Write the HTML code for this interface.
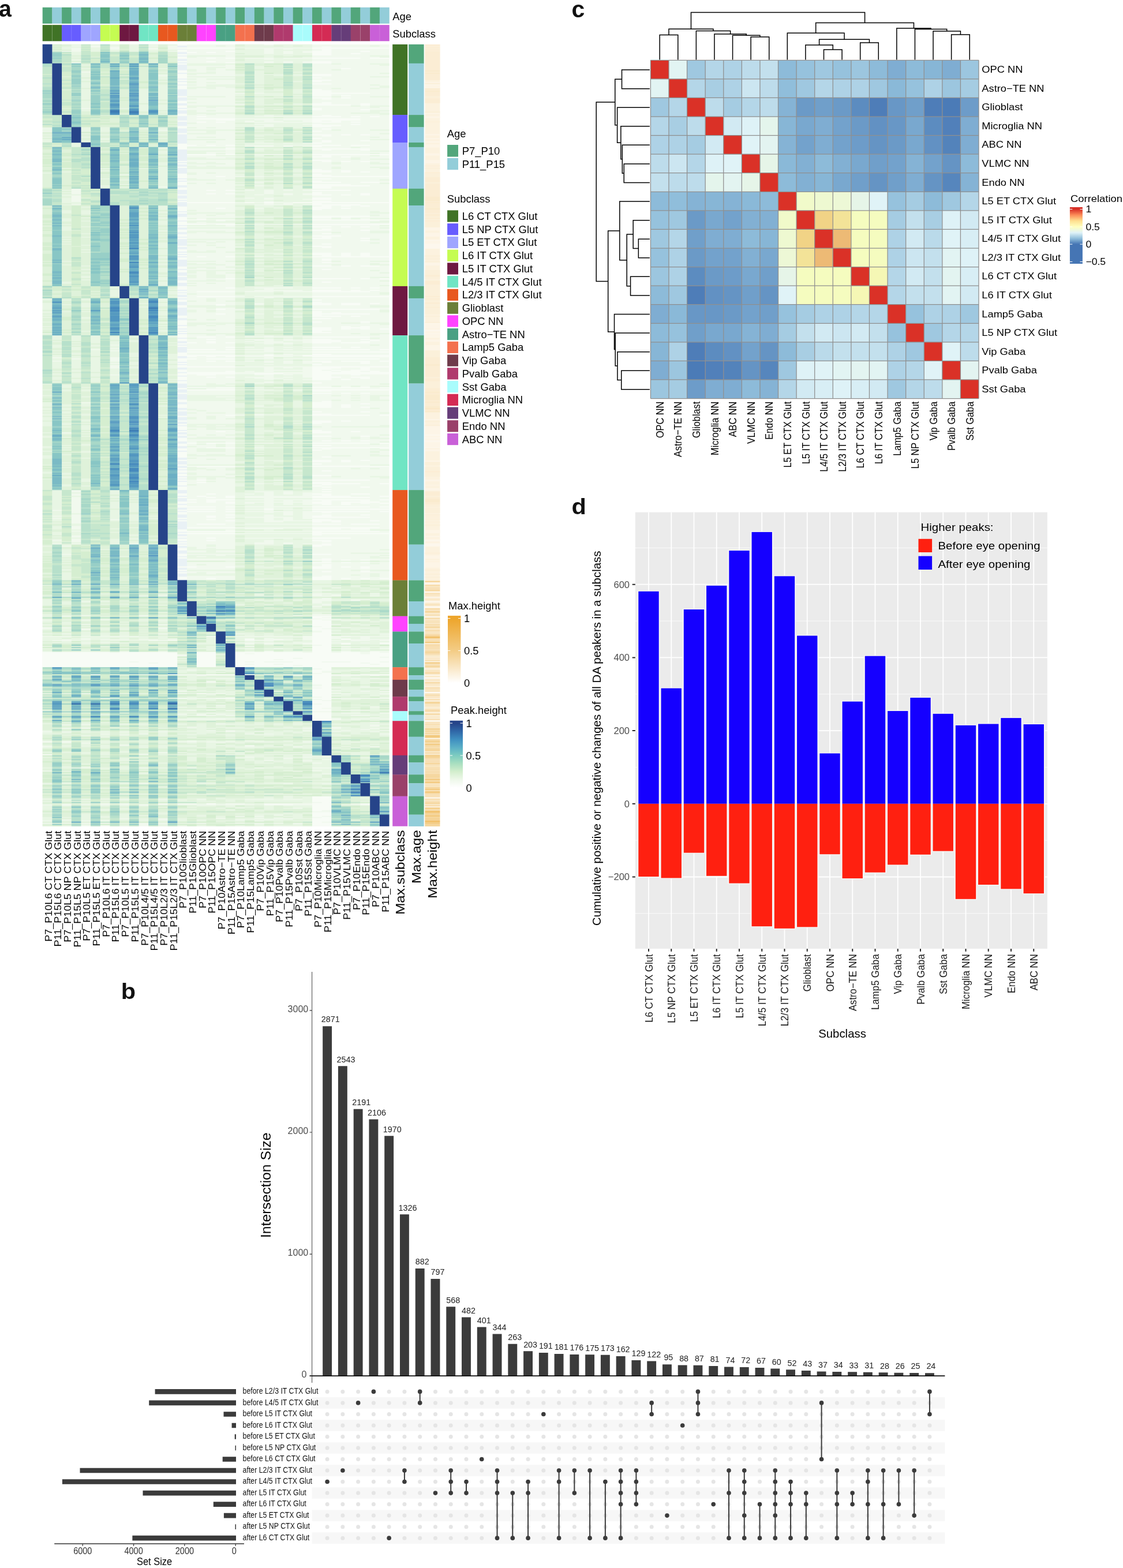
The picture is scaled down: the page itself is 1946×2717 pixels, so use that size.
<!DOCTYPE html>
<html lang="en"><head><meta charset="utf-8"><title>Figure</title>
<style>
html,body{margin:0;padding:0;background:#fff}
body{width:1946px;height:2717px;overflow:hidden}
svg{display:block}
text{font-family:"Liberation Sans",sans-serif}
</style></head><body>
<svg width="1946" height="2717" viewBox="0 0 1946 2717">
<rect width="1946" height="2717" fill="#fff"/>
<g id="pa">
<text transform="translate(-1.9 29.2) scale(0.96 1)" font-size="41" font-weight="bold" fill="#111">a</text>
<rect x="73.7" y="12.8" width="16.89" height="28.1" fill="#52a67b"/>
<rect x="73.7" y="43.2" width="16.89" height="28.1" fill="#407326"/>
<rect x="90.39" y="12.8" width="16.89" height="28.1" fill="#93cdd9"/>
<rect x="90.39" y="43.2" width="16.89" height="28.1" fill="#407326"/>
<rect x="107.08" y="12.8" width="16.89" height="28.1" fill="#52a67b"/>
<rect x="107.08" y="43.2" width="16.89" height="28.1" fill="#675dff"/>
<rect x="123.77" y="12.8" width="16.89" height="28.1" fill="#93cdd9"/>
<rect x="123.77" y="43.2" width="16.89" height="28.1" fill="#675dff"/>
<rect x="140.46" y="12.8" width="16.89" height="28.1" fill="#52a67b"/>
<rect x="140.46" y="43.2" width="16.89" height="28.1" fill="#9fa5ff"/>
<rect x="157.15" y="12.8" width="16.89" height="28.1" fill="#93cdd9"/>
<rect x="157.15" y="43.2" width="16.89" height="28.1" fill="#9fa5ff"/>
<rect x="173.84" y="12.8" width="16.89" height="28.1" fill="#52a67b"/>
<rect x="173.84" y="43.2" width="16.89" height="28.1" fill="#c5fc52"/>
<rect x="190.53" y="12.8" width="16.89" height="28.1" fill="#93cdd9"/>
<rect x="190.53" y="43.2" width="16.89" height="28.1" fill="#c5fc52"/>
<rect x="207.22" y="12.8" width="16.89" height="28.1" fill="#52a67b"/>
<rect x="207.22" y="43.2" width="16.89" height="28.1" fill="#6e1841"/>
<rect x="223.91" y="12.8" width="16.89" height="28.1" fill="#93cdd9"/>
<rect x="223.91" y="43.2" width="16.89" height="28.1" fill="#6e1841"/>
<rect x="240.6" y="12.8" width="16.89" height="28.1" fill="#52a67b"/>
<rect x="240.6" y="43.2" width="16.89" height="28.1" fill="#70e5c4"/>
<rect x="257.29" y="12.8" width="16.89" height="28.1" fill="#93cdd9"/>
<rect x="257.29" y="43.2" width="16.89" height="28.1" fill="#70e5c4"/>
<rect x="273.98" y="12.8" width="16.89" height="28.1" fill="#52a67b"/>
<rect x="273.98" y="43.2" width="16.89" height="28.1" fill="#e8581f"/>
<rect x="290.67" y="12.8" width="16.89" height="28.1" fill="#93cdd9"/>
<rect x="290.67" y="43.2" width="16.89" height="28.1" fill="#e8581f"/>
<rect x="307.36" y="12.8" width="16.89" height="28.1" fill="#52a67b"/>
<rect x="307.36" y="43.2" width="16.89" height="28.1" fill="#6b7f38"/>
<rect x="324.05" y="12.8" width="16.89" height="28.1" fill="#93cdd9"/>
<rect x="324.05" y="43.2" width="16.89" height="28.1" fill="#6b7f38"/>
<rect x="340.74" y="12.8" width="16.89" height="28.1" fill="#52a67b"/>
<rect x="340.74" y="43.2" width="16.89" height="28.1" fill="#ff43ff"/>
<rect x="357.43" y="12.8" width="16.89" height="28.1" fill="#93cdd9"/>
<rect x="357.43" y="43.2" width="16.89" height="28.1" fill="#ff43ff"/>
<rect x="374.12" y="12.8" width="16.89" height="28.1" fill="#52a67b"/>
<rect x="374.12" y="43.2" width="16.89" height="28.1" fill="#49a083"/>
<rect x="390.81" y="12.8" width="16.89" height="28.1" fill="#93cdd9"/>
<rect x="390.81" y="43.2" width="16.89" height="28.1" fill="#49a083"/>
<rect x="407.5" y="12.8" width="16.89" height="28.1" fill="#52a67b"/>
<rect x="407.5" y="43.2" width="16.89" height="28.1" fill="#f3714e"/>
<rect x="424.19" y="12.8" width="16.89" height="28.1" fill="#93cdd9"/>
<rect x="424.19" y="43.2" width="16.89" height="28.1" fill="#f3714e"/>
<rect x="440.88" y="12.8" width="16.89" height="28.1" fill="#52a67b"/>
<rect x="440.88" y="43.2" width="16.89" height="28.1" fill="#6e3b4b"/>
<rect x="457.57" y="12.8" width="16.89" height="28.1" fill="#93cdd9"/>
<rect x="457.57" y="43.2" width="16.89" height="28.1" fill="#6e3b4b"/>
<rect x="474.26" y="12.8" width="16.89" height="28.1" fill="#52a67b"/>
<rect x="474.26" y="43.2" width="16.89" height="28.1" fill="#b03a6d"/>
<rect x="490.95" y="12.8" width="16.89" height="28.1" fill="#93cdd9"/>
<rect x="490.95" y="43.2" width="16.89" height="28.1" fill="#b03a6d"/>
<rect x="507.64" y="12.8" width="16.89" height="28.1" fill="#52a67b"/>
<rect x="507.64" y="43.2" width="16.89" height="28.1" fill="#a9fcfc"/>
<rect x="524.33" y="12.8" width="16.89" height="28.1" fill="#93cdd9"/>
<rect x="524.33" y="43.2" width="16.89" height="28.1" fill="#a9fcfc"/>
<rect x="541.02" y="12.8" width="16.89" height="28.1" fill="#52a67b"/>
<rect x="541.02" y="43.2" width="16.89" height="28.1" fill="#d42b54"/>
<rect x="557.71" y="12.8" width="16.89" height="28.1" fill="#93cdd9"/>
<rect x="557.71" y="43.2" width="16.89" height="28.1" fill="#d42b54"/>
<rect x="574.4" y="12.8" width="16.89" height="28.1" fill="#52a67b"/>
<rect x="574.4" y="43.2" width="16.89" height="28.1" fill="#663d79"/>
<rect x="591.09" y="12.8" width="16.89" height="28.1" fill="#93cdd9"/>
<rect x="591.09" y="43.2" width="16.89" height="28.1" fill="#663d79"/>
<rect x="607.78" y="12.8" width="16.89" height="28.1" fill="#52a67b"/>
<rect x="607.78" y="43.2" width="16.89" height="28.1" fill="#9a416a"/>
<rect x="624.47" y="12.8" width="16.89" height="28.1" fill="#93cdd9"/>
<rect x="624.47" y="43.2" width="16.89" height="28.1" fill="#9a416a"/>
<rect x="641.16" y="12.8" width="16.89" height="28.1" fill="#52a67b"/>
<rect x="641.16" y="43.2" width="16.89" height="28.1" fill="#c960d8"/>
<rect x="657.85" y="12.8" width="16.89" height="28.1" fill="#93cdd9"/>
<rect x="657.85" y="43.2" width="16.89" height="28.1" fill="#c960d8"/>
<path d="M90.39 43.2v28.1M123.77 43.2v28.1M157.15 43.2v28.1M190.53 43.2v28.1M223.91 43.2v28.1M257.29 43.2v28.1M290.67 43.2v28.1M324.05 43.2v28.1M357.43 43.2v28.1M390.81 43.2v28.1M424.19 43.2v28.1M457.57 43.2v28.1M490.95 43.2v28.1M524.33 43.2v28.1M557.71 43.2v28.1M591.09 43.2v28.1M624.47 43.2v28.1M657.85 43.2v28.1" stroke="#fff" stroke-width="0.7" opacity="0.22" fill="none"/>
<text transform="translate(680.3 34.8) scale(0.97 1)" font-size="19">Age</text>
<text transform="translate(680.3 65) scale(0.97 1)" font-size="19">Subclass</text>
<rect x="73.7" y="76.9" width="600.84" height="1354.8" fill="#f1f9ee"/>
<g transform="translate(73.7 0) scale(16.69 1)" fill="none" stroke-width="2.3">
<path stroke="#e9f1f5" d="M14 79.7h1m-1 1.9h1m-1 3.8h1m-1 5.6h1m-1 2h1m-1 4h1m-1 5.9h1m-1 2h1m-1 3.9h1m-1 4h1m-1 2.1h1m-1 2h1m-1 2h1m-1 2.1h1m-1 6.1h1m-1 10.1h1m-1 4.1h1m-1 6h1m-1 8.2h1m-1 2h1m-1 2h1m-1 2.1h1m-1 2h1m-1 2h1m-1 4.1h1m-1 2h1m-1 2h1m-1 6.1h1m-1 2h1m-1 6.1h1m-1 4.1h1m-1 2h1m-1 2.1h1m-1 5.9h1m-1 1.9h1m-1 2h1m-1 1.9h1m-1 3.9h1m-1 1.9h1m-1 2h1m-1 1.9h1m-1 6h1m-1 2h1m-1 2.1h1m-1 2h1m-1 4.1h1m-1 2h1m-1 2.1h1m-1 2h1m-1 2.1h1m-1 2h1m-1 2.1h1m-1 2h1m-1 11.9h1m-1 2h1m-1 2h1m-1 2h1m-1 2h1m-1 2h1m-1 2h1m-1 2h1m-1 2h1m-1 2h1m-1 4h1m-1 4h1m-1 2h1m-1 4h1m-1 2h1m-1 2h1m-1 2h1m-1 2h1m-1 10h1m-1 4h1m-1 8h1m-1 2h1m-1 5.9h1m-1 2h1m-1 1.9h1m-1 1.9h1m-1 3.9h1m-1 1.9h1m-1 2h1m-1 3.9h1m-1 3.8h1m-1 2h1m-1 1.9h1m-1 2h1m-1 10h1m-1 4h1m-1 2h1m-1 2h1m-1 8h1m-1 8h1m-1 4h1m-1 2h1m-1 6h1m-1 2h1m-1 6h1m-1 4h1m-1 2h1m-1 2h1m-1 2h1m-1 2h1m-1 2h1m-1 3.9h1m-1 2h1m-1 6h1m-1 4h1m-1 4h1m-1 6h1m-1 2h1m-1 2h1m-1 2h1m-1 2h1m-1 2h1m-1 6h1m-1 6h1m-1 2h1m-1 2h1m-1 4h1m-1 2h1m-1 2h1m-1 6h1m-1 2h1m-1 2h1m-1 8.3h1m-1 4.2h1m-1 4.2h1m-1 2.2h1m-1 4.1h1m-1 6h1m-1 2h1m-1 2h1m-1 6.1h1m-1 2h1m-1 2h1m-1 2h1m-1 2h1m-1 2h1m-1 2h1m-1 6h1m-1 2h1m-1 10h1m-1 6.1h1m-1 4h1m-1 4h1m-1 8h1m-1 5.9h1m-1 2h1m-1 4h1m-1 4h1m-1 1.9h1m-1 2h1m-1 2h1m-1 2h1m-1 7.9h1m-1 2h1m-1 8h1m-1 3.9h1m-1 6h1m-1 2h1m-1 5.9h1m-1 6h1m-1 7.9h1m-1 6h1m-1 2h1m-1 2h1m-1 2h1m-1 4h1m-1 2h1m-1 2h1m-1 4.1h1m-1 2h1m-1 2h1m-1 2h1m-1 2h1m-1 6h1m-1 2h1m-1 8h1m-1 2h1m-1 4.1h1m-1 2h1m-1 2h1m-1 2h1m-1 4h1m-1 2h1m-1 2h1m-1 4h1m-1 2h1m-1 4h1m-1 8.1h1m-1 4h1m-1 2h1m-1 4h1m-1 2h1m-1 8h1m-1 2h1m-1 6.1h1m-1 2h1m-1 6h1m-1 12h1m-1 2h1m-1 4h1m-1 2h1m-1 2.1h1m-1 4h1m-1 2h1m-1 4h1m-1 6h1m-1 6h1m-1 4h1m-1 4.1h1m-1 8h1m-1 8h1m-1 2h1m-1 2h1m-1 6.1h1m-1 4h1m-1 2h1m-1 2h1m-1 6h1m-1 6.1h1m-1 2h1m-1 4h1m-1 6h1m-1 2h1m-1 2.1h1m-1 4h1m-1 4h1m-1 2h1m-1 2h1m-1 2h1m-1 2h1m-1 2h1m-1 2.1h1m-1 6h1m-1 4h1m-1 2h1m-1 4h1m-1 6.1h1m-1 4h1m-1 4h1m-1 2h1m-1 6h1m-1 2h1m-1 2h1m-1 6h1m-1 4h1m-1 2h1m-1 2h1m-1 1.9h1m-1 2h1m-1 2h1m-1 2h1m-1 4h1m-1 2h1m-1 4h1m-1 4h1m-1 2h1m-1 2h1m-1 6h1"/>
<path stroke="#f8fcf6" d="M14 77.8h1m14 3.8h1m-16 1.9h6m8 0h8m-7 1.9h1m-16 1.8h1m14 0h1m-16 1.9h1m4 0h1m8 0h2m3 0h1m-19 1.9h1m1 0h1m10 0h2m-2 2h2m2 0h1m-19 2h1m13 0h2m-16 3.9h1m-1 2h1m2 0h1m1 0h1m8 0h5m1 0h2m-22 5.9h1m2 0h1m10 0h2m-11 2h1m8 0h2m-16 2h1m16 8.1h1m-18 4.1h1m-1 2h1m-1 4.1h1m13 0h2m-16 2h1m13 0h2m-16 2h1m-1 2.1h1m13 0h1m-15 4h1m13 0h2m-2 2.1h1m-15 2h1m-1 2h1m13 0h2m-16 4.1h1m-1 2h1m-1 2h1m13 2.1h1m-1 2h2m-2 2h2m-2 2.1h6m-6 2h2m-2 2h2m1 0h1m-18 2h1m13 2.1h2m1 0h1m-3 2h1m-16 4.1h1m-1 2h1m14 0h1m-2 2h2m3 0h1m-6 2h4m1 0h1m-20 2.1h1m-1 2h1m13 2h1m-15 2.1h1m13 0h1m4 0h1m-20 8.1h1m-1 2h1m14 0h1m-14 1.9h1m11 0h3m1 0h1m1 0h1m-19 3.9h4m8 0h5m-15 1.9h2m8 0h5m-19 2h1m13 0h1m1 0h1m-15 1.9h1m1 0h1m9 0h3m1 0h1m-5 3.9h1m3 0h1m-5 1.9h3m-17 1.9h1m13 0h2m-16 2h1m14 2.1h1m-2 4.1h1m-15 4.1h1m13 2h2m1 0h1m1 0h1m-5 2h1m-2 4.1h1m0 4.1h1m3 0h1m-5 2.1h1m-2 2h1m-15 2h1m-1 1.9h2m1 0h1m1 0h1m8 0h3m1 0h2m-20 2h1m13 0h1m-15 2h1m-1 2h1m4 0h1m8 0h6m-5 2h1m3 0h1m-19 8h3m1 0h1m8 0h8m-7 2h1m-2 2h2m1 0h1m-4 6h2m-16 2h1m14 0h1m1 0h1m1 0h1m-20 4h1m-1 6h1m13 4h1m-1 2h2m1 0h1m-4 2h2m1 0h1m1 0h1m-20 4h1m13 0h1m-15 2h1m13 0h2m-16 2h1m3 0h1m9 0h8m-22 2h1m13 2h2m-16 2h1m13 2h1m-15 2h1m13 0h3m2 0h2m-21 2h1m-1 2h1m13 0h4m-4 2h6m-6 2h2m-16 2h1m13 0h2m-16 2h1m2 1.9h1m1 0h1m8 0h4m-4 3.9h1m-12 1.9h1m1 0h1m8 0h1m4 0h1m-20 2h1m13 0h2m1 0h1m1 0h1m-6 5.8h2m-16 1.9h1m13 0h2m-16 3.9h1m13 0h2m-15 1.9h5m1 0h1m1 0h1m2 0h10m-8 2h1m-1 1.9h5m-4 2h1m1 0h1m1 0h1m-20 2h1m13 0h2m-16 2h1m3 0h1m9 0h2m1 0h1m-18 2h1m13 0h1m-15 2h1m-1 4h1m13 6h6m-20 2h1m13 0h2m1 0h1m-18 2h1m-1 2h3m1 0h2m8 0h8m-22 4h1m-1 2h1m-1 2h3m1 0h2m8 0h8m-22 4h1m13 0h2m1 0h1m1 0h1m-5 4h1m-16 2h1m13 0h2m3 0h1m-20 2h1m14 4h1m-16 2h1m-1 2h1m13 0h3m-2 2h1m-16 2h1m13 0h2m3 0h1m-1 4h1m-5 6h1m-16 3.9h1m13 0h2m-1 2h1m-16 4h1m-1 2h1m-1 4h1m13 0h2m1 0h1m1 0h1m-6 2h2m1 0h1m1 0h1m-20 2h1m14 0h1m1 0h1m1 0h1m-18 2h1m2 0h1m8 0h8m-22 2h1m-1 2h1m14 0h1m-1 2h1m-1 4h1m-2 6h2m1 0h1m1 0h2m-21 2h1m-1 2h1m14 2h1m-16 2h1m-1 2h1m-1 8h1m4 4h1m8 0h4m1 0h1m1 0h1m-22 4h1m-1 2h1m14 0h1m-16 8h1m-1 2.1h1m4 0h1m8 0h3m1 0h1m1 0h1m-21 2.1h1m13 2.1h3m1 0h1m1 0h1m-21 2.1h1m1 0h4m8 0h6m-20 4.2h1m1 4.3h4m8 0h8m-22 2.1h1m-1 4h1m13 0h1m-15 2h1m13 2h1m-1 2h2m1 0h2m1 0h1m-17 2h1m9 0h2m1 0h2m-19 2h1m-1 2h1m3 4.1h1m9 0h7m-7 4h1m-1 2h1m1 0h1m-13 2h1m9 0h6m-6 2h1m-15 2h1m13 0h3m1 0h1m-19 2h1m13 2h2m-16 4h1m-1 2h1m13 0h1m4 0h1m-20 2h1m-1 2h1m-1 4.1h1m16 0h1m1 0h1m-20 2h1m13 0h2m1 0h3m-6 2h2m1 0h1m1 0h1m1 0h1m-22 2h1m13 0h2m-2 2h1m-15 2h1m13 0h2m-16 4h1m-1 2h1m-1 2h1m1 0h2m1 0h1m8 0h6m-20 4h1m2 0h1m10 0h2m3 0h1m-20 1.9h1m13 0h3m3 0h1m-18 2h1m10 0h3m2 0h1m-19 2h1m1 0h1m1 0h1m8 0h2m1 0h3m-20 2h1m-1 4h1m4 2h1m8 0h3m1 0h1m-18 3.9h3m1 0h1m8 0h6m1 0h1m-21 4h5m8 0h8m-22 2h1m-1 2h1m13 0h2m-16 2h6m3 0h1m3 0h9m-21 1.9h1m1 0h1m1 0h1m8 0h8m-22 4h2m1 0h3m8 0h7m-21 2h1m-1 2h1m2 0h1m1 0h1m8 0h2m1 0h3m1 0h1m-7 2h1m3 0h1m-20 2h1m18 0h1m-6 1.9h1m-15 2h1m-1 2h6m8 0h8m-8 2h3m2 0h1m-6 2h2m3 0h1m-20 2h1m13 0h1m1 0h1m1 0h2m-20 1.9h1m4 0h1m8 0h2m1 0h2m1 0h1m-20 2h5m8 0h8m-22 2h6m2 0h3m3 0h8m-22 2h1m1 0h2m10 0h2m2 0h1m-5 2h2m-16 2h1m2 0h1m1 0h1m8 0h3m1 0h2m-20 2h1m13 0h2m3 0h1m-20 1.9h1m13 0h2m1 0h1m-18 4h1m-1 2h1m13 0h1m-14 8h2m1 0h2m8 0h6m1 0h1m-22 2h1m0 2h5m8 0h8m-8 2h2m-16 4.1h1m13 0h2m1 0h1m1 0h1m-20 12h1m-1 2h1m14 0h1m-2 2h2m-2 2h2m3 0h1m-20 2h1m13 0h2m1 0h1m-18 2h1m13 0h2m1 0h1m-18 2h1m13 0h2m1 0h1m1 0h1m-20 6.1h1m13 2h1m4 0h1m-6 4h2m-11 2h1m8 0h6m1 0h1m-22 2h1m-1 8h1m13 0h2m1 0h1m-4 2h2m-2 2h1m-15 2h1m-1 4h1m-1 2.1h1m-1 2h1m13 2h1m-15 2h1m3 0h1m9 0h2m2 0h1m-5 2h2m-16 4h1m13 2h2m3 0h1m-20 4h1m-1 2h1m-1 2h1m14 0h1m1 0h1m1 0h1m-19 4h1m1 0h3m8 0h6m1 0h1m-22 2h1m-1 2h1m13 0h2m-13 4.1h3m8 0h8m-22 2h1m14 0h1m-16 2h1m13 0h1m-15 4h1m-1 2h1m-1 2h1m-1 2h1m-1 2h1m14 0h1m-16 6h1m13 0h2m1 0h1m1 0h1m-6 2h2m1 0h1m-4 4.1h1m-15 2h1m0 2h5m8 0h8m-22 4h1m-1 4h1m14 0h1m-16 2h1m-1 4h1m-1 2h1m13 0h2m-16 4h1m-1 4h1m1 0h1m11 0h6m-20 4.1h1m1 0h1m11 0h2m-16 2h1m13 0h5m2 0h1m-22 2h1m14 0h1m-2 2h1m-15 2h1m14 0h1m3 0h1m-20 2h1m-1 2h1m14 0h1m-1 4h1m-16 4h1m2 0h1m10 0h2m2 0h2m-20 2h1m14 0h1m-14 2.1h1m2 0h1m8 0h4m3 0h1m-22 2h1m2 0h1m1 0h1m8 0h6m-19 4h1m1 0h3m8 0h6m1 0h1m-19 2h1m11 0h1m3 0h1m-20 2h2m1 0h1m1 0h1m8 0h2m1 0h4m-21 2h1m4 0h1m8 0h2m1 0h1m1 0h1m1 0h1m-7 2h1m1 0h1m-18 2h1m-1 2.1h4m1 0h1m8 0h6m1 0h1m-21 4h3m1 0h1m3 0h1m4 0h8m-22 2h1m0 2h3m1 0h1m8 0h6m1 0h1m-22 2h1m14 0h1m-16 2h1m4 2h1m9 0h1m3 0h1m-17 2h1m10 0h2m-13 2.1h1m1 0h1m8 0h6m-20 2h1m2 2h1m10 0h2m-16 2h1m4 0h1m8 0h3m3 0h1m-7 2h1m1 0h1m-15 4h3m9 0h3m1 0h3m-20 6h5m8 0h7m-7 2.1h3m1 0h2m-20 2h1m-1 2h6m8 0h7m-7 2h1m-15 2h6m8 0h8m-8 2h1m-15 4h1m2 2h1m10 0h4m-18 2.1h1m-1 2h1m2 0h1m10 0h2m-1 2h1m-16 2h1m14 2h1m-16 2h1m13 0h2m-2 2h1m-15 4h1m-1 2h1m-1 8h1m13 0h2m-16 2h1m-1 4h1m14 2h1m-2 2h2m1 0h1m1 0h1m-6 3.9h2m1 0h1m1 0h1m-5 4h1m-1 2h1m-16 2h2m3 0h1m8 0h2m1 0h1m1 0h1m-6 2h2m3 0h1m-20 4h1m14 2h1m3 0h1m-20 2h1m14 6h1m-16 2h1m13 0h2m-16 2h1m2 0h1m10 0h2m1 0h1m1 0h1m1 0h1m-8 2h2m-2 64.1h2m-2 1.9h1m0 1.9h1m-2 1.9h1m-1 1.9h2m-2 1.9h2m-2 1.9h2m-2 1.9h2m-2 1.9h2m-1 1.9h1m-2 2h2m-2 1.9h1m-1 1.9h2m-1 1.9h1m-1 1.9h1m-2 1.8h2m-2 1.8h2m-2 1.8h2m-13 1.9h1m10 0h2m1 0h1m-4 1.9h2m-2 1.9h2m-9 1.9h1m2 0h1m3 0h2m1 0h1m-4 1.9h2m-2 1.9h2m-2 1.9h2m5 0h1m-8 2h2m1 0h1m-3 2.1h1m-2 2.1h2m-2 2h2m-2 2.1h2m-2 2h2m-2 2.1h2m-30 2.1h7m1 0h5m3 0h2m2 0h7m1 0h2m1 0h2m1 0h1m-35 2h14m2 0h2m2 0h1m1 0h11m1 0h2m-36 2.1h14m2 0h2m2 0h16m-36 2h14m2 0h2m2 0h16m-36 2.1h14m2 0h2m2 0h15m-35 2.1h14m2 0h2m2 0h6m1 0h9m-36 2h14m2 0h2m2 0h4m1 0h11m-36 2.1h14m2 0h2m2 0h16m-36 2h9m1 0h4m2 0h2m2 0h1m1 0h1m3 0h3m3 0h3m-35 2.1h11m1 0h2m2 0h2m2 0h13m1 0h2m-36 2h14m2 0h2m2 0h1m1 0h2m1 0h9m1 0h1m-36 2.1h14m2 0h2m2 0h6m1 0h9m-36 2.1h14m2 0h2m2 0h16m-8 2h2m-1 2h1m-2 2h2m-2 2h1m-1 1.9h1m0 2h1m-13 2h3m8 0h2m3 0h3m-8 2h2m-2 1.9h2m-2 2h2m-2 1.9h2m-2 2h2m-2 1.9h2m-2 1.9h2m-2 1.9h2m-1 2h1m-1 1.9h1m-2 1.9h2m-1 1.9h1m-2 1.9h2m-2 2h2m-2 2h2m-2 2h2m-14 2h1m11 0h2m-2 2h2m-2 2h2m-1 2h1m-16 2h1m3 0h2m8 0h2m-1 1.9h1m-2 2h1m-1 1.9h2m-2 1.9h2m-1 1.9h1m-2 2h2m-2 1.9h2m-2 1.8h2m-2 2h1m-1 1.8h2m-2 1.9h2m-2 4.3h2m-2 2.1h2m-2 2.2h2m-2 2.1h2m-2 2.1h2m-12 2h1m9 0h3m-3 2.2h2m-30 37.5h1m1 0h1m-3 22.1h1m27 72.9h2m-2 2h2m-2 2h2m-2 2h2m-2 2h2m-1 2h1m-13 2h1m10 0h2m-28 2h1m7 0h1m12 0h3m2 0h2m3 0h1m-6 1.9h2m-2 2h2m-2 2h2m-2 2h2m-2 2h1m-1 4h2m-2 2h2m-2 2h2m-2 2h1m0 2h1m-2 2h2m-2 2h2m-2 2.1h2m-2 2h1m-1 2h2m-2 2h2m-2 2h2"/>
<path stroke="#e8f6e4" d="M3 77.8h1m1 0h1m1 0h1m1 0h1m1 0h1m1 0h1m7 0h2m1 0h4m-21 1.9h1m1 0h1m8 0h1m2 0h3m1 0h1m1 0h1m6 0h1m-33 1.9h2m5 0h1m1 0h1m8 0h8m-26 1.9h1m2 0h1m3 0h1m10 0h1m-19 1.9h1m2 0h1m3 0h1m11 0h2m1 0h1m1 0h2m-23 1.8h1m1 0h1m1 0h1m1 0h1m1 0h1m6 0h3m1 0h4m-23 1.9h1m1 0h1m1 0h1m1 0h1m8 0h3m1 0h1m1 0h1m-24 1.9h1m16 0h3m1 0h1m1 0h1m-24 2h1m17 0h2m1 0h1m1 0h2m-25 2h1m16 0h8m-13 2h4m4 0h1m1 0h1m8 0h2m-33 1.9h1m11 0h1m7 0h1m3 0h1m7 0h1m-16 2h1m3 0h1m-22 2h1m17 0h2m1 0h4m-25 2h1m17 0h7m-8 1.9h3m1 0h1m1 0h1m-7 2h3m1 0h1m1 0h1m-12 2h5m10 0h1m3 0h2m-32 2h1m10 0h4m16 0h1m-14 2.1h1m-6 2h2m3 0h1m-19 2h1m7 0h1m4 0h1m4 0h1m-8 2.1h1m1 0h1m1 0h1m10 0h1m-27 2h1m10 0h1m6 0h1m-11 2h1m4 0h1m4 0h1m3 0h1m-23 2.1h1m10 0h3m4 0h1m12 0h1m-32 2h1m7 0h1m2 0h1m4 0h1m1 0h3m1 0h1m-23 2h1m15 0h1m1 0h1m1 0h1m1 0h1m-23 2h1m7 0h1m2 0h5m2 0h1m11 0h2m-24 2.1h1m9 0h1m-19 2h1m7 0h1m2 0h1m1 0h3m2 0h1m-19 2h1m17 0h1m-11 2.1h1m2 0h1m6 0h1m3 0h1m-23 2h1m10 0h1m1 0h1m4 0h1m-19 2h1m15 0h1m1 0h1m-19 2h1m7 0h1m2 0h1m1 0h3m14 0h1m-31 2.1h1m7 0h1m4 0h3m2 0h1m12 0h1m-32 2h1m7 0h1m2 0h3m1 0h1m15 0h1m-24 2h1m2 0h1m1 0h1m4 0h1m7 0h1m3 0h1m-31 2.1h1m5 0h1m1 0h1m7 0h1m1 0h1m1 0h1m1 0h1m-23 2h1m5 0h1m1 0h1m7 0h1m1 0h3m1 0h1m-23 2h1m5 0h1m1 0h1m9 0h1m3 0h1m-23 2.1h1m5 0h1m1 0h1m10 0h2m1 0h1m-23 2h1m5 0h1m1 0h1m7 0h1m1 0h3m-21 2h1m5 0h1m1 0h1m7 0h1m1 0h3m1 0h1m-23 2h1m5 0h1m1 0h1m2 0h4m11 0h1m3 0h2m-32 2.1h1m5 0h1m1 0h1m7 0h1m1 0h3m1 0h1m-23 2h1m5 0h1m1 0h1m2 0h1m6 0h1m-13 2h1m11 0h1m-19 2.1h1m5 0h1m1 0h1m7 0h1m1 0h1m-19 2h1m5 0h1m1 0h1m2 0h1m6 0h1m-19 2h1m15 0h1m1 0h1m1 0h1m1 0h1m-23 2h1m5 0h1m1 0h1m9 0h3m1 0h1m-23 2.1h1m5 0h1m1 0h1m2 0h5m12 0h1m1 0h2m-32 2h1m5 0h1m1 0h1m2 0h1m1 0h1m16 0h1m-27 2h1m1 0h1m1 0h1m7 0h1m1 0h1m-19 2.1h1m5 0h1m1 0h1m9 0h1m1 0h1m-21 2h1m5 0h1m4 0h1m1 0h1m16 0h2m-24 2h1m2 0h1m6 0h1m11 0h1m-20 2.1h5m12 0h4m-26 2h1m1 0h1m2 0h1m1 0h1m17 0h1m-16 2h3m1 0h4m-8 1.9h2m-2 1.9h4m1 0h3m-8 3.9h2m2 0h1m-5 2h1m1 0h1m2 0h2m-7 1.9h1m-6 1.9h1m6 0h6m-8 2h2m2 0h3m-7 1.9h3m1 0h4m-8 1.9h2m2 0h4m-28 2h1m3 0h1m1 0h1m5 0h1m2 0h1m1 0h1m4 0h1m3 0h1m-23 2.1h1m1 0h1m3 0h1m1 0h1m7 0h1m1 0h1m1 0h1m-25 2h1m3 0h1m1 0h1m8 0h5m10 0h1m3 0h2m-32 2.1h1m1 0h1m5 0h1m4 0h1m2 0h1m1 0h1m3 0h1m-10 2h1m-14 2.1h1m10 0h3m17 0h1m-36 2h1m5 0h1m5 0h1m7 0h1m1 0h3m-3 2h1m-23 2.1h1m3 0h1m11 0h2m16 0h1m-29 2h1m5 0h1m9 0h1m-23 2.1h1m5 0h1m8 0h4m15 0h2m-36 2h1m3 0h1m15 0h1m1 0h2m-24 2.1h1m3 0h1m1 0h1m10 0h1m4 0h1m-20 2h1m16 0h2m2 0h1m1 0h1m-24 2h1m17 0h7m-25 1.9h1m16 0h1m3 0h1m-22 2h1m17 0h1m2 0h1m2 0h1m-16 2h1m2 0h4m13 0h1m-21 2h1m7 0h1m2 0h2m1 0h1m-5 2h1m1 0h1m-13 2h1m2 0h4m3 0h1m11 0h2m-24 2h1m2 0h2m-5 2h1m2 0h2m1 0h1m15 0h1m-15 2h1m5 0h1m-9 2h2m2 0h1m11 0h1m-23 2h1m7 0h1m1 0h3m1 0h1m-12 2h2m2 0h1m12 0h1m-18 2h5m12 0h1m1 0h2m-14 2h1m1 0h1m-3 2h1m-11 2h1m2 0h1m1 0h1m12 0h1m3 0h1m-23 2h1m2 0h4m11 0h1m3 0h2m-24 2h1m9 0h1m-8 2h1m1 0h1m-6 2h1m2 0h5m10 0h1m3 0h2m-34 2h1m3 0h1m3 0h1m1 0h1m2 0h5m10 0h1m4 0h1m-24 2h1m9 0h1m3 0h1m-21 2h1m5 0h1m7 0h1m1 0h1m1 0h1m1 0h1m-25 2h1m9 0h1m7 0h1m1 0h3m1 0h1m-27 2h1m11 0h1m2 0h1m1 0h1m4 0h1m-15 2h1m3 0h1m2 0h1m4 0h1m1 0h1m3 0h1m-19 2h1m3 0h1m7 0h1m1 0h1m1 0h1m1 0h1m-15 2h1m10 0h2m1 0h1m-15 2h1m9 0h1m-17 2h1m5 0h1m2 0h1m6 0h1m-15 2h1m3 0h1m2 0h3m1 0h1m15 0h1m-24 2h1m9 0h3m1 0h1m-15 2h1m7 0h1m3 0h1m1 0h1m-15 2h1m2 0h1m1 0h1m4 0h1m12 0h1m-28 2h1m3 0h1m7 0h1m1 0h1m1 0h1m-19 2h1m5 0h1m7 0h1m2 0h2m1 0h1m-21 2h1m1 0h1m13 0h1m1 0h1m1 0h1m-15 2h1m7 0h1m1 0h1m1 0h1m1 0h1m-6 2h7m-26 1.9h1m17 0h1m1 0h1m1 0h1m1 0h1m-7 2h3m1 0h4m-26 1.9h1m18 0h2m1 0h4m-8 1.9h3m1 0h1m1 0h1m-25 2h2m16 0h2m1 0h2m1 0h1m-25 1.9h1m18 0h3m1 0h3m-7 1.9h7m-26 2h1m17 0h1m1 0h1m1 0h4m-26 1.9h1m17 0h3m1 0h3m-25 2h1m18 0h3m1 0h3m-26 1.9h1m18 0h2m1 0h4m-26 1.9h2m-1 2h1m16 0h3m1 0h1m1 0h2m-26 1.9h1m17 0h2m4 0h1m-15 2h1m9 0h2m2 0h1m-23 2h1m7 0h1m7 0h1m1 0h3m-13 2h1m7 0h1m3 0h1m1 0h1m-15 2h1m7 0h1m1 0h1m-21 2h1m1 0h1m10 0h1m6 0h1m-21 2h1m1 0h1m7 0h1m9 0h1m11 0h1m-33 2h1m1 0h1m7 0h1m2 0h5m14 0h2m-32 2h1m10 0h1m2 0h1m3 0h1m-11 2h1m4 0h1m16 0h1m-15 2h1m1 0h3m1 0h1m-23 2h1m7 0h1m7 0h1m1 0h2m2 0h1m-25 2h1m9 0h1m2 0h1m1 0h3m10 0h1m1 0h1m1 0h2m-34 2h1m17 0h1m3 0h1m1 0h1m-25 2h1m1 0h1m7 0h1m2 0h3m1 0h1m15 0h1m-24 2h1m2 0h1m1 0h3m14 0h2m-24 2h1m9 0h1m-21 2h1m9 0h1m2 2h4m3 0h1m12 0h1m-34 2h1m1 0h1m15 0h1m1 0h3m1 0h1m-25 2h1m9 0h1m2 0h5m2 0h1m12 0h1m-34 2h1m19 0h1m-21 2h1m9 0h1m7 0h1m1 0h2m-12 2h1m2 0h4m15 0h2m-21 2h1m1 0h3m10 0h1m3 0h2m-32 2h1m7 0h1m9 0h1m-1 2h1m-11 2h1m7 0h1m1 0h3m1 0h1m-25 2h1m1 0h1m15 0h1m1 0h2m2 0h1m-7 2h1m1 0h1m1 0h1m-23 2h1m9 0h1m2 0h5m14 0h1m-13 2h1m-21 2h1m12 0h2m1 0h1m3 0h1m-11 2h1m4 0h1m16 0h1m-33 2h1m9 0h1m7 0h1m1 0h1m-19 2h1m7 0h1m2 0h1m1 0h1m4 0h1m3 0h1m-15 1.9h1m7 0h1m1 0h1m-11 2h1m5 0h1m1 0h1m1 0h1m-1 2h1m-19 2h1m7 0h1m11 0h1m-13 2h1m2 0h1m1 0h1m4 0h1m-19 2h1m7 0h1m2 0h3m1 0h1m-8 2h1m7 0h1m1 0h3m1 0h1m-15 2h1m9 0h1m1 0h1m-3 2h1m-11 2h1m7 0h1m2 0h2m1 0h1m-15 2h1m9 2h1m1 0h1m-13 2h1m9 0h1m-21 2h1m9 0h1m2 0h3m1 0h1m10 0h1m3 0h2m-14 2h1m3 0h1m-15 2h1m2 0h1m1 0h1m4 0h1m11 0h1m-33 2h1m9 0h1m2 0h4m11 0h1m3 0h2m-32 2h1m15 0h1m1 0h3m1 0h1m-12 2h3m1 0h1m-8 2h1m2 0h1m1 0h1m4 0h1m-19 2h1m7 0h1m7 0h1m1 0h1m1 0h1m1 0h1m-15 2h1m2 0h5m2 0h1m11 0h1m-23 2h1m2 0h1m1 0h1m4 0h1m1 0h1m-21 2h1m10 0h1m1 0h1m1 0h1m15 0h1m-19 2h1m4 0h1m-11 2h1m2 0h1m1 0h2m-15 2h1m10 0h1m1 0h2m-15 2h1m7 0h1m2 0h1m1 0h2m3 0h1m11 0h2m-24 2h1m7 0h1m1 0h3m1 0h1m-23 2h1m7 0h1m4 0h1m-3 2h4m16 0h1m-34 2h1m9 0h1m9 0h1m-21 2h1m9 0h1m2 0h1m1 0h1m4 0h1m-11 2h1m9 0h1m-11 2h1m2 0h1m8 0h1m10 0h1m-15 2h7m-21 2.1h1m12 0h2m4 0h2m-15 2.1h1m6 0h3m1 0h4m-21 2.1h1m12 0h2m5 0h1m-21 2.1h1m5 0h1m6 0h1m3 0h1m-18 2.1h1m5 0h1m7 0h3m1 0h3m7 0h1m-29 2.1h1m5 0h1m1 0h1m5 0h3m1 0h3m7 0h1m-29 2.1h1m12 0h8m-21 2.2h1m5 0h1m7 0h1m-2 2.1h3m1 0h4m-28 2h1m3 0h1m7 0h1m4 0h1m4 0h1m-23 2h1m1 0h1m1 0h1m7 0h1m4 0h1m4 0h1m1 0h1m1 0h1m-15 2h1m2 0h1m1 0h1m1 0h1m2 0h1m-3 2h1m1 0h1m1 0h1m1 0h1m-27 2h1m3 0h1m5 0h1m1 0h1m7 0h1m3 0h1m1 0h1m-27 2h1m1 0h1m1 0h1m7 0h1m7 0h1m3 0h1m1 0h1m-27 2h1m3 0h1m7 0h1m2 0h3m1 0h1m14 0h2m-36 2h1m3 0h1m5 0h1m4 0h5m14 0h2m-36 2.1h1m16 0h1m4 0h1m3 0h1m-27 2h1m3 0h1m7 0h1m10 0h2m-10 2h1m1 0h1m2 0h1m1 0h1m12 0h1m-36 2h1m1 0h1m1 0h1m7 0h1m2 0h1m1 0h1m4 0h1m1 0h1m10 0h1m-36 2h1m11 0h1m7 0h1m1 0h1m1 0h1m1 0h1m-15 2h1m7 0h1m3 0h1m1 0h1m-27 2h1m11 0h1m7 0h1m1 0h1m-3 2h1m1 0h1m1 0h1m1 0h1m-27 2h1m3 0h1m7 0h1m7 0h1m1 0h1m1 0h1m1 0h1m-23 2h1m15 0h1m1 0h1m-8 2h1m1 0h1m4 2h1m-23 2h1m3 0h1m7 0h1m9 0h1m1 0h1m1 0h1m-15 2h1m2 0h5m11 0h2m1 0h2m-21 2h2m1 0h1m16 0h1m-24 2h1m2 0h1m1 0h1m4 0h1m-23 2.1h1m19 0h1m1 0h1m1 0h1m1 0h1m-15 2h1m9 0h1m-23 2h1m19 0h1m1 0h3m1 0h1m-15 2h1m4 0h1m4 0h1m1 0h1m-21 2h1m7 0h1m7 0h1m1 0h1m-1 2h1m-23 2h1m14 0h5m12 0h1m1 0h2m-19 2h1m1 0h1m2 0h1m11 0h1m-34 2h1m1 0h1m1 0h1m7 0h1m7 0h2m1 0h4m-27 2h1m1 0h1m1 0h1m1 0h1m1 0h1m3 0h1m6 0h1m5 0h1m-26 2h1m1 0h1m1 0h1m1 0h1m7 0h1m7 0h1m1 0h1m1 0h1m6 0h1m-34 2h1m1 0h1m1 0h1m1 0h1m12 0h1m3 0h1m1 0h1m-24 1.9h1m1 0h1m3 0h1m10 0h2m2 0h1m-24 2h1m3 0h1m1 0h1m1 0h1m10 0h1m1 0h1m2 0h2m-24 2h1m1 0h1m1 0h1m5 0h1m6 0h2m4 0h1m-20 2h1m13 0h2m1 0h1m1 0h2m-27 2h1m1 0h1m1 0h1m7 0h1m8 0h2m1 0h1m1 0h1m6 0h1m-34 2h1m3 0h1m1 0h1m13 0h7m-27 2h1m1 0h1m3 0h1m12 0h1m1 0h1m1 0h1m1 0h1m-24 1.9h1m1 0h1m15 0h2m1 0h4m-25 2h1m3 0h1m12 0h1m3 0h1m1 0h1m-26 2h1m3 0h1m15 0h2m1 0h4m-23 2h1m1 0h1m12 0h1m-20 2h1m1 0h1m1 0h1m1 0h1m1 0h1m11 0h3m1 0h3m-25 2h1m1 0h1m1 0h1m1 0h1m3 0h1m7 0h2m1 0h1m1 0h2m-27 2h1m3 0h1m1 0h1m1 0h1m3 0h1m-13 1.9h1m1 0h1m3 0h1m1 0h1m3 0h1m6 0h1m5 0h1m-24 2h1m1 0h1m7 0h1m7 0h2m2 0h3m-27 2h1m3 0h1m3 0h1m3 0h1m6 0h1m3 0h1m-24 2h1m1 0h1m1 0h1m15 0h1m1 0h3m1 0h1m-25 2h1m1 0h1m7 0h1m6 0h1m1 0h1m1 0h1m1 0h1m-26 2h1m1 0h1m1 0h1m1 0h1m1 0h1m3 0h1m6 0h3m1 0h1m1 0h1m-26 2h1m1 0h1m1 0h1m3 0h1m3 0h1m6 0h5m1 0h1m-26 1.9h1m1 0h1m1 0h1m1 0h1m1 0h1m10 0h3m1 0h4m-27 2h1m1 0h1m1 0h1m7 0h1m7 0h7m-27 2h1m1 0h1m1 0h1m3 0h1m3 0h1m-13 2h1m1 0h1m1 0h1m3 0h1m3 0h1m6 0h3m1 0h1m1 0h1m-22 2h1m1 0h1m12 0h3m1 0h3m-24 2h1m1 0h1m1 0h1m12 0h3m-22 1.9h1m1 0h1m1 0h1m1 0h1m12 0h1m1 0h1m1 0h3m-20 2h1m-7 2h1m1 0h1m1 0h1m1 0h1m-7 2h1m1 0h1m1 0h1m3 0h1m3 0h1m6 0h2m2 0h1m1 0h1m-24 2h1m1 0h1m1 0h1m12 0h3m1 0h3m-26 2h1m1 0h1m3 0h1m12 0h1m3 0h1m1 0h1m-26 2h1m3 0h1m1 0h1m12 0h2m3 0h3m-27 1.9h1m1 0h1m1 0h1m1 0h1m1 0h1m3 0h1m6 0h3m1 0h1m1 0h1m-24 2h1m1 0h1m1 0h1m13 0h3m1 0h3m-27 2h1m1 0h1m1 0h1m1 0h1m5 0h1m6 0h3m1 0h4m-8 2h2m2 0h3m-27 2h1m16 0h1m1 0h1m2 0h1m12 0h1m-34 2h1m14 0h2m-17 2h1m12 0h5m10 0h1m1 0h1m1 0h2m-34 2h1m1 0h1m15 0h1m2 0h1m2 0h1m-12 2h2m5 0h1m-23 2h1m1 0h1m1 0h1m15 0h2m2 0h1m-23 2h1m1 0h1m17 0h3m1 0h1m-5 2h1m-1 2.1h2m-2 2h1m-23 2h1m14 0h5m10 0h1m1 0h1m1 0h2m-32 2h1m10 0h3m4 0h1m11 0h1m-20 2h5m12 0h1m1 0h1m-20 2h4m3 0h1m11 0h1m-20 2h5m10 0h1m1 0h1m1 0h2m-14 2h2m2 0h1m-27 2h1m11 0h1m9 0h3m1 0h1m-27 2h1m3 0h1m15 0h1m1 0h3m1 0h1m-27 2h1m1 0h1m1 0h1m15 0h1m1 0h1m3 0h1m-27 2h1m1 0h1m1 0h1m7 0h1m7 0h1m3 0h1m1 0h1m-7 2h1m1 0h3m1 0h1m-27 2h1m1 0h1m31 0h1m-35 2h1m1 0h1m1 0h1m10 0h1m6 0h1m-7 2.1h1m5 0h1m-23 2h1m1 0h1m19 0h1m-21 2h1m12 0h1m1 0h2m16 0h1m-36 2h1m3 0h1m15 0h1m2 0h2m-25 2h1m1 0h1m1 0h1m7 0h1m10 0h2m1 0h1m-10 2h1m4 0h1m-23 2h1m1 0h1m9 0h1m2 0h1m1 0h1m4 0h1m-23 2h1m14 0h1m1 0h1m1 0h1m-20 2h1m1 0h1m1 0h1m15 0h1m1 0h1m-19 2h1m15 0h1m1 0h1m1 0h1m1 0h1m-27 2h1m19 0h1m1 0h1m1 0h1m-25 2h1m1 0h1m1 0h1m17 0h1m1 0h1m1 0h1m-27 2h1m1 0h1m12 0h5m2 0h1m-23 2h1m3 0h1m10 0h1m1 0h1m1 0h1m2 0h1m12 0h1m-34 2h1m1 0h1m10 0h5m8 0h1m1 0h6m-32 2.1h1m12 0h1m4 0h1m-19 2h1m10 0h1m1 0h3m2 0h1m-1 2h2m-20 2h1m15 0h1m1 0h3m-25 2h1m19 0h1m1 0h1m1 0h1m1 0h1m-25 2h1m1 0h1m17 0h1m3 0h1m-12 2h1m1 0h1m1 0h1m15 0h1m-36 2h1m3 0h1m15 0h1m1 0h1m1 0h1m-25 2h1m1 0h1m13 0h3m3 0h1m9 0h1m1 0h1m-20 2h5m10 0h1m1 0h1m1 0h2m-14 2h1m-3 2h1m1 0h2m2 0h1m-11 2h3m16 0h1m-16 2h1m3 0h3m-23 2h1m11 0h1m1 0h1m15 0h1m-33 2h1m1 0h1m13 0h1m3 0h1m-23 2.1h1m14 0h1m2 0h1m3 0h1m-23 2h1m1 0h1m17 0h1m2 0h2m1 0h1m-11 2h3m3 0h1m11 0h1m-33 2h1m13 0h3m3 0h1m12 0h1m-36 2h1m3 0h1m11 0h3m15 0h1m-31 2h1m17 0h1m11 0h1m-33 4h1m12 0h1m1 0h2m3 0h1m11 0h1m-35 2h1m14 0h5m10 0h2m2 0h2m-36 2h1m21 0h1m-23 2h1m3 0h1m10 0h1m6 0h1m-6 2h1m4 0h1m-1 2h3m1 0h1m-7 2h1m1 0h1m1 0h1m-23 2h1m17 0h1m1 0h1m-1 2.1h1m-23 2h1m1 0h1m12 0h5m14 0h2m-13 2h2m1 0h1m-25 2h1m12 0h1m6 0h1m-8 2h2m2 0h1m12 0h1m1 0h1m-20 2h1m1 0h1m1 0h1m2 0h1m-1 2h1m3 0h1m-27 2h1m21 0h1m-23 2h1m1 0h1m12 0h1m6 0h1m-21 2h1m12 0h1m3 0h1m2 0h1m-3 2h1m1 0h1m3 0h1m-25 2h1m12 0h4m11 0h1m3 0h2m-34 2h1m12 0h1m1 0h1m1 0h1m15 0h1m-36 2h1m3 0h1m10 0h1m1 0h1m4 0h1m-19 2h1m15 0h1m1 0h2m2 0h1m-23 2.1h1m12 0h1m4 0h1m-1 2h1m1 0h1m1 0h1m-7 2h1m2 0h2m1 0h1m-25 2h1m12 0h1m4 0h1m1 0h1m1 0h1m-23 2h1m1 0h1m15 0h1m1 0h1m-1 2h1m-1 2h1m3 0h1m-5 2h1m-22 2h1m5 0h1m13 0h5m1 0h1m-27 2h1m5 0h1m1 0h1m11 0h1m2 0h1m1 0h2m-27 2h1m1 0h1m3 0h1m1 0h1m10 0h3m1 0h1m1 0h1m-26 2h1m5 0h1m12 0h1m1 0h1m1 0h1m1 0h1m-26 2h1m18 0h3m1 0h3m-26 2.1h1m1 0h1m3 0h1m1 0h1m10 0h1m-20 2h1m5 0h1m12 0h1m-20 2h1m7 0h1m11 0h2m1 0h4m-27 2h1m5 0h1m12 0h1m-20 2h1m7 0h1m10 0h3m1 0h1m1 0h1m-26 2h1m5 0h1m12 0h1m-20 2h1m5 0h1m1 0h1m10 0h1m1 0h1m1 0h1m1 0h1m-26 2h1m5 0h1m1 0h1m10 0h3m1 0h1m1 0h1m-26 2h1m5 0h1m1 0h1m11 0h2m1 0h4m-27 2.1h1m5 0h1m1 0h1m10 0h1m-20 2h1m5 0h1m1 0h1m1 0h1m9 0h2m1 0h2m1 0h1m-27 2h1m7 0h1m10 0h1m5 0h1m-20 2h1m1 0h1m11 0h2m2 0h3m-27 2h1m5 0h1m1 0h1m10 0h1m5 0h1m-26 2h1m5 0h1m13 0h2m1 0h1m1 0h1m-26 2h1m1 0h1m3 0h1m13 0h4m1 0h1m-26 2h1m5 0h1m1 0h1m10 0h3m1 0h1m1 0h1m-20 2h1m1 0h1m1 0h1m8 0h3m1 0h3m-26 2.1h1m5 0h1m1 0h1m10 0h1m5 0h1m-20 2h1m1 0h1m1 0h1m9 0h2m1 0h1m1 0h1m-26 2h1m7 0h1m10 0h3m1 0h1m1 0h2m-27 2h1m5 0h1m1 0h1m10 0h3m-3 2h3m2 0h3m-27 2h1m7 0h1m11 0h7m-25 2h1m16 0h1m-18 2h1m16 0h8m-27 2h1m19 0h7m-27 2h1m7 0h1m-9 2.1h1m5 0h1m12 0h1m4 0h3m-25 2h1m11 0h4m4 0h1m3 0h1m6 0h2m-35 4h1m1 0h1m3 0h1m13 0h7m-27 2h1m1 0h1m-3 2h1m1 0h1m5 0h1m10 0h8m-19 2h1m11 0h7m-27 2h1m19 0h7m-25 2h1m5 0h1m10 0h1m5 0h1m-26 2.1h1m5 0h1m1 0h1m11 0h3m1 0h1m1 0h1m-21 2h1m3 0h1m9 0h2m1 0h4m-27 2h1m5 0h1m1 0h1m11 0h2m1 0h4m-27 2h1m1 0h1m3 0h1m1 0h1m10 0h2m2 0h1m1 0h2m-21 2h1m12 0h2m2 0h1m1 0h1m-25 2h1m14 0h1m2 0h1m1 0h3m1 0h1m-27 2h1m16 0h1m4 0h1m3 0h1m-12 2h1m6 0h1m3 0h1m-12 2h1m1 0h1m4 0h1m-21 2h1m3 0h1m1 0h1m6 0h5m15 0h1m-34 2h1m14 0h1m4 0h1m-23 2h1m1 0h1m14 0h1m4 0h1m1 0h1m-23 2h1m12 0h5m12 0h4m-16 2h1m1 0h1m1 0h1m1 0h1m-25 2h1m12 0h3m1 0h1m2 0h1m12 0h1m-34 2h1m5 0h1m6 0h1m1 0h3m14 0h1m-20 2h5m14 0h2m-34 2h1m19 0h2m-4 2h1m1 0h3m-23 2h1m16 0h1m8 0h1m1 0h4m1 0h1m-16 1.9h1m1 0h2m2 0h1m-25 2h1m19 0h1m11 0h1m-19 2h1m3 2h1m1 0h1m1 0h1m-23 2h1m17 0h1m1 0h3m1 0h1m-5 2h2m2 0h1m-25 2h1m-1 2h1m12 0h5m12 0h1m1 0h2m-14 2h1m-21 2h1m13 0h1m-17 2h1m1 0h1m12 0h2m1 0h2m2 0h1m11 0h1m-33 2h1m12 0h5m12 0h1m1 0h1m-33 2h1m31 0h1m-33 2h1m-1 2h1m19 0h3m1 0h1m-25 2h1m19 0h1m5 2h2m-2 2h2m-2 2.1h2m-30 4h1m1 0h1m1 0h1m5 0h1m13 0h1m1 0h1m1 0h3m1 0h1m1 0h2m-8 2.1h2m2 0h1m-5 2h1m4 0h1m-32 2h1m25 0h1m5 0h1m-23 2h1m13 0h1m3 0h2m1 0h1m1 0h1m-8 2.1h1m4 0h1m-6 2h1m-27 2h1m3 0h1m5 0h1m5 0h1m1 0h1m1 0h1m3 0h1m3 0h1m1 0h1m-21 2h1m9 0h1m6 0h1m4 0h1m-35 2.1h1m7 0h1m11 0h1m1 0h4m6 0h2m1 0h1m-8 4h1m-29 2.1h1m20 0h2m1 0h1m1 0h1m3 0h2m2 0h2m-36 2h1m3 0h1m1 0h1m1 0h1m13 0h3m1 0h1m3 0h2m2 0h2m-36 2h1m1 0h1m3 0h1m5 0h1m16 0h1m-30 2h1m1 0h1m22 0h1m3 0h1m-30 1.9h1m1 0h1m3 0h1m1 0h1m11 0h1m2 0h1m4 0h1m-29 2h1m3 0h1m7 0h1m7 0h1m7 0h1m4 0h1m-6 4h1m-29 1.9h1m5 0h1m21 0h2m-18 6h1m15 0h2m-2 2h1m-29 1.9h1m-1 2h1m1 0h1m9 0h1m7 0h1m1 0h1m4 0h1m4 0h1m-33 1.9h1m5 0h1m1 0h1m1 0h1m1 0h1m17 0h6m-30 3.8h1m3 0h1m19 0h1m-29 1.9h1m7 0h1m7 0h1m2 0h1m3 0h1m1 0h1m7 0h1m-36 1.9h1m3 0h1m5 0h1m1 0h1m18 0h5m-36 1.9h1m1 0h1m5 0h1m3 0h1m21 0h1m-33 1.9h1m29 0h1m-33 1.9h1m1 0h1m3 0h1m1 0h1m1 0h1m9 0h1m1 0h1m4 0h1m4 0h3m-35 1.9h1m11 0h1m20 0h1m-30 1.9h1m1 2h1m1 0h1m1 0h1m9 0h1m1 0h1m2 0h1m6 0h3m-33 1.9h1m3 0h1m1 0h1m23 0h3m-35 1.9h1m1 0h1m3 0h1m1 0h1m1 0h1m1 0h1m9 0h1m1 0h1m5 0h1m1 0h1m1 0h2m-34 1.9h1m9 0h1m17 0h1m2 0h2m-31 1.9h1m3 0h1m1 0h1m23 0h1m-35 1.8h1m1 0h1m1 0h1m1 0h1m1 0h1m3 0h1m7 0h2m1 0h1m2 0h1m4 0h1m1 0h3m-36 1.8h2m2 0h1m1 0h1m1 0h1m1 0h1m6 0h1m3 0h4m1 0h2m2 0h5m-31 1.8h1m1 0h1m1 0h1m12 0h1m1 0h1m11 0h1m-33 1.9h1m1 0h1m4 0h4m12 0h1m-27 1.9h3m1 0h7m1 0h1m4 0h1m2 0h7m4 0h2m1 0h2m-36 1.9h2m1 0h1m1 0h2m1 0h1m1 0h1m1 0h2m3 0h1m2 0h1m3 0h2m6 0h1m1 0h2m-36 1.9h2m1 0h1m1 0h1m3 0h1m2 0h1m3 0h2m2 0h1m1 0h1m3 0h1m3 0h1m-31 1.9h1m2 0h2m1 0h5m6 0h1m2 0h1m3 0h2m1 0h1m3 0h1m2 0h1m-33 1.9h1m1 0h1m1 0h1m10 0h1m3 0h1m1 0h1m2 0h2m2 0h6m-36 1.9h1m1 0h2m1 0h1m3 0h3m1 0h1m2 0h2m7 0h1m6 0h1m1 0h1m-31 2h1m11 0h2m6 0h3m3 0h1m1 0h3m-35 4.2h1m5 0h1m10 0h1m9 0h1m2 0h1m1 0h4m-19 2h1m13 0h1m1 0h1m1 0h1m-36 2.1h1m7 0h1m3 0h1m3 0h2m2 0h1m2 0h1m1 0h1m1 0h1m2 0h1m3 0h1m-31 2h1m12 0h1m13 0h1m1 0h1m-34 2.1h1m3 0h1m3 0h1m3 0h1m8 0h1m3 0h3m2 0h1m1 0h2m-16 6.2h1m-5 6.2h1m-1 4.1h1m3 10.3h1m-5 2h1m0 2h1m17 0h1m-20 2h1m1 0h2m1 0h1m10 0h2m1 0h1m1 0h1m-22 2h2m1 0h1m1 0h1m10 0h2m1 0h1m-20 1.9h1m2 0h2m11 0h1m4 0h1m-26 4h2m11 0h1m1 0h2m-15 2h1m1 0h2m1 0h3m6 0h1m6 0h1m1 0h1m-21 1.9h1m15 0h1m-22 2h1m4 0h2m13 0h2m1 0h1m1 0h1m-21 1.9h1m2 0h2m11 0h5m-21 2h1m3 0h1m12 0h2m-3 1.9h1m1 0h1m-20 1.9h3m1 0h2m11 0h1m1 0h1m-15 1.9h1m13 0h1m-1 3.9h1m-20 1.9h2m1 0h3m10 0h3m1 0h2m-21 1.9h2m14 0h5m-21 1.9h1m3 0h1m11 0h2m-19 2h1m1 0h1m1 0h1m12 0h4m-20 2h5m4 0h1m5 0h3m1 0h1m-17 2h2m10 0h1m1 0h4m-36 2h1m1 0h1m5 0h1m1 0h1m4 0h1m3 0h1m12 0h3m-18 2h1m1 0h1m11 0h1m2 0h2m-20 2h1m14 0h1m1 0h2m-20 2h1m3 0h1m15 0h1m-29 2h1m5 0h1m9 0h1m1 0h1m-11 1.9h1m1 0h1m1 0h1m11 0h2m-16 2h1m1 0h1m15 0h1m-22 1.9h1m1 0h1m13 0h1m-17 1.9h1m3 0h1m-3 3.9h2m4 0h1m9 0h2m-18 1.9h1m1 0h1m15 0h1m-20 1.8h1m4 0h1m1 0h1m7 0h1m1 0h1m2 0h1m-6 2h1m3 0h1m-21 1.8h5m11 0h1m1 0h1m1 0h1m-35 1.9h1m13 0h1m2 0h1m12 0h1m3 0h2m-22 4.3h3m1 0h2m10 0h1m2 0h1m-28 2.1h1m12 0h1m10 0h6m-22 2.2h2m2 0h1m11 0h2m2 0h2m-1 2.1h1m-21 2.1h5m10 0h1m1 0h2m1 0h1m-36 2h1m5 0h1m3 0h1m1 0h1m7 0h1m10 0h1m2 0h1m-21 2.2h4m12 0h3m1 0h1m-33 4h1m1 0h1m1 0h1m13 0h1m1 0h1m3 0h1m6 0h1m-34 2h1m3 0h1m3 0h1m1 0h1m3 0h1m1 0h1m2 0h2m1 0h1m1 0h1m1 0h2m2 0h6m-28 2h1m1 0h1m3 0h1m1 0h1m1 0h5m1 0h1m1 0h1m3 0h4m1 0h1m-20 1.9h1m16 0h1m-30 2h1m9 0h1m1 0h1m1 0h3m1 0h1m2 0h1m1 0h1m3 0h1m1 0h3m-28 2h1m1 0h1m1 0h1m2 0h3m1 0h3m1 0h4m4 0h3m1 0h1m-20 2h1m10 0h1m2 0h3m1 0h1m-35 2h1m3 0h1m5 0h1m1 0h1m2 0h2m3 0h1m2 0h1m1 0h1m4 0h1m1 0h3m-32 1.9h3m4 0h2m1 0h6m1 0h2m1 0h5m3 0h3m-34 2h1m1 0h1m1 0h1m1 0h1m1 0h1m1 0h1m1 0h1m3 0h2m3 0h1m1 0h2m1 0h1m5 0h1m2 0h1m-36 1.9h2m6 0h1m3 0h1m1 0h3m1 0h2m2 0h1m1 0h1m2 0h1m2 0h1m1 0h2m-32 1.9h1m1 0h1m1 0h1m5 0h1m2 0h1m3 0h1m2 0h4m4 0h2m3 0h1m-32 1.9h1m1 0h1m5 0h1m6 0h1m3 0h1m3 0h1m2 0h2m3 0h1m-30 2h1m8 0h1m3 2h1m-20 4h1m1 0h1m1 0h1m1 0h1m3 0h1m1 0h1m1 0h1m1 0h2m1 0h1m2 0h1m2 0h1m1 0h1m3 0h1m1 0h1m-30 2h1m1 0h3m1 0h1m1 0h1m3 0h1m3 0h2m2 0h2m4 0h2m1 0h3m-34 2h1m3 0h1m3 0h1m1 0h1m2 0h1m1 0h2m1 0h1m5 0h2m3 0h1m-28 2h1m3 0h1m8 0h1m7 0h1m5 0h1m2 0h1m-35 2h1m1 0h1m1 0h1m1 0h1m3 0h1m1 0h1m1 0h2m1 0h3m3 0h1m1 0h1m1 0h1m5 0h1m-32 2.1h1m1 0h1m1 0h1m3 0h1m1 0h1m1 0h2m1 0h1m1 0h2m1 0h3m2 0h1m3 0h1m1 0h1m-34 2h1m5 0h1m3 0h1m1 0h1m3 0h2m2 0h3m3 0h2m2 0h1m1 0h1m-2 2h1m-17 2h1m3 0h1m-12 2h1m12 0h1m-22 2h1m1 0h1m1 0h1m1 0h1m1 0h1m5 0h1m4 0h2m2 0h4m4 0h3m-30 2h1m1 0h1m3 0h1m1 0h1m2 0h3m2 0h1m11 0h2m1 0h1m-30 2h1m5 0h1m1 0h2m1 0h1m1 0h8m5 0h2m1 0h1m-15 2h2m2 0h1m1 0h3m-30 2.1h1m5 0h1m3 0h1m4 0h1m1 0h1m2 0h1m1 0h5m1 0h1m4 0h1m-26 2.1h1m6 0h1m4 0h2m1 0h1m3 0h3m3 0h1m-26 2h1m6 0h1m5 0h1m1 0h1m1 0h1m1 0h1m-26 2.1h1m5 0h1m1 0h1m4 0h1m5 0h2m1 0h2m2 0h2m-8 2.1h1m1 0h2m1 0h3m-22 2h1m1 0h1m1 0h1m9 0h2m1 0h1m3 0h1m-26 2.2h1m23 0h2m-2 2.1h2m-28 2h1m1 0h1m3 0h1m15 0h1m3 0h2m-30 2.2h1m1 0h2m2 0h1m1 0h1m3 0h1m1 0h1m5 0h1m2 0h3m-20 2.1h1m1 0h1m12 0h1m6 0h2m-30 2.1h1m9 0h1m14 0h1m3 0h1m-30 2.1h1m1 0h1m23 0h1m1 0h2m-20 2h1m18 0h1m-28 2.2h1m7 0h1m1 0h1m2 0h2m4 0h1m1 0h1m4 0h1m-1 1.9h1m-6 1.9h1m1 0h1m2 0h1m-6 1.9h1m2 0h3m-6 1.9h1m5 0h1m-1 1.8h1m-13 1.9h1m9 0h3m-28 3.8h1m3 0h1m1 0h1m1 0h1m5 0h2m1 0h1m1 0h1m1 0h3m1 0h3m-28 1.9h1m3 0h1m1 0h1m3 0h1m3 0h2m2 0h5m3 0h1m1 0h1m3 0h1m-27 6.2h1m3 0h1m10 0h1m2 0h1m1 0h2m-24 2h1m22 0h1m-4 4.1h1m2 0h1m-28 6.1h1m5 0h1m1 0h1m4 0h3m2 0h1m2 0h5m1 0h1m-9 4.1h1m1 0h1m2 0h2m-10 2h1m4 0h1m1 0h1m1 0h1m5 0h1m-32 2h1m7 0h1m3 0h2m2 0h3m3 0h1m2 0h1m5 0h1m-32 2h1m5 0h1m3 0h1m1 0h1m1 0h1m2 0h1m1 0h7m-28 2h1m1 0h1m1 0h1m1 0h1m5 0h1m1 0h4m1 0h1m1 0h7m5 0h1m-7 2h1m-26 2h1m1 0h1m11 0h1m1 0h1m2 0h2m9 0h1m-11 2h1m-23 1.9h1m1 0h1m3 0h1m1 0h1m1 0h1m5 0h2m1 0h1m3 0h1m1 0h3m-28 2h1m11 0h1m2 0h1m3 0h3m1 0h1m2 0h2m-28 2h1m3 0h1m3 0h1m9 0h1m1 0h1m2 0h1m1 0h1m-26 2h1m1 0h1m3 0h1m1 0h1m5 0h2m3 0h1m3 0h1m-18 2h1m12 0h1m2 0h1m-23 4h1m11 0h1m12 0h1m1 0h1m-24 2h1m3 0h1m3 0h1m7 0h1m1 0h5m-23 2h1m3 0h1m1 0h1m5 0h1m5 0h1m3 0h1m-23 2h1m1 0h1m1 0h1m7 0h1m1 0h1m6 0h2m-27 2h1m1 0h1m1 0h1m1 0h1m1 0h1m9 0h1m3 0h1m1 0h1m1 0h1m-27 2h1m3 0h1m5 0h1m3 0h1m5 0h2m1 0h1m2 0h2m-28 2h1m3 0h1m1 0h1m1 0h1m1 0h1m3 0h1m1 0h1m4 0h2m1 0h2m-24 2.1h1m7 0h1m1 0h1m1 0h1m1 0h1m1 0h3m3 0h1m1 0h2m-20 4h1m5 0h2m3 0h1m1 0h1m1 0h1m-20 2h1m7 0h1m9 0h1m3 0h1m-25 2h1m5 0h1m3 0h1m1 0h1m1 0h1m3 0h1m1 0h1m1 0h3"/>
<path stroke="#dff2da" d="M2 77.8h1m9 0h1m7 0h1m-20 1.9h2m9 0h1m7 0h1m3 0h1m1 0h1m-15 1.9h1m-12 1.9h1m6 1.9h1m3 0h1m7 0h1m-20 1.8h2m9 0h1m-12 1.9h1m9 1.9h1m1 0h1m-1 2h1m6 0h1m-10 2h1m1 0h1m-11 2h1m7 0h1m1 0h1m6 0h3m1 0h1m1 0h2m-23 1.9h1m5 0h1m8 0h3m1 0h3m-24 2h1m9 0h1m-3 2h1m1 0h1m6 0h1m-10 2h1m1 0h1m6 0h1m-18 1.9h1m7 0h1m1 0h1m-3 2h1m-8 2h1m7 0h1m9 0h1m3 0h1m-17 2h1m1 0h1m9 0h3m1 0h1m-23 2.1h1m7 0h1m7 0h1m3 0h1m1 0h1m-23 2h1m5 0h1m1 0h1m10 0h2m1 0h1m-17 2h1m9 0h1m2 0h2m1 0h1m-23 2.1h1m3 0h1m1 0h1m1 0h1m9 0h3m1 0h1m-17 2h1m1 0h1m7 0h1m2 0h2m1 0h1m-21 2h1m3 0h1m9 0h1m2 0h2m-15 2.1h1m1 0h1m7 0h1m3 0h1m1 0h1m-17 2h1m-5 2h1m1 0h1m1 0h1m12 0h1m-22 2h1m7 0h1m9 0h1m2 0h2m1 0h1m-23 2.1h1m5 0h1m9 0h1m2 0h2m1 0h1m-19 2h1m1 0h1m9 0h1m2 0h1m2 0h1m-17 2h1m1 0h1m7 0h1m2 0h2m1 0h1m-23 2.1h1m15 0h1m2 0h2m-13 2h1m7 0h1m2 0h2m1 0h1m-17 2h1m1 0h1m10 0h2m1 0h1m-21 2h1m3 0h1m9 0h1m1 0h1m1 0h1m1 0h1m-17 2.1h1m9 0h1m2 0h2m1 0h1m-5 2h1m3 0h1m-23 2h1m5 0h1m9 0h1m3 0h1m1 0h1m-25 2.1h1m5 0h1m14 0h1m-16 2h1m-1 2h1m11 0h1m2 0h2m-17 2.1h1m-1 2h1m17 0h1m-19 2h1m-1 2h1m11 0h1m1 0h1m1 0h1m1 0h1m-2 2.1h1m-18 2h1m11 0h1m2 0h1m2 0h1m-23 2h1m7 0h1m7 0h1m2 0h2m1 0h1m-19 2.1h1m14 0h2m1 0h1m-19 2h1m11 0h1m2 0h2m1 0h1m-19 2h1m1 0h1m1 0h1m10 0h1m3 0h1m-20 2h1m16 0h1m1 0h1m-20 2.1h1m13 0h1m-15 2h1m11 0h1m1 0h3m1 0h1m-25 2h1m20 0h2m1 0h1m-19 2.1h1m11 0h1m2 0h1m2 0h1m-15 2h1m7 0h1m1 0h1m-19 2h1m5 0h1m9 0h1m2 0h2m1 0h1m-23 2.1h1m3 0h1m1 0h1m1 0h1m9 0h1m-19 2h1m3 0h1m11 0h1m1 0h3m1 0h1m-21 2h2m5 0h1m-1 1.9h1m10 1.9h1m-20 2h1m1 0h1m5 0h1m-8 1.9h2m5 0h1m-7 2h1m5 0h1m-8 1.9h2m5 1.9h1m6 0h2m-16 3.9h2m5 0h1m-8 1.9h2m5 0h1m-4 2h1m9 0h1m2 0h2m-2 2.1h1m2 0h1m-19 2h1m1 0h1m11 0h1m1 0h1m-17 2.1h1m1 0h1m12 0h2m-25 2h1m5 0h1m5 0h1m7 0h1m1 0h3m1 0h1m-27 2.1h1m5 0h1m3 0h1m1 0h1m9 0h2m2 0h1m-23 2h1m20 0h3m-28 2h1m3 0h1m1 0h1m3 0h1m1 0h1m7 0h1m2 0h2m1 0h1m-21 2.1h1m5 0h1m7 0h1m1 0h3m1 0h1m-27 2h1m3 0h1m5 0h1m9 0h1m2 0h2m1 0h1m-23 2.1h1m7 0h1m9 0h2m2 0h1m-21 2h1m3 0h1m1 0h1m11 0h1m1 0h1m-15 2.1h1m7 0h1m2 0h2m1 0h1m-16 4h1m8 0h1m-20 1.9h1m9 0h1m-1 2h1m8 0h1m5 0h1m-21 2h1m3 0h1m9 0h1m1 0h3m1 0h1m-6 2h1m3 0h1m1 0h1m-28 2h1m1 0h1m9 0h1m7 0h1m2 0h1m2 0h1m-27 2h1m1 0h1m3 0h1m1 0h1m11 0h1m2 0h2m1 0h1m-27 2h1m1 0h1m3 0h1m13 0h1m1 0h3m-17 2h1m13 0h3m-13 2h1m8 0h1m3 0h1m1 0h1m-28 2h1m9 0h1m1 0h1m7 0h1m3 0h1m1 0h1m-25 2h1m-3 2h1m1 0h1m9 0h1m7 0h1m1 0h3m1 0h1m-15 2h1m9 0h1m-11 2h1m7 0h1m2 0h1m2 0h1m-25 2h1m5 0h1m1 0h1m1 0h1m7 0h1m2 0h2m1 0h1m-21 2h1m1 0h1m1 0h1m9 0h1m1 0h3m1 0h1m-5 2h1m1 0h1m1 0h1m-27 2h1m19 0h1m2 0h2m1 0h1m-21 2h1m1 0h1m1 0h1m1 0h1m7 0h1m1 0h1m1 0h1m1 0h1m-27 2h1m7 0h1m13 0h1m-23 2h1m7 0h1m13 0h1m3 0h1m-27 2h1m5 0h1m1 0h1m1 0h1m9 0h1m2 0h2m-23 2h1m5 0h1m1 0h1m12 0h1m-24 2h1m5 0h1m1 0h1m1 0h1m-9 2h1m7 0h1m9 0h1m3 0h1m1 0h1m-27 2h1m1 0h1m3 0h1m3 0h1m12 0h2m-25 2h1m1 0h1m3 0h1m3 0h1m12 0h1m-24 2h1m1 0h1m3 0h1m3 0h1m10 0h1m3 0h1m-26 2h1m1 0h1m3 0h1m1 0h1m1 0h1m9 0h1m2 0h2m1 0h1m-27 2h1m1 0h1m5 0h1m1 0h1m9 0h1m2 0h2m1 0h1m-27 2h1m1 0h1m3 0h1m3 0h1m9 0h1m1 0h1m1 0h1m1 0h1m-27 2h1m1 0h1m3 0h1m1 0h1m11 0h1m-21 2h1m1 0h1m3 0h1m1 0h1m1 0h1m12 0h1m-24 2h1m1 0h1m3 0h1m1 0h1m1 0h1m9 0h1m3 0h1m1 0h1m-27 2h1m1 0h1m3 0h1m3 0h1m12 0h1m2 0h1m-27 2h1m9 0h1m-11 2h1m1 0h1m7 0h1m9 0h1m2 0h1m-22 2h1m3 0h1m1 0h1m1 0h1m12 0h1m-22 2h1m17 0h1m-19 3.9h1m17 1.9h1m-19 1.9h1m17 3.9h1m3 0h1m-23 1.9h1m17 0h1m-17 2h1m15 3.9h1m3 0h1m-5 1.9h1m-19 3.9h1m-3 3.9h1m1 0h1m1 0h1m3 0h1m1 0h1m9 0h1m3 0h1m-25 2h1m1 0h1m5 0h1m1 0h1m15 0h1m-25 2h1m1 0h1m3 0h1m14 0h1m-24 2h1m1 0h1m1 0h1m3 0h1m1 0h1m12 0h2m1 0h1m-27 2h1m7 0h1m1 0h1m1 0h1m7 0h1m2 0h2m1 0h1m-27 2h1m7 0h1m11 0h1m2 0h2m1 0h1m-27 2h1m7 0h1m1 0h1m9 0h1m1 0h1m1 0h1m-25 2h1m1 0h1m5 0h1m1 0h1m1 0h1m7 0h1m2 0h2m1 0h1m-25 2h1m1 0h1m3 0h1m11 0h1m1 0h3m1 0h1m-25 2h1m5 0h1m1 0h1m1 0h1m8 0h1m-20 2h1m5 0h1m1 0h1m13 0h2m-26 2h1m3 0h1m3 0h1m13 0h2m-24 2h1m3 0h1m5 0h1m1 0h1m8 0h1m3 0h1m-18 2h1m1 0h1m9 0h1m1 0h3m1 0h1m-25 2h1m1 0h1m3 0h1m1 0h1m9 0h1m1 0h1m1 0h1m-25 2h1m1 0h1m1 0h1m5 0h1m12 0h2m1 0h1m-23 2h1m3 0h1m1 0h1m10 0h1m3 0h1m1 0h1m-28 2h1m1 0h1m1 0h1m5 0h1m1 0h1m7 0h1m2 0h2m1 0h1m-27 2h1m7 0h1m1 0h1m1 0h1m-9 2h1m3 0h1m1 0h1m9 0h1m3 0h1m1 0h1m-27 2h1m3 0h1m5 0h1m1 0h1m7 0h1m2 0h2m1 0h1m-24 2h2m5 0h1m13 0h1m1 0h2m-28 2h1m1 0h1m1 0h1m3 0h1m1 0h1m9 0h1m1 0h1m3 0h1m-27 2h1m1 0h1m1 0h1m5 0h1m1 0h1m9 0h1m3 0h1m-27 2h1m1 0h1m5 0h1m1 0h1m9 0h1m2 0h2m1 0h1m-25 2h1m1 0h1m5 0h1m1 0h1m7 0h1m2 0h2m1 0h1m-25 2h1m1 0h1m3 0h1m1 0h1m14 0h1m-26 2h1m9 0h1m1 0h1m11 0h1m-25 2h1m1 0h1m1 0h1m5 0h1m1 0h1m10 0h1m2 0h1m-27 2h1m3 0h1m3 0h1m13 0h1m3 0h1m-27 2h1m1 0h1m1 0h1m3 0h1m1 0h1m1 0h1m7 0h1m2 0h2m1 0h1m-27 2h1m3 0h1m3 0h1m1 0h1m1 0h1m7 0h1m2 0h2m1 0h1m-25 2h1m1 0h1m15 0h1m1 0h2m2 0h1m-23 2h1m18 0h2m1 0h1m-25 2h1m5 0h1m1 0h1m9 0h1m3 0h1m-25 1.9h1m1 0h3m5 0h1m12 0h2m1 0h1m-25 2h1m1 0h1m3 0h1m14 0h2m1 0h1m-25 2h1m1 0h1m5 0h1m1 0h1m10 0h2m1 0h1m-25 2h1m5 0h1m11 0h1m1 0h2m2 0h1m-27 2h1m1 0h1m1 0h1m3 0h1m1 0h1m9 0h1m2 0h2m1 0h1m-27 2h1m1 0h1m5 0h1m1 0h1m9 0h1m1 0h3m1 0h1m-27 2h1m1 0h1m1 0h1m5 0h1m10 0h1m-20 2h1m1 0h1m3 0h1m1 0h1m9 0h1m2 0h1m2 0h1m-25 2h1m1 0h1m3 0h1m1 0h1m1 0h1m7 0h1m2 0h2m1 0h1m-25 2h1m1 0h1m3 0h1m1 0h1m10 0h1m3 0h1m1 0h1m-26 2h1m1 0h1m3 0h1m1 0h1m9 0h1m1 0h3m1 0h1m-25 2h1m1 0h1m7 0h1m7 0h1m2 0h1m2 0h1m-25 2h1m1 0h1m15 0h1m2 0h2m1 0h1m-27 2h1m3 0h1m5 0h1m11 0h1m3 0h1m-25 2h1m1 0h1m3 0h1m3 0h1m7 0h1m2 0h2m-25 2h1m1 0h1m1 0h1m3 0h1m1 0h1m9 0h1m3 0h1m-21 2h1m3 0h1m13 0h1m3 0h1m-25 2h1m5 0h1m1 0h1m1 0h1m-13 2h1m1 0h1m1 0h1m3 0h1m1 0h1m1 0h1m7 0h1m1 0h2m-24 2h1m1 0h1m1 0h1m3 0h1m11 0h1m2 0h2m1 0h1m-27 2h1m1 0h1m7 0h1m12 0h1m-24 2h1m1 0h3m3 0h1m1 0h1m9 0h1m5 0h1m-27 2h1m1 0h1m1 0h1m5 0h1m9 0h1m2 0h1m2 0h1m-27 2h1m1 0h1m5 0h1m1 0h1m1 0h1m9 0h3m1 0h1m-25 2h1m1 0h1m3 0h1m1 0h1m1 0h1m7 0h1m2 0h2m1 0h1m-25 2h1m1 0h1m3 0h1m1 0h1m9 0h1m1 0h3m1 0h1m-27 2h1m1 0h1m5 0h1m1 0h1m1 0h1m7 0h1m1 0h3m1 0h1m-27 2h1m1 0h1m5 0h1m1 0h1m9 0h1m3 0h1m1 0h1m-27 2h1m1 0h1m1 0h1m3 0h1m1 0h1m16 0h1m-28 2h1m1 0h1m5 0h1m1 0h1m9 0h1m1 0h1m1 0h1m1 0h1m-25 2h1m1 0h1m3 0h1m1 0h1m1 0h1m7 0h1m1 0h3m-25 2h1m3 0h1m3 0h1m1 0h1m9 0h1m2 0h2m1 0h1m-27 2h1m3 0h1m3 0h1m1 0h1m9 0h1m2 0h2m1 0h1m-27 2h1m1 0h1m1 0h1m5 0h1m9 0h1m2 0h2m1 0h1m-25 2h1m1 0h1m5 0h1m9 0h1m1 0h2m2 0h1m-20 2h1m5 0h1m6 0h1m-18 2.1h1m9 0h1m-7 2.1h1m5 2.1h1m-13 2.1h1m1 0h1m1 0h1m-5 2.1h1m1 0h1m16 0h1m3 0h1m-22 2.1h1m1 0h1m14 0h1m3 0h1m-24 2.1h1m1 0h1m9 0h1m-13 2.2h1m3 0h1m7 2.1h1m-12 2h1m7 0h1m9 0h1m2 0h2m1 0h1m-21 2h1m3 0h1m9 0h1m2 0h1m-24 2h1m1 0h1m1 0h1m5 0h1m9 0h1m2 0h2m1 0h1m-27 2h1m1 0h1m1 0h1m5 0h1m1 0h1m10 0h1m-22 2h1m3 0h1m16 0h1m-18 2h1m3 0h1m12 0h1m-22 2h1m3 0h1m3 0h1m9 0h1m1 0h1m1 0h1m1 0h1m-25 2h1m3 0h1m5 0h1m7 0h1m1 0h1m1 0h1m-23 2.1h1m1 0h1m5 0h1m1 0h1m7 0h1m2 0h2m-19 2h1m3 0h1m16 0h1m-28 2h1m1 0h1m1 0h1m5 0h1m1 0h1m10 0h2m1 0h1m-17 2h1m9 0h1m2 0h1m2 0h1m-25 2h1m1 0h1m5 0h1m12 0h1m-24 2h1m1 0h1m1 0h1m5 0h1m12 0h1m-22 2h1m1 0h1m5 0h1m12 0h2m1 0h1m-27 2h1m1 0h1m1 0h1m5 0h1m1 0h1m10 0h1m1 0h1m-16 2h1m12 0h1m-24 2h1m9 0h1m1 0h1m10 0h2m1 0h1m-27 2h1m3 0h1m7 0h1m7 0h1m1 0h3m1 0h1m-27 2h1m1 0h1m1 0h1m15 0h1m2 0h2m1 0h1m-25 2h1m3 0h1m3 0h1m9 0h1m2 0h1m-24 2h1m1 0h1m1 0h1m17 0h1m-23 2h1m1 0h1m1 0h1m7 0h1m7 0h1m1 0h3m1 0h1m-27 2h1m1 0h1m1 0h1m5 0h1m9 0h1m2 0h2m1 0h1m-25 2.1h1m1 0h1m5 0h1m1 0h1m10 0h1m-24 2h1m1 0h1m1 0h1m15 0h1m2 0h2m1 0h1m-25 2h1m1 0h1m7 0h1m-13 2h1m3 0h1m5 0h1m9 0h1m2 0h1m2 0h1m-27 2h1m1 0h1m7 0h1m12 0h2m1 0h1m-23 2h1m7 0h1m7 0h1m2 0h2m1 0h1m-25 2h1m1 0h1m5 0h1m1 0h1m9 0h1m3 0h1m-27 2h1m1 0h1m1 0h1m7 0h1m7 0h1m2 0h2m1 0h1m-20 2h1m1 0h1m10 0h1m-12 4h1m3 0h1m6 0h3m1 0h1m1 0h1m-18 2h1m3 0h1m-13 1.9h1m5 0h1m5 0h1m-11 2h1m9 0h1m-13 2h1m7 0h1m-9 2h1m1 0h1m1 0h1m3 0h1m3 0h1m6 0h1m-12 2h1m10 0h2m2 0h1m1 0h1m-24 2h1m5 0h1m3 0h1m6 0h1m-16 2h1m3 0h1m3 0h1m-13 1.9h1m7 0h1m3 0h1m6 0h1m-20 2h1m7 0h1m3 0h1m-11 2h1m5 0h1m3 0h1m6 0h1m-20 2h1m1 0h1m5 0h1m3 0h1m-1 2h1m6 0h1m3 0h1m-24 2h1m18 0h1m-18 2h1m1 1.9h1m3 2h1m10 0h1m3 0h1m-16 4h1m3 0h1m6 0h1m1 0h1m3 0h1m-18 2h1m3 5.9h1m-5 2h1m10 0h1m-20 6h1m1 0h1m5 0h1m3 0h1m-13 2h1m7 0h1m3 0h1m-5 1.9h1m3 0h1m-13 2h1m1 0h1m1 0h1m3 0h1m3 0h1m-5 2h1m3 0h1m-13 4h1m7 0h1m3 0h1m-9 2h1m3 0h1m3 0h1m-11 2h1m5 0h1m3 0h1m-13 3.9h1m7 0h1m3 0h1m6 0h1m3 0h1m-16 2h1m-9 2h1m1 0h1m1 0h1m1 0h1m1 0h1m-8 2h1m1 0h1m7 0h1m7 0h1m2 0h2m1 0h1m-27 2h1m3 0h1m7 0h1m7 0h1m1 0h2m2 0h1m-27 2h1m3 0h1m7 0h1m9 0h1m-23 2h1m20 0h1m3 0h1m1 0h1m-28 2h1m1 0h1m1 0h1m15 0h1m2 0h2m1 0h1m-15 2h1m12 0h1m1 0h1m-28 2h1m19 0h1m-21 2h1m1 0h1m1 0h1m7 0h1m7 0h1m2 0h2m1 0h1m-27 2.1h1m1 0h1m1 0h1m7 0h1m7 0h1m3 0h1m1 0h1m-27 2h1m1 0h1m1 0h1m15 0h1m2 0h2m1 0h1m-25 2h1m1 0h1m7 0h1m9 0h1m-23 2h1m1 0h1m9 0h1m7 0h1m2 0h2m-25 2h1m1 0h1m1 0h1m15 0h1m1 0h1m-21 2h1m1 0h1m15 0h1m2 0h1m-24 2h1m1 0h1m1 0h1m7 0h1m9 0h2m2 0h1m-25 2h1m1 0h1m15 0h1m3 0h1m-23 2h1m3 0h1m13 0h1m-19 2h1m9 2h1m10 0h2m-2 2h1m-24 2h1m1 0h1m1 0h1m7 0h1m-9 2h1m1 0h1m5 0h1m7 0h1m1 0h3m1 0h1m-15 2h1m7 0h1m2 0h2m1 0h1m-27 2.1h1m1 0h1m1 0h1m7 0h1m7 0h1m2 0h2m1 0h1m-23 2h1m7 0h1m7 0h1m2 0h2m1 0h1m-27 2h1m3 0h1m7 0h1m7 0h1m1 0h1m1 0h1m1 0h1m-25 2h1m9 0h1m13 0h1m-21 2h1m18 0h1m1 0h1m-28 2h1m1 0h1m1 0h1m7 0h1m7 0h1m2 0h2m1 0h1m-23 2h1m15 0h1m2 0h2m1 0h1m-25 2h1m1 0h1m15 0h1m1 0h3m1 0h1m-15 2h1m10 0h2m1 0h1m-27 2h1m1 0h1m9 0h1m10 0h1m-22 2h1m1 0h1m7 0h1m10 0h1m2 0h1m-15 2h1m7 0h1m2 0h1m-20 2h1m7 0h1m11 0h1m1 0h1m-25 2h1m9 0h1m7 0h1m3 0h1m1 0h1m-27 2h1m5 0h1m5 0h1m9 0h1m-23 2.1h1m1 0h1m9 0h1m7 0h1m2 0h2m1 0h1m-27 2h1m1 0h1m9 0h1m7 0h1m2 0h1m-24 2h1m1 0h1m1 0h1m15 0h1m3 0h1m1 0h1m-27 2h1m1 0h1m9 0h1m13 0h1m-23 2h1m1 0h1m5 0h1m10 0h1m-24 2h1m11 0h1m7 0h1m2 0h2m-25 2h1m1 0h1m1 0h1m15 0h1m1 0h1m1 0h1m1 0h1m-25 2h1m9 0h1m10 0h1m2 0h1m-23 2h1m15 0h1m2 0h1m2 0h1m-27 2h1m3 0h1m17 0h2m-24 2h1m1 0h1m1 0h1m15 0h1m2 0h2m1 0h1m-27 2h1m1 0h1m21 0h1m2 0h1m-28 2h1m1 0h1m1 0h1m7 0h1m7 0h1m1 0h3m1 0h1m-27 2h1m1 0h1m1 0h1m16 0h1m5 0h1m-28 2h1m1 0h1m9 0h1m7 0h1m1 0h3m1 0h1m-27 2h1m11 0h1m7 0h1m2 0h2m1 0h1m-25 2.1h1m1 0h1m15 0h1m2 0h2m1 0h1m-23 2h1m22 0h1m-28 2h1m1 0h1m1 0h1m15 0h1m2 0h2m1 0h1m-27 2h1m3 0h1m7 0h1m7 0h1m2 0h2m1 0h1m-7 2h1m1 0h3m1 0h1m-27 2h1m1 0h2m8 0h1m7 0h1m2 0h2m1 0h1m-27 2h1m1 0h1m1 0h1m15 0h1m1 0h3m1 0h1m-27 2h1m3 0h1m18 0h2m1 0h1m-25 2h1m1 0h1m19 0h1m-23 2h1m1 0h1m1 0h1m5 0h1m7 0h1m2 0h2m1 0h1m-25 2h1m9 0h1m7 0h1m2 0h2m1 0h1m-27 2h1m1 0h1m1 0h1m7 0h1m7 0h1m2 0h2m1 0h1m-27 2h1m1 0h1m1 0h1m15 0h1m-21 2h1m1 0h1m1 0h1m18 0h1m2 0h1m-27 2h1m3 0h1m7 0h1m10 0h2m1 0h1m-27 2.1h1m1 0h1m1 0h1m15 0h1m2 0h2m1 0h1m-23 2h1m17 0h2m2 0h1m-25 2h1m1 0h1m16 0h1m3 0h1m1 0h1m-28 2h1m3 0h1m15 0h1m2 0h2m1 0h1m-25 2h1m1 0h1m7 0h1m9 0h2m-24 2h1m1 0h1m1 0h1m15 0h1m3 0h1m1 0h1m-27 2h1m1 0h1m1 0h1m7 0h1m7 0h1m2 0h2m-23 2h1m1 0h1m7 0h1m7 0h1m2 0h2m1 0h1m-23 2h1m7 0h1m7 0h1m2 0h2m1 0h1m-27 2h1m3 0h1m7 0h1m7 0h1m2 0h2m1 0h1m-27 2h1m1 0h1m1 0h1m7 0h1m10 0h2m-25 2h1m3 0h1m17 0h1m3 0h1m-23 2h1m7 0h1m7 0h1m1 0h1m1 0h1m1 0h1m-25 2h1m9 0h1m7 0h1m3 0h1m1 0h1m-27 2h1m1 0h1m9 0h1m12 0h1m1 0h1m-28 2.1h1m1 0h1m17 0h1m2 0h2m1 0h1m-27 2h1m1 0h1m1 0h1m7 0h1m7 0h1m2 0h1m-24 2h1m1 0h1m1 0h1m7 0h1m-13 2h1m3 0h1m7 0h1m10 0h1m2 0h1m-27 2h1m22 0h2m1 0h1m-27 2h1m1 0h1m1 0h1m7 0h1m7 0h1m2 0h2m1 0h1m-27 2h1m1 0h1m1 0h1m15 0h1m2 0h2m-25 2h1m1 0h1m1 0h1m15 0h1m2 0h2m1 0h1m-18 2h1m1 0h1m8 0h1m5 0h1m-16 2h1m8 0h1m-10 2h1m-3 2h1m1 0h1m-5 2h1m1 0h1m1 2.1h1m-3 2h1m1 0h1m-5 2h1m3 0h1m8 0h1m-12 2h1m-3 2h1m1 2h1m1 2h1m-1 2h1m-7 2h1m5 0h1m8 0h1m-10 2.1h1m-7 2h1m14 0h1m5 0h1m-20 2h1m3 0h1m-1 2h1m8 0h1m3 0h1m-14 2h1m-3 2h1m10 0h1m-12 2h1m1 0h1m8 0h1m-10 2h1m-10 2h1m2 0h1m5 2.1h1m8 2h1m-10 2h1m-11 4h1m5 0h1m1 0h1m-10 2h1m6 0h1m3 0h1m8 0h1m-20 2h1m5 0h1m1 0h1m-9 2h1m5 0h1m1 0h1m-3 2h1m1 0h1m10 0h1m-14 2h1m1 2.1h1m-9 2h1m5 0h1m1 0h1m10 0h3m1 0h3m-26 2h1m5 0h1m1 0h1m-1 2h1m10 0h1m-14 2h1m1 0h1m-3 2h1m-7 2h1m5 0h1m3 0h1m8 0h1m-14 2h1m1 0h1m1 0h1m8 0h1m-20 2h1m5 0h1m-8 2.1h1m4 0h1m5 0h1m8 0h1m3 0h1m1 0h1m-18 2h1m10 0h1m-19 2h1m17 0h1m-19 4h1m8 0h1m-12 2h1m3 0h1m3 0h1m1 0h1m-5 2h1m1 0h1m1 0h1m9 0h1m2 0h2m-25 2h1m1 0h1m3 0h1m1 0h1m1 0h1m9 0h1m2 0h2m-25 2h1m1 0h1m3 0h1m3 0h1m9 0h1m3 0h1m1 0h1m-27 2h1m3 0h1m5 0h1m9 0h1m1 0h1m3 0h1m-27 2h1m3 0h1m3 0h1m1 0h1m9 0h1m3 0h1m1 0h1m-21 2h1m1 0h1m11 0h1m2 0h1m2 0h1m-27 2h1m7 0h1m1 0h1m11 0h1m1 0h1m1 0h1m-27 2h1m5 0h1m1 0h1m14 0h1m-24 2h1m7 0h1m1 0h1m9 0h1m5 0h1m-21 2h1m3 0h1m9 0h1m1 0h1m1 0h1m1 0h1m-27 2h1m1 0h1m19 0h2m-4 2h1m3 0h1m1 0h1m-27 2h1m1 0h1m23 0h2m-20 2h1m6 0h4m15 0h1m-35 1.9h1m1 0h1m3 0h1m1 0h1m1 0h1m13 0h1m-17 2h1m1 0h1m9 0h1m2 0h2m1 0h1m-25 2h1m3 0h1m13 0h1m1 0h3m1 0h1m-25 2h1m3 0h1m3 0h1m12 0h1m2 0h1m-21 2h1m1 0h1m1 0h1m14 0h1m-26 2h1m1 0h1m17 0h1m3 0h1m-19 2h1m15 0h3m1 0h1m-17 2h1m11 0h1m-21 2h1m7 0h1m9 0h1m2 0h2m1 0h1m-27 2h1m9 0h1m9 0h1m1 0h3m1 0h1m-21 2h1m1 0h1m11 0h1m3 0h1m1 0h1m-7 2h1m1 0h3m-25 2h1m7 0h1m1 0h1m9 0h1m1 0h3m1 0h1m-27 2h1m2 0h1m2 0h1m1 0h1m1 0h1m9 0h1m1 0h3m1 0h1m-21 2h1m1 0h1m11 0h1m4 0h1m-20 2h1m1 0h1m1 0h1m9 0h1m2 0h2m1 0h1m-19 2h1m21 0h1m1 0h1m1 0h2m-32 2h1m21 0h1m3 0h5m-27 2.1h1m11 0h1m1 0h1m4 0h1m2 0h1m1 0h1m1 0h1m-7 2h2m-24 2h1m1 0h1m3 0h1m3 0h1m3 0h4m3 0h1m5 0h1m-24 2.1h1m19 0h2m2 0h2m-36 2h1m1 0h1m1 0h1m1 0h1m1 0h1m1 0h1m1 0h1m9 0h1m6 0h1m1 0h2m1 0h1m-6 2h5m-34 2h1m5 0h1m1 0h1m1 0h1m5 0h1m1 0h1m2 0h2m1 0h2m6 0h1m1 0h1m-23 2.1h1m9 0h1m6 0h2m1 0h1m1 0h2m-7 2h2m1 0h1m1 0h1m-27 2h1m1 0h1m5 0h1m6 0h2m2 0h1m3 0h1m1 0h1m1 0h1m-36 2h1m1 0h1m1 0h1m1 0h1m1 0h1m1 0h1m5 0h1m7 0h1m1 0h1m5 0h2m1 0h1m-32 2.1h1m1 0h1m8 0h5m1 0h1m5 0h1m3 0h1m-4 2h2m-26 2h1m25 0h6m-32 2.1h1m5 0h1m1 0h1m3 0h1m1 0h1m1 0h1m2 0h1m1 0h1m1 0h1m-26 2h1m7 0h1m1 0h1m3 0h1m1 0h2m1 0h1m11 0h1m-26 2h3m9 0h2m1 0h3m9 0h1m-32 2h1m1 0h1m1 0h1m3 0h1m7 0h1m1 0h1m1 0h1m-21 1.9h1m5 0h1m1 0h1m8 0h2m1 0h2m1 0h1m-26 2h1m3 0h1m1 0h1m1 0h1m11 0h2m1 0h2m4 0h2m-31 2h1m1 0h1m3 0h1m12 0h1m7 0h1m-20 2h1m1 0h1m10 0h1m5 0h1m-26 1.9h1m7 0h1m8 0h1m1 0h2m1 0h1m-23 2h1m3 0h1m19 0h2m-26 2h1m23 0h2m-30 2h1m3 0h1m5 0h1m9 0h1m1 0h1m4 0h1m-28 2h1m1 0h1m1 0h1m1 0h1m1 0h1m1 0h1m1 0h1m12 0h2m2 0h1m-28 1.9h1m1 0h1m1 0h1m1 0h1m1 0h1m1 0h1m11 0h1m-22 2h1m1 0h2m1 0h1m12 0h1m1 0h3m4 0h2m2 0h1m-31 1.9h1m9 0h2m4 0h6m-26 3.8h1m1 0h1m1 0h1m3 0h1m3 0h1m6 0h2m1 0h2m2 0h2m3 0h5m-28 1.9h2m4 0h1m4 0h2m1 0h1m1 0h1m1 0h1m7 0h1m-33 1.9h1m3 0h1m1 0h2m10 0h7m3 0h1m-27 1.9h1m1 0h1m3 0h1m19 0h2m1 0h1m1 0h1m-36 1.9h1m3 0h1m1 0h1m1 0h1m1 0h1m1 0h1m13 0h1m3 0h2m1 0h3m-15 1.9h1m2 0h1m1 0h1m4 0h1m3 0h1m-34 1.9h1m1 0h1m1 0h1m1 0h1m1 0h1m15 0h1m3 0h3m2 0h1m-36 1.9h1m1 0h1m5 0h1m3 0h1m7 0h1m10 0h5m-32 2h1m9 0h2m5 0h1m1 0h2m2 0h1m7 0h1m-26 1.9h1m3 0h1m5 0h1m1 0h3m1 0h1m3 0h2m3 0h1m-15 1.9h1m4 0h2m3 0h1m1 0h1m-34 1.9h1m3 0h1m1 0h1m3 0h1m9 0h1m3 0h1m6 0h2m2 0h1m-36 1.9h1m1 0h1m3 0h1m5 0h1m7 0h3m1 0h2m1 0h1m2 0h4m1 0h1m-35 1.8h1m5 0h1m2 0h2m1 0h1m2 0h2m4 0h1m1 0h2m1 0h1m-25 1.8h1m1 0h1m1 0h1m1 0h1m1 0h1m1 0h1m11 0h1m-26 1.8h1m1 0h1m7 0h1m1 0h1m7 0h1m1 0h1m1 0h2m1 0h1m3 0h4m-21 1.9h3m2 0h1m-17 1.9h1m7 0h1m4 0h1m-15 1.9h1m4 0h1m1 0h1m1 0h1m10 0h1m3 0h1m-13 1.9h1m4 0h1m-15 1.9h1m13 0h1m6 0h1m-27 1.9h2m3 0h1m1 0h1m1 0h4m7 0h1m1 0h1m1 0h2m-12 1.9h2m3 0h1m-20 2h1m1 0h1m3 0h1m1 0h1m1 0h1m1 0h1m7 0h1m1 0h1m-19 2.1h1m3 0h1m1 0h1m5 0h2m3 0h1m1 0h1m1 0h1m1 0h1m2 0h5m-32 2.1h2m3 0h5m3 0h1m6 0h4m-21 2h1m3 0h1m1 0h1m3 0h1m3 0h2m1 0h4m5 0h1m1 0h1m-34 2.1h6m3 0h1m2 0h1m8 0h1m3 0h1m-27 2h1m20 0h1m1 0h1m1 0h1m1 0h1m4 0h1m1 0h2m-34 2.1h2m1 0h2m9 0h2m2 0h1m1 0h1m1 0h1m-11 2.1h1m-1 2h1m3 0h1m-1 6.2h1m-1 2.1h1m-5 2h1m-1 4.1h1m-1 2.1h1m-1 4.1h1m-1 2.1h1m0 2h5m10 0h6m-22 2h1m1 0h4m10 0h3m1 0h2m-10 2h1m-11 2h1m1 0h1m13 0h1m1 0h2m-21 1.9h2m2 0h1m11 0h4m-21 2h2m1 0h1m13 0h1m1 0h3m-29 2h3m12 0h1m1 0h1m2 0h1m-28 2h1m3 0h1m3 0h1m7 1.9h4m10 0h1m1 0h2m-34 2h1m1 0h1m5 0h1m3 0h1m11 0h1m-11 1.9h1m1 0h2m12 0h1m-17 2h1m2 0h2m11 0h2m2 0h2m-22 1.9h2m3 0h1m5 0h1m4 0h1m1 0h1m1 0h2m-11 1.9h1m6 0h1m-18 1.9h1m1 0h1m13 0h2m2 0h1m-19 2h1m13 0h1m1 0h1m1 0h1m-21 1.9h1m1 0h1m12 0h3m-17 1.9h1m-3 1.9h1m2 0h3m-6 1.9h1m1 0h3m11 0h1m2 0h2m-18 2h1m1 0h2m14 0h1m-36 2h1m3 0h1m15 0h1m-7 2h4m13 0h1m-26 2h1m5 0h1m7 0h1m-5 2h1m13 0h1m1 0h2m-34 2h1m13 0h2m1 0h2m13 0h1m2 0h1m-22 2h1m1 0h3m12 0h3m-34 2h1m2 0h1m7 0h1m9 0h2m-9 1.9h1m1 0h1m1 0h1m11 0h1m2 0h3m-22 2h3m1 0h1m11 0h5m-20 1.9h1m1 0h3m2 0h1m8 0h5m-21 1.9h3m4 0h1m7 0h1m1 0h4m-22 1.9h1m1 0h1m2 0h1m10 0h1m1 0h1m1 0h1m-27 2h1m5 0h2m3 0h1m10 0h2m2 0h2m-22 1.9h2m3 0h1m10 0h1m1 0h2m-30 1.8h1m3 0h1m1 0h1m1 0h1m6 0h1m11 0h1m1 0h1m-20 2h3m1 0h2m11 0h2m-27 1.8h1m12 0h1m11 0h1m1 0h1m1 0h1m-34 1.9h1m1 0h1m1 0h1m5 0h1m3 0h1m1 0h1m-5 2.1h2m2 0h2m12 0h1m1 0h1m-33 2.2h1m1 0h1m3 0h1m13 0h1m11 0h1m-20 2.1h1m1 0h1m-12 2.2h1m15 0h1m-9 2.1h1m2 0h3m10 0h5m-21 2.1h1m5 0h1m1 0h1m8 0h1m-30 2h1m5 0h1m13 0h1m1 0h1m-7 2.2h2m13 0h1m1 0h1m-28 2h1m21 0h2m-32 2h1m9 0h1m3 0h6m1 0h1m1 0h2m5 0h1m1 0h1m2 0h1m-34 2h1m3 0h1m5 0h1m2 0h1m1 0h1m3 0h1m1 0h1m1 0h1m-26 2h1m5 0h1m5 0h1m2 0h1m1 0h1m5 0h1m1 0h1m1 0h1m-28 1.9h1m1 0h1m1 0h1m5 0h1m1 0h1m1 0h2m1 0h2m1 0h3m1 0h4m2 0h3m2 0h1m-36 2h1m1 0h1m4 0h2m1 0h1m1 0h1m4 0h1m3 0h1m1 0h2m1 0h1m5 0h1m-33 2h2m1 0h1m2 0h2m5 0h2m3 0h1m3 0h1m-23 2h1m1 0h1m11 0h2m1 0h5m1 0h4m8 0h1m-34 2h1m3 0h1m1 0h1m4 0h2m3 0h1m2 0h2m1 0h1m1 0h1m-26 1.9h1m5 0h1m1 0h1m25 0h1m-35 2h1m3 0h1m1 0h1m6 0h2m3 0h2m4 0h1m1 0h1m2 0h2m1 0h2m-33 1.9h4m1 0h1m1 0h1m7 0h1m2 0h1m4 0h2m4 0h1m2 0h1m-35 1.9h1m2 0h1m1 0h1m1 0h1m1 0h3m1 0h2m1 0h3m1 0h2m4 0h2m4 0h3m-35 1.9h1m1 0h1m2 0h1m2 0h3m2 0h6m1 0h3m1 0h3m5 0h3m-35 2h1m1 0h1m5 0h1m5 0h1m4 0h1m1 0h2m2 0h1m8 0h1m-31 2h1m3 0h1m3 0h1m1 0h5m1 0h6m1 0h1m2 0h2m-32 2h1m9 0h1m6 0h1m-15 2h1m4 0h2m8 0h1m1 0h1m2 0h2m1 0h1m3 0h1m3 0h2m-35 2h1m7 0h1m1 0h1m14 0h1m-27 2h1m7 0h1m5 0h1m1 0h1m2 0h1m1 0h5m4 0h1m1 0h3m-35 2h1m1 0h1m3 0h1m3 0h1m1 0h1m1 0h3m2 0h2m2 0h2m1 0h2m4 0h2m1 0h1m-23 2h1m2 0h1m3 0h1m1 0h1m3 0h1m3 0h3m1 0h2m-28 2.1h1m7 0h1m1 0h1m6 0h1m4 0h1m1 0h1m2 0h1m-34 2h1m1 0h1m3 0h1m5 0h2m2 0h2m3 0h3m5 0h1m1 0h3m-36 2h1m3 0h1m1 0h1m1 0h1m3 0h1m1 0h2m1 0h2m1 0h2m3 0h1m1 0h1m2 0h1m2 0h1m1 0h1m-32 2h1m3 0h1m1 0h1m1 0h1m1 0h1m2 0h2m1 0h1m4 0h1m-26 2h1m1 0h1m1 0h1m1 0h1m3 0h1m1 0h1m2 0h3m1 0h1m4 0h1m2 0h1m2 0h1m2 0h1m-31 2h1m6 0h1m4 0h4m2 0h1m5 0h1m2 0h1m4 0h1m-36 2h1m1 0h1m5 0h1m5 0h1m3 0h2m2 0h6m3 0h1m-30 2h1m1 0h1m3 0h1m4 0h1m2 0h1m1 0h1m11 0h2m2 0h1m-33 2h1m3 0h1m5 0h1m2 0h3m5 0h1m-22 2.1h1m1 0h1m3 0h2m2 0h1m3 0h1m-17 2.1h1m1 0h1m1 0h1m5 0h1m1 0h1m4 0h1m4 0h1m1 0h1m1 0h1m-27 2h1m3 0h1m1 0h1m3 0h1m1 0h1m4 0h1m4 0h1m1 0h1m3 0h1m4 0h1m-34 2.1h1m3 0h1m1 0h2m1 0h1m1 0h2m1 0h1m2 0h2m1 0h1m5 0h1m5 0h2m-32 2.1h1m1 0h1m1 0h1m1 0h1m1 0h1m1 0h1m1 0h2m1 0h1m2 0h2m1 0h1m9 0h1m-34 2h1m3 0h1m10 0h2m3 0h2m2 0h1m1 0h2m-28 2.2h1m1 0h1m3 0h1m3 0h1m1 0h1m2 0h3m2 0h1m1 0h5m-27 2.1h1m1 0h1m3 0h1m1 0h1m3 0h1m7 0h6m1 0h1m-28 2h1m5 0h1m3 0h1m1 0h1m1 0h2m1 0h1m2 0h2m1 0h1m1 0h3m-12 2.2h3m2 0h1m4 0h2m-28 2.1h1m1 0h1m7 0h1m1 0h1m7 0h1m1 0h4m-24 2.1h1m5 0h1m3 0h1m4 0h1m2 0h5m1 0h2m-22 2.1h1m1 0h1m3 0h1m3 0h1m3 0h2m1 0h3m-3 2h1m4 0h1m-29 2.2h1m3 0h1m1 0h1m1 0h1m5 0h1m5 0h1m1 0h1m2 0h3m-24 1.9h1m10 0h1m1 0h1m2 0h2m5 0h1m1 0h1m-28 1.9h1m18 0h1m2 0h1m2 0h1m1 0h1m-28 1.9h1m3 0h1m3 0h1m1 0h1m2 0h1m1 0h1m1 0h4m1 0h1m4 0h1m-30 1.9h1m18 0h3m2 0h5m-14 1.8h1m3 0h1m3 0h1m4 0h1m-27 1.9h1m1 0h1m3 0h1m1 0h1m4 0h1m4 0h4m1 0h2m-6 1.9h1m1 0h1m4 0h2m-30 1.9h1m3 0h1m2 0h1m6 0h2m4 0h1m1 0h1m3 0h1m4 0h1m-28 1.9h1m10 0h1m2 0h2m6 0h2m0 2.1h2m-28 2h1m9 0h1m11 0h1m3 0h1m-29 2.1h1m1 0h1m3 0h1m3 0h1m3 0h2m1 0h1m2 0h3m1 0h2m1 0h1m-28 2h1m1 0h1m1 0h1m3 0h1m1 0h1m7 0h1m1 0h1m1 0h1m2 0h2m1 0h1m-29 4.1h1m1 0h1m1 0h1m1 0h1m1 0h1m1 0h1m1 0h1m1 0h2m1 0h1m2 0h6m1 0h2m-23 2h1m-7 2.1h1m1 0h1m1 0h1m3 0h1m1 0h1m4 0h1m1 0h2m3 0h3m2 0h2m-29 2h1m3 0h1m1 0h1m5 0h1m1 0h1m3 0h2m1 0h2m5 0h1m5 0h1m-10 2.1h1m3 0h1m-30 2h1m1 0h1m1 0h1m1 0h1m1 0h1m1 0h1m4 0h2m2 0h2m1 0h1m1 0h1m8 0h1m-34 2h1m5 0h1m1 0h1m1 0h1m1 0h1m2 0h3m1 0h4m1 0h1m1 0h1m5 0h1m-30 2h1m13 0h1m14 0h1m-33 2h1m3 0h1m1 0h1m3 0h1m4 0h1m1 0h2m1 0h1m11 0h2m-31 2h1m4 0h1m1 0h1m7 0h1m1 0h1m11 0h1m-33 2h1m3 0h1m1 0h1m3 0h1m5 0h6m1 0h4m-27 2h2m1 0h1m1 0h1m1 0h1m1 0h2m2 0h1m-13 2h1m1 0h1m1 0h1m1 0h1m1 0h1m1 0h1m1 0h1m21 0h1m-32 1.9h1m10 0h1m2 0h1m2 0h2m1 0h1m8 0h1m-32 2h1m1 0h1m1 0h1m1 0h1m1 0h1m5 0h3m3 0h1m1 0h2m7 0h1m-32 2h1m3 0h1m3 0h1m3 0h4m3 0h1m2 0h1m2 0h1m4 0h2m-30 2h1m5 0h1m1 0h1m3 0h3m2 0h2m1 0h4m5 0h1m-34 2h1m1 0h1m1 0h1m3 0h1m1 0h1m1 0h1m1 0h3m1 0h1m1 0h1m2 0h5m5 0h1m-22 2h1m9 0h1m-21 2h1m1 0h1m3 0h1m1 0h1m4 0h10m1 0h1m6 0h1m-34 2h1m1 0h1m3 0h1m8 0h5m1 0h1m5 0h1m-28 2h1m1 0h1m3 0h1m5 0h1m1 0h2m2 0h4m1 0h1m1 0h1m-26 2h1m1 0h1m7 0h1m1 0h1m1 0h2m7 0h2m2 0h1m-18 2h1m1 0h1m1 0h1m1 0h1m3 0h2m1 0h1m1 0h1m1 0h1m-26 2h1m3 0h1m8 0h3m1 0h1m-3 2h3m6 0h2m4 0h1m-25 2.1h1m6 0h1m7 0h1m1 0h1m6 0h1m-33 2h1m1 0h1m1 0h1m7 0h1m5 0h1m1 0h1m3 0h1m-24 2h1m15 0h2m6 0h1m1 0h1m-28 2h1m7 0h1m7 0h1m7 0h2m-26 2h1m16 0h1m1 0h1m1 0h1m1 0h1m3 0h1"/>
<path stroke="#d5eed0" d="M1 77.8h1m6 0h1m-5 1.9h1m3 0h1m1 0h1m-10 1.9h1m6 0h1m-5 1.9h1m3 0h1m3 0h1m-12 1.9h1m2 1.8h1m3 0h1m3 1.9h1m-8 1.9h1m-4 2h1m2 0h1m5 0h1m-7 2h1m1 0h1m-3 2h1m1 0h1m1 0h1m-1 1.9h1m3 0h1m-3 2h1m-7 2h1m-1 2h1m-1 1.9h1m-4 2h1m2 0h1m1 0h1m5 0h1m-4 2h1m9 0h1m2 0h2m-5 2h1m-19 2.1h1m20 0h1m-16 2h1m11 0h1m-15 2h1m1 0h1m16 0h1m-20 2.1h1m13 0h1m-15 2h1m1 0h1m18 0h1m-26 2h1m5 0h1m-7 2.1h1m3 0h1m1 0h1m14 0h1m-24 2h1m1 0h1m3 0h1m-5 2h1m22 0h1m1 0h1m-26 4.1h1m3 0h1m-5 2h1m3 0h1m17 0h1m-19 2h1m-5 2.1h1m3 0h1m3 0h1m-9 2h1m3 0h1m3 0h1m-5 2h1m14 0h1m-20 2h1m5 0h1m14 0h1m-22 2.1h1m3 0h1m1 0h1m1 2h1m9 0h1m2 0h2m-19 2h1m16 0h1m-3 2.1h1m3 0h1m1 0h1m-26 2h1m18 0h1m3 0h1m-24 2h1m22 0h1m-24 2.1h1m18 0h1m3 0h1m1 0h1m-26 2h1m18 0h1m3 0h1m-24 2h1m18 0h1m3 0h1m-24 2h1m20 0h1m-22 2.1h1m5 0h1m12 0h1m-20 2h1m21 0h1m-17 2h1m12 0h1m-20 2.1h1m3 0h1m14 0h1m3 2h1m-5 2h1m3 0h1m-5 2h1m-20 2.1h1m17 0h1m2 0h2m1 0h1m-25 2h1m3 2h1m18 0h1m-24 2.1h1m22 0h1m-24 2h1m5 0h1m14 0h2m1 0h1m-19 2h1m-7 2.1h1m17 0h1m2 0h2m1 0h1m-25 2h1m-3 2h1m3 0h1m4 0h1m1 0h1m-8 1.9h4m1 0h1m-4 1.9h2m5 0h1m-14 2h1m3 0h1m1 0h1m4 0h1m-12 1.9h1m3 0h2m3 0h1m1 0h1m-6 2h1m2 0h1m1 0h1m-8 1.9h2m3 0h1m1 0h1m1 0h1m-14 1.9h1m4 0h3m3 0h1m-7 2h3m1 0h1m3 0h1m-14 1.9h1m3 0h2m3 0h1m1 0h1m-12 1.9h1m3 0h2m3 0h1m1 0h1m-4 2h1m-1 2.1h1m18 0h1m-8 2h1m2 0h1m2 0h1m-23 4.1h1m5 0h1m9 2.1h1m3 0h1m-15 2h1m10 0h1m-12 4.1h1m-1 4.1h1m9 0h1m3 0h1m-17 2h1m12 0h1m5 0h1m-18 2.1h1m14 0h1m-25 2h1m7 0h1m1 0h1m1 0h1m-13 2h1m5 0h1m1 0h1m-10 1.9h1m8 0h1m3 0h1m-13 2h1m5 0h1m1 0h1m-10 2h1m1 0h1m5 0h1m-9 2h1m1 0h1m3 0h1m1 0h1m1 0h1m-5 2h1m1 0h1m1 0h1m-1 2h1m-3 2h1m1 0h1m15 0h1m-27 2h1m1 0h1m3 0h1m3 0h1m9 0h1m5 0h1m-27 2h1m1 0h1m5 0h1m1 0h1m-9 2h1m3 0h1m1 0h1m14 0h1m3 0h1m-28 2h1m5 0h1m1 0h1m1 0h1m10 0h1m3 0h1m1 0h1m-25 2h1m2 0h1m1 0h1m1 0h1m-11 2h1m1 0h1m3 0h1m1 0h1m1 0h1m9 0h1m2 0h2m1 0h1m-27 2h1m1 0h1m3 0h1m1 0h1m1 0h1m10 0h1m3 0h1m1 0h1m-28 2h1m5 0h1m14 0h1m3 0h1m1 0h1m-28 2h1m1 0h1m22 0h1m-26 2h1m1 0h1m3 0h1m1 0h1m1 0h1m9 0h1m2 0h1m-22 2h1m3 0h1m3 0h1m10 0h1m5 0h1m-28 2h1m1 0h1m20 0h1m-22 2h1m3 0h1m3 0h1m9 0h1m2 0h2m1 0h1m-24 2h1m16 0h1m2 0h2m-23 2h1m1 0h1m16 0h1m-22 2h1m3 0h1m16 0h1m3 0h1m1 0h1m-25 2h2m16 0h1m3 0h1m1 0h1m-24 2h1m1 0h1m1 0h1m14 0h1m-21 2h2m20 2h1m1 0h1m-20 2h1m18 0h1m-24 2h1m16 0h1m5 2h1m-5 2h1m-21 2h1m6 0h1m16 0h1m-24 2h1m16 0h1m3 0h1m-22 2h1m18 0h1m-21 2h2m16 0h1m3 0h1m1 0h1m-26 2h1m5 0h1m16 0h1m1 0h1m-24 2h1m16 0h1m3 0h1m-26 2h1m20 0h1m-18 2h2m-1 3.9h1m7 0h1m-10 1.9h2m7 1.9h1m-10 2h1m2 0h1m5 0h1m-10 1.9h1m8 0h1m-10 1.9h2m7 0h1m-9 2h1m7 0h1m-9 1.9h1m-2 3.9h1m8 0h1m-10 1.9h1m8 0h1m-9 2h1m-2 1.9h1m-2 2h1m17 0h1m3 0h1m-23 2h1m17 0h1m3 0h1m-26 2h1m2 0h1m6 0h1m10 0h1m3 0h1m1 0h1m-25 2h1m-1 2h1m-1 2h1m6 0h1m-8 2h1m19 0h1m2 0h1m-24 2h1m-4 2h1m9 0h1m-11 2h1m2 0h2m20 0h1m1 0h1m-28 2h1m2 0h1m17 0h1m-19 2h1m6 0h1m9 0h1m3 0h1m1 0h1m-24 2h1m4 0h1m18 0h1m-28 2h1m2 0h1m-4 2h1m2 0h1m19 0h1m2 0h1m-24 2h1m4 0h1m11 0h1m-21 2h1m2 0h1m-1 2h1m4 0h1m-6 2h1m17 0h1m3 0h1m1 0h1m-28 2h1m2 0h1m19 0h1m-16 2h1m-9 2h1m7 0h1m12 0h1m3 0h1m-23 2h1m19 0h2m-22 2h1m4 0h1m11 0h1m2 0h2m-22 2h1m-4 2h1m7 0h1m-9 2h1m20 0h1m5 0h1m-25 2h1m4 0h1m12 0h1m3 0h1m1 0h1m-25 2h1m4 0h1m12 0h1m3 0h1m1 0h1m-25 2h1m6 0h1m9 0h1m2 0h2m-22 2h1m17 0h1m3 0h1m1 0h1m-25 2h1m-4 2h1m2 0h1m4 0h1m1 0h1m13 0h1m-25 2h1m2 0h1m4 0h1m1 0h1m-11 2h1m2 0h1m19 0h1m-16 1.9h1m16 0h1m1 0h1m-28 2h1m2 0h1m6 0h1m10 0h1m3 0h1m-26 2h1m2 0h1m4 0h1m11 0h1m4 0h1m1 0h1m-28 2h1m2 0h1m6 0h1m-8 2h1m21 0h1m-23 2h1m-1 2h1m4 0h1m16 0h1m1 0h1m-28 2h1m2 0h1m17 0h1m3 0h1m1 0h1m-28 2h1m2 0h1m-4 2h1m2 0h1m-4 2h1m24 0h1m1 0h1m-28 2h1m7 0h1m1 0h1m14 0h1m-26 2h1m7 0h1m1 0h1m14 0h1m-23 2h1m4 0h1m11 0h1m2 0h2m-25 2h1m9 0h1m14 0h1m-3 2h1m2 0h1m-27 2h1m9 0h1m9 0h1m2 0h2m-25 2h1m24 0h1m1 0h1m-25 2h1m20 0h1m1 0h1m-24 2h1m6 0h1m-8 2h1m4 0h1m16 0h1m-3 2h2m-22 2h1m4 0h1m11 2h1m-21 2h1m2 0h1m23 0h1m-28 2h1m2 0h1m-1 2h1m-1 2h1m19 0h1m-3 2h1m3 0h1m-3 2h1m-24 2h1m2 0h1m22 0h1m-24 2h1m21 0h1m-23 2h1m4 2h1m-9 2h1m2 0h1m4 0h1m-8 2h1m1 0h1m1 0h1m-5 2.1h2m2 0h1m-5 2.1h1m1 0h3m-5 2.1h1m1 0h1m1 0h1m-4 2.1h1m2 2.1h1m5 0h1m-11 2.1h1m2 2.1h2m-3 2.2h1m5 0h1m-9 2.1h1m1 0h1m1 0h1m1 0h1m-2 2h1m18 2h1m1 0h1m-22 2h1m-1 2h1m20 2h1m-3 2h1m1 0h1m-5 2h1m-1 2h1m2 0h1m-25 4.1h1m18 0h1m3 0h1m-20 2h1m-1 2h1m20 0h1m-22 2h1m14 0h1m3 0h1m1 0h1m-22 2h1m14 0h1m3 0h1m1 0h1m-22 2h1m-1 2h1m20 0h1m-26 2h1m3 0h1m-5 2h1m-1 2h1m7 0h1m-5 2h1m3 0h1m1 0h1m12 2h1m-16 2h1m9 0h1m2 0h2m1 0h1m-17 2h1m-5 4.1h1m14 0h1m3 0h1m1 0h1m-18 2h1m-5 2h1m3 0h1m10 0h1m3 0h1m1 0h1m-26 2h1m3 0h1m14 0h1m-16 2h1m-7 2h1m1 0h1m7 0h1m14 0h1m1 0h1m-22 2h1m13 0h1m2 0h2m-19 2h1m3 0h1m-9 9.9h1m8 23.9h1m-10 5.9h1m8 0h1m-10 2h1m8 0h1m-1 4h1m-1 5.9h1m-1 2h1m-6 4h1m4 0h1m-8 4h1m-3 1.9h1m-1 6h1m3 0h1m-1 7.9h1m6 6h1m-8 2h1m1 0h1m-3 2h1m17 0h1m-5 2h1m2 0h2m1 0h1m-21 2h1m5 0h1m-7 2h1m5 0h1m-7 2h1m-4 2h1m2 0h1m5 0h1m-10 4.1h1m17 0h1m3 0h1m1 0h1m-16 2h1m14 0h1m-22 2h1m13 0h1m2 0h2m1 0h1m-1 2h1m-15 2h1m10 0h2m1 0h1m-27 2h1m11 0h1m11 0h1m1 0h1m-24 2h1m2 0h1m13 0h1m3 0h1m-25 2h1m11 0h1m8 0h1m-19 2h1m21 0h1m1 0h1m-22 2h1m5 0h1m12 0h1m1 0h1m-25 2h1m2 0h1m14 0h1m3 0h1m1 0h1m-25 2h1m2 0h1m14 0h1m3 0h1m1 0h1m-22 2h1m14 0h1m3 0h1m1 0h1m-22 4h1m20 0h1m-25 2.1h1m2 0h1m1 0h1m12 0h1m-16 2h1m18 0h1m-20 2h1m16 0h1m-21 2h1m2 0h1m1 0h1m12 0h1m3 0h1m-18 2h1m12 0h1m3 2h1m-20 2h1m-1 2h1m5 0h1m-10 2h1m2 0h1m-1 2h1m18 0h1m-20 2h1m20 0h1m-25 2h1m2 0h1m-1 2h1m13 0h1m2 0h1m-18 2h1m16 0h1m-4 2h1m2 0h2m1 0h1m-21 2.1h1m-1 2h1m17 0h1m1 0h1m-21 2h1m1 0h1m3 0h1m14 0h1m-22 2h1m18 0h1m1 0h1m-20 2h1m-3 2h1m1 0h1m18 0h1m-22 2h1m5 0h1m10 0h1m-18 2h1m-1 2h1m5 0h1m11 0h1m-23 2h1m9 0h1m7 0h1m5 0h1m-15 2h1m12 0h1m-22 2h1m1 0h1m5 0h1m8 0h1m3 0h1m-23 2h1m8 2h1m-10 4h1m2 0h1m14 0h1m3 0h1m-14 2.1h1m-1 2h1m8 0h1m3 0h1m-20 2h1m5 0h1m8 0h1m-20 4h2m2 0h1m5 0h1m-7 2h1m1 0h1m12 0h1m-10 2h1m12 0h1m1 0h1m-22 2h1m5 0h1m7 0h1m-9 2h1m7 0h1m1 0h2m2 0h1m0 2h1m-25 2h1m2 0h1m-1 2h1m-1 2h1m5 0h1m8 0h1m3 0h1m-14 2h1m8 0h1m3 0h1m1 0h1m-22 4.1h1m5 0h1m-10 2h1m8 0h1m7 0h1m3 0h1m-25 2h1m5 0h1m5 0h1m-7 2h1m5 0h1m-13 2h1m19 0h1m3 0h1m1 0h1m-21 2h1m5 0h1m10 0h1m-18 2h1m14 0h1m-1 2h1m-16 2h1m-1 4h1m1 0h1m12 0h1m-10 2h1m7 0h1m2 0h2m-25 2h1m22 0h1m-18 2h1m16 0h1m-18 2h1m14 0h1m-10 2.1h1m-7 2h1m18 0h1m-20 2h1m14 0h1m3 0h1m1 0h1m-22 2h1m-1 2h1m5 0h1m-10 2h1m17 0h1m3 0h1m1 0h1m-25 2h1m8 0h1m12 0h1m-14 2h1m-8 2h1m-6 2h1m4 0h1m-6 2h1m4 0h1m-6 2h1m-1 2h1m4 0h1m5 0h1m-10 2.1h1m2 0h1m-4 4h1m2 2h1m5 0h1m-12 2h1m4 0h1m5 0h1m-12 2h1m1 0h1m8 0h1m-10 2h1m2 0h1m-1 2h1m7 0h1m-14 2h1m1 0h1m-3 2.1h1m4 0h1m-6 2h1m5 0h1m6 0h1m-14 2h1m4 0h1m-4 2h1m2 0h1m-1 2h1m-6 2h1m10 0h1m-7 2h1m-4 2h1m2 0h1m-6 2h1m1 2.1h1m2 0h1m-6 2h1m1 0h1m2 0h1m-1 2h1m-6 2h1m1 0h1m8 0h1m-10 2h1m8 0h1m-10 2h1m2 0h2m6 0h1m-14 2h1m10 0h1m-10 2h1m8 0h1m-1 2h1m-1 2h1m-12 2.1h1m1 0h1m8 0h1m-10 2h1m8 0h1m-12 2h1m1 0h1m8 0h1m-12 2h1m1 0h1m8 0h1m-12 2h1m10 0h1m-1 2h1m-12 2h1m-1 2h1m1 0h1m-3 2h1m1 0h1m8 0h1m-10 2.1h1m-3 2h1m1 0h1m2 0h2m-7 2h1m10 0h1m-12 2h1m4 0h1m5 0h1m-12 2h1m4 0h1m7 0h1m-11 2h1m2 0h1m5 0h1m8 0h1m5 0h1m-25 2h2m7 0h1m-9 2h1m3 2h1m14 0h1m-21 2h1m8 0h1m10 0h2m-22 2h1m2 0h1m5 0h1m10 0h1m-21 2h2m5 0h1m1 0h1m-9 2h1m1 0h1m5 0h1m7 0h1m2 0h1m-21 2h2m5 0h1m1 0h1m12 0h1m1 0h1m-24 2h1m1 0h1m5 0h1m10 0h2m-25 2h1m3 0h1m7 0h1m10 0h1m-20 2h1m1 0h1m1 0h1m1 0h1m9 0h1m3 0h1m1 0h1m-27 2h1m5 0h1m1 0h1m1 0h1m14 0h1m1 0h1m-25 2h1m2 0h1m1 0h1m1 0h1m10 0h1m3 0h1m-26 2h1m2 0h1m2 0h1m3 0h1m9 0h1m1 0h1m1 0h1m-22 1.9h2m7 0h1m8 0h1m3 0h1m1 0h1m-28 2h1m2 0h1m2 0h1m-7 2h1m7 0h1m1 0h1m10 0h1m-22 2h1m7 0h1m3 0h1m8 0h1m3 0h1m1 0h1m-28 2h1m2 0h1m8 0h1m8 0h1m5 0h1m-25 2h1m2 0h1m1 0h1m1 0h1m10 0h1m3 0h1m1 0h1m-28 2h1m2 0h1m4 0h1m1 0h1m9 0h1m4 0h1m-26 2h1m2 0h1m2 0h1m1 0h1m11 0h1m2 0h2m1 0h1m-27 2h1m2 0h1m2 0h1m1 0h1m12 0h1m3 0h1m1 0h1m-25 2h1m2 0h1m1 0h1m3 0h1m12 0h1m1 0h1m-25 2h2m5 0h1m1 0h1m10 0h1m-24 2h1m2 0h2m1 0h1m1 0h1m1 0h1m15 0h1m-24 2h1m2 0h1m5 0h1m8 2h1m3 0h1m-26 2h1m2 0h2m5 0h1m1 0h1m8 0h1m5 0h1m-28 2h1m2 0h2m16 0h1m3 0h1m1 0h1m-24 2h1m12 0h1m2 0h1m1 0h1m8 0h1m1 0h1m-34 2h1m1 0h1m5 0h1m1 0h1m1 0h1m5 0h1m1 0h5m10 0h1m-36 2.1h1m1 0h1m1 0h1m5 0h1m5 0h1m7 0h2m5 0h1m1 0h1m1 0h1m-4 2h4m-18 2h1m6 0h1m5 0h1m-32 2.1h1m3 0h1m3 0h1m3 0h1m5 0h1m1 0h2m2 0h3m6 0h1m-18 2h2m3 0h1m1 0h5m7 0h1m-36 2h1m3 0h1m1 0h1m1 0h1m3 0h1m3 0h1m1 0h1m1 0h1m1 0h3m10 0h1m-34 2h1m1 0h1m2 0h1m7 0h1m3 0h2m2 0h1m-24 2.1h1m1 0h1m13 0h1m3 0h2m2 0h1m1 0h2m3 0h1m-32 2h1m5 0h1m9 0h1m7 0h1m1 0h1m4 0h1m1 0h1m1 0h1m-36 2h1m3 0h1m2 0h1m3 0h1m1 0h1m3 0h1m1 0h1m1 0h1m3 0h1m-7 2h3m5 0h1m3 0h1m-2 4.1h1m1 0h4m-36 2h1m1 0h1m3 0h1m3 0h1m1 0h1m4 0h1m4 0h1m1 0h1m1 0h2m-26 2.1h1m2 0h4m6 0h1m1 0h1m1 0h1m-5 2h1m4 0h1m4 0h1m1 0h1m-21 2h1m5 0h1m8 0h1m3 0h2m2 0h1m2 0h1m-24 2h1m5 0h1m4 0h1m1 0h1m2 0h2m2 0h1m1 0h2m1 0h1m-29 1.9h1m18 0h1m3 0h2m1 0h1m1 0h1m-31 2h1m5 0h1m5 0h1m3 0h1m2 0h1m2 0h1m7 0h1m-36 2h1m5 0h1m3 0h1m1 0h1m7 0h1m1 0h1m3 0h1m5 0h1m-33 2h1m1 0h1m1 0h1m1 0h1m1 0h1m15 0h2m-24 1.9h1m5 0h1m1 0h1m9 0h1m1 0h1m2 0h1m1 0h1m3 0h1m1 0h2m-35 2h1m5 0h1m3 0h1m1 0h1m7 0h2m1 0h2m1 0h1m-25 2h1m3 0h1m3 0h1m-9 2h1m3 0h1m1 0h1m12 0h1m1 0h4m3 0h1m1 0h1m-13 2h1m1 0h2m3 0h1m-8 1.9h4m1 0h1m1 0h1m3 0h4m-28 2h1m1 0h1m1 0h1m1 0h1m3 0h1m15 0h1m1 0h1m-29 1.9h1m1 0h1m1 0h1m6 0h1m7 0h2m-26 1.9h1m1 0h1m27 0h1m1 0h1m-28 1.9h1m13 0h1m3 0h1m-25 1.9h1m1 0h1m1 0h1m1 0h1m3 0h1m1 0h1m1 0h1m-15 1.9h1m1 0h1m10 0h1m3 0h2m7 0h1m-8 1.9h8m4 0h1m-32 1.9h1m5 0h1m13 0h1m1 0h1m1 0h1m1 0h1m-27 1.9h1m3 0h1m1 0h1m5 0h2m8 0h1m1 0h1m-6 1.9h1m1 0h1m11 0h1m-29 1.9h1m3 0h1m11 0h1m3 0h1m3 0h1m-26 2h1m1 0h1m1 0h1m1 0h1m14 0h1m-2 1.9h1m1 0h1m-14 1.9h1m3 0h1m4 0h1m1 0h1m-18 1.9h1m12 0h1m3 0h2m-26 1.9h1m1 0h1m5 0h1m1 0h1m1 0h1m2 0h2m5 0h1m2 0h1m-24 1.8h1m1 0h1m3 0h1m4 1.8h1m1 0h1m-16 1.8h1m5 0h1m1 0h1m16 0h1m3 0h1m-18 3.8h2m4 0h1m-5 3.8h1m-2 1.9h1m1 0h1m-14 1.9h1m4 0h1m4 0h1m2 0h1m-12 3.9h1m5 0h1m-12 2.1h1m1 0h1m9 0h1m9 0h1m3 0h1m8 0h1m-34 2.1h1m17 0h1m1 0h1m-23 2h1m1 0h1m1 0h1m3 0h1m2 0h1m10 0h1m4 0h1m2 0h1m-22 2.1h1m4 0h2m-10 2h1m1 0h1m1 0h1m1 0h1m3 0h1m3 0h1m1 0h1m1 0h1m5 0h1m-21 2.1h2m2 0h2m2 8.2h1m-5 2.1h1m3 4.1h1m-1 2.1h1m-1 4.1h1m-19 12.2h1m3 0h1m3 0h1m13 0h1m2 0h1m1 2h1m-12 3.9h1m1 0h2m10 0h1m1 0h1m-32 2h4m1 0h1m5 0h1m-11 2h1m3 0h1m15 0h1m1 0h1m-19 1.9h1m7 0h1m19 0h2m-32 2h1m1 0h1m15 0h1m3 0h1m-25 1.9h1m21 0h1m-9 2h1m-1 1.9h1m1 0h1m-15 1.9h1m8 0h1m0 1.9h1m1 0h1m1 0h1m11 0h1m3 0h1m-21 2h3m1 0h2m10 0h1m1 0h1m1 0h1m-21 1.9h1m1 0h1m2 0h1m14 0h2m-36 1.9h1m7 0h1m1 0h1m1 0h1m8 0h1m3 0h1m-15 1.9h1m9 0h1m5 1.9h1m-26 2h1m5 0h1m1 0h1m4 0h1m-14 2h1m3 0h1m1 0h1m1 0h1m1 0h1m13 0h1m-19 2h1m1 0h1m1 0h1m7 0h1m3 2h1m1 0h1m-23 2h1m5 0h1m3 0h2m2 0h1m-17 2h1m1 0h1m1 0h1m1 0h1m3 0h1m6 0h2m5 0h1m-6 2h1m8 0h1m3 0h1m-34 2h2m1 0h2m2 0h3m1 0h1m7 0h1m6 0h1m-5 1.9h1m-22 3.9h1m1 0h1m1 0h1m1 0h1m11 0h1m-19 1.9h1m7 0h1m8 0h1m11 0h1m-15 1.9h2m12 0h1m1 0h1m-34 2h1m1 0h1m1 0h1m1 0h1m3 0h1m1 0h1m7 0h1m-19 1.9h1m9 0h1m4 0h1m4 0h1m8 0h1m3 0h1m-36 1.8h1m1 0h1m3 0h1m-5 2h1m9 0h1m4 0h1m4 0h1m10 0h1m1 0h1m-36 1.8h1m1 0h1m5 0h1m11 0h1m1 0h1m-15 1.9h1m2 0h1m8 0h3m-7 2.1h2m12 0h2m1 0h1m1 0h1m-36 2.2h1m5 0h1m16 0h1m1 0h1m-24 2.1h1m1 0h1m7 0h1m9 0h1m-23 2.2h1m1 0h1m1 0h1m3 0h1m1 0h1m1 0h1m7 0h1m-6 2.1h2m-17 2.1h1m1 0h1m1 0h1m1 0h1m1 0h1m1 0h1m-10 2h1m-2 2.2h1m1 0h1m1 0h1m1 0h1m1 0h1m1 0h1m1 0h1m7 0h1m1 0h1m-23 2h1m3 0h1m1 0h1m5 0h1m1 0h1m1 0h1m1 0h1m1 0h1m1 0h1m1 0h1m1 0h1m5 0h3m-27 2h1m3 0h1m12 0h1m1 0h1m3 0h1m-23 2h1m-1 2h1m1 0h1m-6 1.9h1m1 0h1m10 0h1m3 0h1m-21 2h1m1 0h2m2 0h1m1 0h1m-3 2h1m1 0h1m17 0h1m-26 2h1m1 0h1m1 0h1m1 0h1m1 0h1m9 0h1m-16 2h1m-5 3.9h1m5 0h1m1 0h1m1 0h1m4 0h1m3 0h1m-12 1.9h1m1 0h1m-11 3.8h1m3 0h1m3 0h1m-8 2h1m5 0h1m1 0h1m3 0h3m1 0h1m2 0h2m2 0h1m2 0h4m1 0h1m-36 2h1m1 0h1m3 0h1m3 0h1m15 0h1m5 0h4m-34 2h1m3 0h1m1 0h1m3 0h1m1 0h3m1 0h2m1 0h7m2 0h1m2 0h1m1 0h1m-25 2h1m1 0h1m18 0h1m-30 2h1m9 0h1m21 2h1m-31 2h1m12 0h1m2 0h2m7 0h1m-20 2h1m12 0h1m-24 2.1h1m3 0h1m1 0h1m1 0h1m1 0h1m-11 2h1m1 0h1m3 0h1m1 0h1m-8 2h1m7 0h1m5 0h1m2 0h1m2 0h3m1 0h1m-27 2h1m1 0h1m3 0h1m9 0h1m4 0h2m1 0h1m1 0h2m3 0h5m-22 2h1m7 0h2m1 0h2m4 0h2m1 0h2m-14 2h1m11 0h1m-34 2h1m1 0h1m5 0h1m11 0h1m8 0h1m3 0h1m-34 2h1m1 0h1m3 0h1m1 0h1m-10 2h1m3 0h1m3 0h1m1 0h2m2 0h1m5 0h1m3 0h1m1 0h1m6 0h1m-33 2.1h1m9 0h1m1 0h2m3 0h1m13 0h1m-27 2.1h1m2 0h1m4 0h1m1 0h1m15 0h1m-31 2h1m4 0h1m3 0h1m2 0h1m1 0h1m3 0h1m5 0h1m-11 2.1h1m-17 2.1h1m15 0h1m1 0h1m7 0h1m5 0h1m-31 2h1m3 0h1m7 0h1m2 0h2m13 0h2m-26 2.2h1m5 0h1m6 0h1m5 0h1m-24 2.1h1m5 0h1m3 0h1m1 0h2m8 0h1m-11 2h1m5 0h1m9 0h1m-28 2.2h1m5 0h1m20 0h1m-29 2.1h1m9 0h1m1 0h2m8 0h2m-24 2.1h1m1 0h1m7 0h3m15 0h1m-29 2.1h1m5 0h1m3 0h2m6 0h1m4 0h1m-28 2h1m1 0h1m1 0h1m1 0h1m1 0h1m3 0h1m7 0h3m1 0h4m-11 2.2h2m5 0h1m-25 1.9h1m5 0h1m3 0h1m3 0h1m1 0h1m2 0h1m2 0h5m-27 1.9h1m3 0h1m1 0h1m1 0h1m1 0h1m1 0h1m2 0h1m1 0h1m1 0h2m1 0h1m3 0h1m-27 1.9h1m3 0h1m3 0h1m5 0h1m1 0h1m1 0h1m6 0h1m-24 1.9h1m1 0h1m1 0h1m1 0h1m1 0h1m1 0h1m2 0h4m3 0h1m-23 1.8h1m1 0h1m1 0h1m1 0h1m1 0h1m9 0h1m1 0h3m1 0h4m-28 1.9h1m5 0h1m5 0h1m1 0h1m3 0h2m4 0h1m-25 1.9h1m3 0h1m1 0h1m3 0h1m4 0h1m1 0h1m4 0h1m1 0h3m-22 1.9h1m5 0h2m22 0h1m-35 1.9h1m9 0h1m2 0h1m-15 2.1h1m3 0h1m1 0h1m1 0h1m6 0h1m1 0h1m2 0h1m1 0h6m-28 2h1m3 0h1m1 0h1m1 0h1m1 0h1m7 0h3m1 0h2m1 0h3m1 0h1m-26 2.1h1m11 0h1m1 0h2m-8 2h1m1 0h4m1 0h1m1 0h1m1 0h2m2 0h1m6 0h1m-29 2.1h1m1 0h1m7 0h1m3 0h1m4 0h1m1 0h3m-21 2h1m6 0h1m1 0h2m14 0h1m-31 2h1m5 0h1m11 0h1m3 0h3m-23 2.1h1m5 0h1m6 0h3m3 0h2m2 0h1m-21 2h1m1 0h1m1 0h1m16 0h1m4 0h1m-36 2.1h1m1 0h1m3 0h1m3 0h1m1 0h1m1 0h3m2 0h4m1 0h1m1 0h3m-17 2h1m1 0h1m2 0h2m13 0h1m-31 2h1m1 0h1m9 0h1m-14 2h1m5 0h1m1 0h1m1 0h1m1 0h1m16 0h2m-27 2h1m-1 2h1m-4 2h1m5 0h1m3 0h1m9 0h1m10 0h1m-3 2h1m-20 3.9h1m1 0h1m5 0h1m10 0h2m-19 2h1m17 0h1m-21 2h1m6 0h1m2 0h1m-3 2h1m11 0h1m-16 2h1m3 0h1m10 0h1m-33 2h1m1 0h1m3 0h1m1 0h1m6 0h2m2 0h3m1 0h2m1 0h2m-22 2h1m7 0h1m17 0h1m-23 2h1m3 0h1m17 0h2m-17 2h1m9 0h1m-11 2h1m1 0h1m1 0h1m-7 2h1m1 0h1m1 0h1m13 2h1m-19 2h1m1 2.1h1m3 0h1m-14 2h1m1 0h1m3 0h1m1 0h2m1 0h1m1 0h3m1 0h2m3 2h1m1 0h2m-32 2h1m3 0h1m7 0h2m1 0h5m1 0h1m3 0h1m-27 2h1m13 0h1m2 0h1m12 0h1m1 0h1"/>
<path stroke="#c6e7cd" d="M4 77.8h1m1 1.9h1m-3 1.9h1m1 0h1m-1 1.9h1m3 0h1m-7 1.9h1m1 0h1m3 0h1m-1 1.8h1m-7 1.9h1m1 0h1m1 0h1m-7 1.9h1m1 0h1m2 0h1m1 0h1m-6 2h1m2 0h1m1 0h1m-6 2h1m4 0h1m-8 2h1m-1 1.9h1m1 0h1m2 0h1m-6 2h1m2 0h1m1 0h1m1 0h1m-8 2h1m4 0h1m1 0h1m-8 2h1m1 0h1m2 0h1m1 0h1m-8 1.9h1m4 0h1m1 0h1m-6 2h1m4 0h1m-4 2h1m1 0h1m-7 2h1m3 0h1m1 0h1m12 0h1m-16 2.1h1m3 0h1m10 0h1m3 0h1m-26 2h1m1 0h1m3 0h1m14 0h1m5 0h1m-28 2h1m1 0h1m18 0h1m5 0h1m-28 2.1h1m1 0h1m18 0h1m-22 2h1m1 0h1m18 0h1m3 0h1m-26 2h1m26 0h1m-28 2.1h1m7 2h1m12 0h1m3 0h1m1 0h1m-28 2h1m20 0h1m-22 2h1m5 0h1m1 0h1m16 0h1m-18 2.1h1m12 0h1m3 0h1m1 0h1m-28 2h1m24 0h1m-26 2h1m1 0h1m5 0h1m12 0h1m3 0h1m1 0h1m-28 2.1h1m7 0h1m16 0h1m1 0h1m-28 2h1m7 0h1m18 0h1m-26 2h1m5 0h1m16 0h1m1 0h1m-28 2h1m-1 2.1h1m20 0h1m3 0h1m1 0h1m-26 2h1m3 0h1m1 0h1m16 0h1m-24 2h1m5 0h1m16 0h1m-20 2.1h1m-1 2h1m20 0h1m-22 2h1m14 0h1m5 0h1m-22 2.1h1m20 2h1m-1 2h1m-22 2h1m-1 2.1h1m20 0h1m-7 2h1m3 0h1m1 0h1m-26 2h1m22 0h1m1 0h1m-3 2.1h1m1 0h1m-26 2h1m3 0h1m14 0h1m5 0h1m-26 2h1m3 0h1m-5 2h1m3 0h1m-1 2.1h1m18 0h1m-20 2h1m18 0h1m1 0h1m-7 2h1m5 0h1m-22 2.1h1m14 0h1m5 0h1m-26 4h1m18 0h1m3 0h1m1 0h1m-22 2.1h1m-1 2h1m14 0h1m3 0h1m1 0h1m-27 2h1m3 0h1m-6 1.9h2m9 0h1m-12 1.9h2m2 0h2m5 0h1m-11 2h1m7 0h1m-9 1.9h1m-2 2h2m2 0h2m-6 1.9h1m0 1.9h1m2 0h1m4 0h1m-9 2h1m2 0h1m6 0h1m-11 3.8h1m23 2h1m-1 2.1h1m-13 4.1h1m7 0h1m3 0h1m1 0h1m-7 2h1m3 0h1m1 0h1m-20 2.1h1m12 0h1m3 0h1m-18 2h1m-1 2h1m12 0h1m3 0h1m1 0h1m-7 2.1h1m3 0h1m-18 2h1m12 0h1m3 0h1m1 0h1m-20 2.1h1m12 0h1m3 2h1m-18 2.1h1m12 0h1m-22 2h1m5 0h2m-8 2h1m1 0h1m3 0h1m6 0h1m-8 1.9h2m-8 2h1m5 0h1m6 0h1m-11 2h2m20 0h1m1 0h1m-25 2h1m-1 2h1m17 0h1m3 0h1m1 0h1m-25 2h2m20 0h1m1 0h1m-25 2h1m21 0h1m-23 2h1m17 0h1m3 0h1m1 0h1m-22 2h1m-4 2h2m16 0h1m-19 2h2m16 2h1m3 0h1m1 0h1m-24 6h1m-2 2h2m16 0h1m5 0h1m-25 2h1m-1 2h1m4 0h1m16 0h1m-23 2h2m20 0h1m-23 2h1m0 2h1m20 0h1m-23 2h1m21 0h1m1 0h1m-25 2h1m-1 4h1m17 0h1m3 0h1m1 0h1m-7 2h1m3 0h1m1 0h1m-25 2h2m16 0h1m-19 2h1m-1 2h1m21 0h1m-23 2h2m16 0h1m3 0h1m-23 2h2m20 0h1m1 0h1m-24 2h1m16 0h1m3 0h1m-23 2h1m23 0h1m-25 2h1m17 0h1m-19 4h2m16 0h1m-19 2h1m0 2h1m20 0h1m1 0h1m-27 2h1m5 0h3m1 0h1m1 0h1m-10 1.9h2m1 0h2m4 0h1m-13 2h1m2 0h1m4 0h1m1 0h2m-12 1.9h1m7 0h1m3 0h1m-10 1.9h1m-5 2h2m3 0h1m2 0h2m1 0h1m-7 1.9h1m1 0h2m-9 1.9h2m5 0h2m1 0h2m-11 2h1m5 0h3m1 0h1m-8 1.9h1m2 0h3m3 0h1m-10 2h2m1 0h1m5 0h1m-7 1.9h2m-8 1.9h1m3 0h1m2 0h1m-8 2h1m2 0h1m3 0h1m4 0h1m-13 1.9h1m3 0h1m2 0h4m1 0h1m13 2h1m-1 2h1m-7 4h1m3 0h1m1 0h1m-7 2h1m3 0h1m-5 2h1m3 0h1m1 0h1m-3 2h1m-5 2h1m3 0h1m1 0h1m-25 2h1m17 0h1m3 0h1m1 0h1m-1 4h1m-3 6h1m-1 2h1m-5 2h1m3 0h1m1 0h1m-3 8h1m-23 2h1m17 0h1m3 0h1m1 0h1m-3 4h1m1 0h1m-7 2h1m-1 2h1m3 0h1m1 0h1m-25 2h1m17 0h1m3 0h1m1 0h1m-25 2h1m21 6h1m1 0h1m-3 4h1m1 0h1m-7 2h1m-1 2h1m3 0h1m1 0h1m-3 2h1m1 0h1m-7 1.9h1m5 2h1m-7 2h1m-1 2h1m3 0h1m1 0h1m-7 2h1m5 0h1m-7 2h1m3 0h1m1 0h1m-7 6h1m3 0h1m1 0h1m-7 4h1m-19 2h1m17 0h1m5 0h1m-25 2h1m17 0h1m5 0h1m-25 4h1m17 0h1m5 0h1m-25 2h1m21 0h1m1 0h1m-25 2h1m23 0h1m-25 2h1m17 0h1m-1 4h1m3 0h1m1 0h1m-7 2h1m5 0h1m-1 2h1m-7 2h1m3 0h1m1 0h1m-25 2h1m17 2h1m3 0h1m-1 2h1m1 0h1m-3 2h1m1 0h1m-3 2h1m-23 2h1m-1 2h1m17 0h1m3 0h1m1 0h1m-1 2h1m-7 2h1m5 0h1m-7 2h1m-19 2h1m17 0h1m3 0h1m1 0h1m-7 2h1m5 0h1m-24 2h1m-5 2.1h1m3 0h1m1 0h1m-7 2.1h1m1 0h1m8 0h1m-10 2.1h1m1 0h1m-1 2.1h1m4 0h1m-8 2.1h1m1 0h1m1 0h1m2 0h1m-8 2.1h1m1 0h1m-3 2.1h1m6 0h1m-10 2.2h1m1 0h1m1 0h1m1 0h1m4 0h1m-8 2.1h1m4 0h1m-2 2h1m12 0h1m3 0h1m1 0h1m-25 2h1m17 0h1m3 2h1m-5 2h1m3 0h1m1 0h1m-7 2h1m3 0h1m-23 2h1m4 0h1m12 0h1m-19 2h1m2 4.1h1m18 0h1m1 0h1m-7 4h1m3 0h1m1 0h1m-7 2h1m3 0h1m-18 6h1m12 0h1m3 0h1m1 0h1m-7 2h1m3 2h1m1 0h1m-22 2h1m14 0h1m3 0h1m1 0h1m-22 2h1m14 0h1m3 0h1m1 0h1m-7 2h1m3 0h1m1 0h1m-25 2h1m17 0h1m5 0h1m-22 2h1m-1 2h1m14 0h1m3 0h1m-20 2h1m14 0h1m3 0h1m1 0h1m-22 4.1h1m14 0h1m3 0h1m1 0h1m-25 4h1m21 0h1m1 0h1m-7 2h1m3 0h1m1 0h1m-22 2h1m14 0h1m-19 2h1m21 2h1m1 0h1m-26 2h1m8 0h1m-10 2h1m1 0h1m1 0h1m4 0h1m-10 2h1m1 0h1m1 0h1m4 0h1m-12 2h1m1 0h1m1 0h1m-5 1.9h1m3 0h1m1 0h1m4 0h1m-8 2h1m6 0h1m-1 2h1m-12 4h1m1 2h1m1 0h1m1 0h1m4 0h1m-8 2h1m-5 3.9h1m10 0h1m-10 2h1m3 0h1m4 0h1m-12 4h1m1 0h1m1 0h1m1 0h1m4 0h1m-12 2h1m3 0h1m1 0h1m4 2h1m-12 1.9h1m5 0h1m4 0h1m-12 2h1m3 0h1m1 0h1m-7 2h1m3 0h1m1 0h1m-7 2h1m1 0h1m1 0h1m6 0h1m-12 2h1m1 0h1m1 0h1m1 0h1m-7 2h1m10 0h1m-12 2h1m5 0h1m-7 1.9h1m1 0h1m1 0h1m1 0h1m-7 2h1m1 0h1m3 0h1m-7 2h1m3 0h1m1 0h1m4 0h1m-12 2h1m1 0h1m1 0h1m-5 2h1m1 0h1m1 0h1m1 0h1m-5 2h1m1 1.9h1m1 0h1m4 0h1m-6 2h1m4 0h1m-8 2h1m1 0h1m-7 2h1m3 0h1m6 0h1m-8 2h1m1 0h1m4 0h1m-12 2h1m1 0h1m1 0h1m-5 2h1m1 0h1m-3 1.9h1m1 0h1m1 0h1m6 0h1m-12 2h1m1 0h1m1 0h1m1 0h1m-3 2h1m1 0h1m4 0h1m-6 2h1m-4 2h1m21 0h1m1 0h1m-25 2h1m4 0h1m18 0h1m-25 2h1m2 0h1m1 2h1m1 0h1m-8 2h1m6 0h1m10 0h1m3 0h1m1 0h1m-25 2h1m4 0h1m1 0h1m-3 2h1m12 0h1m3 0h1m1 0h1m-25 2h1m2 0h1m14 0h1m3 0h1m1 0h1m-22 2.1h1m-4 2h1m2 0h1m14 0h1m3 0h1m-23 2h1m4 0h1m-6 2h1m2 0h1m14 0h1m3 0h1m1 0h1m-25 2h1m2 0h1m1 0h1m16 0h1m-23 2h1m2 0h1m18 0h1m1 0h1m-7 2h1m3 0h1m-23 2h1m2 0h1m18 0h1m1 0h1m-20 2h1m1 0h1m10 0h1m-1 2h1m-14 2h1m-1 2h1m-1 2h1m-6 2h1m4 0h1m12 0h1m3 0h1m1 0h1m-25 2h1m4 0h1m12 0h1m3 0h1m-1 2.1h1m1 0h1m-25 2h1m4 0h1m1 0h1m10 0h1m5 0h1m-3 2h1m1 0h1m-1 2h1m-25 2h1m6 0h1m-5 2h1m14 0h1m5 0h1m-20 2h1m12 0h1m3 0h1m1 0h1m-25 2h1m4 0h1m16 0h1m1 0h1m-20 2h1m1 0h1m10 0h1m3 0h1m1 0h1m-7 2h1m5 0h1m-20 2h1m12 0h1m3 0h1m-18 2h1m1 0h1m10 0h1m3 0h1m1 0h1m-20 2h1m1 0h1m14 0h1m-23 2h1m4 0h1m12 0h1m5 0h1m-25 2h1m4 0h1m-6 2.1h1m4 0h1m12 0h1m5 0h1m-25 2h1m4 0h1m12 0h1m3 0h1m-5 2h1m3 0h1m-5 2h1m-19 2h1m6 0h1m10 0h1m3 0h1m1 0h1m-25 2h1m6 0h1m10 0h1m3 0h1m-18 2h1m16 0h1m-5 2h1m3 0h1m1 0h1m-25 2h1m4 0h1m12 0h1m3 0h1m-23 2h1m2 0h1m17 0h1m-22 2h1m17 0h1m5 0h1m-25 2h1m2 2h1m1 0h1m12 0h1m3 0h1m-23 2h1m2 0h1m3 0h1m-8 2h1m2 0h1m14 0h1m3 0h1m1 0h1m-20 2h1m18 0h1m-25 2.1h1m2 0h1m14 0h1m3 0h1m-23 2h1m2 0h1m1 0h1m-6 2h1m21 0h1m1 0h1m-25 2h1m2 0h1m1 0h1m12 0h1m3 0h1m1 0h1m-3 2h1m1 0h1m-3 2h1m-23 2h1m2 0h1m1 0h1m12 0h1m-19 2h1m4 0h1m12 0h1m3 0h1m1 0h1m-22 2h1m1 0h1m-6 2h1m4 0h1m12 0h1m3 0h1m-18 2h1m16 0h1m1 0h1m-25 2h1m17 0h1m3 0h1m1 0h1m-25 2h1m4 0h1m18 0h1m-22 2h1m1 0h1m-3 2h1m1 0h1m1 0h1m14 0h1m1 0h1m-25 2.1h1m4 0h1m12 0h1m3 0h1m1 0h1m-22 2h1m14 0h1m3 0h1m1 0h1m-25 2h1m4 0h1m-6 2h1m17 0h1m5 0h1m-25 2h1m2 0h1m1 0h1m18 0h1m-25 2h1m4 0h1m16 0h1m1 0h1m-25 2h1m21 0h1m1 0h1m-25 2h1m2 0h1m1 0h1m1 0h1m14 0h1m1 0h1m-20 2h1m16 0h1m1 0h1m-22 2h1m1 0h1m12 0h1m5 0h1m-3 2h1m1 0h1m-25 2h1m2 0h1m1 0h1m-6 2h1m2 0h1m1 2h1m18 0h1m-25 2h1m4 0h1m-6 2.1h1m2 0h1m1 0h1m18 0h1m-25 2h1m4 0h1m1 0h1m10 0h1m5 0h1m-20 2h1m1 0h1m-8 2h1m17 0h1m3 0h1m1 0h1m-25 2h1m4 0h1m12 0h1m3 0h1m1 0h1m-22 2h1m1 0h1m-3 2h1m1 0h1m12 0h1m5 0h1m-25 2h1m2 0h1m1 0h1m12 0h1m3 0h1m1 0h1m-28 2h1m1 0h1m10 0h1m-12 2h1m10 0h1m-12 2h1m1 0h1m1 0h1m6 0h1m-12 2h1m2 0h2m-5 2h1m3 0h1m-7 2.1h1m-1 2h1m1 0h1m2 0h2m-7 2h1m4 0h1m7 0h1m-14 2h1m1 0h1m3 0h1m-5 2h1m3 0h1m-1 2h1m-7 2h1m12 0h1m-14 2h1m1 0h1m3 0h1m6 2h1m-12 2.1h1m10 0h1m-12 2h1m-1 2h1m3 0h1m6 0h1m-14 2h1m12 0h1m-14 2h1m1 0h1m10 0h1m-12 2h1m2 0h1m7 0h1m-12 2h1m-3 2h1m12 0h1m-10 2h1m1 0h1m6 0h1m-14 2.1h1m12 0h1m-8 2h1m6 0h1m-14 2h1m1 0h1m10 0h1m-9 2h2m-7 2h1m4 0h2m-3 2h1m-3 2h1m2 0h2m-7 2h1m4 0h1m-6 2h1m4 0h2m-7 2h1m1 0h1m2 0h2m-2 2.1h2m-7 2h1m5 0h1m-2 2h2m-3 2h3m-5 2h1m-3 2h1m1 0h1m2 0h2m-5 2h1m3 0h1m-2 2h2m-2 2h1m-2 2.1h1m1 0h1m6 0h1m-1 2h1m-9 2h2m6 0h1m-12 2h1m3 0h1m6 0h1m-10 2h1m1 0h1m18 2h1m-5 2h1m3 0h1m1 0h1m-25 2h1m8 0h1m8 0h1m-19 2h2m7 0h1m8 0h1m3 0h1m1 0h1m-3 4h1m1 2h1m-25 2h1m17 2h1m-19 2h1m17 0h1m3 0h1m-23 2h1m-1 2h1m8 0h1m12 0h1m-23 2h2m7 0h1m8 0h1m-18 2h1m7 0h1m-9 2h1m7 0h1m10 0h1m2 0h1m-26 3.9h1m2 0h1m7 0h1m8 0h1m5 0h1m-27 2h1m1 0h2m7 0h1m12 0h1m1 0h1m-25 2h2m-1 2h1m-1 2h1m7 0h1m-9 2h1m7 0h1m8 0h1m5 0h1m-24 2h1m7 0h1m-9 2h1m7 0h1m-9 2h1m16 0h1m-21 2h1m19 0h1m3 0h1m-14 2h1m12 0h1m-25 2h1m2 0h1m16 0h1m3 0h1m1 0h1m-24 2h1m7 0h1m14 0h1m-27 2h1m10 2h1m-13 2h1m1 0h1m3 0h1m3 0h1m1 0h1m3 0h1m1 0h1m2 0h1m1 0h5m-22 2h1m9 0h2m1 0h1m5 0h1m-20 2.1h1m10 0h1m5 0h1m2 0h1m-27 2h1m3 0h1m1 0h1m1 0h1m3 0h1m5 0h1m5 0h1m5 0h2m-17 2h1m1 0h1m1 0h1m-14 2.1h1m9 0h1m5 0h2m3 0h1m-10 2h1m1 0h1m-11 2h1m6 0h1m3 0h1m3 0h3m-11 2h1m9 0h1m-24 2.1h1m1 0h1m1 0h1m1 0h1m6 0h2m4 0h1m-22 2h1m5 0h1m1 0h1m1 0h1m7 0h1m2 0h1m1 0h1m-25 2h1m1 0h1m5 0h1m5 0h1m1 2h2m4 0h1m1 0h1m-25 2.1h1m5 0h1m3 0h1m-12 2h1m5 0h1m1 0h1m1 0h1m13 0h1m1 0h1m-19 2h1m2 0h1m4 0h1m1 0h4m1 0h1m-21 2.1h1m5 0h1m1 0h1m-7 2h1m1 0h1m9 0h1m-17 2h1m9 0h1m2 0h1m1 0h2m13 0h2m1 0h1m-28 2h1m1 0h1m3 0h1m3 0h1m13 0h1m-31 1.9h1m3 0h1m3 0h1m3 0h1m18 0h1m1 0h1m-34 2h1m1 0h1m5 0h1m4 0h1m1 0h1m13 0h1m3 0h1m-12 2h3m1 0h1m5 0h1m1 0h1m-16 2h1m1 0h1m4 0h1m3 0h1m-21 1.9h1m18 0h1m1 0h1m2 0h1m-34 2h1m19 0h1m2 0h1m1 0h1m2 0h1m1 0h2m-34 2h1m7 0h1m3 0h1m8 0h3m1 0h1m-23 2h1m3 0h1m3 0h1m4 0h2m13 0h1m1 0h2m-28 2h1m1 0h1m3 0h1m7 0h1m2 0h1m5 0h6m-35 1.9h1m3 0h1m1 0h1m18 0h1m3 0h1m-30 2h1m12 0h1m1 0h1m-16 1.9h1m1 0h1m1 0h1m7 0h1m5 0h1m-20 1.9h1m5 0h1m1 0h1m1 0h1m1 0h1m7 0h1m1 0h2m6 0h2m1 0h1m-33 1.9h1m7 0h1m1 0h1m2 0h2m2 0h1m5 0h1m-20 3.8h1m1 0h1m3 0h1m1 0h1m1 0h1m-15 1.9h1m3 0h1m3 0h1m4 0h2m2 0h1m-16 1.9h1m1 0h1m8 0h1m4 0h2m1 0h1m1 0h1m-22 1.9h1m7 0h1m3 0h1m2 0h1m-5 1.9h1m3 0h1m2 0h1m1 0h3m1 0h1m-17 1.9h1m9 0h1m1 0h3m-25 2h1m11 0h1m4 0h2m-15 1.9h1m3 0h1m8 0h1m2 0h1m-13 1.9h1m1 0h1m1 0h1m1 0h1m3 0h2m-7 1.9h1m3 0h1m3 0h2m3 0h1m-23 1.9h1m1 0h1m6 1.8h1m-12 3.6h1m1 0h1m5 0h1m1 0h1m2 0h2m-4 5.7h1m1 0h1m-16 9.6h1m1 0h1m3 0h1m5 0h1m-8 2.1h1m13 0h1m3 0h1m-18 2.1h1m6 0h1m-14 2h1m3 0h1m3 0h1m3 0h1m-7 2.1h1m3 0h1m-10 2h1m11 0h1m11 0h1m-26 2.1h1m5 0h1m5 0h1m4 18.5h1m-5 4.1h1m0 2.1h1m2 0h1m-15 4.1h1m-3 4h1m3 0h1m3 0h1m1 0h1m10 0h2m-21 2h1m1 0h1m15 0h3m1 0h1m-27 5.9h1m9 2h1m-11 1.9h1m1 0h1m1 0h1m3 0h1m3 0h1m11 0h1m-25 3.9h1m3 0h1m1 0h1m1 0h1m1 0h1m1 0h1m9 0h1m3 0h1m-17 2h1m-5 1.9h1m-6 1.9h3m2 0h1m1 0h1m1 0h1m1 0h1m8 0h1m5 0h1m-26 1.9h1m18 0h1m5 0h1m-10 3.9h1m-13 1.9h2m19 0h1m-28 1.9h3m7 0h1m1 0h1m12 0h1m1 0h1m-15 1.9h1m7 0h1m3 0h1m-26 2h1m3 0h1m1 0h1m5 0h1m11 0h1m1 0h1m-27 4h1m1 0h1m1 0h1m1 0h1m15 2h1m2 0h1m-26 2h1m1 0h1m3 0h1m1 0h1m3 0h1m7 0h1m-11 2h1m13 0h1m-21 2h1m18 0h1m3 0h1m-22 3.9h1m1 0h1m11 0h2m-1 2h1m1 0h1m-24 1.9h1m9 0h1m-11 1.9h1m5 0h1m1 0h1m3 0h1m7 0h1m-6 1.9h1m6 0h1m12 0h1m-10 2h1m-23 1.9h1m1 0h1m1 0h1m1 0h1m15 1.8h1m-23 2h1m1 0h1m-3 1.8h1m5 0h1m1 0h1m-8 1.9h1m4 0h1m12 0h1m2 0h1m-15 4.3h1m7 0h1m-11 2.1h1m9 0h1m2 0h1m0 2.2h1m-25 2.1h1m5 0h1m15 0h1m-11 2.1h1m11 0h1m-16 2h1m1 0h1m9 0h1m1 0h1m2 0h1m-25 4.2h1m7 0h1m4 0h1m1 0h1m1 0h1m1 0h1m3 0h1m1 0h1m7 0h1m-35 4h1m3 0h1m7 0h1m-11 2h1m-3 3.9h1m11 0h1m-5 4h1m1 0h1m1 0h1m-13 2h1m1 0h1m1 0h1m3 0h1m1 0h1m-11 7.7h1m-1 1.9h1m11 2h1m12 0h1m-23 4h1m15 0h1m10 0h2m1 0h1m-34 2h1m3 0h1m1 0h1m-3 2h1m-3 2h1m3 0h1m1 0h1m1 0h1m-11 2h1m1 0h1m3 0h1m3 0h1m1 0h1m-13 2h1m1 0h1m1 0h1m1 0h1m1 0h1m-7 2.1h1m9 0h1m-9 2h1m5 0h1m20 2h1m1 0h1m-12 2h1m6 0h1m-13 2h1m1 0h1m-20 2h1m3 0h1m1 0h1m3 0h1m-7 2h1m1 0h1m3 0h1m1 0h1m-9 2h1m5 0h1m-5 2h1m-3 2.1h1m1 0h1m11 0h1m-17 2.1h1m1 0h1m7 0h1m4 0h2m-19 2h1m11 0h1m4 0h2m12 0h1m-32 2.1h1m1 0h1m1 0h1m7 0h1m5 0h1m15 0h1m-33 2.1h1m3 0h1m3 0h1m1 0h1m5 0h1m-11 2h1m8 2.2h1m-4 2.1h1m2 0h1m13 0h1m-15 2h1m14 0h1m-33 2.2h1m5 0h1m22 0h1m2 0h1m-19 2.1h1m16 0h1m-15 2.1h1m14 0h1m-17 2.1h2m13 0h2m-20 2h5m13 0h1m-1 2.2h1m1 0h1m-33 1.9h1m5 0h1m3 0h1m5 0h1m-5 1.9h1m1 0h1m1 0h1m12 1.9h1m-18 1.9h1m20 0h1m-26 1.8h1m1 0h1m1 0h1m1 0h2m13 0h1m-16 1.9h1m14 0h1m-30 1.9h1m9 0h1m1 0h1m3 0h3m6 0h1m-25 1.9h1m9 0h1m4 0h1m-16 1.9h1m1 0h1m1 0h1m1 0h1m3 0h1m17 0h1m3 0h1m-34 2.1h1m7 0h1m1 0h1m1 0h1m1 0h1m1 0h2m1 0h1m-8 2h4m3 0h1m-13 2.1h1m20 0h1m3 0h1m-35 4.1h1m1 0h1m1 0h1m5 0h1m1 0h1m1 0h2m2 0h2m1 0h4m1 0h1m-26 2h1m28 0h1m-31 2h1m1 0h1m9 0h1m1 0h2m1 0h4m2 0h3m3 0h1m-16 2.1h1m1 0h1m17 0h1m-34 2h1m1 0h1m1 0h1m-2 2.1h1m3 0h1m8 0h2m4 0h1m-17 2h1m-3 4h1m-5 2h1m5 0h1m1 0h1m1 0h1m19 0h1m-25 2h1m1 0h1m1 0h1m2 2h2m16 0h1m-22 2h1m18 0h1m4 0h1m-6 2h1m-30 1.9h1m3 0h1m3 6h1m3 0h1m-10 4h1m5 0h1m3 0h1m2 0h2m6 0h1m6 0h2m-25 4h1m23 4h1m-33 4h1m5 0h1m1 0h1m1 0h1m18 0h1m1 0h1m-26 2h1m25 0h1m-1 2.1h1m-28 2h1m8 0h1m11 0h1m-25 2h1m3 0h1m1 0h1m23 2h1m-27 2h1m1 0h1m1 0h1m1 0h1m16 0h1m1 0h1"/>
<path stroke="#b7e0cb" d="M6 77.8h1m3 0h1m-1 3.8h1m-5 5.6h1m3 1.9h1m1 1.9h1m-1 2h1m-11 2h1m9 0h1m-9 2h1m7 1.9h1m-9 2h1m-1 2h1m-1 3.9h1m-4 2h1m0 2h1m18 0h1m3 0h1m1 0h1m-28 2h1m24 0h1m1 0h1m-28 2.1h1m7 0h1m18 0h1m-3 2h1m-13 4.1h1m11 0h1m1 0h1m-7 4h1m3 0h1m-5 2.1h1m3 0h1m1 0h1m-7 6h1m5 0h1m-28 2.1h1m20 2h1m5 0h1m-7 4.1h1m-1 2h1m3 0h1m-26 2h1m20 2h1m3 0h1m1 0h1m-28 4.1h1m20 0h1m5 0h1m-28 2h1m20 0h1m5 0h1m-28 2.1h1m2 0h1m-1 4h1m2 4.1h1m-1 2h1m-4 2h1m17 0h1m3 0h1m1 0h1m-28 4.1h1m2 0h1m2 0h1m-1 2h1m-7 4.1h1m2 0h1m-4 6.1h1m2 0h1m17 0h1m5 0h1m-7 2h1m-22 2h1m2 0h1m2 4.1h1m14 0h1m3 0h1m1 0h1m-22 2h1m-7 4.1h1m7 2h1m3 0h1m-5 1.9h1m0 1.9h1m-2 2h1m3 0h1m-5 1.9h1m-1 2h1m-8 1.9h1m6 1.9h1m-9 2h1m7 0h1m-8 1.9h1m6 0h1m-1 1.9h1m3 0h1m0 2h1m7 0h1m5 0h1m-7 2.1h1m-9 2h1m7 0h1m3 0h1m1 0h1m-20 4.1h1m4 2.1h1m13 0h1m-15 2h1m-1 2h1m-6 2.1h1m4 0h1m13 0h1m-15 2h1m-1 2.1h1m11 0h1m1 0h1m-15 2h1m13 2.1h1m-26 2h1m-1 3.9h1m-1 2h1m18 2h1m-18 2h1m16 4h1m-18 2h1m16 0h1m5 0h1m-24 2h1m-2 2h1m21 2h1m-22 4h1m-2 2h2m16 0h1m3 0h1m1 0h1m-25 2h2m-2 2h1m0 4h1m16 0h1m3 0h1m1 0h1m-24 2h1m16 2h1m5 0h1m-24 2h1m16 0h1m3 0h1m1 0h1m-7 2h1m5 0h1m-24 14h1m22 2h1m-7 4h1m3 6h1m1 0h1m-1 6h1m-25 2h1m-4 2h1m9 0h1m1 0h1m-12 1.9h1m7 0h4m-13 2h1m6 0h2m1 0h1m-4 1.9h2m2 0h2m-12 1.9h1m3 0h1m1 0h5m0 2h1m-12 1.9h1m7 0h4m-4 1.9h1m2 0h1m-13 2h1m9 0h1m1 0h1m-12 1.9h1m8 0h2m-11 2h1m6 0h2m1 0h1m-11 1.9h1m3 0h1m3 0h4m-6 1.9h1m1 0h4m-6 2h1m1 0h1m1 0h2m-6 1.9h1m4 0h1m14 10h1m-23 2h2m14 2h1m5 0h1m-7 10h1m3 0h1m1 0h1m-7 4h1m5 0h1m-23 2h1m15 0h1m5 0h1m-7 6h1m3 0h1m1 0h1m-23 2h2m14 2h1m5 0h1m-7 6h1m3 2h1m1 0h1m-7 12h1m-17 4h1m15 0h1m3 2h1m1 0h1m-7 4h1m-17 11.9h1m-3 10h1m17 6h1m3 0h1m1 0h1m-7 4h1m-1 2h1m3 0h1m-20 4h1m14 0h1m3 0h1m1 0h1m-22 6h1m14 0h1m3 0h1m-5 4h1m3 0h1m1 0h1m-22 2h1m14 2h1m-16 2h1m14 0h1m-16 2h1m20 0h1m-22 2h1m14 4h1m3 0h1m-1 4h1m1 0h1m-3 4h1m-24 2h1m3 0h1m2 0h1m1 0h1m-3 2.1h1m1 0h1m-6 2.1h1m2 0h1m-4 2.1h1m2 0h1m-10 2.1h1m5 0h1m4 0h1m-12 2.1h1m-1 2.1h1m5 0h1m2 0h1m1 0h1m-12 2.1h1m10 0h1m-10 4.3h1m3 0h1m4 0h1m-9 2h1m4 2h1m-6 2h1m17 0h1m5 0h1m-25 4h1m4 0h1m-1 4h1m12 0h1m3 0h1m1 0h1m-25 2h1m4 0h1m12 0h1m3 0h1m-5 2.1h1m-19 2h1m4 0h1m-1 4h1m-6 2h1m4 0h1m-6 2h1m-1 2h1m4 4h1m12 0h1m-19 2h1m-1 4h1m4 2h1m-6 2h1m21 0h1m1 0h1m-1 2h1m-25 2h1m-1 2.1h1m4 0h1m-6 2h1m-1 6h1m17 4h1m3 0h1m1 0h1m-25 2h1m17 0h1m-22 2h1m3 0h1m1 0h1m-7 2h1m-1 2h1m5 2h1m4 0h1m-12 3.9h1m1 0h1m3 0h1m-7 2h1m1 0h1m1 0h1m1 0h1m-7 2h1m1 0h1m1 0h1m1 0h1m4 0h1m-10 2h1m1 0h1m1 0h1m4 0h1m-12 2h1m-1 2h1m1 0h1m3 0h1m4 0h1m-12 1.9h1m1 0h1m1 0h1m1 0h1m4 0h1m-10 2h1m1 0h1m1 0h1m-7 2h1m3 0h1m-3 2h1m1 0h1m6 0h1m-10 4h1m-3 2h1m1 0h1m1 0h1m1 0h1m-5 1.9h1m1 0h1m1 6h1m-5 4h1m1 0h1m1 0h1m-5 2h1m1 0h1m6 0h1m-8 3.9h1m-3 2h1m8 4h1m-6 2h1m4 0h1m-12 1.9h1m-1 2h1m1 0h1m1 0h1m-5 2h1m1 0h1m-3 4h1m1 0h1m3 2h1m4 0h1m-8 2h1m1 0h1m4 0h1m-1 3.9h1m-12 2h1m1 0h1m-3 2h1m1 0h1m1 0h1m6 0h1m-2 2h1m10 0h1m-12 2h1m10 0h1m3 0h1m-18 2h1m16 0h1m1 0h1m-25 2h1m4 2h1m1 4h1m-3 2h1m-1 2.1h1m1 4h1m10 0h1m3 0h1m-18 2h1m12 2h1m5 0h1m-20 2h1m1 0h1m10 0h1m-14 2h1m1 0h1m16 0h1m-20 2h1m-4 2h1m-3 2h1m4 0h1m1 0h1m-1 2h1m-6 2h1m4 0h1m-8 2h1m6 0h1m-1 2h1m-1 2h1m-1 2.1h1m-8 4h1m4 0h1m1 0h1m10 0h1m-12 2h1m-8 4h1m4 0h1m-6 2h1m6 2h1m10 0h1m-19 4h1m4 0h1m1 0h1m-8 2h1m6 0h1m-8 4h1m17 0h1m5 0h1m-18 2h1m14 0h1m-16 2h1m-1 2.1h1m14 0h1m-16 2h1m16 0h1m-25 2h1m6 0h1m-8 2h1m4 0h1m1 0h1m-8 6h1m6 0h1m10 0h1m5 0h1m-25 2h1m4 0h1m18 2h1m-20 2h1m1 0h1m10 0h1m3 0h1m1 0h1m-22 2h1m1 2h1m1 0h1m-1 2h1m16 0h1m-20 2h1m-1 2h1m1 0h1m-1 2h1m-3 2.1h1m1 0h1m16 0h1m-20 4h1m1 2h1m-3 2h1m12 0h1m-17 2h1m4 0h1m16 0h1m-18 2h1m-8 4h1m6 0h1m10 0h1m3 0h1m1 0h1m-18 2h1m-1 2h1m10 0h1m-14 2h1m1 0h1m-1 2h1m-8 2h1m6 0h1m-8 2h1m17 0h1m-12 2.1h1m-3 2h1m1 0h1m-3 4h1m1 0h1m14 0h1m-16 2h1m10 0h1m3 0h1m-16 2h1m10 0h1m-14 2h1m1 0h1m-8 4h1m6 0h1m10 0h1m-19 2h1m6 0h1m14 0h1m-23 2h1m6 0h1m-1 2h1m10 0h1m3 0h1m1 0h1m-20 2h1m1 0h1m10 0h1m3 0h1m1 0h1m-25 2h1m17 0h1m3 0h1m-16 2h1m-1 2.1h1m10 0h1m3 0h1m-23 4h1m4 2h1m1 0h1m-1 2h1m-6 2h1m4 0h1m-1 2h1m-1 2h1m-7 2h1m1 0h1m-1 2h1m6 4h1m-10 2h1m8 0h1m-10 2.1h1m1 0h1m6 0h1m-10 2h1m8 0h1m-8 2h1m6 2h1m-10 2h1m8 0h1m-9 2h1m7 0h1m-10 2h1m1 0h1m-1 4h1m-1 2.1h1m-3 2h1m1 4h1m-1 4h1m-7 2h1m5 0h1m6 0h1m-10 2h1m1 0h1m-3 4.1h1m1 0h1m-3 4h1m1 0h1m6 2h1m-10 6h1m-1 2h1m1 0h1m6 0h1m-12 2h1m1 0h1m-1 2h1m8 0h1m-10 2.1h1m8 0h1m-10 2h2m7 0h1m-10 2h1m8 0h1m-1 2h1m-9 2h2m-3 2h1m8 0h1m-10 2h2m7 0h1m-10 2h1m8 0h1m-10 2h1m1 0h1m6 0h1m-10 4.1h1m-1 2h1m-1 2h1m-4 4h1m-1 2h1m23 2h1m1 0h1m-27 4h1m19 0h1m3 0h1m-25 2h1m19 0h1m5 0h1m-7 2h1m3 0h1m-5 2h1m3 0h1m-25 2h1m25 2h1m-7 2h1m3 0h1m1 0h1m-27 2h1m19 0h1m5 0h1m-27 2h1m-1 4h1m-1 1.9h1m23 2h1m-25 4h1m-1 2h1m-1 2h1m-1 2h1m-1 2h1m19 0h1m3 0h1m1 0h1m-27 2h1m-1 2h1m25 2h1m-7 2h1m5 0h1m-27 4h1m-1 4h1m13 2h1m3 0h1m7 2h1m-16 2.1h1m5 0h2m1 0h1m-20 2h1m7 0h1m5 0h2m2 0h1m1 0h2m2 0h2m-25 2h1m1 0h1m3 0h1m3 0h1m-12 2.1h1m14 0h1m1 0h1m-17 2h1m15 0h1m-13 2h1m1 0h1m9 0h1m-19 2h1m3 0h1m7 0h1m5 2.1h1m5 0h1m-22 2h1m12 0h3m1 0h2m4 0h1m-23 4h1m1 0h1m7 0h1m-13 2.1h1m1 0h1m3 0h1m3 0h1m-12 2h1m1 0h1m7 0h1m3 0h1m1 0h1m1 0h4m3 0h1m3 0h1m-31 2h1m13 0h1m9 0h1m-25 2.1h1m11 0h1m-5 2h1m3 0h1m-11 2h1m-1 2h1m1 0h1m28 0h1m-32 1.9h1m7 0h1m4 0h1m-10 2h1m-3 2h1m24 0h2m2 0h1m-26 2h1m11 0h1m4 0h1m3 0h1m2 0h3m-35 1.9h1m1 0h1m5 0h1m3 0h1m2 0h1m-10 2h1m5 0h1m2 0h1m17 0h2m-16 2h1m3 0h1m2 0h1m3 0h1m1 0h2m-34 2h1m3 0h1m3 0h1m3 0h1m21 0h1m-35 2h1m1 0h1m-1 1.9h1m5 0h1m1 0h1m1 0h2m1 0h2m17 0h1m-17 2h1m-6 3.8h1m6 0h1m2 0h3m8 0h1m-33 1.9h1m1 0h1m7 0h1m-11 5.7h1m9 0h1m-5 1.9h1m1 0h1m1 0h1m4 0h1m-10 1.9h1m9 0h1m-19 1.9h1m1 1.9h1m3 0h1m1 0h1m3 0h2m3 0h1m8 0h1m-25 2h1m-3 1.9h1m1 0h1m3 0h1m-7 1.9h1m3 0h1m1 0h1m1 1.9h1m1 0h1m2 1.9h1m-1 5.4h1m0 9.5h1m-2 1.9h1m4 0h1m-11 3.9h1m4 0h2m-11 2.1h1m8 0h1m-10 2.1h1m7 0h1m0 2h1m-6 4.1h1m3 0h1m-5 2.1h1m8 2.1h1m-4 4.1h1m2 16.4h1m-4 4.2h1m-16 2h1m21 0h3m1 0h1m-27 2h1m5 0h1m19 0h1m-26 2h1m5 0h1m5 0h1m7 0h1m5 0h1m-28 2h1m1 0h1m5 0h1m16 0h1m-4 1.9h2m1 0h1m-6 6h1m-11 1.9h1m11 0h1m3 0h1m-26 2h1m5 0h1m15 0h1m-22 3.9h1m1 0h2m3 0h1m11 0h1m3 0h1m-26 1.9h1m3 0h1m5 0h1m1 0h1m8 0h1m-22 1.9h1m4 0h1m3 0h1m10 0h1m5 0h1m-19 1.9h1m1 0h1m1 0h1m12 0h1m-5 2h1m5 0h1m-1 1.9h1m-26 1.9h1m2 0h1m7 0h1m6 0h1m2 0h1m-21 1.9h2m1 0h1m1 0h1m-9 1.9h1m1 0h1m1 0h1m1 0h2m2 0h3m11 0h1m-18 4h1m13 2h1m2 0h1m1 0h1m-26 2h1m1 0h1m17 0h1m-17 2h1m18 0h1m-4 2h1m-22 2h1m-1 3.9h1m1 0h4m3 0h1m2 0h1m9 0h1m-21 2h1m9 1.9h1m13 0h1m-23 1.9h1m3 1.9h1m3 0h1m7 0h1m-21 3.9h1m19 0h1m3 1.8h1m-25 2h1m7 0h1m1 0h1m9 0h1m5 1.8h1m-26 1.9h1m1 0h1m3 0h1m5 0h1m10 0h1m2 0h1m-27 4.3h1m8 0h1m10 0h1m-22 2.1h2m5 0h2m4 0h1m11 0h1m-3 2.2h1m-20 2.1h1m3 0h1m1 0h1m1 0h1m7 0h1m-18 4.1h1m1 0h1m7 0h1m11 0h1m-2 2.2h1m-2 2h1m-17 2h1m5 0h1m-11 2h1m3 0h1m3 0h1m-11 2h1m3 0h1m1 0h1m5 0h1m-11 1.9h1m1 4h1m-5 2h1m5 0h1m-1 13.6h1m1 0h1m-9 2h1m1 0h1m1 0h1m1 0h1m1 0h1m3 2h1m-13 6h1m11 8.1h1m-13 2h1m3 0h1m3 0h1m1 0h1m1 0h1m-9 4h1m3 2h1m3 0h1m-11 6h1m1 0h1m7 0h1m5 0h1m12 0h1m-2 2.1h1m-31 2.1h1m5 0h1m3 0h1m-7 2h1m3 0h1m25 0h1m-5 2.1h1m-31 2.1h1m3 0h1m-1 2h1m7 0h1m5 0h1m12 2.2h2m-1 2.1h1m-31 2h1m3 0h1m3 0h1m22 0h1m-26 2.2h1m3 0h1m5 0h1m-2 2.1h1m14 0h1m-31 2.1h1m7 0h1m-11 2.1h1m11 0h1m-13 4.2h1m5 0h1m3 0h1m7 0h1m13 0h1m-23 1.9h1m19 0h1m-25 1.9h1m27 0h1m-31 1.9h1m7 0h1m16 0h1m4 0h1m-33 1.9h1m5 0h1m3 0h1m17 0h1m-25 1.8h1m3 0h1m23 0h1m-33 1.9h1m3 0h1m1 0h1m1 0h1m18 0h1m3 0h2m-28 1.9h1m7 0h1m14 0h1m-23 1.9h1m20 0h1m3 0h1m-5 4h1m-1 2h1m-30 2.1h1m1 0h1m31 0h1m-27 2h1m3 0h1m16 0h1m4 0h1m-19 2.1h1m-11 2h1m3 0h1m1 0h1m17 0h1m-24 2h1m7 0h1m4 0h1m-13 2.1h1m-3 2h1m23 0h1m-2 2.1h1m3 0h1m-30 2h1m3 0h1m21 0h1m-29 2h1m-1 4h1m9 0h1m16 0h1m-30 2h1m11 0h1m17 0h1m3 0h1m-33 7.9h1m3 0h1m1 0h1m1 0h1m1 0h1m21 0h1m-29 2h1m3 0h1m-11 2h1m1 0h1m7 0h1m18 0h1m-28 2h1m1 0h1m7 2h1m-13 4h1m9 0h1m23 0h1m-33 2h1m1 0h1m26 2h2m-27 2h1m5 0h1m18 0h1m-30 2h1m3 0h1m1 0h1m22 0h2m-31 2h1m9 0h1m20 0h1m-32 2h1m1 0h1m5 0h1m1 0h1m-11 2.1h1m7 0h1m22 0h1m-2 2h1m-21 2h1m20 0h1m-28 2h1m-5 2h1m1 0h1"/>
<path stroke="#a8d8c8" d="M1 91h1m6 0h1m3 6h1m-12 1.9h1m6 0h1m3 2h1m-12 2h1m10 0h1m-12 2h1m6 0h1m3 0h1m-12 1.9h1m10 0h1m-1 2h1m-13 2h1m2 2h1m9 0h1m-11 4.1h1m9 0h1m-11 2h1m1 0h1m5 0h1m1 0h1m-11 2.1h1m3 0h1m-5 6.1h1m9 0h1m-11 2h1m9 0h1m-1 2h1m-11 4.1h1m9 0h1m-9 4h1m7 2.1h1m-1 2h1m-11 4h1m1 0h1m7 0h1m-11 4.1h1m-1 2h1m9 0h1m-9 2.1h1m-3 2h1m-4 2h1m4 0h1m5 0h1m-12 4.1h1m4 0h1m7 0h1m-14 2h1m-1 2h1m-1 2.1h1m2 0h1m-4 4h1m-1 2.1h1m2 0h1m9 2h1m-11 2h1m-4 2h1m2 0h1m-4 4.1h1m2 0h1m1 2h1m-6 2.1h1m2 0h1m-4 2h1m-1 4.1h1m20 0h1m3 0h1m1 0h1m-25 2h1m8 3.9h1m-5 1.9h1m1 3.9h1m1 0h1m-5 3.9h1m1 0h1m1 0h1m-1 1.9h1m-1 2h1m-10 1.9h1m6 0h1m1 0h1m-11 3.9h1m4 0h1m5 2.1h1m-12 4.1h1m2 0h1m7 2h1m-9 4.1h1m1 0h1m5 12.3h1m-6 5.9h1m-4 2h1m-2 6h1m-1 8h1m8 4h1m-13 16h1m9 4h1m1 4h1m-13 2h1m-1 6h1m-1 2h1m9 14h1m-12 9.9h1m-1 3.9h1m9 0h1m1 1.9h1m-3 2h1m-11 1.9h1m-1 5.8h1m11 0h1m-13 2h1m9 0h1m1 0h1m-13 1.9h1m-1 1.9h1m-1 2h1m9 0h1m-11 1.9h1m5 2h1m-6 2h1m3 0h2m6 0h1m-8 2h1m-2 2h2m-1 2h1m6 0h1m-8 4h1m-2 2h1m-1 2h1m0 2h1m-2 4h2m-1 2h1m-1 2h1m-1 6h1m-1 6h1m-2 2h1m-1 4h1m0 4h1m-1 4h1m-1 2h1m-1 2h1m-1 6h1m-1 2h1m-1 2h1m-1 2h1m-1 1.9h1m-1 2h1m-1 2h1m-1 2h1m-1 2h1m-1 2h1m-1 16h1m-1 4h1m-1 4h1m-1 4h1m-1 2h1m-1 6h1m-1 4h1m14 4h1m-16 4h1m-1 4h1m-1 4h1m-1 2h1m-7 2h1m-1 6.3h1m10 0h1m-6 8.4h1m-7 4.3h1m7 6h1m-6 2h1m4 0h1m18 8h1m-25 2.1h1m4 0h1m-1 4h1m-6 2h1m4 4h1m-6 4h1m4 0h1m-6 2h1m-1 4h1m4 2h1m12 4h1m-19 2h1m4 0h1m-1 2h1m-6 6.1h1m4 0h1m-4 2h1m2 0h1m-1 2h1m-6 2h1m4 2h1m-1 2h1m-9 29.8h1m5 0h1m-7 31.8h1m10 5.9h1m-7 17.9h1m4 4h1m10 0h1m-17 2h1m-1 4h1m-1 2h1m4 2h1m-6 2.1h1m4 0h1m-3 2h1m1 0h1m-10 2h1m3 0h1m21 0h1m-23 2h1m4 0h1m-1 2h1m-1 6h1m-10 2h1m-1 6h1m3 8.1h1m-1 8h1m4 2h1m-1 2h1m-6 10h1m15 6h1m3 0h1m1 0h1m-23 10.1h1m4 6h1m-6 2h1m4 0h1m-3 4h1m-8 4h1m3 0h1m-1 2h1m-1 2h1m-1 6.1h1m4 0h1m-1 2h1m-10 2h1m3 2h1m4 0h1m-10 2h1m3 4h1m4 0h1m-6 4h1m4 16.1h1m-6 12h1m4 10h1m-6 16.1h1m-1 2h1m-2 4h1m-1 4h1m3 2h1m-5 6.1h1m-1 2h1m-1 4h1m-1 4h1m-1 2h1m-1 2.1h1m3 2h1m-5 2h1m-1 2h1m-1 2h1m1 0h1m-3 2h1m3 6h1m-5 4.1h1m-1 4h1m-1 2h1m8 0h1m-6 2h1m1 0h1m2 2h1m-1 4h1m-10 12.1h1m8 0h1m-6 14.1h1m-1 4h1m1 0h1m-10 6h1m-1 2h1m25 2h1m-27 4h1m-1 2h1m25 0h1m-27 4h1m-1 2h1m-1 6h1m19 2h1m3 0h1m-21 9.9h1m-5 14h1m7 2h1m-5 10h1m9 0h1m-1 2.1h1m3 2h1m1 0h1m-21 2h1m5 0h1m3 0h1m-11 2.1h1m7 0h1m-9 2h1m5 0h1m1 0h1m1 0h1m3 0h1m-13 2h1m7 0h1m3 0h1m-13 2h1m5 0h1m1 0h1m3 2.1h1m-11 4h1m-5 2h1m9 0h1m5 4.1h1m7 0h1m-17 2h1m-9 4.1h1m9 0h1m-7 2h1m-5 2h1m9 0h1m5 1.9h1m-5 2h1m-11 2h1m3 0h1m5 0h1m2 0h1m-16 2h1m3 0h1m1 0h1m3 0h1m5 0h1m14 0h1m-28 1.9h1m1 0h1m9 0h1m-17 2h1m3 0h1m3 0h1m21 0h1m-25 2h1m5 0h1m12 0h1m3 0h1m1 0h1m2 0h1m-31 4h1m5 0h1m4 0h1m1 3.9h1m8 3.8h1m-21 7.6h1m3 0h1m7 0h1m-5 1.9h1m-13 3.8h1m1 0h1m1 0h1m1 0h1m1 0h1m1 0h1m-13 1.9h1m3 0h1m5 3.9h1m1 0h1m1 0h1m-13 1.9h1m12 0h1m-16 1.9h1m1 0h1m1 0h1m1 0h1m5 0h1m1 0h1m-1 5.5h1m-1 5.6h1m-1 1.9h1m3 0h1m-5 5.7h1m-15 6h1m5 0h1m1 0h1m1 0h1m-11 2.1h1m13 0h1m2 0h1m-16 2h1m-3 4.1h1m5 0h1m3 0h1m3 12.4h1m-14 18.5h1m3 0h1m1 0h1m1 0h1m1 0h1m14 0h1m-26 2h1m1 0h1m3 0h1m13 0h2m1 0h1m1 0h1m-25 2h1m1 0h1m3 0h1m1 0h1m-2 2h3m-7 1.9h1m3 0h1m1 0h2m13 0h1m-28 2h1m5 0h1m17 0h2m-13 4h1m11 0h1m-6 3.9h1m4 0h1m-26 3.9h1m5 0h1m1 0h1m3 0h1m7 0h1m6 0h1m-27 1.9h1m6 0h1m2 0h1m12 0h1m2 0h1m-21 1.9h1m3 0h1m-11 1.9h1m18 0h1m5 0h1m-19 2h1m12 1.9h1m-21 1.9h1m2 0h1m4 0h1m1 0h1m12 0h1m1 0h1m-22 1.9h1m1 0h1m5 0h1m9 0h2m-20 1.9h1m2 0h1m2 4h1m9 0h2m4 0h1m-23 4h1m1 0h1m5 0h1m13 0h1m-2 2h1m-25 4h1m5 0h1m2 0h2m7 0h1m1 0h1m3 2h1m-26 1.9h1m8 0h2m15 0h1m-28 2h1m2 0h1m4 0h1m11 0h1m-21 5.7h1m1 0h1m1 0h1m1 0h1m3 0h1m15 0h1m-4 3.9h1m2 0h1m-4 1.8h1m2 2h1m-4 1.8h2m-23 4h1m1 0h1m7 0h1m7 0h1m-18 2.2h1m5 0h1m-7 2.1h1m5 0h1m11 0h1m-21 2.2h1m11 0h1m7 0h1m-20 2.1h1m20 2.1h1m-17 2h1m15 2.2h1m-23 4h1m1 0h1m1 0h1m5 0h1m-11 5.9h1m3 0h1m3 0h1m1 0h1m1 0h1m-9 6h1m23 2h1m-1 1.9h1m-29 9.7h1m1 0h1m1 0h1m-5 4h1m7 0h1m18 4h1m-24 2h1m7 0h1m-5 2h1m18 2h1m-26 6.1h1m3 0h1m-1 2h1m3 0h1m1 0h1m-7 2h1m1 0h1m3 0h1m-13 8h1m16 0h1m16 0h1m-33 2.1h1m31 0h1m-5 2.1h1m2 0h2m-33 2h1m27 0h1m-1 4.2h1m-29 2h1m7 0h1m23 0h1m-27 2.2h1m-7 2.1h1m1 0h1m3 0h1m-9 2h1m7 0h1m3 0h1m5 0h1m14 2.2h1m-32 2.1h1m1 0h1m3 0h1m1 0h1m22 0h1m-28 2.1h1m1 0h1m9 0h1m14 0h1m-30 2.1h1m13 0h1m13 2h1m-31 2.2h1m5 0h1m3 0h1m-13 1.9h1m5 0h1m27 0h1m-35 1.9h1m3 0h1m3 0h1m1 0h1m19 0h1m-29 1.9h1m7 0h1m22 0h1m-34 1.9h1m3 0h1m1 0h1m22 0h1m-1 1.8h1m3 0h1m-30 1.9h1m7 0h1m20 1.9h1m-34 1.9h1m31 0h1m-2 1.9h1m-32 2.1h1m5 0h1m26 0h2m-33 2h1m30 0h1m-30 2.1h1m5 0h1m1 0h1m17 0h1m-29 2h1m1 0h1m1 0h1m3 0h1m18 2.1h1m-28 2h1m1 0h1m26 0h1m2 0h1m-2 2h1m-34 2.1h1m3 0h1m5 0h1m18 0h2m-29 4.1h1m1 0h1m7 0h1m21 0h1m-6 2h1m-30 2h1m3 0h1m25 0h1m3 2h1m-6 4h1m-28 2h1m5 0h1m21 0h1m-1 7.9h1m-27 2h1m1 0h1m1 0h1m3 0h1m17 0h1m-25 2h1m3 0h1m-11 2h1m3 0h1m1 0h1m-3 4h1m1 0h1m1 0h1m3 0h1m-13 2h1m5 0h1m5 0h1m16 0h2m-29 2h1m1 0h1m1 0h1m-7 2h1m3 0h1m3 0h1m20 0h1m-20 2h1m1 0h1m16 0h1m-26 2h1m25 0h1m-31 2h1m7 0h1m20 0h1m3 0h1m-30 2.1h1m1 0h1m1 0h1m-5 4h1m5 0h1m19 0h1m-29 2h1m9 0h1m18 0h1"/>
<path stroke="#98cfc7" d="M1 93h1m4 0h1m1 0h1m-8 2h1m6 0h1m-8 2h1m-1 3.9h1m4 0h1m1 2h1m-1 3.9h1m-3 2h1m1 0h1m4 2h1m-9 2h1m5 0h1m-9 2.1h1m3 2h1m3 0h1m-5 2h1m-3 2.1h1m5 0h1m-9 2h1m1 0h1m7 0h1m-11 2h1m7 0h1m1 0h1m-9 2.1h1m-3 4h1m1 0h1m-3 2h1m9 0h1m-11 4.1h1m9 0h1m-11 2h1m7 0h1m1 0h1m-11 2.1h1m1 0h1m-3 2h1m-1 2h1m7 2h1m-9 2.1h1m1 0h1m7 0h1m-1 2h1m-1 4.1h1m-14 2h1m12 0h1m-1 2h1m-14 2.1h1m2 0h1m1 0h1m-3 2h1m-1 2h1m1 0h1m-1 2h1m7 0h1m-9 2.1h1m7 0h1m-9 2h1m7 0h1m-11 2h1m1 0h1m-1 2.1h1m-1 2h1m-6 2h1m4 2h1m-1 2.1h1m7 0h1m-1 4h1m-9 2.1h1m-3 2h1m-4 2h1m2 0h1m-1 2.1h1m1 2h1m-3 2h1m6 0h1m-8 1.9h1m8 1.9h1m-10 2h1m6 0h1m-8 1.9h1m-1 2h1m6 0h1m1 0h1m-10 5.8h1m6 0h1m-8 3.8h1m6 0h1m-6 2h1m3 0h1m-5 2.1h1m-4 2h1m2 0h1m1 0h1m1 0h1m-3 2.1h1m3 0h1m-7 2h1m-1 2.1h1m1 0h1m3 2h1m-5 2h1m-1 2.1h1m-1 2h1m3 0h1m-7 4.1h1m1 0h1m3 0h1m-7 2.1h1m1 0h1m3 0h1m-7 2h1m2 2h1m-4 1.9h1m2 2h1m2 16h1m-1 4h1m-11 8h1m11 0h1m-3 6h1m-5 4h1m5 0h1m-1 8h1m-13 2h1m9 0h1m1 0h1m-7 2h1m3 0h1m1 0h1m-13 4h1m11 0h1m-3 4h1m-1 4h1m-5 2h1m3 0h1m1 0h1m-13 2h1m11 0h1m-1 2h1m-13 2h1m5 0h1m-8 11.7h1m4 21.4h1m5 2h1m-1 4h1m-11 2h1m3 0h1m-5 2h1m3 2h1m0 2h1m4 0h1m1 0h1m-8 2h1m-2 2h1m0 2h1m-2 4h1m7 0h1m-9 2h1m5 0h1m1 0h1m-8 2h1m4 0h1m-7 2h2m-6 2h1m3 0h1m5 0h1m1 0h1m-9 2h2m4 2h1m-7 2h1m0 2h1m4 0h1m-11 2h1m3 0h2m-1 2h1m6 0h1m-8 2h1m-2 2h1m7 0h1m-8 2h1m-2 2h1m-1 2h1m-1 2h1m0 2h1m-2 2h2m-2 4h1m-5 2h1m3 0h1m5 0h1m-7 2h1m-5 3.9h1m3 0h1m-1 2h1m-1 2h1m-1 2h1m-1 4h2m-2 2h2m4 0h1m1 0h1m-9 2h2m-2 2h2m-2 2h2m-2 4h2m-2 2h1m7 0h1m-8 2h1m-6 2h1m3 0h1m-1 2h2m-2 4h1m7 4h1m-9 2h1m7 0h1m-8 2h1m-2 4h1m-1 2h1m-1 2h1m-1 2h1m-1 2h1m-1 2h1m5 0h1m-7 2h2m-2 4h2m-2 2h1m-1 2h1m7 0h1m-4 18.9h1m1 0h1m0 6.1h1m-9 8h1m7 2h1m-1 2h1m-11 6.1h1m9 6h1m-9 2h1m2 6h1m-4 6h1m7 0h1m-6 2h1m-4 4h1m2 4.1h1m4 4h1m-1 2h1m-6 2h1m-4 2h1m7 0h1m-6 10h1m3 1.9h1m-1 17.9h1m-5 4h1m-1 7.9h1m3 2h1m-1 4h1m-5 7.9h1m-1 4h1m3 0h1m-1 4h1m-1 1.9h1m-1 4h1m-1 2h1m-5 2h1m3 0h1m-5 5.9h1m3 2h1m-5 2h1m-8 4h1m3 2h1m-5 2h1m3 0h1m-1 4h1m-5 4h1m-1 4.1h1m3 2h1m-5 4h1m-1 4h1m3 0h1m-1 2h1m-1 2h1m1 2h1m-3 2h1m-1 2h1m-1 6h1m-1 2h1m-5 2.1h1m3 2h1m-1 2h1m-5 2h1m3 0h1m-5 2h1m-1 4h1m-1 4h1m3 0h1m-1 4h1m-1 4h1m-5 4h1m3 0h1m-5 12.1h1m3 0h1m-1 8h1m4 2h1m-6 2h1m-5 4h1m-1 2h1m-1 2h1m3 0h1m-1 2.1h1m-5 2h1m-1 6h1m3 4h1m-1 4h1m-1 4h1m-1 2h1m-1 2h1m-1 8.1h1m-1 4h1m-1 2h1m-1 2h1m-1 2h1m-5 2h1m3 0h1m-1 4h1m-1 4h1m-1 4h1m-1 10.1h1m-5 4h1m11 0h1m-13 4h1m6 6h1m-1 2h1m-1 6.1h1m-1 6h1m-1 14.1h1m-5 8h1m3 2h1m1 2h1m-3 2.1h1m-1 4h1m-1 2h1m-1 6h1m-1 2h1m-1 2h1m-1 2h1m-1 2.1h1m-1 4h1m-1 6h1m1 0h1m-3 4h1m-1 2h1m-1 2.1h1m-1 2h1m-1 4h1m-4 6h1m-1 20h1m1 0h1m-3 2h1m21 4h1m-19 1.9h1m-5 2h1m1 0h1m-3 2h1m-1 2h1m1 0h1m1 0h1m-5 6h1m3 6h1m-5 2h1m1 0h1m1 0h1m-5 4h1m1 0h1m1 2h1m-1 2h1m-9 4h1m3 0h1m1 0h1m3 0h1m-11 2h1m5 0h1m-5 2.1h1m3 0h1m3 0h1m13 2h1m-23 4.1h1m1 0h1m1 0h1m5 0h1m1 0h1m-11 2h1m7 0h1m-13 2h1m11 0h1m-13 4.1h1m1 0h1m5 0h1m3 0h1m1 2h1m-13 4h1m5 0h1m3 0h1m1 4.1h1m3 0h1m-13 2h1m-5 4.1h1m14 2h2m-1 2h1m-19 5.9h1m7 0h1m1 0h1m5 0h1m-15 2h1m9 0h1m2 0h1m-14 3.9h1m7 0h1m5 0h1m-17 2h1m3 0h1m3 0h1m1 0h1m4 0h1m-3 2h1m3 0h1m-2 13.5h1m-1 5.7h1m-2 1.9h1m-2 1.9h1m-1 1.9h1m3 0h1m-1 3.9h1m-1 3.8h1m-17 24.7h1m9 0h1m-7 4.1h1m-5 4.1h1m1 0h1m9 0h1m-1 6.2h1m-1 4.1h1m-1 8.3h1m-1 4.1h1m-1 2h1m-13 6.2h1m21 0h1m-17 2h2m1 0h1m11 0h1m-22 4h1m3 0h1m1 0h1m3 0h1m-14 1.9h1m3 0h2m1 0h1m1 0h1m14 0h1m1 0h1m-23 2h1m5 0h1m12 0h1m3 0h1m-27 4h1m3 0h1m5 0h1m15 0h1m-23 3.9h1m3 0h1m1 0h1m15 0h1m-8 1.9h1m-14 2h1m3 0h1m1 0h1m-11 1.9h1m1 0h1m17 0h1m0 1.9h1m-25 1.9h1m3 0h1m1 0h1m-1 2h1m3 0h1m1 0h1m12 0h1m-24 1.9h1m1 0h1m3 0h1m1 0h1m1 0h1m11 0h2m-23 1.9h1m16 1.9h1m5 0h1m-26 1.9h1m1 0h1m5 0h1m10 0h1m5 0h1m-26 2h1m1 0h1m5 0h1m11 0h1m3 0h1m1 0h1m-27 2h1m7 0h1m15 0h1m-17 4h1m1 0h1m-11 2h1m9 0h1m9 0h1m3 0h1m1 0h1m-25 4h1m2 0h2m1 0h2m2 0h1m11 0h1m-19 3.9h1m5 0h1m11 0h2m-26 2h1m2 0h1m1 0h1m3 0h4m8 0h1m4 0h1m-5 3.8h1m2 0h1m-4 3.9h2m-1 1.9h1m-20 1.8h1m7 0h1m-5 3.8h1m17 0h1m-28 4h1m5 0h1m1 0h1m1 0h1m10 0h3m-17 2.2h1m5 0h1m10 0h1m2 0h1m-1 2.1h1m-25 2.2h1m1 0h1m1 0h1m1 0h1m1 0h1m12 2.1h1m-4 2.1h1m-1 4.2h1m-21 2h1m3 0h1m3 2h1m19 4h1m-23 1.9h1m21 2h1m-27 4h1m25 7.8h1m-19 5.8h1m-1 2h1m1 0h1m-11 2h1m3 0h1m3 0h1m16 2h1m-1 4h1m-1 6.1h1m-28 6h1m3 0h1m3 0h1m-9 2h1m1 0h1m7 0h1m16 6h1m-20 2h1m21 0h1m2 8.3h1m-26 2.1h1m-9 2h1m5 0h1m26 0h1m-34 2.2h1m1 0h1m1 0h1m1 0h1m5 0h1m5 0h1m-19 2.1h1m11 0h1m5 0h1m14 0h1m-30 2h1m24 0h1m-30 4.3h1m11 0h1m-13 2.1h1m3 0h1m7 0h1m-7 2.1h1m1 0h1m1 0h1m-5 2h1m-3 2.2h1m-1 1.9h1m3 0h1m3 0h1m20 0h1m-32 1.9h1m30 0h1m-34 1.9h1m5 0h1m1 0h1m23 0h1m-33 3.7h1m7 0h1m-5 3.8h1m1 0h1m1 0h1m25 0h1m-33 5.9h1m1 0h1m5 0h1m1 0h1m-13 2h1m5 0h1m1 0h1m25 0h1m-29 2.1h1m-7 2h1m33 2.1h1m-6 4h1m-28 2.1h1m9 0h1m18 2h1m-32 2.1h1m5 0h1m-7 2h1m1 0h1m7 0h1m1 0h1m21 0h1m-29 2h1m1 0h1m1 0h1m1 0h1m16 0h1m4 0h1m-1 4h1m-35 4h1m3 0h1m1 0h1m3 0h1m1 0h1m-13 7.9h1m3 0h1m3 0h1m3 0h1m-13 4h1m28 0h2m3 0h1m-33 2h1m5 0h1m1 0h1m19 0h1m-31 2h1m9 0h1m-9 2h1m7 2h1m-11 2h1m9 0h1m1 0h1m16 0h1m-28 2h1m27 0h1m2 0h1m-30 2h1m-5 6.1h1m11 0h1m16 0h2m-31 6h1m3 0h1m3 0h1m1 0h1m18 0h1m3 2h1"/>
<path stroke="#88c6c5" d="M6 91h1m3 0h1m-1 2h1m-5 2h1m-1 2h1m1 0h1m1 0h1m-5 1.9h1m3 0h1m-3 2h1m-3 2h1m-1 2h1m3 0h1m-1 3.9h1m-8 2h1m3 2h1m-3 2.1h1m7 0h1m-9 2h1m3 0h1m1 6.1h1m-7 2h1m5 2.1h1m-7 2h1m5 0h1m-1 2h1m-7 2h1m5 0h1m-7 2.1h1m5 0h1m-7 2h1m5 0h1m-1 4.1h1m-7 2h1m5 0h1m-7 2h1m5 0h1m1 0h1m-7 4.1h1m3 0h1m-7 4h1m5 0h1m-1 2.1h1m-7 2h1m5 0h1m1 4.1h1m-1 4h1m-3 2h1m-1 4.1h1m1 2h1m-1 2.1h1m-9 4h1m7 0h1m-1 2h1m-3 2.1h1m-7 2h1m5 0h1m1 0h1m-3 2h1m1 2.1h1m-9 2h1m-1 2h1m-1 2.1h1m4 5.9h1m-8 1.9h1m6 0h1m-8 7.8h1m-1 1.9h1m6 0h1m-10 7.8h1m9 0h1m-11 2.1h2m4 0h1m1 0h1m1 0h1m-11 2h1m9 0h1m-11 2.1h1m5 2h1m1 2.1h1m1 0h1m-11 2h2m6 0h1m-8 2h1m2 0h1m3 0h1m-9 2.1h1m3 0h1m5 0h1m-7 2h1m-1 2.1h1m1 0h1m-7 2h2m6 0h1m-8 2.1h1m5 2h1m-4 2h1m4 1.9h1m-4 4h1m3 0h1m-11 2h1m5 0h1m3 0h1m1 0h1m-13 2h1m9 0h1m1 0h1m-7 2h1m1 0h1m1 0h1m1 0h1m-13 2h1m5 0h1m1 0h1m1 0h1m-11 2h1m5 0h1m5 0h1m-13 4h1m11 0h1m-13 2h1m5 0h1m3 0h1m-11 2h1m5 2h1m5 0h1m-1 4h1m-7 2h1m3 0h1m-11 2h1m5 0h1m3 0h1m-11 2h1m5 0h1m-1 2h1m5 0h1m-13 2h1m9 0h1m1 0h1m-13 2h1m7 0h1m1 2h1m1 0h1m-13 2h1m5 0h1m1 0h1m1 0h1m-5 2h1m5 0h1m-13 2h1m5 0h1m3 0h1m-5 2h1m1 2h1m-3 2h1m5 0h1m-7 2h1m3 0h1m-11 2h1m-1 2h1m5 0h1m5 0h1m-13 2h1m9 0h1m1 0h1m-13 2h1m5 0h1m5 0h1m-13 2h1m7 2h1m-9 2h1m5 0h1m3 0h1m-3 2h1m1 0h1m1 0h1m-13 2h1m5 0h1m3 31.1h1m1 0h1m-9 4h1m-5 2h1m11 0h1m-3 2h1m-1 2h1m1 0h1m-13 2h1m11 0h1m-13 2h1m-1 6h1m3 0h1m5 0h1m-11 2h1m11 0h1m-13 4h1m-1 2h1m11 0h1m-3 2h1m1 0h1m-3 4h1m-11 2h1m11 0h1m-13 2h1m9 0h1m1 0h1m-13 2h1m11 0h1m-3 2h1m1 0h1m-13 2h1m9 0h1m-11 2h1m3 0h1m5 0h1m1 0h1m-13 2h1m9 0h1m-11 2h1m3 0h1m5 2h1m-11 2h1m-1 2h1m-1 2h1m3 0h1m5 0h1m1 0h1m-13 2h1m9 0h1m1 0h1m-13 2h1m11 0h1m-13 2h1m9 0h1m1 2h1m-13 2h1m11 0h1m-13 1.9h1m3 0h1m5 0h1m1 0h1m-3 2h1m1 0h1m-1 2h1m-3 2h1m1 0h1m-13 2h1m9 0h1m1 0h1m-13 2h1m9 0h1m1 0h1m-13 2h1m9 0h1m1 0h1m-13 2h1m-1 2h1m11 0h1m-13 2h1m-1 2h1m-1 2h1m3 0h2m4 2h1m1 0h1m-13 2h1m9 0h1m-7 2h1m5 2h1m1 0h1m-13 2h1m9 0h1m1 0h1m-13 2h1m3 0h1m-5 2h1m-1 2h1m3 0h1m5 0h1m1 0h1m-13 2h1m3 0h1m5 0h1m-11 2h1m9 0h1m-7 2h1m-1 2h1m7 0h1m-13 2h1m9 0h1m1 0h1m-3 2h1m1 0h1m-13 2h1m11 0h1m-3 2h1m-11 4h1m11 0h1m-3 2h1m-7 2h1m5 2h1m-11 2h1m-1 2h1m7 0h1m2 2h1m-3 2.1h1m1 2.1h1m-1 2.1h1m-1 2.1h1m-3 2.1h1m1 2.1h1m-3 2.1h1m1 0h1m-1 4.3h1m-8 2h1m7 0h1m-9 2h1m-1 6h1m7 2h1m-9 2h1m-1 2h1m7 2.1h1m-9 2h1m-1 6h1m7 0h1m-9 2h1m-1 8h1m2 2h1m4 0h1m-13 4h1m11 2h1m-9 2h1m7 0h1m-1 2h1m-9 2.1h1m-1 2h1m7 0h1m-9 2h1m-1 4h1m-1 2h1m-1 4h1m2 2h1m-1 2h1m-1 5.9h1m-1 2h1m3 0h1m-5 4h1m-1 4h1m3 0h1m-1 11.9h1m-5 2h1m3 0h1m-5 2h1m-1 1.9h1m3 0h1m-1 2h1m-5 2h1m-1 2h1m-1 2h1m3 2h1m-5 2h1m-1 1.9h1m3 0h1m-1 2h1m-5 6h1m-1 2h1m-1 1.9h1m-1 6h1m-1 4h1m3 0h1m-1 3.9h1m-5 2h1m-8 8h1m11 2h1m-13 2h1m-1 2h1m-1 2h1m11 0h1m-1 2h1m-9 2h1m-5 4.1h1m11 2h1m-1 2h1m-9 2h1m7 2h1m-13 2h1m-1 2h1m5 8h1m5 0h1m-9 2h1m-5 2h1m-1 2h1m-1 4.1h1m11 0h1m-13 2h1m5 4h1m5 0h1m-9 2h1m-1 2h1m-1 2h1m7 2h1m-13 2h1m3 0h1m-5 2h1m-1 2h1m11 0h1m-13 2h1m-1 2h1m3 0h1m7 0h1m-13 4.1h1m3 0h1m-5 2h1m3 2h1m-5 2h1m3 0h1m-5 2h1m11 0h1m-13 8h1m5 0h1m5 0h1m-9 4h1m-5 2h1m5 2h1m5 0h1m-13 8.1h1m-1 4h1m3 0h1m-1 2h1m7 0h1m-7 4h1m5 0h1m-13 2h1m-1 2h1m-1 2h1m-1 2h1m-1 2h1m3 6h1m-1 2h1m-1 2.1h1m-5 2h1m3 2h1m-5 2h1m-1 2h1m-1 4h1m-1 6h1m3 2h1m-5 2h1m3 2h1m-1 4h1m-1 2.1h1m-1 2h1m-5 4h1m3 2h1m7 0h1m-7 2h1m-7 2h1m6 6h1m-1 8.1h1m1 2h1m-3 2h1m-1 2h1m-1 4h1m-1 2h1m-1 2h1m-1 2h1m-1 2.1h1m-1 6h1m-1 2h1m-1 2h1m-1 10.1h1m1 4h1m-3 2h1m1 4h1m-3 10.1h1m1 2h1m-3 2h1m1 0h1m-3 6h1m1 2h1m-1 4.1h1m-1 2h1m-1 2h1m-1 2h1m-4 4h1m-1 2h1m-3 6h1m1 0h1m-3 4h1m-1 2h1m3 2h1m-1 6h1m-1 4h1m-5 2h1m3 0h1m-5 1.9h1m1 0h1m3 0h1m-3 2h1m1 0h1m-1 4h1m-5 2h1m1 0h1m-5 2h1m1 0h1m1 0h1m1 0h1m-3 2h1m-5 2h1m1 0h1m1 0h1m1 0h1m-7 2h1m3 0h1m-3 2h1m3 2h1m-3 2h1m-5 4h1m-1 2h1m1 0h1m3 0h1m-7 2h1m1 0h1m1 0h1m1 0h1m-3 2h1m3 0h1m-11 2h1m5 0h1m-9 2.1h1m3 0h1m3 0h1m1 6.1h1m-7 8.1h1m-5 2h1m7 0h1m3 0h1m-9 10.1h1m7 0h1m0 8.1h1m3 0h1m-5 1.9h1m4 0h1m-2 2h1m0 5.9h1m-17 4h1m15 2h1m-3 2h1m-17 7.7h1m1 0h1m1 0h1m3 0h1m3 0h1m4 0h2m-3 5.7h1m1 7.6h1m-4 3.9h1m-1 5.7h1m1 22.6h1m-1 8.3h1m-1 4.1h1m-4 12.4h1m-1 2h1m-11 14.4h1m3 0h1m-9 6h1m3 0h1m15 0h1m-21 1.9h3m4 0h1m2 0h1m-10 2h1m2 0h1m1 0h2m3 0h1m9 0h1m3 0h1m-18 4h1m13 0h1m-21 3.9h1m9 0h1m-11 1.9h1m21 0h1m-24 3.9h1m4 0h1m1 0h1m3 0h1m6 0h1m5 0h1m-24 3.8h1m1 0h1m7 0h1m-12 2h1m1 0h1m-5 1.9h1m2 0h1m2 0h1m6 0h1m-5 3.8h1m13 1.9h1m-19 2h1m-3 2h1m9 0h1m-11 2h1m3 0h1m19 0h1m-21 4h1m5 0h1m-13 2h1m3 0h1m5 0h1m10 0h1m4 0h1m-27 2h1m3 0h1m-1 5.9h1m1 0h1m1 0h1m15 0h1m-5 1.9h1m1 0h2m-1 1.9h1m-22 3.9h1m7 0h1m1 0h1m7 0h1m-15 3.7h1m3 0h1m9 0h1m5 0h1m-5 2h2m-14 1.8h1m-3 1.9h1m-5 6.4h1m18 0h1m0 2.2h2m-26 4.2h1m3 0h1m3 0h1m3 0h1m11 0h2m-24 4.2h1m22 0h1m-20 2h1m1 0h1m1 0h1m17 4h1m-1 19.6h1m-25 7.9h1m22 8h1m-1 6.1h1m-26 4h1m24 4h1m-1 2h1m6 14.4h1m-6 2h1m-20 2.2h1m18 0h1m-24 2.1h1m22 0h1m4 0h1m-1 4.2h1m-29 2.1h1m26 4.2h1m-32 2h1m5 0h1m1 0h1m1 0h1m21 2.2h1m-33 1.9h1m26 0h1m-18 1.9h1m16 0h1m-20 3.8h1m22 0h1m-30 1.8h1m7 0h1m-13 1.9h1m-1 1.9h1m1 0h1m9 0h1m16 0h1m-22 5.9h1m21 0h1m-27 2h1m5 0h1m1 0h1m18 2.1h1m-2 2h1m-31 2.1h1m1 0h1m1 0h1m3 0h1m1 0h1m1 0h1m20 0h1m-34 4h1m1 0h1m1 0h1m5 0h1m23 0h1m-29 2.1h1m27 0h1m-27 4.1h1m1 0h1m19 0h1m-2 17.9h1m-28 2h1m26 0h1m4 0h1m-1 2h1m-1 4h1m-33 2h1m1 0h1m1 0h1m1 0h1m3 0h1m17 0h1m-2 2h2m-23 4h1m-9 4h1m29 0h1m-31 8.1h1m9 0h1m19 0h2m1 4h1"/>
<path stroke="#7abac5" d="M10 95h1m-1 5.9h1m-1 2h1m-5 3.9h1m3 0h1m-6 4h1m3 2h1m1 2.1h1m-3 6.1h1m-3 4h1m-1 2.1h1m-1 2h1m-1 2h1m1 0h1m-3 2h1m1 0h1m-3 4.1h1m-1 2h1m1 0h1m-3 2.1h1m-1 2h1m-1 2h1m-1 2h1m-3 4.1h1m5 0h1m-5 2h1m-1 2.1h1m-1 4h1m1 0h1m1 2.1h1m-5 2h1m3 0h1m-1 2h1m-1 10.2h1m-5 2h1m1 0h1m1 0h1m-1 2h1m-1 2h1m-3 4.1h1m-3 2h1m3 2.1h1m1 4h1m-1 2.1h1m-3 2h1m1 0h1m-5 29.5h1m-1 2h1m-9 2.1h2m-2 4h1m9 0h1m-3 2.1h1m-9 2h2m6 0h1m-9 2.1h1m7 0h1m1 0h1m-11 4.1h1m7 0h1m0 2h1m-1 2h1m1 1.9h1m-3 2h1m1 0h1m-12 2h1m11 0h1m-5 2h1m-1 2h1m-9 2h1m11 2h1m-3 2h1m-11 2h1m5 0h1m-1 2h1m1 0h1m-1 2h1m-3 2h1m1 0h1m3 0h1m-13 2h1m9 0h1m-11 2h1m5 0h1m3 0h1m1 0h1m-13 2h1m5 0h1m1 0h1m1 0h1m1 4h1m-3 2h1m1 0h1m-7 4h1m1 0h1m-9 4h1m5 0h1m1 0h1m1 4h1m-3 2h1m-1 2h1m1 4h1m-3 2h1m-3 2h1m5 0h1m-5 2h1m-3 2h1m1 0h1m-1 4h1m-3 2h1m1 2h1m1 4h1m-11 31.1h1m7 0h1m-9 4h1m9 0h1m1 0h1m-5 2h1m1 6h1m-11 4h1m9 0h1m1 0h1m-13 2h1m9 0h1m1 2h1m-3 2h1m-11 2h1m9 0h1m-3 2h1m-9 4h1m-1 4h1m11 0h1m-5 2h1m-1 4h1m1 10h1m1 0h1m-13 2h1m11 0h1m-3 2h1m-1 2h1m1 0h1m-3 6h1m-1 6h1m-11 5.9h1m9 0h1m-11 2h1m7 0h1m-1 8h1m1 2h1m-1 2h1m1 0h1m-3 2h1m1 0h1m-3 2h1m-11 2h1m7 2h1m-9 2h1m11 0h1m-3 6h1m1 0h1m-3 2h1m1 0h1m-13 8h1m9 0h1m1 0h1m-13 2h1m9 0h1m-11 4h1m9 2h1m-11 2h1m11 0h1m-13 2h1m9 0h1m1 0h1m-13 4h1m11 0h1m-13 2h1m9 0h1m1 0h1m-13 2h1m11 0h1m-1 2h1m-3 2h1m-2 2h1m1 2.1h1m-3 4.2h1m1 4.2h1m-3 2.1h1m-10 10.4h1m3 2h1m7 0h1m-1 2h1m-13 2h1m11 0h1m-13 2h1m3 6.1h1m-5 2h1m11 0h1m-9 4h1m7 0h1m-13 4h1m-1 2h1m11 0h1m-9 2h1m-1 2h1m7 0h1m-13 2h1m11 0h1m-9 2h1m-5 2h1m3 0h1m7 0h1m-13 4h1m3 0h1m-5 4h1m-1 2.1h1m11 0h1m-13 4h1m11 0h1m-13 4h1m11 2h1m-13 2h1m11 2h1m-2 2h1m-1 2h1m-5 2h1m3 0h1m-1 2h1m-5 5.9h1m3 0h1m-1 2h1m-5 2h1m3 0h1m-5 4h1m3 1.9h1m-5 2h1m3 0h1m-5 2h1m-1 2h1m3 0h1m-1 6h1m-1 7.9h1m-5 4h1m3 2h1m-5 5.9h1m3 0h1m-1 4h1m-1 5.9h1m-5 2h1m-1 8h1m3 0h1m-1 5.9h1m-1 2h1m-6 2h1m5 0h1m-1 2h1m-1 4h1m-1 2h1m-7 2h1m-1 2h1m5 2h1m-7 2.1h1m1 0h1m3 0h1m-7 4h1m-1 2h1m-7 2h1m5 2h1m5 2h1m-1 2h1m-5 2h1m3 0h1m-13 2h1m11 0h1m-13 2h1m7 2h1m-9 2h1m11 0h1m-1 4h1m-7 2.1h1m-1 2h1m5 2h1m-7 2h1m5 0h1m-13 4h1m-1 4h1m5 2h1m5 4h1m-1 8h1m-9 4.1h1m-5 2h1m11 6h1m-9 2h1m-1 2h1m7 0h1m-13 4h1m11 0h1m-13 2h1m5 0h1m5 2h1m-7 4h1m5 0h1m-5 2h1m-3 2h1m5 0h1m-1 4.1h1m-7 2h1m5 0h1m-5 2h1m3 2h1m-5 2h1m-3 2h1m5 0h1m-1 2h1m-7 4h1m5 0h1m-13 4h1m-1 2h1m-1 2h1m-1 2h1m11 0h1m-13 2.1h1m11 0h1m-13 4h1m5 2h1m5 0h1m-13 4h1m11 2h1m-1 2h1m-13 2h1m11 0h1m-13 8h1m-1 2h1m11 0h1m-13 2h1m-1 2.1h1m-1 2h1m-1 2h1m3 0h1m-5 4h1m5 4h1m5 2h1m-6 2h1m1 0h1m-1 2h1m-1 2h1m-1 2h1m-1 2h1m-1 6.1h1m-1 4h1m-1 4h1m-1 6.1h1m-1 2h1m-1 2h1m-1 6h1m-3 2h1m1 6.1h1m-1 2h1m-1 2h1m-1 4h1m-1 6h1m-1 2h1m-1 2h1m-1 2.1h1m-3 8h1m1 0h1m-1 4h1m-1 4h1m-6 12.1h1m3 0h1m-1 2h1m1 0h1m-7 2h1m1 0h1m1 4h1m1 0h1m-7 2h1m1 0h1m-1 2h1m1 0h1m-3 2h1m1 0h1m-5 2h1m1 0h1m3 0h1m-7 2h1m1 2h1m3 2h1m-5 2h1m1 0h1m1 0h1m-7 2h1m1 0h1m-1 2h1m-1 5.9h1m1 0h1m1 0h1m-1 4h1m-5 4h1m3 0h1m-5 4h1m3 0h1m-1 2h1m-7 4h1m1 0h1m-1 4h1m3 0h1m-9 6h1m9 2h1m-1 2.1h1m-13 2h1m7 0h1m5 0h1m-9 12.2h1m3 0h1m-9 2h1m1 0h1m1 0h1m3 0h1m-9 8.1h1m1 0h1m-3 2h1m14 10h1m0 2h1m-6 2h1m-1 5.9h1m2 2h1m1 5.9h1m-3 3.9h1m-11 1.9h1m7 0h1m0 13.3h1m-2 11.5h1m-1 1.8h1m3 1.8h1m-5 1.8h1m-1 17.4h1m-1 4.1h1m2 0h1m-4 8.3h1m-1 16.4h1m-3 10.3h1m-11 2h1m1 0h1m7 0h1m-13 7.9h1m1 0h1m5 0h1m-7 4h1m3 0h1m12 1.9h1m2 0h1m-17 3.9h1m3 0h1m11 0h1m3 0h1m-27 2h1m1 0h1m20 0h1m1 0h1m-4 3.8h1m-17 1.9h1m1 0h1m1 0h1m12 0h1m-25 2h1m2 0h1m20 0h1m-24 1.9h1m18 0h1m5 0h1m-20 7.7h1m14 0h1m-18 2h1m-1 2h1m5 0h1m13 0h1m-23 4h1m5 2h1m3 0h1m11 0h1m-21 9.8h1m15 1.9h1m2 1.9h1m-20 2h1m1 1.9h1m-5 1.8h1m5 0h1m-9 3.8h1m1 0h1m1 0h1m15 0h1m-13 4h1m14 0h2m-21 2.2h1m5 0h1m-1 2.1h1m11 4.3h1m-21 2.1h1m3 0h1m3 0h1m-5 4.2h1m3 0h1m13 0h1m-13 2h1m15 7.9h1m-1 6h1m-1 11.6h1m-2 22.1h1m5 14.1h1m-1 4.1h1m-1 4.2h1m-24 6.3h1m7 6.3h1m-17 4.2h1m26 0h1m-30 2h1m17 0h1m10 2.2h1m2 7.6h1m-31 1.8h1m7 3.8h1m19 7.9h1m-25 6.2h1m-1 4h1m1 0h1m3 0h1m16 18.2h1m4 0h1m-1 19.9h1m-2 2h1m-24 2h1m22 2h1m-4 4h1m-27 4.1h1m1 0h1m1 0h1m20 0h1m0 4h1"/>
<path stroke="#6cafc4" d="M7 110.8h1m3 0h1m-5 4.1h1m1 4h1m-3 4.1h1m1 0h1m-1 2h1m-1 2.1h1m-1 2h1m-3 6.1h1m1 2h1m-1 4.1h1m-1 2h1m-1 6.1h1m-3 2h1m1 2h1m-1 2.1h1m-1 14.2h1m1 0h1m-5 2h1m1 4.1h1m-1 4h1m-1 2h1m-1 6.1h1m3 4.1h1m-13 37.6h2m8 0h1m-10 8.2h1m-1 4.1h1m9 6.1h1m-1 2h1m-4 5.9h1m-3 4h1m1 6h1m-1 2h1m1 0h1m1 0h1m-5 8h1m-1 2h1m-1 4h1m-1 2h1m-1 2h1m-1 2h1m-1 10h1m-1 8h1m-1 4h1m1 0h1m-3 6h1m-1 10h1m3 0h1m-5 39.1h1m-1 2h1m3 8h1m-5 2h1m-1 2h1m-1 6h1m-1 4h1m-1 16h1m3 6h1m-5 8h1m3 2h1m-5 2h1m-1 11.9h1m-1 2h1m3 12h1m-5 2h1m1 4h1m-3 2h1m-1 8h1m-1 2h1m-1 2h1m-1 22h1m1 2h1m-2 8.2h1m-1 4.2h1m-1 10.6h1m-10 2h1m5 2h1m-7 2h1m3 2h1m-5 6h1m-1 2h1m11 6.1h1m-13 2h1m11 8h1m-13 2h1m-1 4h1m5 4h1m3 0h1m-5 2h1m-7 2h1m9 0h1m-1 2h1m-5 2.1h1m3 0h1m-11 2h1m-1 4h1m5 2h1m-7 2h1m5 2h1m-7 2h1m9 0h1m0 21.9h1m-5 1.9h1m-1 41.7h1m-2 23.9h1m-1 2h1m-1 2h1m1 0h1m-1 4h1m-9 2h1m5 0h1m5 4.1h1m-5 2h1m-1 2h1m3 2h1m-7 4h1m1 0h1m-3 6h1m5 2h1m-7 6h1m5 0h1m-7 2h1m1 0h1m3 2.1h1m-5 2h1m-3 2h1m1 2h1m-1 2h1m3 2h1m-7 2h1m5 0h1m-7 2h1m5 0h1m-1 4h1m-7 6h1m-1 2h1m1 0h1m3 4.1h1m-1 6h1m-7 2h1m-1 2h1m-7 2h1m11 0h1m-13 2h1m5 4h1m1 0h1m-3 4h1m1 2h1m-1 2h1m-3 2h1m5 0h1m-5 2h1m3 2.1h1m-7 2h1m-1 6h1m1 0h1m-3 6h1m5 2h1m-1 4h1m-1 2h1m-1 2h1m-7 2h1m5 0h1m-7 2h1m-1 4.1h1m5 0h1m-7 2h1m5 0h1m-5 2h1m3 4h1m-7 2h1m-1 4h1m1 0h1m3 2h1m-13 2h1m11 0h1m-1 2h1m-1 2h1m-7 4h1m5 0h1m-1 2.1h1m-1 2h1m-1 2h1m-1 2h1m-5 6h1m3 0h1m-7 2h1m1 0h1m0 12.1h1m-1 6h1m-1 4h1m-1 4h1m-1 2h1m-1 8.1h1m-1 2h1m-1 4h1m-1 2h1m-1 26.2h1m0 26.1h1m-3 4h1m1 0h1m-7 2h1m1 0h1m1 4h1m1 0h1m-1 2h1m-5 6h1m1 0h1m-5 2h1m3 0h1m1 0h1m-1 8h1m-7 19.9h1m5 4h1m-1 2h1m-1 10h1m-9 4.1h1m1 0h1m1 0h1m3 0h1m1 0h1m-9 8.1h1m-5 14.2h1m7 0h1m1 0h1m2 19.9h1m3 0h1m-1 2h1m-5 6h1m4 0h1m-2 1.9h1m-8 5.8h1m5 1.9h1m-2 17.2h1m2 7.5h1m-2 21h1m-1 8.2h1m-12 30.9h1m3 0h1m-11 2h1m5 0h1m13 5.9h1m-11 2h1m-11 5.9h1m25 0h1m-27 3.9h1m3 0h1m3 0h1m-3 9.7h1m1 0h1m1 0h1m8 0h1m5 0h1m-22 1.9h1m1 0h1m3 0h1m-11 11.7h1m7 0h1m12 0h1m-20 6h1m22 7.9h1m-24 1.9h1m7 0h1m1 0h1m-9 1.9h1m17 1.9h1m-23 2h1m5 0h1m1 0h1m-7 1.9h1m5 0h1m11 0h1m-21 1.8h1m1 2h1m-3 5.8h1m5 0h1m-7 14.9h1m3 0h1m3 0h1m3 0h1m-11 2h1m25 2h1m-2 25.5h1m-1 24.1h1m5 22.6h2m-1 4.1h1m-6 4.3h1m-1 2.1h1m4 0h1m-1 2.1h1m-31 2h1m24 0h1m3 0h1m-2 13.5h1m-2 7.8h1m-2 8.2h1m-1 4h1m-2 32.1h1m-1 2h1m0 6h1m-29 12.1h1"/>
<path stroke="#5fa2c2" d="M9 110.8h1m-1 4.1h1m-1 20.3h1m-1 12.1h1m-1 4.1h1m-3 6.1h1m1 0h1m-1 6.1h1m-3 4h1m1 0h1m-3 2.1h1m1 2h1m-3 2h1m3 0h1m-5 2.1h1m-1 4h1m-1 4.1h1m-1 2h1m-1 4.1h1m3 6.1h1m-3 162.9h1m-1 10h1m-1 2h1m-1 2h1m-1 2h1m-1 6h1m-1 6h1m-1 8h1m-1 4h1m-1 2h1m-1 8h1m-1 4h1m-1 2h1m-1 2h1m-1 8h1m-1 1.9h1m-1 2h1m-1 10h1m-1 4h1m-1 4h1m-1 12h1m-1 2h1m-1 14h1m-1 2h1m-1 4h1m-1 2h1m-1 2h1m-1 2h1m-1 6h1m1 25h1m-1 2h1m-1 6h1m-5 2h1m3 0h1m-5 2h1m3 0h1m-11 4.1h1m-1 4h1m3 0h1m5 2h1m-11 2h1m5 0h1m3 2h1m-5 2h1m3 0h1m-11 2h1m9 12h1m-5 2h1m-1 2h1m3 6.1h1m-5 2h1m3 2h1m-5 6h1m0 83.4h1m0 2h1m-3 2h1m1 2h1m-1 2h1m-1 4h1m-3 8.1h1m1 0h1m-3 6h1m1 0h1m-1 2h1m-3 4h1m1 0h1m-3 6h1m-1 4h1m1 0h1m-1 6.1h1m-1 4h1m-3 6h1m1 6h1m-3 2h1m-1 4h1m1 0h1m3 2h1m-7 4h1m1 0h1m-3 2.1h1m-1 2h1m5 0h1m-1 2h1m-5 4h1m-1 2h1m-3 4h1m1 2h1m3 4h1m-5 2h1m-3 10.1h1m1 0h1m-1 2h1m-3 4h1m1 6h1m-3 4h1m1 2h1m-3 2h1m1 0h1m-3 2h1m1 0h1m-3 2h1m1 4h1m3 10.1h1m-7 6h1m1 0h1m-3 4h1m-1 4h1m-1 2h1m-1 2h1m1 2h1m-3 2.1h1m-1 2h1m-1 2h1m1 2h1m-3 2h1m1 2h1m-1 106.5h1m1 0h1m-1 8h1m-1 12h1m-5 64.3h1m5 0h1m5 16h1m-6 2h1m4 0h1m-1 3.9h1m-2 6h1m-2 15.3h1m1 17.2h1m-19 61.9h1m19 0h1m-11 2h1m9 0h1m-9 7.9h1m-11 5.9h1m3 0h1m3 0h1m1 0h1m-1 3.9h1m9 2h1m-23 7.7h1m11 0h1m-5 1.9h1m1 7.7h1m1 0h1m-1 4h1m-5 4h1m12 0h1m3 4h1m-26 7.8h1m7 0h1m-9 1.9h1m1 0h1m23 3.9h1m-27 1.9h1m3 0h1m5 0h1m1 0h1m13 0h1m-27 3.8h1m3 0h1m3 0h1m11 0h1m-15 1.8h1m5 0h1m-11 4h1m1 0h1m5 0h1m1 0h1m-13 8.6h1m1 0h1m3 0h1m13 0h1m7 28.1h1m-2 9.7h1m-1 20.1h1m5 10h1m0 23h1m-4 33.6h1m-1 8.2h1m-20 50.1h1m20 0h1"/>
<path stroke="#5296c0" d="M9 145.3h1m-3 16.3h1m1 0h1m-3 4h1m1 0h1m-1 8.1h1m-3 8.1h1m1 2.1h1m-1 6.1h1m-1 2h1m1 0h1m-1 2h1m-5 4.1h1m1 0h1m-1 162.9h1m-1 30h1m-1 12h1m-1 4h1m-1 4h1m-1 10h1m-1 23.9h1m-1 4h1m-1 14h1m-1 8h1m-1 8h1m-1 10h1m-3 29h1m-1 4h1m-7 2h1m5 0h1m-1 2h1m-1 6h1m3 0h1m-5 4.1h1m3 0h1m-5 4h1m3 2h1m-5 2h1m-1 4h1m-1 2h1m-1 2h1m3 0h1m-5 2h1m3 0h1m-5 2h1m3 0h1m-5 12.1h1m3 0h1m-5 2h1m3 2h1m-1 6h1m-3 89.4h1m-1 12h1m-1 20.1h1m-1 2h1m-1 6h1m-1 14.1h1m-1 2h1m-1 2h1m-1 4h1m-3 2h1m1 4h1m-1 8.1h1m-3 4h1m-1 6h1m1 2h1m-1 6h1m-1 16.1h1m-1 10h1m-1 2h1m-1 8h1m-1 2h1m-1 6.1h1m-1 2h1m-3 4h1m-1 2h1m1 8h1m-3 2h1m1 0h1m-1 2h1m-1 4h1m-1 6.1h1m-1 2h1m-3 2h1m1 2h1m1 120.5h1m6 90.3h1m-5 5.9h1m1 26.9h1m2 15h1m1 66.4h1m-17 5.9h1m3 0h1m15 0h1m-21 13.6h1m17 0h1m-17 19.6h1m-1 9.8h1m-1 1.9h1m1 0h1m1 0h1m15 0h1m-27 1.9h1m19 0h1m5 7.7h1m-1 5.8h1m-17 8.6h1m1 0h1m11 0h1m2 39.8h1m4 63.3h1m-1 5.6h1m-2 11.7h1m2 44.3h1"/>
<path stroke="#4689bd" d="M7 196.1h1m1 0h1m-1 234.8h1m-1 24h1m-1 18h1m1 49h1m-1 2h1m-5 10.1h1m-1 4h1m3 0h1m-1 10h1m-1 2h1m-5 26.1h1m3 0h1m-3 155.6h1m-1 10.1h1m-3 4h1m1 2h1m-1 6h1m-3 50.2h1m1 0h1m-1 8h1m-1 2h1m-1 2h1m-1 12h1m-1 6.1h1m8 216.8h1m0 7.9h1m3 125.8h1m-1 3.9h1m3 27.5h1m-19 3.8h1m1 0h1m-5 7.7h1m3 0h1m-7 14.4h1m3 0h1m16 0h1m2 8.3h1m3 92.9h1m-2 25.4h1m-1 10.2h1"/>
<path stroke="#3e7cb4" d="M7 192h1m-1 2h1m1 0h1m1 340h1m-3 211.8h1m8 313h1m-6 159.1h1m-7 1.9h1m19 0h1m-15 7.7h1m21 111.5h1m-3 15.4h1m-2 18.1h1"/>
<path stroke="#376fab" d="M17 1070.5h1m-15 149.3h1m1 0h1m7 0h1"/>
<path stroke="#264489" d="M0 77.8h1m-1 1.9h1m-1 1.9h1m-1 1.9h1m-1 1.9h1m-1 1.8h1m-1 1.9h1m-1 1.9h1m-1 2h1m-1 2h1m-1 2h1m-1 1.9h1m-1 2h1m-1 2h1m-1 2h1m-1 1.9h1m-1 2h1m0 2h1m-1 2h1m-1 2.1h1m-1 2h1m-1 2h1m-1 2.1h1m-1 2h1m-1 2h1m-1 2.1h1m-1 2h1m-1 2h1m-1 2h1m-1 2.1h1m-1 2h1m-1 2h1m-1 2.1h1m-1 2h1m-1 2h1m-1 2h1m-1 2.1h1m-1 2h1m-1 2h1m-1 2.1h1m-1 2h1m-1 2h1m-1 2.1h1m-1 2h1m-1 2h1m-1 2h1m-1 2.1h1m-1 2h1m-1 2h1m-1 2.1h1m-1 2h1m-1 2h1m-1 2h1m-1 2.1h1m-1 2h1m-1 2h1m-1 2.1h1m-1 2h1m-1 2h1m-1 2.1h1m-1 2h1m0 2h1m-1 1.9h1m-1 1.9h1m-1 2h1m-1 1.9h1m-1 2h1m-1 1.9h1m-1 1.9h1m-1 2h1m-1 1.9h1m-1 1.9h1m0 2h1m-1 2.1h1m-1 2h1m-1 2.1h1m-1 2h1m-1 2.1h1m-1 2h1m-1 2h1m-1 2.1h1m-1 2h1m-1 2.1h1m-1 2h1m-1 2.1h1m0 2h1m-1 2h1m-1 1.9h1m-1 2h1m0 2h1m-1 2h1m-1 2h1m-1 2h1m-1 2h1m-1 2h1m-1 2h1m-1 2h1m-1 2h1m-1 2h1m-1 2h1m-1 2h1m-1 2h1m-1 2h1m-1 2h1m-1 2h1m-1 2h1m-1 2h1m-1 2h1m-1 2h1m-1 2h1m-1 2h1m-1 2h1m-1 2h1m-1 2h1m-1 2h1m-1 2h1m-1 2h1m-1 2h1m-1 2h1m-1 2h1m-1 2h1m-1 2h1m-1 2h1m-1 2h1m-1 2h1m0 2h1m-1 1.9h1m-1 2h1m-1 1.9h1m-1 1.9h1m-1 2h1m-1 1.9h1m-1 1.9h1m-1 2h1m-1 1.9h1m-1 2h1m-1 1.9h1m-1 1.9h1m-1 2h1m-1 1.9h1m0 2h1m-1 2h1m-1 2h1m-1 2h1m-1 2h1m-1 2h1m-1 2h1m-1 2h1m-1 2h1m-1 2h1m-1 2h1m-1 2h1m-1 2h1m-1 2h1m-1 2h1m-1 2h1m-1 2h1m-1 2h1m-1 2h1m-1 2h1m-1 2h1m-1 2h1m-1 2h1m-1 2h1m-1 2h1m-1 2h1m-1 2h1m-1 2h1m-1 2h1m-1 2h1m-1 2h1m-1 2h1m-1 2h1m-1 2h1m-1 2h1m-1 1.9h1m-1 2h1m-1 2h1m-1 2h1m-1 2h1m-1 2h1m-1 2h1m-1 2h1m-1 2h1m-1 2h1m-1 2h1m-1 2h1m-1 2h1m-1 2h1m-1 2h1m-1 2h1m-1 2h1m-1 2h1m-1 2h1m-1 2h1m-1 2h1m-1 2h1m-1 2h1m-1 2h1m-1 2h1m-1 2h1m-1 2h1m-1 2h1m-1 2h1m-1 2h1m-1 2h1m-1 2h1m-1 2h1m-1 2h1m-1 2h1m0 2h1m-1 2.1h1m-1 2.1h1m-1 2.1h1m-1 2.1h1m-1 2.1h1m-1 2.1h1m-1 2.1h1m-1 2.2h1m-1 2.1h1m0 2h1m-1 2h1m-1 2h1m-1 2h1m-1 2h1m-1 2h1m-1 2h1m-1 2h1m-1 2.1h1m-1 2h1m-1 2h1m-1 2h1m-1 2h1m-1 2h1m-1 2h1m-1 2h1m-1 2h1m-1 2h1m-1 2h1m-1 2h1m-1 2h1m-1 2h1m-1 2h1m-1 2h1m-1 2.1h1m-1 2h1m-1 2h1m-1 2h1m-1 2h1m-1 2h1m-1 2h1m-1 2h1m0 2h1m-1 2h1m-1 2h1m-1 2h1m-1 1.9h1m-1 2h1m-1 2h1m-1 2h1m-1 2h1m-1 2h1m-1 2h1m-1 1.9h1m-1 2h1m-1 2h1m-1 2h1m-1 2h1m-1 2h1m-1 2h1m-1 1.9h1m-1 2h1m-1 2h1m-1 2h1m-1 2h1m-1 2h1m-1 2h1m-1 1.9h1m-1 2h1m-1 2h1m-1 2h1m-1 2h1m-1 2h1m-1 1.9h1m-1 2h1m-1 2h1m-1 2h1m-1 2h1m-1 2h1m-1 2h1m-1 1.9h1m-1 2h1m-1 2h1m-1 2h1m0 2h1m-1 2h1m-1 2h1m-1 2h1m-1 2h1m-1 2h1m-1 2h1m-1 2h1m-1 2.1h1m-1 2h1m-1 2h1m-1 2h1m-1 2h1m-1 2h1m-1 2h1m-1 2h1m-1 2h1m-1 2h1m-1 2h1m-1 2h1m-1 2h1m-1 2h1m-1 2h1m-1 2.1h1m-1 2h1m-1 2h1m-1 2h1m-1 2h1m-1 2h1m-1 2h1m-1 2h1m-1 2h1m-1 2h1m-1 2h1m-1 2h1m-1 2h1m-1 2h1m-1 2h1m-1 2.1h1m-1 2h1m-1 2h1m-1 2h1m-1 2h1m-1 2h1m-1 2h1m-1 2h1m-1 2h1m-1 2h1m-1 2h1m-1 2h1m-1 2h1m-1 2h1m-1 2h1m-1 2h1m-1 2.1h1m-1 2h1m-1 2h1m-1 2h1m-1 2h1m-1 2h1m-1 2h1m-1 2h1m-1 2h1m-1 2h1m-1 2h1m-1 2h1m-1 2h1m-1 2h1m-1 2h1m-1 2.1h1m-1 2h1m-1 2h1m-1 2h1m-1 2h1m-1 2h1m-1 2h1m-1 2h1m-1 2h1m-1 2h1m-1 2h1m-1 2h1m-1 2h1m-1 2h1m-1 2h1m-1 2.1h1m-1 2h1m-1 2h1m-1 2h1m-1 2h1m-1 2h1m-1 2h1m-1 2h1m0 2h1m-1 2h1m-1 2h1m-1 2h1m-1 2h1m-1 2.1h1m-1 2h1m-1 2h1m-1 2h1m-1 2h1m-1 2h1m-1 2h1m-1 2h1m-1 2h1m-1 2.1h1m-1 2h1m-1 2h1m-1 2h1m-1 2h1m-1 2h1m-1 2h1m-1 2h1m-1 2h1m-1 2.1h1m-1 2h1m-1 2h1m-1 2h1m-1 2h1m-1 2h1m-1 2h1m-1 2h1m-1 2h1m-1 2h1m-1 2.1h1m-1 2h1m-1 2h1m-1 2h1m-1 2h1m-1 2h1m-1 2h1m-1 2h1m-1 2h1m-1 2.1h1m-1 2h1m-1 2h1m-1 2h1m-1 2h1m0 2h1m-1 2h1m-1 2h1m-1 2h1m-1 2h1m-1 2h1m-1 2h1m-1 2h1m-1 2h1m-1 2h1m-1 2h1m-1 2h1m-1 2h1m-1 2h1m-1 2h1m-1 1.9h1m-1 2h1m-1 2h1m-1 2h1m-1 2h1m-1 2h1m-1 2h1m-1 2h1m-1 2h1m-1 2h1m-1 2h1m-1 2h1m-1 2h1m-1 2h1m-1 2h1m-1 2h1m0 2h1m-1 2h1m-1 2.1h1m-1 2h1m-1 2h1m-1 2.1h1m-1 2h1m-1 2h1m-1 2h1m-1 2.1h1m-1 2h1m-1 2h1m-1 2h1m-1 2.1h1m-1 2h1m-1 2h1m-1 2.1h1m-1 2h1m0 2h1m-1 2h1m-1 1.9h1m-1 2h1m-1 2h1m-1 2h1m-1 1.9h1m-1 2h1m-1 2h1m-1 2h1m-1 2h1m-1 1.9h1m-1 2h1m0 1.9h1m-1 1.9h1m-1 1.9h1m-1 1.9h1m-1 1.9h1m-1 1.9h1m-1 1.9h1m0 1.9h1m-1 1.9h1m-1 1.9h1m-1 2h1m-1 1.9h1m-1 1.9h1m-1 1.9h1m0 1.9h1m-1 1.8h1m-1 1.8h1m-1 1.8h1m-1 1.9h1m-1 1.9h1m-1 1.9h1m-1 1.9h1m-1 1.9h1m-1 1.9h1m-1 1.9h1m0 2h1m-1 2.1h1m-1 2.1h1m-1 2h1m-1 2.1h1m-1 2h1m-1 2.1h1m-1 2.1h1m-1 2h1m-1 2.1h1m-1 2h1m-1 2.1h1m-1 2.1h1m-1 2h1m-1 2.1h1m-1 2h1m-1 2.1h1m-1 2h1m-1 2.1h1m-1 2.1h1m0 2h1m-1 2h1m-1 2h1m-1 2h1m-1 1.9h1m-1 2h1m-1 2h1m0 2h1m-1 1.9h1m-1 2h1m-1 1.9h1m0 2h1m-1 1.9h1m-1 1.9h1m-1 1.9h1m-1 2h1m-1 1.9h1m-1 1.9h1m-1 1.9h1m-1 1.9h1m0 2h1m-1 2h1m-1 2h1m-1 2h1m-1 2h1m-1 2h1m0 2h1m-1 2h1m-1 1.9h1m-1 2h1m0 1.9h1m-1 1.9h1m-1 1.9h1m-1 2h1m-1 1.9h1m-1 1.8h1m-1 2h1m-1 1.8h1m-1 1.9h1m0 2.1h1m-1 2.2h1m-1 2.1h1m0 2.2h1m-1 2.1h1m-1 2.1h1m-1 2h1m-1 2.2h1m0 2h1m-1 2h1m-1 2h1m-1 2h1m-1 1.9h1m-1 2h1m-1 2h1m-1 2h1m-1 2h1m-1 1.9h1m-1 2h1m-1 1.9h1m-1 1.9h1m-1 1.9h1m0 2h1m-1 2h1m-1 2h1m-1 2h1m-1 2h1m-1 2h1m-1 2h1m-1 2h1m-1 2.1h1m-1 2h1m-1 2h1m-1 2h1m-1 2h1m-1 2h1m-1 2h1m-1 2h1m0 2h1m-1 2.1h1m-1 2.1h1m-1 2h1m-1 2.1h1m-1 2.1h1m0 2h1m-1 2.2h1m-1 2.1h1m-1 2h1m-1 2.2h1m-1 2.1h1m-1 2.1h1m-1 2.1h1m-1 2h1m-1 2.2h1m0 1.9h1m-1 1.9h1m-1 1.9h1m-1 1.9h1m-1 1.8h1m-1 1.9h1m-1 1.9h1m-1 1.9h1m0 1.9h1m-1 2.1h1m-1 2h1m-1 2.1h1m-1 2h1m-1 2.1h1m-1 2h1m-1 2h1m-1 2.1h1m-1 2h1m-1 2.1h1m0 2h1m-1 2h1m-1 2h1m-1 2h1m-1 2h1m-1 2h1m-1 2h1m-1 2h1m-1 1.9h1m-1 2h1m-1 2h1m-1 2h1m-1 2h1m-1 2h1m-1 2h1m-1 2h1m0 2h1m-1 2h1m-1 2h1m-1 2h1m-1 2h1m-1 2.1h1m-1 2h1m-1 2h1m-1 2h1m-1 2h1"/>
</g>
<rect x="680.2" y="76.9" width="26" height="122.4" fill="#407326"/>
<rect x="708.2" y="76.9" width="26.4" height="33.1" fill="#52a67b"/>
<rect x="708.2" y="109.8" width="26.4" height="89.5" fill="#93cdd9"/>
<rect x="680.2" y="199.1" width="26" height="48.1" fill="#675dff"/>
<rect x="708.2" y="199.1" width="26.4" height="21.5" fill="#52a67b"/>
<rect x="708.2" y="220.4" width="26.4" height="26.8" fill="#93cdd9"/>
<rect x="680.2" y="247" width="26" height="80.1" fill="#9fa5ff"/>
<rect x="708.2" y="247" width="26.4" height="8.1" fill="#52a67b"/>
<rect x="708.2" y="254.9" width="26.4" height="72.2" fill="#93cdd9"/>
<rect x="680.2" y="326.9" width="26" height="169.2" fill="#c5fc52"/>
<rect x="708.2" y="326.9" width="26.4" height="29.3" fill="#52a67b"/>
<rect x="708.2" y="356" width="26.4" height="140.1" fill="#93cdd9"/>
<rect x="680.2" y="495.9" width="26" height="85.4" fill="#6e1841"/>
<rect x="708.2" y="495.9" width="26.4" height="21.2" fill="#52a67b"/>
<rect x="708.2" y="516.9" width="26.4" height="64.4" fill="#93cdd9"/>
<rect x="680.2" y="581.1" width="26" height="268.2" fill="#70e5c4"/>
<rect x="708.2" y="581.1" width="26.4" height="83.6" fill="#52a67b"/>
<rect x="708.2" y="664.5" width="26.4" height="184.8" fill="#93cdd9"/>
<rect x="680.2" y="849.1" width="26" height="156.6" fill="#e8581f"/>
<rect x="708.2" y="849.1" width="26.4" height="94.7" fill="#52a67b"/>
<rect x="708.2" y="943.6" width="26.4" height="62.1" fill="#93cdd9"/>
<rect x="680.2" y="1005.5" width="26" height="62.4" fill="#6b7f38"/>
<rect x="708.2" y="1005.5" width="26.4" height="36.7" fill="#52a67b"/>
<rect x="708.2" y="1042" width="26.4" height="25.9" fill="#93cdd9"/>
<rect x="680.2" y="1067.7" width="26" height="26.9" fill="#ff43ff"/>
<rect x="708.2" y="1067.7" width="26.4" height="13.4" fill="#52a67b"/>
<rect x="708.2" y="1080.9" width="26.4" height="13.7" fill="#93cdd9"/>
<rect x="680.2" y="1094.4" width="26" height="62" fill="#49a083"/>
<rect x="708.2" y="1094.4" width="26.4" height="20.8" fill="#52a67b"/>
<rect x="708.2" y="1115" width="26.4" height="41.4" fill="#93cdd9"/>
<rect x="680.2" y="1156.2" width="26" height="21.9" fill="#f3714e"/>
<rect x="708.2" y="1156.2" width="26.4" height="14.1" fill="#52a67b"/>
<rect x="708.2" y="1170.1" width="26.4" height="8" fill="#93cdd9"/>
<rect x="680.2" y="1177.9" width="26" height="29.5" fill="#6e3b4b"/>
<rect x="708.2" y="1177.9" width="26.4" height="17.5" fill="#52a67b"/>
<rect x="708.2" y="1195.2" width="26.4" height="12.2" fill="#93cdd9"/>
<rect x="680.2" y="1207.2" width="26" height="25.2" fill="#b03a6d"/>
<rect x="708.2" y="1207.2" width="26.4" height="8.1" fill="#52a67b"/>
<rect x="708.2" y="1215.1" width="26.4" height="17.3" fill="#93cdd9"/>
<rect x="680.2" y="1232.2" width="26" height="17.2" fill="#a9fcfc"/>
<rect x="708.2" y="1232.2" width="26.4" height="6.7" fill="#52a67b"/>
<rect x="708.2" y="1238.7" width="26.4" height="10.7" fill="#93cdd9"/>
<rect x="680.2" y="1249.2" width="26" height="59.8" fill="#d42b54"/>
<rect x="708.2" y="1249.2" width="26.4" height="27.7" fill="#52a67b"/>
<rect x="708.2" y="1276.7" width="26.4" height="32.3" fill="#93cdd9"/>
<rect x="680.2" y="1308.8" width="26" height="33.6" fill="#663d79"/>
<rect x="708.2" y="1308.8" width="26.4" height="12.6" fill="#52a67b"/>
<rect x="708.2" y="1321.2" width="26.4" height="21.2" fill="#93cdd9"/>
<rect x="680.2" y="1342.2" width="26" height="37.7" fill="#9a416a"/>
<rect x="708.2" y="1342.2" width="26.4" height="15.2" fill="#52a67b"/>
<rect x="708.2" y="1357.2" width="26.4" height="22.7" fill="#93cdd9"/>
<rect x="680.2" y="1379.7" width="26" height="52" fill="#c960d8"/>
<rect x="708.2" y="1379.7" width="26.4" height="32.1" fill="#52a67b"/>
<rect x="708.2" y="1411.6" width="26.4" height="20.3" fill="#93cdd9"/>
<rect x="736.4" y="76.9" width="26" height="1354.8" fill="#fcf2df"/>
<path fill="#fefaf3" d="M736.4 1025.5h26v2h-26zM736.4 1050.9h26v2.8h-26zM736.4 1067.8h26v2.1h-26zM736.4 1198.9h26v2.7h-26zM736.4 1214h26v1.2h-26zM736.4 1247.9h26v3h-26zM736.4 1381.5h26v2.3h-26z"/>
<path fill="#fdf7ed" d="M736.4 415.5h26v1.8h-26zM736.4 422.1h26v1.5h-26zM736.4 423.5h26v2.6h-26zM736.4 426h26v3.1h-26zM736.4 428.9h26v2.1h-26zM736.4 559.9h26v1.8h-26zM736.4 570.8h26v3.5h-26zM736.4 577.4h26v2h-26zM736.4 582.6h26v1.1h-26zM736.4 752.3h26v2.9h-26zM736.4 757.4h26v2.4h-26zM736.4 762.9h26v3.8h-26zM736.4 775.1h26v1.5h-26zM736.4 936h26v2.2h-26zM736.4 942.1h26v4.1h-26zM736.4 1033.8h26v2.4h-26zM736.4 1040.4h26v2.4h-26zM736.4 1145.6h26v1.6h-26zM736.4 1173.6h26v2.9h-26z"/>
<path fill="#fdf5e7" d="M736.4 142h26v2h-26zM736.4 146h26v3.2h-26zM736.4 150h26v2.9h-26zM736.4 195.3h26v2.2h-26zM736.4 201.4h26v3h-26zM736.4 232.2h26v2.4h-26zM736.4 239.2h26v2.1h-26zM736.4 244.3h26v3.5h-26zM736.4 250.3h26v2.8h-26zM736.4 253h26v2.5h-26zM736.4 265.8h26v3.8h-26zM736.4 277.2h26v3.2h-26zM736.4 280.2h26v2.9h-26zM736.4 393.9h26v4.1h-26zM736.4 397.9h26v1.5h-26zM736.4 403.4h26v3.2h-26zM736.4 406.5h26v3.5h-26zM736.4 417.1h26v2.8h-26zM736.4 419.8h26v2.5h-26zM736.4 454.6h26v2.8h-26zM736.4 457.2h26v1.9h-26zM736.4 459h26v1.1h-26zM736.4 561.6h26v3.1h-26zM736.4 564.5h26v2.9h-26zM736.4 567.3h26v2.3h-26zM736.4 574.2h26v3.4h-26zM736.4 579.2h26v1.6h-26zM736.4 580.7h26v2h-26zM736.4 583.6h26v1.8h-26zM736.4 588.2h26v2.4h-26zM736.4 590.4h26v1.9h-26zM736.4 598h26v2.4h-26zM736.4 600.2h26v3.5h-26zM736.4 603.6h26v2h-26zM736.4 605.5h26v1.9h-26zM736.4 725.9h26v2.2h-26zM736.4 738.1h26v2.6h-26zM736.4 740.6h26v2.1h-26zM736.4 742.6h26v3.5h-26zM736.4 745.9h26v1.6h-26zM736.4 747.3h26v3.2h-26zM736.4 750.3h26v2.1h-26zM736.4 755.1h26v2.5h-26zM736.4 759.7h26v3.3h-26zM736.4 766.5h26v2.6h-26zM736.4 768.9h26v2.8h-26zM736.4 771.5h26v3.7h-26zM736.4 778.3h26v3.7h-26zM736.4 797.9h26v2.6h-26zM736.4 831.1h26v3.1h-26zM736.4 840.2h26v1.1h-26zM736.4 845.8h26v3.1h-26zM736.4 848.8h26v2h-26zM736.4 918.4h26v3h-26zM736.4 921.3h26v2.7h-26zM736.4 928.6h26v2.5h-26zM736.4 933.7h26v2.5h-26zM736.4 940.2h26v2h-26zM736.4 946.1h26v1.6h-26zM736.4 962.3h26v3.3h-26zM736.4 965.5h26v2.6h-26zM736.4 970.9h26v1.3h-26zM736.4 974.3h26v2.9h-26zM736.4 977h26v3.2h-26zM736.4 980.1h26v3.3h-26zM736.4 1008.6h26v2.5h-26zM736.4 1011h26v2.3h-26zM736.4 1024.5h26v1.1h-26zM736.4 1037h26v1.2h-26zM736.4 1042.7h26v1.1h-26zM736.4 1168.4h26v1.6h-26zM736.4 1169.8h26v1.7h-26zM736.4 1209.3h26v1.9h-26z"/>
<path fill="#fbf0da" d="M736.4 79.4h26v2.2h-26zM736.4 83.3h26v2.1h-26zM736.4 87.5h26v1.7h-26zM736.4 143.8h26v2.3h-26zM736.4 166.5h26v4h-26zM736.4 193h26v2.4h-26zM736.4 210.5h26v1.6h-26zM736.4 286.2h26v2.6h-26zM736.4 290.6h26v2.5h-26zM736.4 299.9h26v3.6h-26zM736.4 303.4h26v3.7h-26zM736.4 315.3h26v3.1h-26zM736.4 368.8h26v1.7h-26zM736.4 374.9h26v2.4h-26zM736.4 379.6h26v2.6h-26zM736.4 383.6h26v2.8h-26zM736.4 386.2h26v1.8h-26zM736.4 387.9h26v2.4h-26zM736.4 390.1h26v2.4h-26zM736.4 392.4h26v1.7h-26zM736.4 441.8h26v3.7h-26zM736.4 446.7h26v3.5h-26zM736.4 452.6h26v2.1h-26zM736.4 467.7h26v4.2h-26zM736.4 471.7h26v1.7h-26zM736.4 473.3h26v3.5h-26zM736.4 479.4h26v2.9h-26zM736.4 482.1h26v1.7h-26zM736.4 485.6h26v1.4h-26zM736.4 492.9h26v3.8h-26zM736.4 496.5h26v1.4h-26zM736.4 497.7h26v1.9h-26zM736.4 499.5h26v1.8h-26zM736.4 501.1h26v4h-26zM736.4 505h26v2.4h-26zM736.4 507.2h26v2.8h-26zM736.4 509.9h26v3h-26zM736.4 514.8h26v2.5h-26zM736.4 519.1h26v1.4h-26zM736.4 520.3h26v2.3h-26zM736.4 526.6h26v2.4h-26zM736.4 528.8h26v3.1h-26zM736.4 533.1h26v2.2h-26zM736.4 535.1h26v3h-26zM736.4 538h26v3h-26zM736.4 540.8h26v1.2h-26zM736.4 541.9h26v2.7h-26zM736.4 546.9h26v2.4h-26zM736.4 557.7h26v2.3h-26zM736.4 607.3h26v3h-26zM736.4 610.1h26v1.7h-26zM736.4 611.6h26v2.3h-26zM736.4 613.8h26v2.5h-26zM736.4 616.1h26v3.1h-26zM736.4 652.7h26v3h-26zM736.4 660.7h26v1.5h-26zM736.4 662h26v3.4h-26zM736.4 665.2h26v3h-26zM736.4 668.1h26v2.3h-26zM736.4 670.3h26v2.6h-26zM736.4 729.2h26v2.2h-26zM736.4 736h26v2.3h-26zM736.4 800.4h26v2.6h-26zM736.4 802.8h26v3.3h-26zM736.4 808.9h26v2.7h-26zM736.4 811.5h26v2.2h-26zM736.4 813.6h26v2.8h-26zM736.4 818.3h26v3.1h-26zM736.4 821.2h26v2h-26zM736.4 823.1h26v2.9h-26zM736.4 850.6h26v1.8h-26zM736.4 858.9h26v3.1h-26zM736.4 874.2h26v2.7h-26zM736.4 876.7h26v1.5h-26zM736.4 879.5h26v2.1h-26zM736.4 881.4h26v2.7h-26zM736.4 884h26v2.7h-26zM736.4 886.5h26v2.5h-26zM736.4 891h26v2.7h-26zM736.4 895h26v1.6h-26zM736.4 898.5h26v2.1h-26zM736.4 903.7h26v1.8h-26zM736.4 908.6h26v2.8h-26zM736.4 957.4h26v2.4h-26zM736.4 986.2h26v3.3h-26zM736.4 993.8h26v2.5h-26zM736.4 999.1h26v2.5h-26zM736.4 1049.1h26v1.9h-26zM736.4 1114.1h26v2.2h-26zM736.4 1172.6h26v1.1h-26zM736.4 1225.1h26v1.4h-26zM736.4 1238.6h26v1.8h-26zM736.4 1264.8h26v1.2h-26zM736.4 1396.6h26v1.9h-26z"/>
<path fill="#fbedd4" d="M736.4 76.9h26v2.6h-26zM736.4 81.4h26v2.1h-26zM736.4 85.3h26v2.4h-26zM736.4 89.1h26v2.3h-26zM736.4 91.3h26v2.2h-26zM736.4 93.3h26v3.9h-26zM736.4 97h26v2.6h-26zM736.4 99.5h26v2.1h-26zM736.4 101.4h26v3.9h-26zM736.4 105.1h26v1.5h-26zM736.4 106.4h26v3.4h-26zM736.4 109.6h26v3.2h-26zM736.4 112.6h26v2.8h-26zM736.4 115.3h26v3.9h-26zM736.4 119h26v2.9h-26zM736.4 124.5h26v1.6h-26zM736.4 128.1h26v2.1h-26zM736.4 130h26v1.8h-26zM736.4 131.6h26v3.4h-26zM736.4 134.9h26v3.8h-26zM736.4 152.8h26v2.7h-26zM736.4 155.3h26v2.2h-26zM736.4 159.4h26v2.7h-26zM736.4 161.9h26v2.4h-26zM736.4 164.2h26v2.4h-26zM736.4 170.3h26v1.1h-26zM736.4 171.3h26v2.4h-26zM736.4 173.6h26v2.4h-26zM736.4 175.9h26v2.8h-26zM736.4 298.4h26v1.7h-26zM736.4 306.9h26v2.9h-26zM736.4 309.7h26v3.8h-26zM736.4 313.4h26v2.1h-26zM736.4 318.2h26v3.3h-26zM736.4 321.4h26v3.2h-26zM736.4 324.4h26v2.6h-26zM736.4 326.8h26v2.3h-26zM736.4 329h26v2.8h-26zM736.4 331.7h26v3.9h-26zM736.4 335.4h26v2.7h-26zM736.4 338h26v2.9h-26zM736.4 348.2h26v2.5h-26zM736.4 351.9h26v2.7h-26zM736.4 354.5h26v3.4h-26zM736.4 357.7h26v2.9h-26zM736.4 362.8h26v2.7h-26zM736.4 365.4h26v3.6h-26zM736.4 370.4h26v2.7h-26zM736.4 373h26v2h-26zM736.4 377.1h26v2.7h-26zM736.4 382.1h26v1.7h-26zM736.4 476.6h26v2.9h-26zM736.4 486.8h26v3.3h-26zM736.4 490h26v3.1h-26zM736.4 512.7h26v2.2h-26zM736.4 517.1h26v2.1h-26zM736.4 523.5h26v3.2h-26zM736.4 531.7h26v1.5h-26zM736.4 619.1h26v2.4h-26zM736.4 621.3h26v3h-26zM736.4 624.2h26v3h-26zM736.4 627.1h26v1.9h-26zM736.4 628.9h26v2.3h-26zM736.4 633.7h26v3.3h-26zM736.4 636.9h26v2.1h-26zM736.4 638.9h26v3.2h-26zM736.4 641.9h26v1.3h-26zM736.4 643h26v1.6h-26zM736.4 644.5h26v3.1h-26zM736.4 647.5h26v3.4h-26zM736.4 650.7h26v2.2h-26zM736.4 655.5h26v1.5h-26zM736.4 656.8h26v1.9h-26zM736.4 658.6h26v2.2h-26zM736.4 672.7h26v3h-26zM736.4 675.5h26v2.9h-26zM736.4 681h26v2.4h-26zM736.4 693h26v2.7h-26zM736.4 697.9h26v2.6h-26zM736.4 700.4h26v3.1h-26zM736.4 709.3h26v2.5h-26zM736.4 816.3h26v2.2h-26zM736.4 852.3h26v1.1h-26zM736.4 853.3h26v2.5h-26zM736.4 855.6h26v2.4h-26zM736.4 857.9h26v1.1h-26zM736.4 861.8h26v2.9h-26zM736.4 870.2h26v4.1h-26zM736.4 1061.5h26v2.1h-26zM736.4 1079.8h26v1.4h-26zM736.4 1106.3h26v1.6h-26zM736.4 1138h26v2h-26zM736.4 1142.2h26v1.3h-26zM736.4 1179.9h26v2.5h-26z"/>
<path fill="#faebce" d="M736.4 121.7h26v2.9h-26zM736.4 126h26v2.3h-26zM736.4 157.3h26v2.2h-26zM736.4 340.8h26v2.3h-26zM736.4 342.9h26v3.6h-26zM736.4 346.4h26v2h-26zM736.4 350.5h26v1.5h-26zM736.4 360.5h26v2.5h-26zM736.4 631h26v2.9h-26zM736.4 678.3h26v2.9h-26zM736.4 683.3h26v3.6h-26zM736.4 686.7h26v3.2h-26zM736.4 689.8h26v3.4h-26zM736.4 695.6h26v2.5h-26zM736.4 703.4h26v2.3h-26zM736.4 705.5h26v1.5h-26zM736.4 711.7h26v2.8h-26zM736.4 864.6h26v3.6h-26zM736.4 868h26v2.3h-26zM736.4 1135.7h26v2.5h-26zM736.4 1226.4h26v2.3h-26zM736.4 1240.2h26v2.7h-26zM736.4 1242.8h26v3.4h-26zM736.4 1286.9h26v1.5h-26zM736.4 1305.8h26v2.2h-26zM736.4 1392.8h26v1.8h-26z"/>
<path fill="#fae8c8" d="M736.4 706.9h26v2.6h-26zM736.4 1005.6h26v1.5h-26zM736.4 1015h26v1.1h-26zM736.4 1030.1h26v2.3h-26zM736.4 1032.2h26v1.8h-26zM736.4 1057.2h26v1.8h-26zM736.4 1072.4h26v2.7h-26zM736.4 1139.8h26v2.5h-26zM736.4 1163.2h26v1.1h-26zM736.4 1176.4h26v3.7h-26zM736.4 1183.8h26v2h-26zM736.4 1185.7h26v2.8h-26zM736.4 1223.1h26v2.2h-26zM736.4 1251.8h26v2.6h-26zM736.4 1369.3h26v1.9h-26z"/>
<path fill="#f9e6c2" d="M736.4 1016h26v2h-26zM736.4 1038.1h26v2.5h-26zM736.4 1045.4h26v2.7h-26zM736.4 1087.8h26v2.5h-26zM736.4 1094.1h26v2h-26zM736.4 1095.9h26v2.8h-26zM736.4 1109.8h26v2.1h-26zM736.4 1160.3h26v3.1h-26zM736.4 1171.3h26v1.5h-26zM736.4 1193.6h26v2.9h-26zM736.4 1196.4h26v2.7h-26zM736.4 1205.7h26v1.7h-26zM736.4 1212.7h26v1.5h-26zM736.4 1220.5h26v2.8h-26zM736.4 1228.6h26v1.1h-26zM736.4 1255.3h26v1.9h-26zM736.4 1257h26v2.4h-26zM736.4 1259.3h26v2.9h-26zM736.4 1300.7h26v3.1h-26zM736.4 1326.8h26v2.6h-26zM736.4 1347.1h26v1.5h-26zM736.4 1357.1h26v3h-26zM736.4 1362.4h26v1.1h-26zM736.4 1385.2h26v1.4h-26zM736.4 1386.5h26v2.2h-26zM736.4 1402.3h26v1.9h-26z"/>
<path fill="#f8e3bc" d="M736.4 1028.3h26v1.9h-26zM736.4 1036h26v1.1h-26zM736.4 1047.9h26v1.3h-26zM736.4 1063.5h26v1.8h-26zM736.4 1065.1h26v2.8h-26zM736.4 1069.7h26v1.5h-26zM736.4 1074.9h26v2.5h-26zM736.4 1077.3h26v2.6h-26zM736.4 1083.6h26v2h-26zM736.4 1124.3h26v2.5h-26zM736.4 1133.5h26v2.3h-26zM736.4 1155.7h26v2h-26zM736.4 1201.5h26v3.3h-26zM736.4 1215.1h26v1.7h-26zM736.4 1218.6h26v2.1h-26zM736.4 1232.5h26v1.5h-26zM736.4 1271.5h26v2.7h-26zM736.4 1323.9h26v3.1h-26zM736.4 1338.6h26v2.1h-26zM736.4 1359.9h26v2.7h-26zM736.4 1375.8h26v1.4h-26z"/>
<path fill="#f8e0b6" d="M736.4 1017.8h26v4.3h-26zM736.4 1092.1h26v2.1h-26zM736.4 1120.2h26v2h-26zM736.4 1151.2h26v2.5h-26zM736.4 1166.9h26v1.7h-26zM736.4 1190.6h26v3.1h-26zM736.4 1208.3h26v1.1h-26zM736.4 1246h26v2.1h-26zM736.4 1291.1h26v1.3h-26zM736.4 1293.7h26v2.3h-26zM736.4 1314.6h26v3.2h-26zM736.4 1317.6h26v2.2h-26zM736.4 1321.4h26v1.6h-26zM736.4 1330.6h26v1.3h-26zM736.4 1334h26v1.3h-26zM736.4 1377.1h26v1.9h-26zM736.4 1378.8h26v2.8h-26zM736.4 1398.4h26v1.7h-26z"/>
<path fill="#f7deb0" d="M736.4 1027.3h26v1.1h-26zM736.4 1053.5h26v2.8h-26zM736.4 1081h26v2.8h-26zM736.4 1116.1h26v1.9h-26zM736.4 1122.1h26v2.3h-26zM736.4 1126.6h26v1.9h-26zM736.4 1143.4h26v2.4h-26zM736.4 1147.1h26v1.1h-26zM736.4 1149.6h26v1.7h-26zM736.4 1211h26v1.8h-26zM736.4 1250.8h26v1.2h-26zM736.4 1303.7h26v2.3h-26zM736.4 1331.7h26v2.5h-26zM736.4 1335.2h26v1.4h-26zM736.4 1336.4h26v1.2h-26zM736.4 1351.8h26v2.7h-26zM736.4 1373.8h26v1.2h-26zM736.4 1388.5h26v2.6h-26zM736.4 1420h26v1.1h-26z"/>
<path fill="#f7dbaa" d="M736.4 1056.2h26v1.1h-26zM736.4 1091.1h26v1.1h-26zM736.4 1098.6h26v2.9h-26zM736.4 1107.7h26v2.2h-26zM736.4 1117.9h26v2.5h-26zM736.4 1130.8h26v2.9h-26zM736.4 1164.2h26v2.8h-26zM736.4 1229.6h26v3.1h-26zM736.4 1319.7h26v1.8h-26zM736.4 1329.2h26v1.5h-26zM736.4 1383.7h26v1.7h-26zM736.4 1394.5h26v2.3h-26z"/>
<path fill="#f6d9a4" d="M736.4 1013.2h26v2h-26zM736.4 1022h26v2.6h-26zM736.4 1071h26v1.5h-26zM736.4 1236.2h26v2.5h-26zM736.4 1254.3h26v1.2h-26zM736.4 1268.8h26v2.9h-26zM736.4 1295.8h26v2.5h-26zM736.4 1312.8h26v1.9h-26zM736.4 1343.8h26v1.8h-26zM736.4 1363.4h26v1.5h-26zM736.4 1374.8h26v1.1h-26z"/>
<path fill="#f5d69d" d="M736.4 1058.8h26v2.9h-26zM736.4 1085.5h26v2.5h-26zM736.4 1128.4h26v2.5h-26zM736.4 1153.6h26v2.3h-26zM736.4 1182.2h26v1.8h-26zM736.4 1204.7h26v1.1h-26zM736.4 1281.1h26v1.5h-26zM736.4 1337.5h26v1.2h-26zM736.4 1341.5h26v2.4h-26zM736.4 1364.7h26v2.3h-26zM736.4 1391h26v1.9h-26zM736.4 1404.1h26v1.1h-26zM736.4 1409.3h26v2.2h-26zM736.4 1416.4h26v2.7h-26zM736.4 1427.9h26v2.1h-26zM736.4 1429.9h26v2h-26z"/>
<path fill="#f5d497" d="M736.4 1262h26v2.9h-26zM736.4 1265.8h26v2.1h-26zM736.4 1282.5h26v1.1h-26zM736.4 1292.2h26v1.6h-26zM736.4 1298.2h26v1.7h-26zM736.4 1310.8h26v2.1h-26zM736.4 1340.5h26v1.1h-26zM736.4 1356.1h26v1.1h-26z"/>
<path fill="#f4d191" d="M736.4 1007h26v1.8h-26zM736.4 1285.5h26v1.5h-26zM736.4 1307.9h26v2.1h-26zM736.4 1309.8h26v1.1h-26zM736.4 1348.4h26v2.1h-26z"/>
<path fill="#f4cf8b" d="M736.4 1216.7h26v2.1h-26zM736.4 1283.5h26v2.2h-26zM736.4 1322.8h26v1.2h-26zM736.4 1345.5h26v1.8h-26zM736.4 1399.9h26v2.5h-26zM736.4 1414.1h26v2.4h-26zM736.4 1426h26v2h-26z"/>
<path fill="#f3cc85" d="M736.4 1148.1h26v1.7h-26zM736.4 1288.2h26v3h-26zM736.4 1299.7h26v1.1h-26zM736.4 1366.9h26v2.5h-26zM736.4 1407.6h26v1.9h-26zM736.4 1411.4h26v2.8h-26zM736.4 1421h26v1.5h-26zM736.4 1424h26v2.2h-26z"/>
<path fill="#f3ca80" d="M736.4 1101.4h26v2.2h-26zM736.4 1111.7h26v2.5h-26zM736.4 1276h26v2.6h-26zM736.4 1371h26v2.9h-26zM736.4 1418.9h26v1.2h-26z"/>
<path fill="#f2c87c" d="M736.4 1274h26v2.1h-26zM736.4 1350.3h26v1.6h-26z"/>
<path fill="#f2c678" d="M736.4 1354.4h26v1.9h-26z"/>
<path fill="#f2c26e" d="M736.4 1405.1h26v2.7h-26z"/>
<path fill="#f1c06a" d="M736.4 1103.4h26v3h-26z"/>
<path fill="#f1bc61" d="M736.4 1422.3h26v1.8h-26z"/>
<text transform="translate(89.64 1439.7) rotate(-90) scale(1 0.865)" font-size="18.04" text-anchor="end">P7_P10L6 CT CTX Glut</text>
<text transform="translate(106.34 1439.7) rotate(-90) scale(1 0.865)" font-size="18.04" text-anchor="end">P11_P15L6 CT CTX Glut</text>
<text transform="translate(123.03 1439.7) rotate(-90) scale(1 0.865)" font-size="18.04" text-anchor="end">P7_P10L5 NP CTX Glut</text>
<text transform="translate(139.72 1439.7) rotate(-90) scale(1 0.865)" font-size="18.04" text-anchor="end">P11_P15L5 NP CTX Glut</text>
<text transform="translate(156.41 1439.7) rotate(-90) scale(1 0.865)" font-size="18.04" text-anchor="end">P7_P10L5 ET CTX Glut</text>
<text transform="translate(173.09 1439.7) rotate(-90) scale(1 0.865)" font-size="18.04" text-anchor="end">P11_P15L5 ET CTX Glut</text>
<text transform="translate(189.78 1439.7) rotate(-90) scale(1 0.865)" font-size="18.04" text-anchor="end">P7_P10L6 IT CTX Glut</text>
<text transform="translate(206.47 1439.7) rotate(-90) scale(1 0.865)" font-size="18.04" text-anchor="end">P11_P15L6 IT CTX Glut</text>
<text transform="translate(223.16 1439.7) rotate(-90) scale(1 0.865)" font-size="18.04" text-anchor="end">P7_P10L5 IT CTX Glut</text>
<text transform="translate(239.85 1439.7) rotate(-90) scale(1 0.865)" font-size="18.04" text-anchor="end">P11_P15L5 IT CTX Glut</text>
<text transform="translate(256.55 1439.7) rotate(-90) scale(1 0.865)" font-size="18.04" text-anchor="end">P7_P10L4/5 IT CTX Glut</text>
<text transform="translate(273.24 1439.7) rotate(-90) scale(1 0.865)" font-size="18.04" text-anchor="end">P11_P15L4/5 IT CTX Glut</text>
<text transform="translate(289.93 1439.7) rotate(-90) scale(1 0.865)" font-size="18.04" text-anchor="end">P7_P10L2/3 IT CTX Glut</text>
<text transform="translate(306.62 1439.7) rotate(-90) scale(1 0.865)" font-size="18.04" text-anchor="end">P11_P15L2/3 IT CTX Glut</text>
<text transform="translate(323.31 1439.7) rotate(-90) scale(1 0.865)" font-size="18.04" text-anchor="end">P7_P10Glioblast</text>
<text transform="translate(340 1439.7) rotate(-90) scale(1 0.865)" font-size="18.04" text-anchor="end">P11_P15Glioblast</text>
<text transform="translate(356.69 1439.7) rotate(-90) scale(1 0.865)" font-size="18.04" text-anchor="end">P7_P10OPC NN</text>
<text transform="translate(373.38 1439.7) rotate(-90) scale(1 0.865)" font-size="18.04" text-anchor="end">P11_P15OPC NN</text>
<text transform="translate(390.07 1439.7) rotate(-90) scale(1 0.865)" font-size="18.04" text-anchor="end">P7_P10Astro−TE NN</text>
<text transform="translate(406.76 1439.7) rotate(-90) scale(1 0.865)" font-size="18.04" text-anchor="end">P11_P15Astro−TE NN</text>
<text transform="translate(423.45 1439.7) rotate(-90) scale(1 0.865)" font-size="18.04" text-anchor="end">P7_P10Lamp5 Gaba</text>
<text transform="translate(440.14 1439.7) rotate(-90) scale(1 0.865)" font-size="18.04" text-anchor="end">P11_P15Lamp5 Gaba</text>
<text transform="translate(456.83 1439.7) rotate(-90) scale(1 0.865)" font-size="18.04" text-anchor="end">P7_P10Vip Gaba</text>
<text transform="translate(473.52 1439.7) rotate(-90) scale(1 0.865)" font-size="18.04" text-anchor="end">P11_P15Vip Gaba</text>
<text transform="translate(490.21 1439.7) rotate(-90) scale(1 0.865)" font-size="18.04" text-anchor="end">P7_P10Pvalb Gaba</text>
<text transform="translate(506.9 1439.7) rotate(-90) scale(1 0.865)" font-size="18.04" text-anchor="end">P11_P15Pvalb Gaba</text>
<text transform="translate(523.59 1439.7) rotate(-90) scale(1 0.865)" font-size="18.04" text-anchor="end">P7_P10Sst Gaba</text>
<text transform="translate(540.28 1439.7) rotate(-90) scale(1 0.865)" font-size="18.04" text-anchor="end">P11_P15Sst Gaba</text>
<text transform="translate(556.97 1439.7) rotate(-90) scale(1 0.865)" font-size="18.04" text-anchor="end">P7_P10Microglia NN</text>
<text transform="translate(573.66 1439.7) rotate(-90) scale(1 0.865)" font-size="18.04" text-anchor="end">P11_P15Microglia NN</text>
<text transform="translate(590.35 1439.7) rotate(-90) scale(1 0.865)" font-size="18.04" text-anchor="end">P7_P10VLMC NN</text>
<text transform="translate(607.04 1439.7) rotate(-90) scale(1 0.865)" font-size="18.04" text-anchor="end">P11_P15VLMC NN</text>
<text transform="translate(623.73 1439.7) rotate(-90) scale(1 0.865)" font-size="18.04" text-anchor="end">P7_P10Endo NN</text>
<text transform="translate(640.42 1439.7) rotate(-90) scale(1 0.865)" font-size="18.04" text-anchor="end">P11_P15Endo NN</text>
<text transform="translate(657.11 1439.7) rotate(-90) scale(1 0.865)" font-size="18.04" text-anchor="end">P7_P10ABC NN</text>
<text transform="translate(673.8 1439.7) rotate(-90) scale(1 0.865)" font-size="18.04" text-anchor="end">P11_P15ABC NN</text>
<text transform="translate(700.7 1438.3) rotate(-90) scale(1 0.885)" font-size="24.2" text-anchor="end">Max.subclass</text>
<text transform="translate(728.9 1438.3) rotate(-90) scale(1 0.885)" font-size="24.2" text-anchor="end">Max.age</text>
<text transform="translate(756.9 1438.3) rotate(-90) scale(1 0.885)" font-size="24.2" text-anchor="end">Max.height</text>
<text transform="translate(774.7 238.1) scale(0.97 1)" font-size="19">Age</text>
<rect x="775.1" y="251" width="18.9" height="20.6" fill="#52a67b"/>
<rect x="775.1" y="273.9" width="18.9" height="20.3" fill="#93cdd9"/>
<text transform="translate(800.7 267.9) scale(0.97 1)" font-size="19">P7_P10</text>
<text transform="translate(800.7 290.6) scale(0.97 1)" font-size="19">P11_P15</text>
<text transform="translate(774.7 350.6) scale(0.97 1)" font-size="19">Subclass</text>
<rect x="775.1" y="364.4" width="18.9" height="20.2" fill="#407326"/>
<text transform="translate(800.7 381) scale(0.97 1)" font-size="19">L6 CT CTX Glut</text>
<rect x="775.1" y="387.14" width="18.9" height="20.2" fill="#675dff"/>
<text transform="translate(800.7 403.74) scale(0.97 1)" font-size="19">L5 NP CTX Glut</text>
<rect x="775.1" y="409.88" width="18.9" height="20.2" fill="#9fa5ff"/>
<text transform="translate(800.7 426.48) scale(0.97 1)" font-size="19">L5 ET CTX Glut</text>
<rect x="775.1" y="432.62" width="18.9" height="20.2" fill="#c5fc52"/>
<text transform="translate(800.7 449.22) scale(0.97 1)" font-size="19">L6 IT CTX Glut</text>
<rect x="775.1" y="455.36" width="18.9" height="20.2" fill="#6e1841"/>
<text transform="translate(800.7 471.96) scale(0.97 1)" font-size="19">L5 IT CTX Glut</text>
<rect x="775.1" y="478.1" width="18.9" height="20.2" fill="#70e5c4"/>
<text transform="translate(800.7 494.7) scale(0.97 1)" font-size="19">L4/5 IT CTX Glut</text>
<rect x="775.1" y="500.84" width="18.9" height="20.2" fill="#e8581f"/>
<text transform="translate(800.7 517.44) scale(0.97 1)" font-size="19">L2/3 IT CTX Glut</text>
<rect x="775.1" y="523.58" width="18.9" height="20.2" fill="#6b7f38"/>
<text transform="translate(800.7 540.18) scale(0.97 1)" font-size="19">Glioblast</text>
<rect x="775.1" y="546.32" width="18.9" height="20.2" fill="#ff43ff"/>
<text transform="translate(800.7 562.92) scale(0.97 1)" font-size="19">OPC NN</text>
<rect x="775.1" y="569.06" width="18.9" height="20.2" fill="#49a083"/>
<text transform="translate(800.7 585.66) scale(0.97 1)" font-size="19">Astro−TE NN</text>
<rect x="775.1" y="591.8" width="18.9" height="20.2" fill="#f3714e"/>
<text transform="translate(800.7 608.4) scale(0.97 1)" font-size="19">Lamp5 Gaba</text>
<rect x="775.1" y="614.54" width="18.9" height="20.2" fill="#6e3b4b"/>
<text transform="translate(800.7 631.14) scale(0.97 1)" font-size="19">Vip Gaba</text>
<rect x="775.1" y="637.28" width="18.9" height="20.2" fill="#b03a6d"/>
<text transform="translate(800.7 653.88) scale(0.97 1)" font-size="19">Pvalb Gaba</text>
<rect x="775.1" y="660.02" width="18.9" height="20.2" fill="#a9fcfc"/>
<text transform="translate(800.7 676.62) scale(0.97 1)" font-size="19">Sst Gaba</text>
<rect x="775.1" y="682.76" width="18.9" height="20.2" fill="#d42b54"/>
<text transform="translate(800.7 699.36) scale(0.97 1)" font-size="19">Microglia NN</text>
<rect x="775.1" y="705.5" width="18.9" height="20.2" fill="#663d79"/>
<text transform="translate(800.7 722.1) scale(0.97 1)" font-size="19">VLMC NN</text>
<rect x="775.1" y="728.24" width="18.9" height="20.2" fill="#9a416a"/>
<text transform="translate(800.7 744.84) scale(0.97 1)" font-size="19">Endo NN</text>
<rect x="775.1" y="750.98" width="18.9" height="20.2" fill="#c960d8"/>
<text transform="translate(800.7 767.58) scale(0.97 1)" font-size="19">ABC NN</text>
<defs><linearGradient id="gmh" x1="0" y1="0" x2="0" y2="1"><stop offset="0" stop-color="#eda52b"/><stop offset="0.04" stop-color="#eda52b"/><stop offset="0.52" stop-color="#f3cc85"/><stop offset="1" stop-color="#ffffff"/></linearGradient>
<linearGradient id="gph" x1="0" y1="0" x2="0" y2="1"><stop offset="0" stop-color="#264489"/><stop offset="0.04" stop-color="#264489"/><stop offset="0.16" stop-color="#3068a8"/><stop offset="0.28" stop-color="#3f8fc0"/><stop offset="0.40" stop-color="#5aafc6"/><stop offset="0.52" stop-color="#7dccc0"/><stop offset="0.64" stop-color="#a9dfc0"/><stop offset="0.76" stop-color="#d3eecd"/><stop offset="0.88" stop-color="#eef8ea"/><stop offset="1" stop-color="#ffffff"/></linearGradient></defs>
<text transform="translate(777.1 1056.2) scale(0.965 1)" font-size="19">Max.height</text>
<rect x="776" y="1066.9" width="22.4" height="116.4" fill="url(#gmh)"/>
<path d="M776 1071.6h4.4M794 1071.6h4.4" stroke="#fff" stroke-width="1"/>
<text transform="translate(804 1078.4) scale(0.965 1)" font-size="19">1</text>
<path d="M776 1127.4h4.4M794 1127.4h4.4" stroke="#fff" stroke-width="1"/>
<text transform="translate(804 1134.2) scale(0.965 1)" font-size="19">0.5</text>
<path d="M776 1183.3h4.4M794 1183.3h4.4" stroke="#fff" stroke-width="1"/>
<text transform="translate(804 1190.1) scale(0.965 1)" font-size="19">0</text>
<text transform="translate(781.1 1237.1) scale(0.965 1)" font-size="19">Peak.height</text>
<rect x="779.6" y="1248.7" width="22.4" height="116.3" fill="url(#gph)"/>
<path d="M779.6 1253.1h4.4M797.6 1253.1h4.4" stroke="#fff" stroke-width="1"/>
<text transform="translate(807.6 1259.9) scale(0.965 1)" font-size="19">1</text>
<path d="M779.6 1309.1h4.4M797.6 1309.1h4.4" stroke="#fff" stroke-width="1"/>
<text transform="translate(807.6 1315.9) scale(0.965 1)" font-size="19">0.5</text>
<path d="M779.6 1365h4.4M797.6 1365h4.4" stroke="#fff" stroke-width="1"/>
<text transform="translate(807.6 1371.8) scale(0.965 1)" font-size="19">0</text>
</g>
<g id="pc">
<text transform="translate(990.4 29.8)" font-size="41" font-weight="bold" fill="#111">c</text>
<rect x="1127.4" y="104.3" width="31.69" height="32.67" fill="#da3127"/>
<rect x="1158.99" y="104.3" width="31.69" height="32.67" fill="#e2f4f3"/>
<rect x="1190.58" y="104.3" width="31.69" height="32.67" fill="#9fc8e0"/>
<rect x="1222.17" y="104.3" width="31.69" height="32.67" fill="#b4d6e8"/>
<rect x="1253.76" y="104.3" width="31.69" height="32.67" fill="#aed2e6"/>
<rect x="1285.35" y="104.3" width="31.69" height="32.67" fill="#bddceb"/>
<rect x="1316.94" y="104.3" width="31.69" height="32.67" fill="#c3e0ed"/>
<rect x="1348.53" y="104.3" width="31.69" height="32.67" fill="#8dbbd9"/>
<rect x="1380.12" y="104.3" width="31.69" height="32.67" fill="#96c2dd"/>
<rect x="1411.71" y="104.3" width="31.69" height="32.67" fill="#9fc8e0"/>
<rect x="1443.3" y="104.3" width="31.69" height="32.67" fill="#96c2dd"/>
<rect x="1474.89" y="104.3" width="31.69" height="32.67" fill="#9cc6df"/>
<rect x="1506.48" y="104.3" width="31.69" height="32.67" fill="#8dbbd9"/>
<rect x="1538.07" y="104.3" width="31.69" height="32.67" fill="#7fadd2"/>
<rect x="1569.66" y="104.3" width="31.69" height="32.67" fill="#8dbbd9"/>
<rect x="1601.25" y="104.3" width="31.69" height="32.67" fill="#87b6d6"/>
<rect x="1632.84" y="104.3" width="31.69" height="32.67" fill="#7fadd2"/>
<rect x="1664.43" y="104.3" width="31.69" height="32.67" fill="#9cc6df"/>
<rect x="1127.4" y="136.87" width="31.69" height="32.67" fill="#e2f4f3"/>
<rect x="1158.99" y="136.87" width="31.69" height="32.67" fill="#da3127"/>
<rect x="1190.58" y="136.87" width="31.69" height="32.67" fill="#b4d6e8"/>
<rect x="1222.17" y="136.87" width="31.69" height="32.67" fill="#a8cee3"/>
<rect x="1253.76" y="136.87" width="31.69" height="32.67" fill="#aed2e6"/>
<rect x="1285.35" y="136.87" width="31.69" height="32.67" fill="#cce6f1"/>
<rect x="1316.94" y="136.87" width="31.69" height="32.67" fill="#bddceb"/>
<rect x="1348.53" y="136.87" width="31.69" height="32.67" fill="#90bedb"/>
<rect x="1380.12" y="136.87" width="31.69" height="32.67" fill="#9fc8e0"/>
<rect x="1411.71" y="136.87" width="31.69" height="32.67" fill="#b4d6e8"/>
<rect x="1443.3" y="136.87" width="31.69" height="32.67" fill="#aed2e6"/>
<rect x="1474.89" y="136.87" width="31.69" height="32.67" fill="#aed2e6"/>
<rect x="1506.48" y="136.87" width="31.69" height="32.67" fill="#9fc8e0"/>
<rect x="1538.07" y="136.87" width="31.69" height="32.67" fill="#8ab9d8"/>
<rect x="1569.66" y="136.87" width="31.69" height="32.67" fill="#96c2dd"/>
<rect x="1601.25" y="136.87" width="31.69" height="32.67" fill="#aed2e6"/>
<rect x="1632.84" y="136.87" width="31.69" height="32.67" fill="#9cc6df"/>
<rect x="1664.43" y="136.87" width="31.69" height="32.67" fill="#a5cce2"/>
<rect x="1127.4" y="169.44" width="31.69" height="32.67" fill="#9fc8e0"/>
<rect x="1158.99" y="169.44" width="31.69" height="32.67" fill="#b4d6e8"/>
<rect x="1190.58" y="169.44" width="31.69" height="32.67" fill="#da3127"/>
<rect x="1222.17" y="169.44" width="31.69" height="32.67" fill="#bddceb"/>
<rect x="1253.76" y="169.44" width="31.69" height="32.67" fill="#a5cce2"/>
<rect x="1285.35" y="169.44" width="31.69" height="32.67" fill="#b4d6e8"/>
<rect x="1316.94" y="169.44" width="31.69" height="32.67" fill="#bddceb"/>
<rect x="1348.53" y="169.44" width="31.69" height="32.67" fill="#85b3d5"/>
<rect x="1380.12" y="169.44" width="31.69" height="32.67" fill="#6b9ac7"/>
<rect x="1411.71" y="169.44" width="31.69" height="32.67" fill="#709fca"/>
<rect x="1443.3" y="169.44" width="31.69" height="32.67" fill="#6b9ac7"/>
<rect x="1474.89" y="169.44" width="31.69" height="32.67" fill="#5c8cc0"/>
<rect x="1506.48" y="169.44" width="31.69" height="32.67" fill="#4e7db8"/>
<rect x="1538.07" y="169.44" width="31.69" height="32.67" fill="#6897c6"/>
<rect x="1569.66" y="169.44" width="31.69" height="32.67" fill="#709fca"/>
<rect x="1601.25" y="169.44" width="31.69" height="32.67" fill="#4e7db8"/>
<rect x="1632.84" y="169.44" width="31.69" height="32.67" fill="#4b7bb7"/>
<rect x="1664.43" y="169.44" width="31.69" height="32.67" fill="#6d9cc9"/>
<rect x="1127.4" y="202.01" width="31.69" height="32.67" fill="#b4d6e8"/>
<rect x="1158.99" y="202.01" width="31.69" height="32.67" fill="#a8cee3"/>
<rect x="1190.58" y="202.01" width="31.69" height="32.67" fill="#bddceb"/>
<rect x="1222.17" y="202.01" width="31.69" height="32.67" fill="#da3127"/>
<rect x="1253.76" y="202.01" width="31.69" height="32.67" fill="#d2eaf3"/>
<rect x="1285.35" y="202.01" width="31.69" height="32.67" fill="#def2f7"/>
<rect x="1316.94" y="202.01" width="31.69" height="32.67" fill="#e4f5ec"/>
<rect x="1348.53" y="202.01" width="31.69" height="32.67" fill="#87b6d6"/>
<rect x="1380.12" y="202.01" width="31.69" height="32.67" fill="#79a8cf"/>
<rect x="1411.71" y="202.01" width="31.69" height="32.67" fill="#7fadd2"/>
<rect x="1443.3" y="202.01" width="31.69" height="32.67" fill="#73a2cc"/>
<rect x="1474.89" y="202.01" width="31.69" height="32.67" fill="#6b9ac7"/>
<rect x="1506.48" y="202.01" width="31.69" height="32.67" fill="#6291c3"/>
<rect x="1538.07" y="202.01" width="31.69" height="32.67" fill="#6897c6"/>
<rect x="1569.66" y="202.01" width="31.69" height="32.67" fill="#79a8cf"/>
<rect x="1601.25" y="202.01" width="31.69" height="32.67" fill="#5c8cc0"/>
<rect x="1632.84" y="202.01" width="31.69" height="32.67" fill="#5180ba"/>
<rect x="1664.43" y="202.01" width="31.69" height="32.67" fill="#7fadd2"/>
<rect x="1127.4" y="234.58" width="31.69" height="32.67" fill="#aed2e6"/>
<rect x="1158.99" y="234.58" width="31.69" height="32.67" fill="#aed2e6"/>
<rect x="1190.58" y="234.58" width="31.69" height="32.67" fill="#a5cce2"/>
<rect x="1222.17" y="234.58" width="31.69" height="32.67" fill="#d2eaf3"/>
<rect x="1253.76" y="234.58" width="31.69" height="32.67" fill="#da3127"/>
<rect x="1285.35" y="234.58" width="31.69" height="32.67" fill="#e0f3f7"/>
<rect x="1316.94" y="234.58" width="31.69" height="32.67" fill="#e3f4f1"/>
<rect x="1348.53" y="234.58" width="31.69" height="32.67" fill="#85b3d5"/>
<rect x="1380.12" y="234.58" width="31.69" height="32.67" fill="#73a2cc"/>
<rect x="1411.71" y="234.58" width="31.69" height="32.67" fill="#7fadd2"/>
<rect x="1443.3" y="234.58" width="31.69" height="32.67" fill="#73a2cc"/>
<rect x="1474.89" y="234.58" width="31.69" height="32.67" fill="#6d9cc9"/>
<rect x="1506.48" y="234.58" width="31.69" height="32.67" fill="#6594c4"/>
<rect x="1538.07" y="234.58" width="31.69" height="32.67" fill="#6b9ac7"/>
<rect x="1569.66" y="234.58" width="31.69" height="32.67" fill="#79a8cf"/>
<rect x="1601.25" y="234.58" width="31.69" height="32.67" fill="#6291c3"/>
<rect x="1632.84" y="234.58" width="31.69" height="32.67" fill="#5383bb"/>
<rect x="1664.43" y="234.58" width="31.69" height="32.67" fill="#7fadd2"/>
<rect x="1127.4" y="267.15" width="31.69" height="32.67" fill="#bddceb"/>
<rect x="1158.99" y="267.15" width="31.69" height="32.67" fill="#cce6f1"/>
<rect x="1190.58" y="267.15" width="31.69" height="32.67" fill="#b4d6e8"/>
<rect x="1222.17" y="267.15" width="31.69" height="32.67" fill="#def2f7"/>
<rect x="1253.76" y="267.15" width="31.69" height="32.67" fill="#e0f3f7"/>
<rect x="1285.35" y="267.15" width="31.69" height="32.67" fill="#da3127"/>
<rect x="1316.94" y="267.15" width="31.69" height="32.67" fill="#e6f5e8"/>
<rect x="1348.53" y="267.15" width="31.69" height="32.67" fill="#8ab9d8"/>
<rect x="1380.12" y="267.15" width="31.69" height="32.67" fill="#82b0d3"/>
<rect x="1411.71" y="267.15" width="31.69" height="32.67" fill="#8dbbd9"/>
<rect x="1443.3" y="267.15" width="31.69" height="32.67" fill="#82b0d3"/>
<rect x="1474.89" y="267.15" width="31.69" height="32.67" fill="#79a8cf"/>
<rect x="1506.48" y="267.15" width="31.69" height="32.67" fill="#709fca"/>
<rect x="1538.07" y="267.15" width="31.69" height="32.67" fill="#73a2cc"/>
<rect x="1569.66" y="267.15" width="31.69" height="32.67" fill="#85b3d5"/>
<rect x="1601.25" y="267.15" width="31.69" height="32.67" fill="#73a2cc"/>
<rect x="1632.84" y="267.15" width="31.69" height="32.67" fill="#6594c4"/>
<rect x="1664.43" y="267.15" width="31.69" height="32.67" fill="#8dbbd9"/>
<rect x="1127.4" y="299.72" width="31.69" height="32.67" fill="#c3e0ed"/>
<rect x="1158.99" y="299.72" width="31.69" height="32.67" fill="#bddceb"/>
<rect x="1190.58" y="299.72" width="31.69" height="32.67" fill="#bddceb"/>
<rect x="1222.17" y="299.72" width="31.69" height="32.67" fill="#e4f5ec"/>
<rect x="1253.76" y="299.72" width="31.69" height="32.67" fill="#e3f4f1"/>
<rect x="1285.35" y="299.72" width="31.69" height="32.67" fill="#e6f5e8"/>
<rect x="1316.94" y="299.72" width="31.69" height="32.67" fill="#da3127"/>
<rect x="1348.53" y="299.72" width="31.69" height="32.67" fill="#8dbbd9"/>
<rect x="1380.12" y="299.72" width="31.69" height="32.67" fill="#82b0d3"/>
<rect x="1411.71" y="299.72" width="31.69" height="32.67" fill="#87b6d6"/>
<rect x="1443.3" y="299.72" width="31.69" height="32.67" fill="#79a8cf"/>
<rect x="1474.89" y="299.72" width="31.69" height="32.67" fill="#709fca"/>
<rect x="1506.48" y="299.72" width="31.69" height="32.67" fill="#6594c4"/>
<rect x="1538.07" y="299.72" width="31.69" height="32.67" fill="#709fca"/>
<rect x="1569.66" y="299.72" width="31.69" height="32.67" fill="#7fadd2"/>
<rect x="1601.25" y="299.72" width="31.69" height="32.67" fill="#6594c4"/>
<rect x="1632.84" y="299.72" width="31.69" height="32.67" fill="#5686bd"/>
<rect x="1664.43" y="299.72" width="31.69" height="32.67" fill="#85b3d5"/>
<rect x="1127.4" y="332.29" width="31.69" height="32.67" fill="#8dbbd9"/>
<rect x="1158.99" y="332.29" width="31.69" height="32.67" fill="#90bedb"/>
<rect x="1190.58" y="332.29" width="31.69" height="32.67" fill="#85b3d5"/>
<rect x="1222.17" y="332.29" width="31.69" height="32.67" fill="#87b6d6"/>
<rect x="1253.76" y="332.29" width="31.69" height="32.67" fill="#85b3d5"/>
<rect x="1285.35" y="332.29" width="31.69" height="32.67" fill="#8ab9d8"/>
<rect x="1316.94" y="332.29" width="31.69" height="32.67" fill="#8dbbd9"/>
<rect x="1348.53" y="332.29" width="31.69" height="32.67" fill="#da3127"/>
<rect x="1380.12" y="332.29" width="31.69" height="32.67" fill="#f1faca"/>
<rect x="1411.71" y="332.29" width="31.69" height="32.67" fill="#eef9d1"/>
<rect x="1443.3" y="332.29" width="31.69" height="32.67" fill="#edf8d6"/>
<rect x="1474.89" y="332.29" width="31.69" height="32.67" fill="#e6f5e8"/>
<rect x="1506.48" y="332.29" width="31.69" height="32.67" fill="#e0f3f7"/>
<rect x="1538.07" y="332.29" width="31.69" height="32.67" fill="#96c2dd"/>
<rect x="1569.66" y="332.29" width="31.69" height="32.67" fill="#a5cce2"/>
<rect x="1601.25" y="332.29" width="31.69" height="32.67" fill="#8dbbd9"/>
<rect x="1632.84" y="332.29" width="31.69" height="32.67" fill="#9fc8e0"/>
<rect x="1664.43" y="332.29" width="31.69" height="32.67" fill="#b4d6e8"/>
<rect x="1127.4" y="364.86" width="31.69" height="32.67" fill="#96c2dd"/>
<rect x="1158.99" y="364.86" width="31.69" height="32.67" fill="#9fc8e0"/>
<rect x="1190.58" y="364.86" width="31.69" height="32.67" fill="#6b9ac7"/>
<rect x="1222.17" y="364.86" width="31.69" height="32.67" fill="#79a8cf"/>
<rect x="1253.76" y="364.86" width="31.69" height="32.67" fill="#73a2cc"/>
<rect x="1285.35" y="364.86" width="31.69" height="32.67" fill="#82b0d3"/>
<rect x="1316.94" y="364.86" width="31.69" height="32.67" fill="#82b0d3"/>
<rect x="1348.53" y="364.86" width="31.69" height="32.67" fill="#f1faca"/>
<rect x="1380.12" y="364.86" width="31.69" height="32.67" fill="#da3127"/>
<rect x="1411.71" y="364.86" width="31.69" height="32.67" fill="#f1d386"/>
<rect x="1443.3" y="364.86" width="31.69" height="32.67" fill="#f3e398"/>
<rect x="1474.89" y="364.86" width="31.69" height="32.67" fill="#f5fcbf"/>
<rect x="1506.48" y="364.86" width="31.69" height="32.67" fill="#f5fcbf"/>
<rect x="1538.07" y="364.86" width="31.69" height="32.67" fill="#a5cce2"/>
<rect x="1569.66" y="364.86" width="31.69" height="32.67" fill="#c3e0ed"/>
<rect x="1601.25" y="364.86" width="31.69" height="32.67" fill="#a8cee3"/>
<rect x="1632.84" y="364.86" width="31.69" height="32.67" fill="#def2f7"/>
<rect x="1664.43" y="364.86" width="31.69" height="32.67" fill="#d2eaf3"/>
<rect x="1127.4" y="397.43" width="31.69" height="32.67" fill="#9fc8e0"/>
<rect x="1158.99" y="397.43" width="31.69" height="32.67" fill="#b4d6e8"/>
<rect x="1190.58" y="397.43" width="31.69" height="32.67" fill="#709fca"/>
<rect x="1222.17" y="397.43" width="31.69" height="32.67" fill="#7fadd2"/>
<rect x="1253.76" y="397.43" width="31.69" height="32.67" fill="#7fadd2"/>
<rect x="1285.35" y="397.43" width="31.69" height="32.67" fill="#8dbbd9"/>
<rect x="1316.94" y="397.43" width="31.69" height="32.67" fill="#87b6d6"/>
<rect x="1348.53" y="397.43" width="31.69" height="32.67" fill="#eef9d1"/>
<rect x="1380.12" y="397.43" width="31.69" height="32.67" fill="#f1d386"/>
<rect x="1411.71" y="397.43" width="31.69" height="32.67" fill="#da3127"/>
<rect x="1443.3" y="397.43" width="31.69" height="32.67" fill="#edba75"/>
<rect x="1474.89" y="397.43" width="31.69" height="32.67" fill="#f5fcbf"/>
<rect x="1506.48" y="397.43" width="31.69" height="32.67" fill="#f5fcbf"/>
<rect x="1538.07" y="397.43" width="31.69" height="32.67" fill="#aed2e6"/>
<rect x="1569.66" y="397.43" width="31.69" height="32.67" fill="#d2eaf3"/>
<rect x="1601.25" y="397.43" width="31.69" height="32.67" fill="#badaea"/>
<rect x="1632.84" y="397.43" width="31.69" height="32.67" fill="#e0f3f7"/>
<rect x="1664.43" y="397.43" width="31.69" height="32.67" fill="#d8eef5"/>
<rect x="1127.4" y="430" width="31.69" height="32.67" fill="#96c2dd"/>
<rect x="1158.99" y="430" width="31.69" height="32.67" fill="#aed2e6"/>
<rect x="1190.58" y="430" width="31.69" height="32.67" fill="#6b9ac7"/>
<rect x="1222.17" y="430" width="31.69" height="32.67" fill="#73a2cc"/>
<rect x="1253.76" y="430" width="31.69" height="32.67" fill="#73a2cc"/>
<rect x="1285.35" y="430" width="31.69" height="32.67" fill="#82b0d3"/>
<rect x="1316.94" y="430" width="31.69" height="32.67" fill="#79a8cf"/>
<rect x="1348.53" y="430" width="31.69" height="32.67" fill="#edf8d6"/>
<rect x="1380.12" y="430" width="31.69" height="32.67" fill="#f3e398"/>
<rect x="1411.71" y="430" width="31.69" height="32.67" fill="#edba75"/>
<rect x="1443.3" y="430" width="31.69" height="32.67" fill="#da3127"/>
<rect x="1474.89" y="430" width="31.69" height="32.67" fill="#f5fcbf"/>
<rect x="1506.48" y="430" width="31.69" height="32.67" fill="#f5fcbf"/>
<rect x="1538.07" y="430" width="31.69" height="32.67" fill="#aed2e6"/>
<rect x="1569.66" y="430" width="31.69" height="32.67" fill="#cce6f1"/>
<rect x="1601.25" y="430" width="31.69" height="32.67" fill="#c3e0ed"/>
<rect x="1632.84" y="430" width="31.69" height="32.67" fill="#e2f4f3"/>
<rect x="1664.43" y="430" width="31.69" height="32.67" fill="#def2f7"/>
<rect x="1127.4" y="462.57" width="31.69" height="32.67" fill="#9cc6df"/>
<rect x="1158.99" y="462.57" width="31.69" height="32.67" fill="#aed2e6"/>
<rect x="1190.58" y="462.57" width="31.69" height="32.67" fill="#5c8cc0"/>
<rect x="1222.17" y="462.57" width="31.69" height="32.67" fill="#6b9ac7"/>
<rect x="1253.76" y="462.57" width="31.69" height="32.67" fill="#6d9cc9"/>
<rect x="1285.35" y="462.57" width="31.69" height="32.67" fill="#79a8cf"/>
<rect x="1316.94" y="462.57" width="31.69" height="32.67" fill="#709fca"/>
<rect x="1348.53" y="462.57" width="31.69" height="32.67" fill="#e6f5e8"/>
<rect x="1380.12" y="462.57" width="31.69" height="32.67" fill="#f5fcbf"/>
<rect x="1411.71" y="462.57" width="31.69" height="32.67" fill="#f5fcbf"/>
<rect x="1443.3" y="462.57" width="31.69" height="32.67" fill="#f5fcbf"/>
<rect x="1474.89" y="462.57" width="31.69" height="32.67" fill="#da3127"/>
<rect x="1506.48" y="462.57" width="31.69" height="32.67" fill="#f5f7b5"/>
<rect x="1538.07" y="462.57" width="31.69" height="32.67" fill="#b4d6e8"/>
<rect x="1569.66" y="462.57" width="31.69" height="32.67" fill="#d2eaf3"/>
<rect x="1601.25" y="462.57" width="31.69" height="32.67" fill="#c3e0ed"/>
<rect x="1632.84" y="462.57" width="31.69" height="32.67" fill="#e3f4f1"/>
<rect x="1664.43" y="462.57" width="31.69" height="32.67" fill="#d8eef5"/>
<rect x="1127.4" y="495.14" width="31.69" height="32.67" fill="#8dbbd9"/>
<rect x="1158.99" y="495.14" width="31.69" height="32.67" fill="#9fc8e0"/>
<rect x="1190.58" y="495.14" width="31.69" height="32.67" fill="#4e7db8"/>
<rect x="1222.17" y="495.14" width="31.69" height="32.67" fill="#6291c3"/>
<rect x="1253.76" y="495.14" width="31.69" height="32.67" fill="#6594c4"/>
<rect x="1285.35" y="495.14" width="31.69" height="32.67" fill="#709fca"/>
<rect x="1316.94" y="495.14" width="31.69" height="32.67" fill="#6594c4"/>
<rect x="1348.53" y="495.14" width="31.69" height="32.67" fill="#e0f3f7"/>
<rect x="1380.12" y="495.14" width="31.69" height="32.67" fill="#f5fcbf"/>
<rect x="1411.71" y="495.14" width="31.69" height="32.67" fill="#f5fcbf"/>
<rect x="1443.3" y="495.14" width="31.69" height="32.67" fill="#f5fcbf"/>
<rect x="1474.89" y="495.14" width="31.69" height="32.67" fill="#f5f7b5"/>
<rect x="1506.48" y="495.14" width="31.69" height="32.67" fill="#da3127"/>
<rect x="1538.07" y="495.14" width="31.69" height="32.67" fill="#b4d6e8"/>
<rect x="1569.66" y="495.14" width="31.69" height="32.67" fill="#c3e0ed"/>
<rect x="1601.25" y="495.14" width="31.69" height="32.67" fill="#c3e0ed"/>
<rect x="1632.84" y="495.14" width="31.69" height="32.67" fill="#e2f4f3"/>
<rect x="1664.43" y="495.14" width="31.69" height="32.67" fill="#d2eaf3"/>
<rect x="1127.4" y="527.71" width="31.69" height="32.67" fill="#7fadd2"/>
<rect x="1158.99" y="527.71" width="31.69" height="32.67" fill="#8ab9d8"/>
<rect x="1190.58" y="527.71" width="31.69" height="32.67" fill="#6897c6"/>
<rect x="1222.17" y="527.71" width="31.69" height="32.67" fill="#6897c6"/>
<rect x="1253.76" y="527.71" width="31.69" height="32.67" fill="#6b9ac7"/>
<rect x="1285.35" y="527.71" width="31.69" height="32.67" fill="#73a2cc"/>
<rect x="1316.94" y="527.71" width="31.69" height="32.67" fill="#709fca"/>
<rect x="1348.53" y="527.71" width="31.69" height="32.67" fill="#96c2dd"/>
<rect x="1380.12" y="527.71" width="31.69" height="32.67" fill="#a5cce2"/>
<rect x="1411.71" y="527.71" width="31.69" height="32.67" fill="#aed2e6"/>
<rect x="1443.3" y="527.71" width="31.69" height="32.67" fill="#aed2e6"/>
<rect x="1474.89" y="527.71" width="31.69" height="32.67" fill="#b4d6e8"/>
<rect x="1506.48" y="527.71" width="31.69" height="32.67" fill="#b4d6e8"/>
<rect x="1538.07" y="527.71" width="31.69" height="32.67" fill="#da3127"/>
<rect x="1569.66" y="527.71" width="31.69" height="32.67" fill="#96c2dd"/>
<rect x="1601.25" y="527.71" width="31.69" height="32.67" fill="#aed2e6"/>
<rect x="1632.84" y="527.71" width="31.69" height="32.67" fill="#aed2e6"/>
<rect x="1664.43" y="527.71" width="31.69" height="32.67" fill="#9fc8e0"/>
<rect x="1127.4" y="560.28" width="31.69" height="32.67" fill="#8dbbd9"/>
<rect x="1158.99" y="560.28" width="31.69" height="32.67" fill="#96c2dd"/>
<rect x="1190.58" y="560.28" width="31.69" height="32.67" fill="#709fca"/>
<rect x="1222.17" y="560.28" width="31.69" height="32.67" fill="#79a8cf"/>
<rect x="1253.76" y="560.28" width="31.69" height="32.67" fill="#79a8cf"/>
<rect x="1285.35" y="560.28" width="31.69" height="32.67" fill="#85b3d5"/>
<rect x="1316.94" y="560.28" width="31.69" height="32.67" fill="#7fadd2"/>
<rect x="1348.53" y="560.28" width="31.69" height="32.67" fill="#a5cce2"/>
<rect x="1380.12" y="560.28" width="31.69" height="32.67" fill="#c3e0ed"/>
<rect x="1411.71" y="560.28" width="31.69" height="32.67" fill="#d2eaf3"/>
<rect x="1443.3" y="560.28" width="31.69" height="32.67" fill="#cce6f1"/>
<rect x="1474.89" y="560.28" width="31.69" height="32.67" fill="#d2eaf3"/>
<rect x="1506.48" y="560.28" width="31.69" height="32.67" fill="#c3e0ed"/>
<rect x="1538.07" y="560.28" width="31.69" height="32.67" fill="#96c2dd"/>
<rect x="1569.66" y="560.28" width="31.69" height="32.67" fill="#da3127"/>
<rect x="1601.25" y="560.28" width="31.69" height="32.67" fill="#9fc8e0"/>
<rect x="1632.84" y="560.28" width="31.69" height="32.67" fill="#b4d6e8"/>
<rect x="1664.43" y="560.28" width="31.69" height="32.67" fill="#b4d6e8"/>
<rect x="1127.4" y="592.85" width="31.69" height="32.67" fill="#87b6d6"/>
<rect x="1158.99" y="592.85" width="31.69" height="32.67" fill="#aed2e6"/>
<rect x="1190.58" y="592.85" width="31.69" height="32.67" fill="#4e7db8"/>
<rect x="1222.17" y="592.85" width="31.69" height="32.67" fill="#5c8cc0"/>
<rect x="1253.76" y="592.85" width="31.69" height="32.67" fill="#6291c3"/>
<rect x="1285.35" y="592.85" width="31.69" height="32.67" fill="#73a2cc"/>
<rect x="1316.94" y="592.85" width="31.69" height="32.67" fill="#6594c4"/>
<rect x="1348.53" y="592.85" width="31.69" height="32.67" fill="#8dbbd9"/>
<rect x="1380.12" y="592.85" width="31.69" height="32.67" fill="#a8cee3"/>
<rect x="1411.71" y="592.85" width="31.69" height="32.67" fill="#badaea"/>
<rect x="1443.3" y="592.85" width="31.69" height="32.67" fill="#c3e0ed"/>
<rect x="1474.89" y="592.85" width="31.69" height="32.67" fill="#c3e0ed"/>
<rect x="1506.48" y="592.85" width="31.69" height="32.67" fill="#c3e0ed"/>
<rect x="1538.07" y="592.85" width="31.69" height="32.67" fill="#aed2e6"/>
<rect x="1569.66" y="592.85" width="31.69" height="32.67" fill="#9fc8e0"/>
<rect x="1601.25" y="592.85" width="31.69" height="32.67" fill="#da3127"/>
<rect x="1632.84" y="592.85" width="31.69" height="32.67" fill="#e0f3f7"/>
<rect x="1664.43" y="592.85" width="31.69" height="32.67" fill="#bddceb"/>
<rect x="1127.4" y="625.42" width="31.69" height="32.67" fill="#7fadd2"/>
<rect x="1158.99" y="625.42" width="31.69" height="32.67" fill="#9cc6df"/>
<rect x="1190.58" y="625.42" width="31.69" height="32.67" fill="#4b7bb7"/>
<rect x="1222.17" y="625.42" width="31.69" height="32.67" fill="#5180ba"/>
<rect x="1253.76" y="625.42" width="31.69" height="32.67" fill="#5383bb"/>
<rect x="1285.35" y="625.42" width="31.69" height="32.67" fill="#6594c4"/>
<rect x="1316.94" y="625.42" width="31.69" height="32.67" fill="#5686bd"/>
<rect x="1348.53" y="625.42" width="31.69" height="32.67" fill="#9fc8e0"/>
<rect x="1380.12" y="625.42" width="31.69" height="32.67" fill="#def2f7"/>
<rect x="1411.71" y="625.42" width="31.69" height="32.67" fill="#e0f3f7"/>
<rect x="1443.3" y="625.42" width="31.69" height="32.67" fill="#e2f4f3"/>
<rect x="1474.89" y="625.42" width="31.69" height="32.67" fill="#e3f4f1"/>
<rect x="1506.48" y="625.42" width="31.69" height="32.67" fill="#e2f4f3"/>
<rect x="1538.07" y="625.42" width="31.69" height="32.67" fill="#aed2e6"/>
<rect x="1569.66" y="625.42" width="31.69" height="32.67" fill="#b4d6e8"/>
<rect x="1601.25" y="625.42" width="31.69" height="32.67" fill="#e0f3f7"/>
<rect x="1632.84" y="625.42" width="31.69" height="32.67" fill="#da3127"/>
<rect x="1664.43" y="625.42" width="31.69" height="32.67" fill="#e3f4f1"/>
<rect x="1127.4" y="657.99" width="31.69" height="32.67" fill="#9cc6df"/>
<rect x="1158.99" y="657.99" width="31.69" height="32.67" fill="#a5cce2"/>
<rect x="1190.58" y="657.99" width="31.69" height="32.67" fill="#6d9cc9"/>
<rect x="1222.17" y="657.99" width="31.69" height="32.67" fill="#7fadd2"/>
<rect x="1253.76" y="657.99" width="31.69" height="32.67" fill="#7fadd2"/>
<rect x="1285.35" y="657.99" width="31.69" height="32.67" fill="#8dbbd9"/>
<rect x="1316.94" y="657.99" width="31.69" height="32.67" fill="#85b3d5"/>
<rect x="1348.53" y="657.99" width="31.69" height="32.67" fill="#b4d6e8"/>
<rect x="1380.12" y="657.99" width="31.69" height="32.67" fill="#d2eaf3"/>
<rect x="1411.71" y="657.99" width="31.69" height="32.67" fill="#d8eef5"/>
<rect x="1443.3" y="657.99" width="31.69" height="32.67" fill="#def2f7"/>
<rect x="1474.89" y="657.99" width="31.69" height="32.67" fill="#d8eef5"/>
<rect x="1506.48" y="657.99" width="31.69" height="32.67" fill="#d2eaf3"/>
<rect x="1538.07" y="657.99" width="31.69" height="32.67" fill="#9fc8e0"/>
<rect x="1569.66" y="657.99" width="31.69" height="32.67" fill="#b4d6e8"/>
<rect x="1601.25" y="657.99" width="31.69" height="32.67" fill="#bddceb"/>
<rect x="1632.84" y="657.99" width="31.69" height="32.67" fill="#e3f4f1"/>
<rect x="1664.43" y="657.99" width="31.69" height="32.67" fill="#da3127"/>
<path d="M1127.4 104.3v586.26M1127.4 104.3h568.62M1158.99 104.3v586.26M1127.4 136.87h568.62M1190.58 104.3v586.26M1127.4 169.44h568.62M1222.17 104.3v586.26M1127.4 202.01h568.62M1253.76 104.3v586.26M1127.4 234.58h568.62M1285.35 104.3v586.26M1127.4 267.15h568.62M1316.94 104.3v586.26M1127.4 299.72h568.62M1348.53 104.3v586.26M1127.4 332.29h568.62M1380.12 104.3v586.26M1127.4 364.86h568.62M1411.71 104.3v586.26M1127.4 397.43h568.62M1443.3 104.3v586.26M1127.4 430h568.62M1474.89 104.3v586.26M1127.4 462.57h568.62M1506.48 104.3v586.26M1127.4 495.14h568.62M1538.07 104.3v586.26M1127.4 527.71h568.62M1569.66 104.3v586.26M1127.4 560.28h568.62M1601.25 104.3v586.26M1127.4 592.85h568.62M1632.84 104.3v586.26M1127.4 625.42h568.62M1664.43 104.3v586.26M1127.4 657.99h568.62M1696.02 104.3v586.26M1127.4 690.56h568.62" stroke="#8f8f8f" stroke-width="1.25" fill="none"/>
<path d="M1143.2 102.7L1143.2 60.6M1174.79 102.7L1174.79 60.6M1143.2 60.6L1174.79 60.6M1301.14 102.7L1301.14 63.9M1332.74 102.7L1332.74 63.9M1301.14 63.9L1332.74 63.9M1269.56 102.7L1269.56 61.3M1316.94 63.9L1316.94 61.3M1269.56 61.3L1316.94 61.3M1237.97 102.7L1237.97 59.1M1293.25 61.3L1293.25 59.1M1237.97 59.1L1293.25 59.1M1206.38 102.7L1206.38 53.6M1265.61 59.1L1265.61 53.6M1206.38 53.6L1265.61 53.6M1158.99 60.6L1158.99 50.2M1235.99 53.6L1235.99 50.2M1158.99 50.2L1235.99 50.2M1427.51 102.7L1427.51 86.1M1459.1 102.7L1459.1 86.1M1427.51 86.1L1459.1 86.1M1395.91 102.7L1395.91 78M1443.3 86.1L1443.3 78M1395.91 78L1443.3 78M1490.69 102.7L1490.69 73.9M1522.28 102.7L1522.28 73.9M1490.69 73.9L1522.28 73.9M1419.61 78L1419.61 68.3M1506.48 73.9L1506.48 68.3M1419.61 68.3L1506.48 68.3M1364.33 102.7L1364.33 57.3M1463.04 68.3L1463.04 57.3M1364.33 57.3L1463.04 57.3M1648.64 102.7L1648.64 59.9M1680.23 102.7L1680.23 59.9M1648.64 59.9L1680.23 59.9M1617.05 102.7L1617.05 53.9M1664.43 59.9L1664.43 53.9M1617.05 53.9L1664.43 53.9M1585.46 102.7L1585.46 50.6M1640.74 53.9L1640.74 50.6M1585.46 50.6L1640.74 50.6M1553.87 102.7L1553.87 49.1M1613.1 50.6L1613.1 49.1M1553.87 49.1L1613.1 49.1M1413.68 57.3L1413.68 39.5M1583.48 49.1L1583.48 39.5M1413.68 39.5L1583.48 39.5M1197.49 50.2L1197.49 21.4M1498.58 39.5L1498.58 21.4M1197.49 21.4L1498.58 21.4" stroke="#000" stroke-width="1.5" fill="none" stroke-linecap="square"/>
<path d="M1125.1 121.08L1077.53 121.08M1125.1 153.66L1077.53 153.66M1077.53 121.08L1077.53 153.66M1125.1 283.94L1081.26 283.94M1125.1 316.5L1081.26 316.5M1081.26 283.94L1081.26 316.5M1125.1 251.37L1078.32 251.37M1081.26 300.22L1078.32 300.22M1078.32 251.37L1078.32 300.22M1125.1 218.8L1075.83 218.8M1078.32 275.79L1075.83 275.79M1075.83 218.8L1075.83 275.79M1125.1 186.22L1069.62 186.22M1075.83 247.29L1069.62 247.29M1069.62 186.22L1069.62 247.29M1077.53 137.37L1065.77 137.37M1069.62 216.76L1065.77 216.76M1065.77 137.37L1065.77 216.76M1125.1 414.22L1106.34 414.22M1125.1 446.79L1106.34 446.79M1106.34 414.22L1106.34 446.79M1125.1 381.65L1097.19 381.65M1106.34 430.5L1097.19 430.5M1097.19 381.65L1097.19 430.5M1125.1 479.36L1092.56 479.36M1125.1 511.93L1092.56 511.93M1092.56 479.36L1092.56 511.93M1097.19 406.07L1086.23 406.07M1092.56 495.64L1086.23 495.64M1086.23 406.07L1086.23 495.64M1125.1 349.07L1073.8 349.07M1086.23 450.86L1073.8 450.86M1073.8 349.07L1073.8 450.86M1125.1 642.2L1076.74 642.2M1125.1 674.77L1076.74 674.77M1076.74 642.2L1076.74 674.77M1125.1 609.63L1069.96 609.63M1076.74 658.49L1069.96 658.49M1069.96 609.63L1069.96 658.49M1125.1 577.06L1066.23 577.06M1069.96 634.06L1066.23 634.06M1066.23 577.06L1066.23 634.06M1125.1 544.5L1064.53 544.5M1066.23 605.56L1064.53 605.56M1064.53 544.5L1064.53 605.56M1073.8 399.97L1053.68 399.97M1064.53 575.03L1053.68 575.03M1053.68 399.97L1053.68 575.03M1065.77 177.06L1033.23 177.06M1053.68 487.5L1033.23 487.5M1033.23 177.06L1033.23 487.5" stroke="#000" stroke-width="1.5" fill="none" stroke-linecap="square"/>
<text transform="translate(1701.3 126.18) scale(1.115 1)" font-size="16.4">OPC NN</text>
<text transform="translate(1701.3 158.75) scale(1.115 1)" font-size="16.4">Astro−TE NN</text>
<text transform="translate(1701.3 191.32) scale(1.115 1)" font-size="16.4">Glioblast</text>
<text transform="translate(1701.3 223.9) scale(1.115 1)" font-size="16.4">Microglia NN</text>
<text transform="translate(1701.3 256.47) scale(1.115 1)" font-size="16.4">ABC NN</text>
<text transform="translate(1701.3 289.04) scale(1.115 1)" font-size="16.4">VLMC NN</text>
<text transform="translate(1701.3 321.61) scale(1.115 1)" font-size="16.4">Endo NN</text>
<text transform="translate(1701.3 354.18) scale(1.115 1)" font-size="16.4">L5 ET CTX Glut</text>
<text transform="translate(1701.3 386.75) scale(1.115 1)" font-size="16.4">L5 IT CTX Glut</text>
<text transform="translate(1701.3 419.32) scale(1.115 1)" font-size="16.4">L4/5 IT CTX Glut</text>
<text transform="translate(1701.3 451.89) scale(1.115 1)" font-size="16.4">L2/3 IT CTX Glut</text>
<text transform="translate(1701.3 484.46) scale(1.115 1)" font-size="16.4">L6 CT CTX Glut</text>
<text transform="translate(1701.3 517.02) scale(1.115 1)" font-size="16.4">L6 IT CTX Glut</text>
<text transform="translate(1701.3 549.6) scale(1.115 1)" font-size="16.4">Lamp5 Gaba</text>
<text transform="translate(1701.3 582.16) scale(1.115 1)" font-size="16.4">L5 NP CTX Glut</text>
<text transform="translate(1701.3 614.74) scale(1.115 1)" font-size="16.4">Vip Gaba</text>
<text transform="translate(1701.3 647.3) scale(1.115 1)" font-size="16.4">Pvalb Gaba</text>
<text transform="translate(1701.3 679.88) scale(1.115 1)" font-size="16.4">Sst Gaba</text>
<text transform="translate(1149.9 695.8) rotate(-90) scale(0.875 1)" font-size="18.6" text-anchor="end">OPC NN</text>
<text transform="translate(1181.49 695.8) rotate(-90) scale(0.875 1)" font-size="18.6" text-anchor="end">Astro−TE NN</text>
<text transform="translate(1213.08 695.8) rotate(-90) scale(0.875 1)" font-size="18.6" text-anchor="end">Glioblast</text>
<text transform="translate(1244.67 695.8) rotate(-90) scale(0.875 1)" font-size="18.6" text-anchor="end">Microglia NN</text>
<text transform="translate(1276.26 695.8) rotate(-90) scale(0.875 1)" font-size="18.6" text-anchor="end">ABC NN</text>
<text transform="translate(1307.85 695.8) rotate(-90) scale(0.875 1)" font-size="18.6" text-anchor="end">VLMC NN</text>
<text transform="translate(1339.44 695.8) rotate(-90) scale(0.875 1)" font-size="18.6" text-anchor="end">Endo NN</text>
<text transform="translate(1371.03 695.8) rotate(-90) scale(0.875 1)" font-size="18.6" text-anchor="end">L5 ET CTX Glut</text>
<text transform="translate(1402.62 695.8) rotate(-90) scale(0.875 1)" font-size="18.6" text-anchor="end">L5 IT CTX Glut</text>
<text transform="translate(1434.21 695.8) rotate(-90) scale(0.875 1)" font-size="18.6" text-anchor="end">L4/5 IT CTX Glut</text>
<text transform="translate(1465.8 695.8) rotate(-90) scale(0.875 1)" font-size="18.6" text-anchor="end">L2/3 IT CTX Glut</text>
<text transform="translate(1497.39 695.8) rotate(-90) scale(0.875 1)" font-size="18.6" text-anchor="end">L6 CT CTX Glut</text>
<text transform="translate(1528.98 695.8) rotate(-90) scale(0.875 1)" font-size="18.6" text-anchor="end">L6 IT CTX Glut</text>
<text transform="translate(1560.57 695.8) rotate(-90) scale(0.875 1)" font-size="18.6" text-anchor="end">Lamp5 Gaba</text>
<text transform="translate(1592.16 695.8) rotate(-90) scale(0.875 1)" font-size="18.6" text-anchor="end">L5 NP CTX Glut</text>
<text transform="translate(1623.75 695.8) rotate(-90) scale(0.875 1)" font-size="18.6" text-anchor="end">Vip Gaba</text>
<text transform="translate(1655.34 695.8) rotate(-90) scale(0.875 1)" font-size="18.6" text-anchor="end">Pvalb Gaba</text>
<text transform="translate(1686.93 695.8) rotate(-90) scale(0.875 1)" font-size="18.6" text-anchor="end">Sst Gaba</text>
<text transform="translate(1855 350.1) scale(1.15 1)" font-size="16">Correlation</text>
<defs><linearGradient id="gco" x1="0" y1="0" x2="0" y2="1"><stop offset="0" stop-color="#d73027"/><stop offset="0.037" stop-color="#d73027"/><stop offset="0.140" stop-color="#fc8d59"/><stop offset="0.243" stop-color="#fee090"/><stop offset="0.347" stop-color="#ffffbf"/><stop offset="0.450" stop-color="#e0f3f8"/><stop offset="0.552" stop-color="#91bfdb"/><stop offset="0.655" stop-color="#4575b4"/><stop offset="1" stop-color="#4575b4"/></linearGradient></defs>
<rect x="1853.9" y="359" width="22" height="98" fill="url(#gco)"/>
<path d="M1853.9 362.6h4.4M1871.5 362.6h4.4" stroke="#fff" stroke-width="1"/>
<text transform="translate(1881.4 368.4) scale(1.1 1)" font-size="16">1</text>
<path d="M1853.9 393h4.4M1871.5 393h4.4" stroke="#fff" stroke-width="1"/>
<text transform="translate(1881.4 398.8) scale(1.1 1)" font-size="16">0.5</text>
<path d="M1853.9 423.2h4.4M1871.5 423.2h4.4" stroke="#fff" stroke-width="1"/>
<text transform="translate(1881.4 429) scale(1.1 1)" font-size="16">0</text>
<path d="M1853.9 453.5h4.4M1871.5 453.5h4.4" stroke="#fff" stroke-width="1"/>
<text transform="translate(1881.4 459.3) scale(1.1 1)" font-size="16">−0.5</text>
</g>
<g id="pd">
<text transform="translate(990.4 890.7) scale(1.07 1)" font-size="38.8" font-weight="bold" fill="#111">d</text>
<rect x="1100.9" y="887.6" width="714" height="756.3" fill="#ebebeb"/>
<path d="M1100.9 1582.85H1814.9M1100.9 1456.15H1814.9M1100.9 1329.45H1814.9M1100.9 1202.75H1814.9M1100.9 1076.05H1814.9M1100.9 949.35H1814.9" stroke="#fff" stroke-width="0.9" fill="none" opacity="0.9"/>
<path d="M1100.9 1519.5H1814.9M1100.9 1392.8H1814.9M1100.9 1266.1H1814.9M1100.9 1139.4H1814.9M1100.9 1012.7H1814.9M1124 887.6V1643.9M1163.25 887.6V1643.9M1202.5 887.6V1643.9M1241.75 887.6V1643.9M1281 887.6V1643.9M1320.25 887.6V1643.9M1359.5 887.6V1643.9M1398.75 887.6V1643.9M1438 887.6V1643.9M1477.25 887.6V1643.9M1516.5 887.6V1643.9M1555.75 887.6V1643.9M1595 887.6V1643.9M1634.25 887.6V1643.9M1673.5 887.6V1643.9M1712.75 887.6V1643.9M1752 887.6V1643.9M1791.25 887.6V1643.9" stroke="#fff" stroke-width="1.8" fill="none"/>
<rect x="1104.35" y="1023.54" width="39.3" height="496.66" fill="#f7f7f7"/>
<rect x="1143.6" y="1191.41" width="39.3" height="331.19" fill="#f7f7f7"/>
<rect x="1182.85" y="1054.83" width="39.3" height="424.06" fill="#f7f7f7"/>
<rect x="1222.1" y="1013.59" width="39.3" height="505.4" fill="#f7f7f7"/>
<rect x="1261.35" y="952.9" width="39.3" height="578.82" fill="#f7f7f7"/>
<rect x="1300.6" y="920.72" width="39.3" height="685.63" fill="#f7f7f7"/>
<rect x="1339.85" y="997.18" width="39.3" height="612.84" fill="#f7f7f7"/>
<rect x="1379.1" y="1100.32" width="39.3" height="507.17" fill="#f7f7f7"/>
<rect x="1418.35" y="1304.24" width="39.3" height="177.18" fill="#f7f7f7"/>
<rect x="1457.6" y="1214.41" width="39.3" height="308.82" fill="#f7f7f7"/>
<rect x="1496.85" y="1135.54" width="39.3" height="377.37" fill="#f7f7f7"/>
<rect x="1536.1" y="1230.82" width="39.3" height="268.79" fill="#f7f7f7"/>
<rect x="1575.35" y="1207.76" width="39.3" height="274.23" fill="#f7f7f7"/>
<rect x="1614.6" y="1235.63" width="39.3" height="240.28" fill="#f7f7f7"/>
<rect x="1653.85" y="1255.65" width="39.3" height="303.38" fill="#f7f7f7"/>
<rect x="1693.1" y="1253.24" width="39.3" height="280.95" fill="#f7f7f7"/>
<rect x="1732.35" y="1242.92" width="39.3" height="298.56" fill="#f7f7f7"/>
<rect x="1771.6" y="1253.88" width="39.3" height="295.46" fill="#f7f7f7"/>
<rect x="1106.3" y="1024.74" width="35.4" height="368.06" fill="#1500ff"/>
<rect x="1106.3" y="1392.8" width="35.4" height="126.19" fill="#ff2010"/>
<rect x="1145.55" y="1192.61" width="35.4" height="200.19" fill="#1500ff"/>
<rect x="1145.55" y="1392.8" width="35.4" height="128.6" fill="#ff2010"/>
<rect x="1184.8" y="1056.03" width="35.4" height="336.77" fill="#1500ff"/>
<rect x="1184.8" y="1392.8" width="35.4" height="84.89" fill="#ff2010"/>
<rect x="1224.05" y="1014.79" width="35.4" height="378.01" fill="#1500ff"/>
<rect x="1224.05" y="1392.8" width="35.4" height="124.99" fill="#ff2010"/>
<rect x="1263.3" y="954.1" width="35.4" height="438.7" fill="#1500ff"/>
<rect x="1263.3" y="1392.8" width="35.4" height="137.72" fill="#ff2010"/>
<rect x="1302.55" y="921.92" width="35.4" height="470.88" fill="#1500ff"/>
<rect x="1302.55" y="1392.8" width="35.4" height="212.35" fill="#ff2010"/>
<rect x="1341.8" y="998.38" width="35.4" height="394.42" fill="#1500ff"/>
<rect x="1341.8" y="1392.8" width="35.4" height="216.02" fill="#ff2010"/>
<rect x="1381.05" y="1101.52" width="35.4" height="291.28" fill="#1500ff"/>
<rect x="1381.05" y="1392.8" width="35.4" height="213.49" fill="#ff2010"/>
<rect x="1420.3" y="1305.44" width="35.4" height="87.36" fill="#1500ff"/>
<rect x="1420.3" y="1392.8" width="35.4" height="87.42" fill="#ff2010"/>
<rect x="1459.55" y="1215.61" width="35.4" height="177.19" fill="#1500ff"/>
<rect x="1459.55" y="1392.8" width="35.4" height="129.23" fill="#ff2010"/>
<rect x="1498.8" y="1136.74" width="35.4" height="256.06" fill="#1500ff"/>
<rect x="1498.8" y="1392.8" width="35.4" height="118.91" fill="#ff2010"/>
<rect x="1538.05" y="1232.02" width="35.4" height="160.78" fill="#1500ff"/>
<rect x="1538.05" y="1392.8" width="35.4" height="105.6" fill="#ff2010"/>
<rect x="1577.3" y="1208.96" width="35.4" height="183.84" fill="#1500ff"/>
<rect x="1577.3" y="1392.8" width="35.4" height="87.99" fill="#ff2010"/>
<rect x="1616.55" y="1236.83" width="35.4" height="155.97" fill="#1500ff"/>
<rect x="1616.55" y="1392.8" width="35.4" height="81.91" fill="#ff2010"/>
<rect x="1655.8" y="1256.85" width="35.4" height="135.95" fill="#1500ff"/>
<rect x="1655.8" y="1392.8" width="35.4" height="165.03" fill="#ff2010"/>
<rect x="1695.05" y="1254.44" width="35.4" height="138.36" fill="#1500ff"/>
<rect x="1695.05" y="1392.8" width="35.4" height="140.19" fill="#ff2010"/>
<rect x="1734.3" y="1244.12" width="35.4" height="148.68" fill="#1500ff"/>
<rect x="1734.3" y="1392.8" width="35.4" height="147.48" fill="#ff2010"/>
<rect x="1773.55" y="1255.08" width="35.4" height="137.72" fill="#1500ff"/>
<rect x="1773.55" y="1392.8" width="35.4" height="155.33" fill="#ff2010"/>
<text transform="translate(1091 1525.3)" font-size="16.5" text-anchor="end" fill="#4d4d4d">−200</text>
<text transform="translate(1091 1398.6)" font-size="16.5" text-anchor="end" fill="#4d4d4d">0</text>
<text transform="translate(1091 1271.9)" font-size="16.5" text-anchor="end" fill="#4d4d4d">200</text>
<text transform="translate(1091 1145.2)" font-size="16.5" text-anchor="end" fill="#4d4d4d">400</text>
<text transform="translate(1091 1018.5)" font-size="16.5" text-anchor="end" fill="#4d4d4d">600</text>
<path d="M1095.7 1519.5h5.2M1095.7 1392.8h5.2M1095.7 1266.1h5.2M1095.7 1139.4h5.2M1095.7 1012.7h5.2M1124 1643.9v4.8M1163.25 1643.9v4.8M1202.5 1643.9v4.8M1241.75 1643.9v4.8M1281 1643.9v4.8M1320.25 1643.9v4.8M1359.5 1643.9v4.8M1398.75 1643.9v4.8M1438 1643.9v4.8M1477.25 1643.9v4.8M1516.5 1643.9v4.8M1555.75 1643.9v4.8M1595 1643.9v4.8M1634.25 1643.9v4.8M1673.5 1643.9v4.8M1712.75 1643.9v4.8M1752 1643.9v4.8M1791.25 1643.9v4.8" stroke="#2a2a2a" stroke-width="2" fill="none"/>
<text transform="translate(1130.5 1653.3) rotate(-90) scale(1 1.05)" font-size="16.7" text-anchor="end" fill="#1a1a1a">L6 CT CTX Glut</text>
<text transform="translate(1169.75 1653.3) rotate(-90) scale(1 1.05)" font-size="16.7" text-anchor="end" fill="#1a1a1a">L5 NP CTX Glut</text>
<text transform="translate(1209 1653.3) rotate(-90) scale(1 1.05)" font-size="16.7" text-anchor="end" fill="#1a1a1a">L5 ET CTX Glut</text>
<text transform="translate(1248.25 1653.3) rotate(-90) scale(1 1.05)" font-size="16.7" text-anchor="end" fill="#1a1a1a">L6 IT CTX Glut</text>
<text transform="translate(1287.5 1653.3) rotate(-90) scale(1 1.05)" font-size="16.7" text-anchor="end" fill="#1a1a1a">L5 IT CTX Glut</text>
<text transform="translate(1326.75 1653.3) rotate(-90) scale(1 1.05)" font-size="16.7" text-anchor="end" fill="#1a1a1a">L4/5 IT CTX Glut</text>
<text transform="translate(1366 1653.3) rotate(-90) scale(1 1.05)" font-size="16.7" text-anchor="end" fill="#1a1a1a">L2/3 IT CTX Glut</text>
<text transform="translate(1405.25 1653.3) rotate(-90) scale(1 1.05)" font-size="16.7" text-anchor="end" fill="#1a1a1a">Glioblast</text>
<text transform="translate(1444.5 1653.3) rotate(-90) scale(1 1.05)" font-size="16.7" text-anchor="end" fill="#1a1a1a">OPC NN</text>
<text transform="translate(1483.75 1653.3) rotate(-90) scale(1 1.05)" font-size="16.7" text-anchor="end" fill="#1a1a1a">Astro−TE NN</text>
<text transform="translate(1523 1653.3) rotate(-90) scale(1 1.05)" font-size="16.7" text-anchor="end" fill="#1a1a1a">Lamp5 Gaba</text>
<text transform="translate(1562.25 1653.3) rotate(-90) scale(1 1.05)" font-size="16.7" text-anchor="end" fill="#1a1a1a">Vip Gaba</text>
<text transform="translate(1601.5 1653.3) rotate(-90) scale(1 1.05)" font-size="16.7" text-anchor="end" fill="#1a1a1a">Pvalb Gaba</text>
<text transform="translate(1640.75 1653.3) rotate(-90) scale(1 1.05)" font-size="16.7" text-anchor="end" fill="#1a1a1a">Sst Gaba</text>
<text transform="translate(1680 1653.3) rotate(-90) scale(1 1.05)" font-size="16.7" text-anchor="end" fill="#1a1a1a">Microglia NN</text>
<text transform="translate(1719.25 1653.3) rotate(-90) scale(1 1.05)" font-size="16.7" text-anchor="end" fill="#1a1a1a">VLMC NN</text>
<text transform="translate(1758.5 1653.3) rotate(-90) scale(1 1.05)" font-size="16.7" text-anchor="end" fill="#1a1a1a">Endo NN</text>
<text transform="translate(1797.75 1653.3) rotate(-90) scale(1 1.05)" font-size="16.7" text-anchor="end" fill="#1a1a1a">ABC NN</text>
<text transform="translate(1459.5 1797.9)" font-size="20.4" text-anchor="middle">Subclass</text>
<text transform="translate(1040.5 1279.3) rotate(-90)" font-size="20.4" text-anchor="middle">Cumulative positive or negative changes of all DA peakers in a subclass</text>
<text transform="translate(1595.6 919.8) scale(1.11 1)" font-size="18.4">Higher peaks:</text>
<rect x="1591.5" y="933.8" width="23.6" height="23.2" fill="#ff2010"/>
<rect x="1591.5" y="963.6" width="23.6" height="23.4" fill="#1500ff"/>
<text transform="translate(1625.5 951.6) scale(1.11 1)" font-size="18.4">Before eye opening</text>
<text transform="translate(1625.5 984) scale(1.11 1)" font-size="18.4">After eye opening</text>
</g>
<g id="pb">
<text transform="translate(209.7 1731) scale(1.07 1)" font-size="38.8" font-weight="bold" fill="#111">b</text>
<text transform="translate(572.7 1771.43)" font-size="14.3" text-anchor="middle" fill="#222">2871</text>
<text transform="translate(599.47 1840.67)" font-size="14.3" text-anchor="middle" fill="#222">2543</text>
<text transform="translate(626.23 1914.98)" font-size="14.3" text-anchor="middle" fill="#222">2191</text>
<text transform="translate(653 1932.92)" font-size="14.3" text-anchor="middle" fill="#222">2106</text>
<text transform="translate(679.76 1961.63)" font-size="14.3" text-anchor="middle" fill="#222">1970</text>
<text transform="translate(706.52 2097.58)" font-size="14.3" text-anchor="middle" fill="#222">1326</text>
<text transform="translate(731.69 2191.31)" font-size="14.3" text-anchor="middle" fill="#222">882</text>
<text transform="translate(758.46 2209.25)" font-size="14.3" text-anchor="middle" fill="#222">797</text>
<text transform="translate(785.22 2257.6)" font-size="14.3" text-anchor="middle" fill="#222">568</text>
<text transform="translate(811.99 2275.75)" font-size="14.3" text-anchor="middle" fill="#222">482</text>
<text transform="translate(838.75 2292.85)" font-size="14.3" text-anchor="middle" fill="#222">401</text>
<text transform="translate(865.52 2304.88)" font-size="14.3" text-anchor="middle" fill="#222">344</text>
<text transform="translate(892.28 2321.98)" font-size="14.3" text-anchor="middle" fill="#222">263</text>
<text transform="translate(919.05 2334.65)" font-size="14.3" text-anchor="middle" fill="#222">203</text>
<text transform="translate(945.81 2337.18)" font-size="14.3" text-anchor="middle" fill="#222">191</text>
<text transform="translate(972.58 2339.29)" font-size="14.3" text-anchor="middle" fill="#222">181</text>
<text transform="translate(999.34 2340.35)" font-size="14.3" text-anchor="middle" fill="#222">176</text>
<text transform="translate(1026.11 2340.56)" font-size="14.3" text-anchor="middle" fill="#222">175</text>
<text transform="translate(1052.87 2340.98)" font-size="14.3" text-anchor="middle" fill="#222">173</text>
<text transform="translate(1079.63 2343.3)" font-size="14.3" text-anchor="middle" fill="#222">162</text>
<text transform="translate(1106.4 2350.27)" font-size="14.3" text-anchor="middle" fill="#222">129</text>
<text transform="translate(1133.16 2351.75)" font-size="14.3" text-anchor="middle" fill="#222">122</text>
<text transform="translate(1158.33 2357.45)" font-size="14.3" text-anchor="middle" fill="#222">95</text>
<text transform="translate(1185.1 2358.92)" font-size="14.3" text-anchor="middle" fill="#222">88</text>
<text transform="translate(1211.86 2359.13)" font-size="14.3" text-anchor="middle" fill="#222">87</text>
<text transform="translate(1238.62 2360.4)" font-size="14.3" text-anchor="middle" fill="#222">81</text>
<text transform="translate(1265.39 2361.88)" font-size="14.3" text-anchor="middle" fill="#222">74</text>
<text transform="translate(1292.16 2362.3)" font-size="14.3" text-anchor="middle" fill="#222">72</text>
<text transform="translate(1318.92 2363.36)" font-size="14.3" text-anchor="middle" fill="#222">67</text>
<text transform="translate(1345.69 2364.83)" font-size="14.3" text-anchor="middle" fill="#222">60</text>
<text transform="translate(1372.45 2366.52)" font-size="14.3" text-anchor="middle" fill="#222">52</text>
<text transform="translate(1399.22 2368.42)" font-size="14.3" text-anchor="middle" fill="#222">43</text>
<text transform="translate(1425.98 2369.69)" font-size="14.3" text-anchor="middle" fill="#222">37</text>
<text transform="translate(1452.75 2370.32)" font-size="14.3" text-anchor="middle" fill="#222">34</text>
<text transform="translate(1479.51 2370.53)" font-size="14.3" text-anchor="middle" fill="#222">33</text>
<text transform="translate(1506.28 2370.96)" font-size="14.3" text-anchor="middle" fill="#222">31</text>
<text transform="translate(1533.04 2371.59)" font-size="14.3" text-anchor="middle" fill="#222">28</text>
<text transform="translate(1559.81 2372.01)" font-size="14.3" text-anchor="middle" fill="#222">26</text>
<text transform="translate(1586.57 2372.22)" font-size="14.3" text-anchor="middle" fill="#222">25</text>
<text transform="translate(1613.34 2372.43)" font-size="14.3" text-anchor="middle" fill="#222">24</text>
<path d="M559.15 1778.13h15.9v606.07h-15.9zM585.91 1847.37h15.9v536.83h-15.9zM612.68 1921.68h15.9v462.52h-15.9zM639.44 1939.62h15.9v444.58h-15.9zM666.21 1968.33h15.9v415.87h-15.9zM692.97 2104.28h15.9v279.92h-15.9zM719.74 2198.01h15.9v186.19h-15.9zM746.5 2215.95h15.9v168.25h-15.9zM773.27 2264.3h15.9v119.9h-15.9zM800.03 2282.45h15.9v101.75h-15.9zM826.8 2299.55h15.9v84.65h-15.9zM853.57 2311.58h15.9v72.62h-15.9zM880.33 2328.68h15.9v55.52h-15.9zM907.1 2341.35h15.9v42.85h-15.9zM933.86 2343.88h15.9v40.32h-15.9zM960.62 2345.99h15.9v38.21h-15.9zM987.39 2347.05h15.9v37.15h-15.9zM1014.15 2347.26h15.9v36.94h-15.9zM1040.92 2347.68h15.9v36.52h-15.9zM1067.68 2350h15.9v34.2h-15.9zM1094.45 2356.97h15.9v27.23h-15.9zM1121.21 2358.45h15.9v25.75h-15.9zM1147.98 2364.15h15.9v20.05h-15.9zM1174.75 2365.62h15.9v18.58h-15.9zM1201.51 2365.83h15.9v18.37h-15.9zM1228.27 2367.1h15.9v17.1h-15.9zM1255.04 2368.58h15.9v15.62h-15.9zM1281.81 2369h15.9v15.2h-15.9zM1308.57 2370.06h15.9v14.14h-15.9zM1335.34 2371.53h15.9v12.67h-15.9zM1362.1 2373.22h15.9v10.98h-15.9zM1388.87 2375.12h15.9v9.08h-15.9zM1415.63 2376.39h15.9v7.81h-15.9zM1442.39 2377.02h15.9v7.18h-15.9zM1469.16 2377.23h15.9v6.97h-15.9zM1495.92 2377.66h15.9v6.54h-15.9zM1522.69 2378.29h15.9v5.91h-15.9zM1549.46 2378.71h15.9v5.49h-15.9zM1576.22 2378.92h15.9v5.28h-15.9zM1602.98 2379.13h15.9v5.07h-15.9z" fill="#3b3b3b"/>
<path d="M540.6 1684V2396" stroke="#555" stroke-width="1.1" fill="none"/>
<path d="M536.6 2384.2H1637.4" stroke="#111" stroke-width="1.8" fill="none"/>
<text transform="translate(531.4 2387.4)" font-size="16" text-anchor="end" fill="#4d4d4d">0</text>
<text transform="translate(534.2 2176.3)" font-size="16" text-anchor="end" fill="#4d4d4d">1000</text>
<text transform="translate(534.2 1965.2)" font-size="16" text-anchor="end" fill="#4d4d4d">2000</text>
<text transform="translate(534.2 1754.1)" font-size="16" text-anchor="end" fill="#4d4d4d">3000</text>
<path d="M536.6 2384.2h4M536.6 2173.1h4M536.6 1962h4M536.6 1750.9h4" stroke="#333" stroke-width="1.2" fill="none"/>
<text transform="translate(468.9 2053.8) rotate(-90)" font-size="24.7" text-anchor="middle">Intersection Size</text>
<rect x="540.6" y="2421.16" width="1096.8" height="19.52" fill="#f7f7f7"/>
<rect x="540.6" y="2460.2" width="1096.8" height="19.52" fill="#f7f7f7"/>
<rect x="540.6" y="2499.24" width="1096.8" height="19.52" fill="#f7f7f7"/>
<rect x="540.6" y="2538.28" width="1096.8" height="19.52" fill="#f7f7f7"/>
<rect x="540.6" y="2577.32" width="1096.8" height="19.52" fill="#f7f7f7"/>
<rect x="540.6" y="2616.36" width="1096.8" height="19.52" fill="#f7f7f7"/>
<rect x="540.6" y="2655.4" width="1096.8" height="19.52" fill="#f7f7f7"/>
<g fill="#e5e5e5"><circle cx="567.1" cy="2411.4" r="3.5"/><circle cx="567.1" cy="2430.92" r="3.5"/><circle cx="567.1" cy="2450.44" r="3.5"/><circle cx="567.1" cy="2469.96" r="3.5"/><circle cx="567.1" cy="2489.48" r="3.5"/><circle cx="567.1" cy="2509" r="3.5"/><circle cx="567.1" cy="2528.52" r="3.5"/><circle cx="567.1" cy="2548.04" r="3.5"/><circle cx="567.1" cy="2587.08" r="3.5"/><circle cx="567.1" cy="2606.6" r="3.5"/><circle cx="567.1" cy="2626.12" r="3.5"/><circle cx="567.1" cy="2645.64" r="3.5"/><circle cx="567.1" cy="2665.16" r="3.5"/><circle cx="593.87" cy="2411.4" r="3.5"/><circle cx="593.87" cy="2430.92" r="3.5"/><circle cx="593.87" cy="2450.44" r="3.5"/><circle cx="593.87" cy="2469.96" r="3.5"/><circle cx="593.87" cy="2489.48" r="3.5"/><circle cx="593.87" cy="2509" r="3.5"/><circle cx="593.87" cy="2528.52" r="3.5"/><circle cx="593.87" cy="2567.56" r="3.5"/><circle cx="593.87" cy="2587.08" r="3.5"/><circle cx="593.87" cy="2606.6" r="3.5"/><circle cx="593.87" cy="2626.12" r="3.5"/><circle cx="593.87" cy="2645.64" r="3.5"/><circle cx="593.87" cy="2665.16" r="3.5"/><circle cx="620.63" cy="2411.4" r="3.5"/><circle cx="620.63" cy="2450.44" r="3.5"/><circle cx="620.63" cy="2469.96" r="3.5"/><circle cx="620.63" cy="2489.48" r="3.5"/><circle cx="620.63" cy="2509" r="3.5"/><circle cx="620.63" cy="2528.52" r="3.5"/><circle cx="620.63" cy="2548.04" r="3.5"/><circle cx="620.63" cy="2567.56" r="3.5"/><circle cx="620.63" cy="2587.08" r="3.5"/><circle cx="620.63" cy="2606.6" r="3.5"/><circle cx="620.63" cy="2626.12" r="3.5"/><circle cx="620.63" cy="2645.64" r="3.5"/><circle cx="620.63" cy="2665.16" r="3.5"/><circle cx="647.39" cy="2430.92" r="3.5"/><circle cx="647.39" cy="2450.44" r="3.5"/><circle cx="647.39" cy="2469.96" r="3.5"/><circle cx="647.39" cy="2489.48" r="3.5"/><circle cx="647.39" cy="2509" r="3.5"/><circle cx="647.39" cy="2528.52" r="3.5"/><circle cx="647.39" cy="2548.04" r="3.5"/><circle cx="647.39" cy="2567.56" r="3.5"/><circle cx="647.39" cy="2587.08" r="3.5"/><circle cx="647.39" cy="2606.6" r="3.5"/><circle cx="647.39" cy="2626.12" r="3.5"/><circle cx="647.39" cy="2645.64" r="3.5"/><circle cx="647.39" cy="2665.16" r="3.5"/><circle cx="674.16" cy="2411.4" r="3.5"/><circle cx="674.16" cy="2430.92" r="3.5"/><circle cx="674.16" cy="2450.44" r="3.5"/><circle cx="674.16" cy="2469.96" r="3.5"/><circle cx="674.16" cy="2489.48" r="3.5"/><circle cx="674.16" cy="2509" r="3.5"/><circle cx="674.16" cy="2528.52" r="3.5"/><circle cx="674.16" cy="2548.04" r="3.5"/><circle cx="674.16" cy="2567.56" r="3.5"/><circle cx="674.16" cy="2587.08" r="3.5"/><circle cx="674.16" cy="2606.6" r="3.5"/><circle cx="674.16" cy="2626.12" r="3.5"/><circle cx="674.16" cy="2645.64" r="3.5"/><circle cx="700.92" cy="2411.4" r="3.5"/><circle cx="700.92" cy="2430.92" r="3.5"/><circle cx="700.92" cy="2450.44" r="3.5"/><circle cx="700.92" cy="2469.96" r="3.5"/><circle cx="700.92" cy="2489.48" r="3.5"/><circle cx="700.92" cy="2509" r="3.5"/><circle cx="700.92" cy="2528.52" r="3.5"/><circle cx="700.92" cy="2587.08" r="3.5"/><circle cx="700.92" cy="2606.6" r="3.5"/><circle cx="700.92" cy="2626.12" r="3.5"/><circle cx="700.92" cy="2645.64" r="3.5"/><circle cx="700.92" cy="2665.16" r="3.5"/><circle cx="727.69" cy="2450.44" r="3.5"/><circle cx="727.69" cy="2469.96" r="3.5"/><circle cx="727.69" cy="2489.48" r="3.5"/><circle cx="727.69" cy="2509" r="3.5"/><circle cx="727.69" cy="2528.52" r="3.5"/><circle cx="727.69" cy="2548.04" r="3.5"/><circle cx="727.69" cy="2567.56" r="3.5"/><circle cx="727.69" cy="2587.08" r="3.5"/><circle cx="727.69" cy="2606.6" r="3.5"/><circle cx="727.69" cy="2626.12" r="3.5"/><circle cx="727.69" cy="2645.64" r="3.5"/><circle cx="727.69" cy="2665.16" r="3.5"/><circle cx="754.46" cy="2411.4" r="3.5"/><circle cx="754.46" cy="2430.92" r="3.5"/><circle cx="754.46" cy="2450.44" r="3.5"/><circle cx="754.46" cy="2469.96" r="3.5"/><circle cx="754.46" cy="2489.48" r="3.5"/><circle cx="754.46" cy="2509" r="3.5"/><circle cx="754.46" cy="2528.52" r="3.5"/><circle cx="754.46" cy="2548.04" r="3.5"/><circle cx="754.46" cy="2567.56" r="3.5"/><circle cx="754.46" cy="2606.6" r="3.5"/><circle cx="754.46" cy="2626.12" r="3.5"/><circle cx="754.46" cy="2645.64" r="3.5"/><circle cx="754.46" cy="2665.16" r="3.5"/><circle cx="781.22" cy="2411.4" r="3.5"/><circle cx="781.22" cy="2430.92" r="3.5"/><circle cx="781.22" cy="2450.44" r="3.5"/><circle cx="781.22" cy="2469.96" r="3.5"/><circle cx="781.22" cy="2489.48" r="3.5"/><circle cx="781.22" cy="2509" r="3.5"/><circle cx="781.22" cy="2528.52" r="3.5"/><circle cx="781.22" cy="2606.6" r="3.5"/><circle cx="781.22" cy="2626.12" r="3.5"/><circle cx="781.22" cy="2645.64" r="3.5"/><circle cx="781.22" cy="2665.16" r="3.5"/><circle cx="807.99" cy="2411.4" r="3.5"/><circle cx="807.99" cy="2430.92" r="3.5"/><circle cx="807.99" cy="2450.44" r="3.5"/><circle cx="807.99" cy="2469.96" r="3.5"/><circle cx="807.99" cy="2489.48" r="3.5"/><circle cx="807.99" cy="2509" r="3.5"/><circle cx="807.99" cy="2528.52" r="3.5"/><circle cx="807.99" cy="2548.04" r="3.5"/><circle cx="807.99" cy="2606.6" r="3.5"/><circle cx="807.99" cy="2626.12" r="3.5"/><circle cx="807.99" cy="2645.64" r="3.5"/><circle cx="807.99" cy="2665.16" r="3.5"/><circle cx="834.75" cy="2411.4" r="3.5"/><circle cx="834.75" cy="2430.92" r="3.5"/><circle cx="834.75" cy="2450.44" r="3.5"/><circle cx="834.75" cy="2469.96" r="3.5"/><circle cx="834.75" cy="2489.48" r="3.5"/><circle cx="834.75" cy="2509" r="3.5"/><circle cx="834.75" cy="2548.04" r="3.5"/><circle cx="834.75" cy="2567.56" r="3.5"/><circle cx="834.75" cy="2587.08" r="3.5"/><circle cx="834.75" cy="2606.6" r="3.5"/><circle cx="834.75" cy="2626.12" r="3.5"/><circle cx="834.75" cy="2645.64" r="3.5"/><circle cx="834.75" cy="2665.16" r="3.5"/><circle cx="861.52" cy="2411.4" r="3.5"/><circle cx="861.52" cy="2430.92" r="3.5"/><circle cx="861.52" cy="2450.44" r="3.5"/><circle cx="861.52" cy="2469.96" r="3.5"/><circle cx="861.52" cy="2489.48" r="3.5"/><circle cx="861.52" cy="2509" r="3.5"/><circle cx="861.52" cy="2528.52" r="3.5"/><circle cx="861.52" cy="2606.6" r="3.5"/><circle cx="861.52" cy="2626.12" r="3.5"/><circle cx="861.52" cy="2645.64" r="3.5"/><circle cx="888.28" cy="2411.4" r="3.5"/><circle cx="888.28" cy="2430.92" r="3.5"/><circle cx="888.28" cy="2450.44" r="3.5"/><circle cx="888.28" cy="2469.96" r="3.5"/><circle cx="888.28" cy="2489.48" r="3.5"/><circle cx="888.28" cy="2509" r="3.5"/><circle cx="888.28" cy="2528.52" r="3.5"/><circle cx="888.28" cy="2548.04" r="3.5"/><circle cx="888.28" cy="2567.56" r="3.5"/><circle cx="888.28" cy="2606.6" r="3.5"/><circle cx="888.28" cy="2626.12" r="3.5"/><circle cx="888.28" cy="2645.64" r="3.5"/><circle cx="915.05" cy="2411.4" r="3.5"/><circle cx="915.05" cy="2430.92" r="3.5"/><circle cx="915.05" cy="2450.44" r="3.5"/><circle cx="915.05" cy="2469.96" r="3.5"/><circle cx="915.05" cy="2489.48" r="3.5"/><circle cx="915.05" cy="2509" r="3.5"/><circle cx="915.05" cy="2528.52" r="3.5"/><circle cx="915.05" cy="2548.04" r="3.5"/><circle cx="915.05" cy="2606.6" r="3.5"/><circle cx="915.05" cy="2626.12" r="3.5"/><circle cx="915.05" cy="2645.64" r="3.5"/><circle cx="941.81" cy="2411.4" r="3.5"/><circle cx="941.81" cy="2430.92" r="3.5"/><circle cx="941.81" cy="2469.96" r="3.5"/><circle cx="941.81" cy="2489.48" r="3.5"/><circle cx="941.81" cy="2509" r="3.5"/><circle cx="941.81" cy="2528.52" r="3.5"/><circle cx="941.81" cy="2548.04" r="3.5"/><circle cx="941.81" cy="2567.56" r="3.5"/><circle cx="941.81" cy="2587.08" r="3.5"/><circle cx="941.81" cy="2606.6" r="3.5"/><circle cx="941.81" cy="2626.12" r="3.5"/><circle cx="941.81" cy="2645.64" r="3.5"/><circle cx="941.81" cy="2665.16" r="3.5"/><circle cx="968.58" cy="2411.4" r="3.5"/><circle cx="968.58" cy="2430.92" r="3.5"/><circle cx="968.58" cy="2450.44" r="3.5"/><circle cx="968.58" cy="2469.96" r="3.5"/><circle cx="968.58" cy="2489.48" r="3.5"/><circle cx="968.58" cy="2509" r="3.5"/><circle cx="968.58" cy="2528.52" r="3.5"/><circle cx="968.58" cy="2587.08" r="3.5"/><circle cx="968.58" cy="2606.6" r="3.5"/><circle cx="968.58" cy="2626.12" r="3.5"/><circle cx="968.58" cy="2645.64" r="3.5"/><circle cx="995.34" cy="2411.4" r="3.5"/><circle cx="995.34" cy="2430.92" r="3.5"/><circle cx="995.34" cy="2450.44" r="3.5"/><circle cx="995.34" cy="2469.96" r="3.5"/><circle cx="995.34" cy="2489.48" r="3.5"/><circle cx="995.34" cy="2509" r="3.5"/><circle cx="995.34" cy="2528.52" r="3.5"/><circle cx="995.34" cy="2567.56" r="3.5"/><circle cx="995.34" cy="2606.6" r="3.5"/><circle cx="995.34" cy="2626.12" r="3.5"/><circle cx="995.34" cy="2645.64" r="3.5"/><circle cx="995.34" cy="2665.16" r="3.5"/><circle cx="1022.11" cy="2411.4" r="3.5"/><circle cx="1022.11" cy="2430.92" r="3.5"/><circle cx="1022.11" cy="2450.44" r="3.5"/><circle cx="1022.11" cy="2469.96" r="3.5"/><circle cx="1022.11" cy="2489.48" r="3.5"/><circle cx="1022.11" cy="2509" r="3.5"/><circle cx="1022.11" cy="2528.52" r="3.5"/><circle cx="1022.11" cy="2567.56" r="3.5"/><circle cx="1022.11" cy="2587.08" r="3.5"/><circle cx="1022.11" cy="2606.6" r="3.5"/><circle cx="1022.11" cy="2626.12" r="3.5"/><circle cx="1022.11" cy="2645.64" r="3.5"/><circle cx="1048.87" cy="2411.4" r="3.5"/><circle cx="1048.87" cy="2430.92" r="3.5"/><circle cx="1048.87" cy="2450.44" r="3.5"/><circle cx="1048.87" cy="2469.96" r="3.5"/><circle cx="1048.87" cy="2489.48" r="3.5"/><circle cx="1048.87" cy="2509" r="3.5"/><circle cx="1048.87" cy="2528.52" r="3.5"/><circle cx="1048.87" cy="2548.04" r="3.5"/><circle cx="1048.87" cy="2587.08" r="3.5"/><circle cx="1048.87" cy="2606.6" r="3.5"/><circle cx="1048.87" cy="2626.12" r="3.5"/><circle cx="1048.87" cy="2645.64" r="3.5"/><circle cx="1075.63" cy="2411.4" r="3.5"/><circle cx="1075.63" cy="2430.92" r="3.5"/><circle cx="1075.63" cy="2450.44" r="3.5"/><circle cx="1075.63" cy="2469.96" r="3.5"/><circle cx="1075.63" cy="2489.48" r="3.5"/><circle cx="1075.63" cy="2509" r="3.5"/><circle cx="1075.63" cy="2528.52" r="3.5"/><circle cx="1075.63" cy="2626.12" r="3.5"/><circle cx="1075.63" cy="2645.64" r="3.5"/><circle cx="1102.4" cy="2411.4" r="3.5"/><circle cx="1102.4" cy="2430.92" r="3.5"/><circle cx="1102.4" cy="2450.44" r="3.5"/><circle cx="1102.4" cy="2469.96" r="3.5"/><circle cx="1102.4" cy="2489.48" r="3.5"/><circle cx="1102.4" cy="2509" r="3.5"/><circle cx="1102.4" cy="2528.52" r="3.5"/><circle cx="1102.4" cy="2626.12" r="3.5"/><circle cx="1102.4" cy="2645.64" r="3.5"/><circle cx="1102.4" cy="2665.16" r="3.5"/><circle cx="1129.16" cy="2411.4" r="3.5"/><circle cx="1129.16" cy="2469.96" r="3.5"/><circle cx="1129.16" cy="2489.48" r="3.5"/><circle cx="1129.16" cy="2509" r="3.5"/><circle cx="1129.16" cy="2528.52" r="3.5"/><circle cx="1129.16" cy="2548.04" r="3.5"/><circle cx="1129.16" cy="2567.56" r="3.5"/><circle cx="1129.16" cy="2587.08" r="3.5"/><circle cx="1129.16" cy="2606.6" r="3.5"/><circle cx="1129.16" cy="2626.12" r="3.5"/><circle cx="1129.16" cy="2645.64" r="3.5"/><circle cx="1129.16" cy="2665.16" r="3.5"/><circle cx="1155.93" cy="2411.4" r="3.5"/><circle cx="1155.93" cy="2430.92" r="3.5"/><circle cx="1155.93" cy="2450.44" r="3.5"/><circle cx="1155.93" cy="2469.96" r="3.5"/><circle cx="1155.93" cy="2489.48" r="3.5"/><circle cx="1155.93" cy="2509" r="3.5"/><circle cx="1155.93" cy="2528.52" r="3.5"/><circle cx="1155.93" cy="2548.04" r="3.5"/><circle cx="1155.93" cy="2567.56" r="3.5"/><circle cx="1155.93" cy="2587.08" r="3.5"/><circle cx="1155.93" cy="2606.6" r="3.5"/><circle cx="1155.93" cy="2645.64" r="3.5"/><circle cx="1155.93" cy="2665.16" r="3.5"/><circle cx="1182.7" cy="2411.4" r="3.5"/><circle cx="1182.7" cy="2430.92" r="3.5"/><circle cx="1182.7" cy="2450.44" r="3.5"/><circle cx="1182.7" cy="2489.48" r="3.5"/><circle cx="1182.7" cy="2509" r="3.5"/><circle cx="1182.7" cy="2528.52" r="3.5"/><circle cx="1182.7" cy="2548.04" r="3.5"/><circle cx="1182.7" cy="2567.56" r="3.5"/><circle cx="1182.7" cy="2587.08" r="3.5"/><circle cx="1182.7" cy="2606.6" r="3.5"/><circle cx="1182.7" cy="2626.12" r="3.5"/><circle cx="1182.7" cy="2645.64" r="3.5"/><circle cx="1182.7" cy="2665.16" r="3.5"/><circle cx="1209.46" cy="2469.96" r="3.5"/><circle cx="1209.46" cy="2489.48" r="3.5"/><circle cx="1209.46" cy="2509" r="3.5"/><circle cx="1209.46" cy="2528.52" r="3.5"/><circle cx="1209.46" cy="2548.04" r="3.5"/><circle cx="1209.46" cy="2567.56" r="3.5"/><circle cx="1209.46" cy="2587.08" r="3.5"/><circle cx="1209.46" cy="2606.6" r="3.5"/><circle cx="1209.46" cy="2626.12" r="3.5"/><circle cx="1209.46" cy="2645.64" r="3.5"/><circle cx="1209.46" cy="2665.16" r="3.5"/><circle cx="1236.22" cy="2411.4" r="3.5"/><circle cx="1236.22" cy="2430.92" r="3.5"/><circle cx="1236.22" cy="2450.44" r="3.5"/><circle cx="1236.22" cy="2469.96" r="3.5"/><circle cx="1236.22" cy="2489.48" r="3.5"/><circle cx="1236.22" cy="2509" r="3.5"/><circle cx="1236.22" cy="2528.52" r="3.5"/><circle cx="1236.22" cy="2548.04" r="3.5"/><circle cx="1236.22" cy="2567.56" r="3.5"/><circle cx="1236.22" cy="2587.08" r="3.5"/><circle cx="1236.22" cy="2626.12" r="3.5"/><circle cx="1236.22" cy="2645.64" r="3.5"/><circle cx="1236.22" cy="2665.16" r="3.5"/><circle cx="1262.99" cy="2411.4" r="3.5"/><circle cx="1262.99" cy="2430.92" r="3.5"/><circle cx="1262.99" cy="2450.44" r="3.5"/><circle cx="1262.99" cy="2469.96" r="3.5"/><circle cx="1262.99" cy="2489.48" r="3.5"/><circle cx="1262.99" cy="2509" r="3.5"/><circle cx="1262.99" cy="2528.52" r="3.5"/><circle cx="1262.99" cy="2567.56" r="3.5"/><circle cx="1262.99" cy="2606.6" r="3.5"/><circle cx="1262.99" cy="2626.12" r="3.5"/><circle cx="1262.99" cy="2645.64" r="3.5"/><circle cx="1289.76" cy="2411.4" r="3.5"/><circle cx="1289.76" cy="2430.92" r="3.5"/><circle cx="1289.76" cy="2450.44" r="3.5"/><circle cx="1289.76" cy="2469.96" r="3.5"/><circle cx="1289.76" cy="2489.48" r="3.5"/><circle cx="1289.76" cy="2509" r="3.5"/><circle cx="1289.76" cy="2528.52" r="3.5"/><circle cx="1289.76" cy="2606.6" r="3.5"/><circle cx="1289.76" cy="2645.64" r="3.5"/><circle cx="1316.52" cy="2411.4" r="3.5"/><circle cx="1316.52" cy="2430.92" r="3.5"/><circle cx="1316.52" cy="2450.44" r="3.5"/><circle cx="1316.52" cy="2469.96" r="3.5"/><circle cx="1316.52" cy="2489.48" r="3.5"/><circle cx="1316.52" cy="2509" r="3.5"/><circle cx="1316.52" cy="2528.52" r="3.5"/><circle cx="1316.52" cy="2548.04" r="3.5"/><circle cx="1316.52" cy="2567.56" r="3.5"/><circle cx="1316.52" cy="2587.08" r="3.5"/><circle cx="1316.52" cy="2626.12" r="3.5"/><circle cx="1316.52" cy="2645.64" r="3.5"/><circle cx="1343.29" cy="2411.4" r="3.5"/><circle cx="1343.29" cy="2430.92" r="3.5"/><circle cx="1343.29" cy="2450.44" r="3.5"/><circle cx="1343.29" cy="2469.96" r="3.5"/><circle cx="1343.29" cy="2489.48" r="3.5"/><circle cx="1343.29" cy="2509" r="3.5"/><circle cx="1343.29" cy="2528.52" r="3.5"/><circle cx="1343.29" cy="2645.64" r="3.5"/><circle cx="1370.05" cy="2411.4" r="3.5"/><circle cx="1370.05" cy="2430.92" r="3.5"/><circle cx="1370.05" cy="2450.44" r="3.5"/><circle cx="1370.05" cy="2469.96" r="3.5"/><circle cx="1370.05" cy="2489.48" r="3.5"/><circle cx="1370.05" cy="2509" r="3.5"/><circle cx="1370.05" cy="2528.52" r="3.5"/><circle cx="1370.05" cy="2548.04" r="3.5"/><circle cx="1370.05" cy="2626.12" r="3.5"/><circle cx="1370.05" cy="2645.64" r="3.5"/><circle cx="1396.82" cy="2411.4" r="3.5"/><circle cx="1396.82" cy="2430.92" r="3.5"/><circle cx="1396.82" cy="2450.44" r="3.5"/><circle cx="1396.82" cy="2469.96" r="3.5"/><circle cx="1396.82" cy="2489.48" r="3.5"/><circle cx="1396.82" cy="2509" r="3.5"/><circle cx="1396.82" cy="2528.52" r="3.5"/><circle cx="1396.82" cy="2548.04" r="3.5"/><circle cx="1396.82" cy="2567.56" r="3.5"/><circle cx="1396.82" cy="2626.12" r="3.5"/><circle cx="1396.82" cy="2645.64" r="3.5"/><circle cx="1423.58" cy="2411.4" r="3.5"/><circle cx="1423.58" cy="2450.44" r="3.5"/><circle cx="1423.58" cy="2469.96" r="3.5"/><circle cx="1423.58" cy="2489.48" r="3.5"/><circle cx="1423.58" cy="2509" r="3.5"/><circle cx="1423.58" cy="2548.04" r="3.5"/><circle cx="1423.58" cy="2567.56" r="3.5"/><circle cx="1423.58" cy="2587.08" r="3.5"/><circle cx="1423.58" cy="2606.6" r="3.5"/><circle cx="1423.58" cy="2626.12" r="3.5"/><circle cx="1423.58" cy="2645.64" r="3.5"/><circle cx="1423.58" cy="2665.16" r="3.5"/><circle cx="1450.35" cy="2411.4" r="3.5"/><circle cx="1450.35" cy="2430.92" r="3.5"/><circle cx="1450.35" cy="2450.44" r="3.5"/><circle cx="1450.35" cy="2469.96" r="3.5"/><circle cx="1450.35" cy="2489.48" r="3.5"/><circle cx="1450.35" cy="2509" r="3.5"/><circle cx="1450.35" cy="2528.52" r="3.5"/><circle cx="1450.35" cy="2567.56" r="3.5"/><circle cx="1450.35" cy="2626.12" r="3.5"/><circle cx="1450.35" cy="2645.64" r="3.5"/><circle cx="1477.11" cy="2411.4" r="3.5"/><circle cx="1477.11" cy="2430.92" r="3.5"/><circle cx="1477.11" cy="2450.44" r="3.5"/><circle cx="1477.11" cy="2469.96" r="3.5"/><circle cx="1477.11" cy="2489.48" r="3.5"/><circle cx="1477.11" cy="2509" r="3.5"/><circle cx="1477.11" cy="2528.52" r="3.5"/><circle cx="1477.11" cy="2548.04" r="3.5"/><circle cx="1477.11" cy="2567.56" r="3.5"/><circle cx="1477.11" cy="2626.12" r="3.5"/><circle cx="1477.11" cy="2645.64" r="3.5"/><circle cx="1477.11" cy="2665.16" r="3.5"/><circle cx="1503.88" cy="2411.4" r="3.5"/><circle cx="1503.88" cy="2430.92" r="3.5"/><circle cx="1503.88" cy="2450.44" r="3.5"/><circle cx="1503.88" cy="2469.96" r="3.5"/><circle cx="1503.88" cy="2489.48" r="3.5"/><circle cx="1503.88" cy="2509" r="3.5"/><circle cx="1503.88" cy="2528.52" r="3.5"/><circle cx="1503.88" cy="2587.08" r="3.5"/><circle cx="1503.88" cy="2626.12" r="3.5"/><circle cx="1503.88" cy="2645.64" r="3.5"/><circle cx="1530.64" cy="2411.4" r="3.5"/><circle cx="1530.64" cy="2430.92" r="3.5"/><circle cx="1530.64" cy="2450.44" r="3.5"/><circle cx="1530.64" cy="2469.96" r="3.5"/><circle cx="1530.64" cy="2489.48" r="3.5"/><circle cx="1530.64" cy="2509" r="3.5"/><circle cx="1530.64" cy="2528.52" r="3.5"/><circle cx="1530.64" cy="2567.56" r="3.5"/><circle cx="1530.64" cy="2587.08" r="3.5"/><circle cx="1530.64" cy="2626.12" r="3.5"/><circle cx="1530.64" cy="2645.64" r="3.5"/><circle cx="1557.41" cy="2411.4" r="3.5"/><circle cx="1557.41" cy="2430.92" r="3.5"/><circle cx="1557.41" cy="2450.44" r="3.5"/><circle cx="1557.41" cy="2469.96" r="3.5"/><circle cx="1557.41" cy="2489.48" r="3.5"/><circle cx="1557.41" cy="2509" r="3.5"/><circle cx="1557.41" cy="2528.52" r="3.5"/><circle cx="1557.41" cy="2567.56" r="3.5"/><circle cx="1557.41" cy="2587.08" r="3.5"/><circle cx="1557.41" cy="2626.12" r="3.5"/><circle cx="1557.41" cy="2645.64" r="3.5"/><circle cx="1557.41" cy="2665.16" r="3.5"/><circle cx="1584.17" cy="2411.4" r="3.5"/><circle cx="1584.17" cy="2430.92" r="3.5"/><circle cx="1584.17" cy="2450.44" r="3.5"/><circle cx="1584.17" cy="2469.96" r="3.5"/><circle cx="1584.17" cy="2489.48" r="3.5"/><circle cx="1584.17" cy="2509" r="3.5"/><circle cx="1584.17" cy="2528.52" r="3.5"/><circle cx="1584.17" cy="2567.56" r="3.5"/><circle cx="1584.17" cy="2587.08" r="3.5"/><circle cx="1584.17" cy="2606.6" r="3.5"/><circle cx="1584.17" cy="2645.64" r="3.5"/><circle cx="1584.17" cy="2665.16" r="3.5"/><circle cx="1610.93" cy="2430.92" r="3.5"/><circle cx="1610.93" cy="2469.96" r="3.5"/><circle cx="1610.93" cy="2489.48" r="3.5"/><circle cx="1610.93" cy="2509" r="3.5"/><circle cx="1610.93" cy="2528.52" r="3.5"/><circle cx="1610.93" cy="2548.04" r="3.5"/><circle cx="1610.93" cy="2567.56" r="3.5"/><circle cx="1610.93" cy="2587.08" r="3.5"/><circle cx="1610.93" cy="2606.6" r="3.5"/><circle cx="1610.93" cy="2626.12" r="3.5"/><circle cx="1610.93" cy="2645.64" r="3.5"/><circle cx="1610.93" cy="2665.16" r="3.5"/></g>
<path d="M700.92 2548.04V2567.56M727.69 2411.4V2430.92M781.22 2548.04V2587.08M807.99 2567.56V2587.08M861.52 2548.04V2665.16M888.28 2587.08V2665.16M915.05 2567.56V2665.16M968.58 2548.04V2665.16M995.34 2548.04V2587.08M1022.11 2548.04V2665.16M1048.87 2567.56V2665.16M1075.63 2548.04V2665.16M1102.4 2548.04V2606.6M1129.16 2430.92V2450.44M1209.46 2411.4V2450.44M1262.99 2548.04V2665.16M1289.76 2548.04V2665.16M1316.52 2606.6V2665.16M1343.29 2548.04V2665.16M1370.05 2567.56V2665.16M1396.82 2587.08V2665.16M1423.58 2430.92V2528.52M1450.35 2548.04V2665.16M1477.11 2587.08V2606.6M1503.88 2548.04V2665.16M1530.64 2548.04V2665.16M1557.41 2548.04V2606.6M1584.17 2548.04V2626.12M1610.93 2411.4V2450.44" stroke="#3b3b3b" stroke-width="2" fill="none"/>
<g fill="#3b3b3b"><circle cx="567.1" cy="2567.56" r="3.8"/><circle cx="593.87" cy="2548.04" r="3.8"/><circle cx="620.63" cy="2430.92" r="3.8"/><circle cx="647.39" cy="2411.4" r="3.8"/><circle cx="674.16" cy="2665.16" r="3.8"/><circle cx="700.92" cy="2548.04" r="3.8"/><circle cx="700.92" cy="2567.56" r="3.8"/><circle cx="727.69" cy="2411.4" r="3.8"/><circle cx="727.69" cy="2430.92" r="3.8"/><circle cx="754.46" cy="2587.08" r="3.8"/><circle cx="781.22" cy="2548.04" r="3.8"/><circle cx="781.22" cy="2567.56" r="3.8"/><circle cx="781.22" cy="2587.08" r="3.8"/><circle cx="807.99" cy="2567.56" r="3.8"/><circle cx="807.99" cy="2587.08" r="3.8"/><circle cx="834.75" cy="2528.52" r="3.8"/><circle cx="861.52" cy="2548.04" r="3.8"/><circle cx="861.52" cy="2567.56" r="3.8"/><circle cx="861.52" cy="2587.08" r="3.8"/><circle cx="861.52" cy="2665.16" r="3.8"/><circle cx="888.28" cy="2587.08" r="3.8"/><circle cx="888.28" cy="2665.16" r="3.8"/><circle cx="915.05" cy="2567.56" r="3.8"/><circle cx="915.05" cy="2587.08" r="3.8"/><circle cx="915.05" cy="2665.16" r="3.8"/><circle cx="941.81" cy="2450.44" r="3.8"/><circle cx="968.58" cy="2548.04" r="3.8"/><circle cx="968.58" cy="2567.56" r="3.8"/><circle cx="968.58" cy="2665.16" r="3.8"/><circle cx="995.34" cy="2548.04" r="3.8"/><circle cx="995.34" cy="2587.08" r="3.8"/><circle cx="1022.11" cy="2548.04" r="3.8"/><circle cx="1022.11" cy="2665.16" r="3.8"/><circle cx="1048.87" cy="2567.56" r="3.8"/><circle cx="1048.87" cy="2665.16" r="3.8"/><circle cx="1075.63" cy="2548.04" r="3.8"/><circle cx="1075.63" cy="2567.56" r="3.8"/><circle cx="1075.63" cy="2587.08" r="3.8"/><circle cx="1075.63" cy="2606.6" r="3.8"/><circle cx="1075.63" cy="2665.16" r="3.8"/><circle cx="1102.4" cy="2548.04" r="3.8"/><circle cx="1102.4" cy="2567.56" r="3.8"/><circle cx="1102.4" cy="2587.08" r="3.8"/><circle cx="1102.4" cy="2606.6" r="3.8"/><circle cx="1129.16" cy="2430.92" r="3.8"/><circle cx="1129.16" cy="2450.44" r="3.8"/><circle cx="1155.93" cy="2626.12" r="3.8"/><circle cx="1182.7" cy="2469.96" r="3.8"/><circle cx="1209.46" cy="2411.4" r="3.8"/><circle cx="1209.46" cy="2430.92" r="3.8"/><circle cx="1209.46" cy="2450.44" r="3.8"/><circle cx="1236.22" cy="2606.6" r="3.8"/><circle cx="1262.99" cy="2548.04" r="3.8"/><circle cx="1262.99" cy="2587.08" r="3.8"/><circle cx="1262.99" cy="2665.16" r="3.8"/><circle cx="1289.76" cy="2548.04" r="3.8"/><circle cx="1289.76" cy="2567.56" r="3.8"/><circle cx="1289.76" cy="2587.08" r="3.8"/><circle cx="1289.76" cy="2626.12" r="3.8"/><circle cx="1289.76" cy="2665.16" r="3.8"/><circle cx="1316.52" cy="2606.6" r="3.8"/><circle cx="1316.52" cy="2665.16" r="3.8"/><circle cx="1343.29" cy="2548.04" r="3.8"/><circle cx="1343.29" cy="2567.56" r="3.8"/><circle cx="1343.29" cy="2587.08" r="3.8"/><circle cx="1343.29" cy="2606.6" r="3.8"/><circle cx="1343.29" cy="2626.12" r="3.8"/><circle cx="1343.29" cy="2665.16" r="3.8"/><circle cx="1370.05" cy="2567.56" r="3.8"/><circle cx="1370.05" cy="2587.08" r="3.8"/><circle cx="1370.05" cy="2606.6" r="3.8"/><circle cx="1370.05" cy="2665.16" r="3.8"/><circle cx="1396.82" cy="2587.08" r="3.8"/><circle cx="1396.82" cy="2606.6" r="3.8"/><circle cx="1396.82" cy="2665.16" r="3.8"/><circle cx="1423.58" cy="2430.92" r="3.8"/><circle cx="1423.58" cy="2528.52" r="3.8"/><circle cx="1450.35" cy="2548.04" r="3.8"/><circle cx="1450.35" cy="2587.08" r="3.8"/><circle cx="1450.35" cy="2606.6" r="3.8"/><circle cx="1450.35" cy="2665.16" r="3.8"/><circle cx="1477.11" cy="2587.08" r="3.8"/><circle cx="1477.11" cy="2606.6" r="3.8"/><circle cx="1503.88" cy="2548.04" r="3.8"/><circle cx="1503.88" cy="2567.56" r="3.8"/><circle cx="1503.88" cy="2606.6" r="3.8"/><circle cx="1503.88" cy="2665.16" r="3.8"/><circle cx="1530.64" cy="2548.04" r="3.8"/><circle cx="1530.64" cy="2606.6" r="3.8"/><circle cx="1530.64" cy="2665.16" r="3.8"/><circle cx="1557.41" cy="2548.04" r="3.8"/><circle cx="1557.41" cy="2606.6" r="3.8"/><circle cx="1584.17" cy="2548.04" r="3.8"/><circle cx="1584.17" cy="2626.12" r="3.8"/><circle cx="1610.93" cy="2411.4" r="3.8"/><circle cx="1610.93" cy="2450.44" r="3.8"/></g>
<text transform="translate(420.6 2415) scale(0.895 1)" font-size="13.8" fill="#111">before L2/3 IT CTX Glut</text>
<text transform="translate(420.6 2434.52) scale(0.895 1)" font-size="13.8" fill="#111">before L4/5 IT CTX Glut</text>
<text transform="translate(420.6 2454.04) scale(0.895 1)" font-size="13.8" fill="#111">before L5 IT CTX Glut</text>
<text transform="translate(420.6 2473.56) scale(0.895 1)" font-size="13.8" fill="#111">before L6 IT CTX Glut</text>
<text transform="translate(420.6 2493.08) scale(0.895 1)" font-size="13.8" fill="#111">before L5 ET CTX Glut</text>
<text transform="translate(420.6 2512.6) scale(0.895 1)" font-size="13.8" fill="#111">before L5 NP CTX Glut</text>
<text transform="translate(420.6 2532.12) scale(0.895 1)" font-size="13.8" fill="#111">before L6 CT CTX Glut</text>
<text transform="translate(420.6 2551.64) scale(0.895 1)" font-size="13.8" fill="#111">after L2/3 IT CTX Glut</text>
<text transform="translate(420.6 2571.16) scale(0.895 1)" font-size="13.8" fill="#111">after L4/5 IT CTX Glut</text>
<text transform="translate(420.6 2590.68) scale(0.895 1)" font-size="13.8" fill="#111">after L5 IT CTX Glut</text>
<text transform="translate(420.6 2610.2) scale(0.895 1)" font-size="13.8" fill="#111">after L6 IT CTX Glut</text>
<text transform="translate(420.6 2629.72) scale(0.895 1)" font-size="13.8" fill="#111">after L5 ET CTX Glut</text>
<text transform="translate(420.6 2649.24) scale(0.895 1)" font-size="13.8" fill="#111">after L5 NP CTX Glut</text>
<text transform="translate(420.6 2668.76) scale(0.895 1)" font-size="13.8" fill="#111">after L6 CT CTX Glut</text>
<path d="M268.6 2407.1H409v8.6H268.6zM258.2 2426.62H409v8.6H258.2zM387.5 2446.14H409v8.6H387.5zM401.6 2465.66H409v8.6H401.6zM406.7 2485.18H409v8.6H406.7zM407.5 2504.7H409v8.6H407.5zM385.7 2524.22H409v8.6H385.7zM138.5 2543.74H409v8.6H138.5zM107.9 2563.26H409v8.6H107.9zM247.5 2582.78H409v8.6H247.5zM369.8 2602.3H409v8.6H369.8zM387.9 2621.82H409v8.6H387.9zM407.5 2641.34H409v8.6H407.5zM229.4 2660.86H409v8.6H229.4z" fill="#3b3b3b"/>
<path d="M94.2 2675H423" stroke="#333" stroke-width="1.5" fill="none"/>
<text transform="translate(143.3 2693.4) scale(0.93 1)" font-size="15.6" text-anchor="middle" fill="#333">6000</text>
<text transform="translate(231.6 2693.4) scale(0.93 1)" font-size="15.6" text-anchor="middle" fill="#333">4000</text>
<text transform="translate(319.9 2693.4) scale(0.93 1)" font-size="15.6" text-anchor="middle" fill="#333">2000</text>
<text transform="translate(405.7 2693.4) scale(0.93 1)" font-size="15.6" text-anchor="middle" fill="#333">0</text>
<path d="M143.3 2675v4M231.6 2675v4M319.9 2675v4M408.2 2675v4" stroke="#333" stroke-width="1.2" fill="none"/>
<text transform="translate(267.6 2711.7) scale(0.935 1)" font-size="17.6" text-anchor="middle">Set Size</text>
</g>
</svg>
</body></html>
